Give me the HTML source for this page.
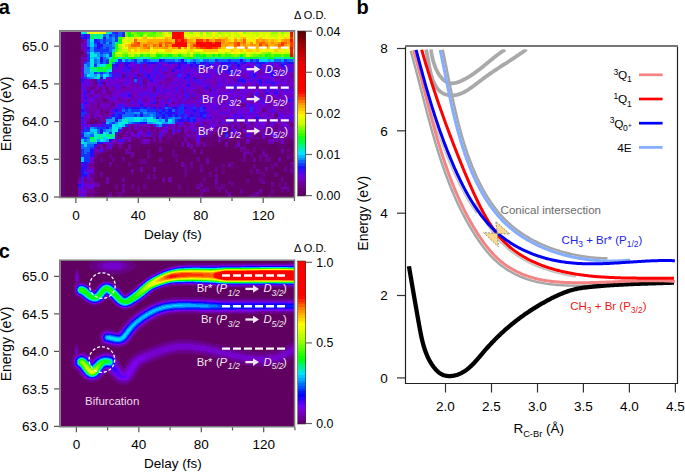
<!DOCTYPE html>
<html><head><meta charset="utf-8"><style>
html,body{margin:0;padding:0;background:#fff;width:685px;height:472px;overflow:hidden;}
svg{display:block;font-family:"Liberation Sans", sans-serif;}
</style></head><body>
<svg width="685" height="472" viewBox="0 0 685 472" font-family='"Liberation Sans", sans-serif'><defs><filter id="bl" x="0" y="0" width="1" height="1"><feGaussianBlur stdDeviation="0.7"/></filter></defs>
<text x="-1.3" y="14" font-size="20" text-anchor="start" fill="#000" font-weight="bold">a</text>
<text x="-1.3" y="258" font-size="20" text-anchor="start" fill="#000" font-weight="bold">c</text>
<text x="356.6" y="14" font-size="20" text-anchor="start" fill="#000" font-weight="bold">b</text>
<rect x="60.5" y="31.5" width="234" height="166" fill="#5e0062"/>
<g filter="url(#bl)"><g shape-rendering="crispEdges">
<path fill="#5e0062" d="M60.5 31.5h1.8v2.5h-1.8zM65.4 31.5h15.6v2.5h-15.6zM60.5 34h1.8v2.5h-1.8zM65.4 34h15.6v2.5h-15.6zM60.5 36.5h1.8v2.5h-1.8zM65.4 36.5h15.6v2.5h-15.6zM60.5 39h1.8v2.5h-1.8zM65.4 39h15.6v2.5h-15.6zM60.5 41.5h1.8v2.5h-1.8zM65.4 41.5h15.6v2.5h-15.6zM60.5 44h1.8v2.5h-1.8zM65.4 44h15.6v2.5h-15.6zM60.5 46.5h1.8v2.5h-1.8zM65.4 46.5h15.6v2.5h-15.6zM60.5 49h1.8v2.5h-1.8zM65.4 49h15.6v2.5h-15.6zM60.5 51.5h1.8v2.5h-1.8zM65.4 51.5h15.6v2.5h-15.6zM60.5 54h1.8v2.5h-1.8zM65.4 54h15.6v2.5h-15.6zM60.5 56.5h1.8v2.5h-1.8zM65.4 56.5h15.6v2.5h-15.6zM60.5 59h1.8v2.5h-1.8zM65.4 59h15.6v2.5h-15.6zM60.5 61.5h1.8v2.5h-1.8zM65.4 61.5h15.6v2.5h-15.6zM60.5 64h1.8v2.5h-1.8zM65.4 64h15.6v2.5h-15.6zM60.5 66.5h1.8v2.5h-1.8zM65.4 66.5h15.6v2.5h-15.6zM60.5 69h1.8v2.5h-1.8zM65.4 69h15.6v2.5h-15.6zM60.5 71.5h1.8v2.5h-1.8zM65.4 71.5h15.6v2.5h-15.6zM60.5 74h1.8v2.5h-1.8zM65.4 74h15.6v2.5h-15.6zM60.5 76.5h1.8v2.5h-1.8zM65.4 76.5h15.6v2.5h-15.6zM60.5 79h1.8v2.5h-1.8zM65.4 79h15.6v2.5h-15.6zM60.5 81.5h1.8v2.5h-1.8zM65.4 81.5h15.6v2.5h-15.6zM60.5 84h1.8v2.5h-1.8zM65.4 84h15.6v2.5h-15.6zM60.5 86.5h1.8v2.5h-1.8zM65.4 86.5h15.6v2.5h-15.6zM60.5 89h1.8v2.5h-1.8zM65.4 89h15.6v2.5h-15.6zM60.5 91.5h1.8v2.5h-1.8zM65.4 91.5h15.6v2.5h-15.6zM60.5 94h1.8v2.5h-1.8zM65.4 94h15.6v2.5h-15.6zM60.5 96.5h1.8v2.5h-1.8zM65.4 96.5h15.6v2.5h-15.6zM60.5 99h1.8v2.5h-1.8zM65.4 99h15.6v2.5h-15.6zM60.5 101.5h1.8v2.5h-1.8zM65.4 101.5h15.6v2.5h-15.6zM60.5 104h1.8v2.5h-1.8zM65.4 104h15.6v2.5h-15.6zM60.5 106.5h1.8v2.5h-1.8zM65.4 106.5h15.6v2.5h-15.6zM60.5 109h1.8v2.5h-1.8zM65.4 109h15.6v2.5h-15.6zM60.5 111.5h1.8v2.5h-1.8zM65.4 111.5h15.6v2.5h-15.6zM60.5 114h1.8v2.5h-1.8zM65.4 114h15.6v2.5h-15.6zM60.5 116.5h1.8v2.5h-1.8zM65.4 116.5h15.6v2.5h-15.6zM60.5 119h1.8v2.5h-1.8zM65.4 119h15.6v2.5h-15.6zM60.5 121.5h1.8v2.5h-1.8zM65.4 121.5h15.6v2.5h-15.6zM60.5 124h1.8v2.5h-1.8zM65.4 124h15.6v2.5h-15.6zM60.5 126.5h1.8v2.5h-1.8zM65.4 126.5h15.6v2.5h-15.6zM60.5 129h1.8v2.5h-1.8zM65.4 129h15.6v2.5h-15.6zM60.5 131.5h1.8v2.5h-1.8zM65.4 131.5h15.6v2.5h-15.6zM60.5 134h1.8v2.5h-1.8zM65.4 134h15.6v2.5h-15.6zM60.5 136.5h1.8v2.5h-1.8zM65.4 136.5h15.6v2.5h-15.6zM60.5 139h1.8v2.5h-1.8zM65.4 139h15.6v2.5h-15.6zM60.5 141.5h1.8v2.5h-1.8zM65.4 141.5h15.6v2.5h-15.6zM60.5 144h1.8v2.5h-1.8zM65.4 144h15.6v2.5h-15.6zM60.5 146.5h1.8v2.5h-1.8zM65.4 146.5h15.6v2.5h-15.6zM143.4 146.5h3.1v2.5h-3.1zM152.8 146.5h3.1v2.5h-3.1zM165.2 146.5h3.2v2.5h-3.2zM171.5 146.5h3.1v2.5h-3.1zM274.4 146.5h3.2v2.5h-3.2zM60.5 149h1.8v2.5h-1.8zM65.4 149h15.6v2.5h-15.6zM112.2 149h3.1v2.5h-3.1zM149.6 149h3.2v2.5h-3.2zM165.2 149h6.3v2.5h-6.3zM184 149h9.3v2.5h-9.3zM196.4 149h3.2v2.5h-3.2zM202.7 149h3.1v2.5h-3.1zM212 149h3.2v2.5h-3.2zM218.3 149h3.1v2.5h-3.1zM230.8 149h6.2v2.5h-6.2zM249.5 149h3.1v2.5h-3.1zM268.2 149h3.1v2.5h-3.1zM60.5 151.5h1.8v2.5h-1.8zM65.4 151.5h15.6v2.5h-15.6zM121.6 151.5h3.1v2.5h-3.1zM149.6 151.5h3.2v2.5h-3.2zM155.9 151.5h3.1v2.5h-3.1zM162.1 151.5h3.1v2.5h-3.1zM177.7 151.5h3.1v2.5h-3.1zM184 151.5h3.1v2.5h-3.1zM196.4 151.5h3.2v2.5h-3.2zM202.7 151.5h3.1v2.5h-3.1zM212 151.5h3.2v2.5h-3.2zM230.8 151.5h3.1v2.5h-3.1zM255.7 151.5h3.1v2.5h-3.1zM60.5 154h1.8v2.5h-1.8zM65.4 154h15.6v2.5h-15.6zM112.2 154h3.1v2.5h-3.1zM118.4 154h3.2v2.5h-3.2zM124.7 154h3.1v2.5h-3.1zM134 154h6.3v2.5h-6.3zM143.4 154h3.1v2.5h-3.1zM155.9 154h6.2v2.5h-6.2zM193.3 154h3.1v2.5h-3.1zM212 154h3.2v2.5h-3.2zM221.4 154h6.2v2.5h-6.2zM252.6 154h3.1v2.5h-3.1zM60.5 156.5h1.8v2.5h-1.8zM65.4 156.5h15.6v2.5h-15.6zM124.7 156.5h3.1v2.5h-3.1zM134 156.5h3.2v2.5h-3.2zM143.4 156.5h3.1v2.5h-3.1zM152.8 156.5h6.2v2.5h-6.2zM199.6 156.5h3.1v2.5h-3.1zM212 156.5h15.6v2.5h-15.6zM262 156.5h3.1v2.5h-3.1zM290 156.5h3.2v2.5h-3.2zM60.5 159h1.8v2.5h-1.8zM65.4 159h15.6v2.5h-15.6zM124.7 159h12.5v2.5h-12.5zM146.5 159h3.1v2.5h-3.1zM152.8 159h3.1v2.5h-3.1zM168.4 159h3.1v2.5h-3.1zM177.7 159h3.1v2.5h-3.1zM193.3 159h3.1v2.5h-3.1zM199.6 159h3.1v2.5h-3.1zM212 159h9.4v2.5h-9.4zM224.5 159h3.1v2.5h-3.1zM230.8 159h9.3v2.5h-9.3zM255.7 159h3.1v2.5h-3.1zM274.4 159h3.2v2.5h-3.2zM290 159h3.2v2.5h-3.2zM60.5 161.5h1.8v2.5h-1.8zM65.4 161.5h15.6v2.5h-15.6zM106 161.5h3.1v2.5h-3.1zM112.2 161.5h3.1v2.5h-3.1zM124.7 161.5h3.1v2.5h-3.1zM134 161.5h3.2v2.5h-3.2zM152.8 161.5h3.1v2.5h-3.1zM162.1 161.5h6.3v2.5h-6.3zM174.6 161.5h6.2v2.5h-6.2zM215.2 161.5h3.1v2.5h-3.1zM224.5 161.5h3.1v2.5h-3.1zM233.9 161.5h6.2v2.5h-6.2zM249.5 161.5h12.5v2.5h-12.5zM271.3 161.5h3.1v2.5h-3.1zM60.5 164h1.8v2.5h-1.8zM65.4 164h15.6v2.5h-15.6zM99.7 164h3.1v2.5h-3.1zM112.2 164h3.1v2.5h-3.1zM124.7 164h3.1v2.5h-3.1zM152.8 164h6.2v2.5h-6.2zM171.5 164h3.1v2.5h-3.1zM208.9 164h3.1v2.5h-3.1zM215.2 164h3.1v2.5h-3.1zM224.5 164h3.1v2.5h-3.1zM249.5 164h3.1v2.5h-3.1zM277.6 164h3.1v2.5h-3.1zM60.5 166.5h1.8v2.5h-1.8zM65.4 166.5h15.6v2.5h-15.6zM99.7 166.5h3.1v2.5h-3.1zM106 166.5h3.1v2.5h-3.1zM118.4 166.5h6.3v2.5h-6.3zM127.8 166.5h3.1v2.5h-3.1zM149.6 166.5h3.2v2.5h-3.2zM155.9 166.5h3.1v2.5h-3.1zM171.5 166.5h3.1v2.5h-3.1zM208.9 166.5h3.1v2.5h-3.1zM224.5 166.5h6.3v2.5h-6.3zM246.4 166.5h6.2v2.5h-6.2zM258.8 166.5h3.2v2.5h-3.2zM274.4 166.5h3.2v2.5h-3.2zM60.5 169h1.8v2.5h-1.8zM65.4 169h15.6v2.5h-15.6zM102.8 169h9.4v2.5h-9.4zM121.6 169h3.1v2.5h-3.1zM143.4 169h3.1v2.5h-3.1zM149.6 169h3.2v2.5h-3.2zM155.9 169h12.5v2.5h-12.5zM171.5 169h3.1v2.5h-3.1zM177.7 169h3.1v2.5h-3.1zM193.3 169h3.1v2.5h-3.1zM205.8 169h6.2v2.5h-6.2zM224.5 169h12.5v2.5h-12.5zM243.2 169h3.2v2.5h-3.2zM252.6 169h3.1v2.5h-3.1zM262 169h3.1v2.5h-3.1zM268.2 169h3.1v2.5h-3.1zM274.4 169h6.3v2.5h-6.3zM60.5 171.5h1.8v2.5h-1.8zM65.4 171.5h12.5v2.5h-12.5zM102.8 171.5h6.3v2.5h-6.3zM115.3 171.5h3.1v2.5h-3.1zM121.6 171.5h3.1v2.5h-3.1zM137.2 171.5h3.1v2.5h-3.1zM143.4 171.5h3.1v2.5h-3.1zM149.6 171.5h3.2v2.5h-3.2zM155.9 171.5h12.5v2.5h-12.5zM171.5 171.5h3.1v2.5h-3.1zM177.7 171.5h3.1v2.5h-3.1zM193.3 171.5h3.1v2.5h-3.1zM212 171.5h3.2v2.5h-3.2zM218.3 171.5h3.1v2.5h-3.1zM224.5 171.5h3.1v2.5h-3.1zM230.8 171.5h6.2v2.5h-6.2zM243.2 171.5h3.2v2.5h-3.2zM277.6 171.5h6.2v2.5h-6.2zM286.9 171.5h3.1v2.5h-3.1zM293.2 171.5h1.3v2.5h-1.3zM60.5 174h1.8v2.5h-1.8zM65.4 174h12.5v2.5h-12.5zM102.8 174h3.2v2.5h-3.2zM109.1 174h3.1v2.5h-3.1zM134 174h6.3v2.5h-6.3zM149.6 174h3.2v2.5h-3.2zM155.9 174h6.2v2.5h-6.2zM165.2 174h3.2v2.5h-3.2zM171.5 174h12.5v2.5h-12.5zM187.1 174h9.3v2.5h-9.3zM212 174h3.2v2.5h-3.2zM218.3 174h6.2v2.5h-6.2zM233.9 174h3.1v2.5h-3.1zM240.1 174h3.1v2.5h-3.1zM246.4 174h3.1v2.5h-3.1zM268.2 174h3.1v2.5h-3.1zM280.7 174h3.1v2.5h-3.1zM60.5 176.5h1.8v2.5h-1.8zM65.4 176.5h12.5v2.5h-12.5zM96.6 176.5h9.4v2.5h-9.4zM115.3 176.5h6.3v2.5h-6.3zM143.4 176.5h3.1v2.5h-3.1zM149.6 176.5h3.2v2.5h-3.2zM159 176.5h3.1v2.5h-3.1zM165.2 176.5h3.2v2.5h-3.2zM171.5 176.5h3.1v2.5h-3.1zM180.8 176.5h3.2v2.5h-3.2zM187.1 176.5h6.2v2.5h-6.2zM196.4 176.5h3.2v2.5h-3.2zM205.8 176.5h6.2v2.5h-6.2zM218.3 176.5h6.2v2.5h-6.2zM227.6 176.5h3.2v2.5h-3.2zM240.1 176.5h12.5v2.5h-12.5zM262 176.5h9.3v2.5h-9.3zM274.4 176.5h6.3v2.5h-6.3zM283.8 176.5h3.1v2.5h-3.1zM60.5 179h1.8v2.5h-1.8zM65.4 179h12.5v2.5h-12.5zM96.6 179h3.1v2.5h-3.1zM112.2 179h6.2v2.5h-6.2zM124.7 179h3.1v2.5h-3.1zM134 179h3.2v2.5h-3.2zM159 179h3.1v2.5h-3.1zM165.2 179h3.2v2.5h-3.2zM177.7 179h3.1v2.5h-3.1zM187.1 179h6.2v2.5h-6.2zM199.6 179h3.1v2.5h-3.1zM205.8 179h6.2v2.5h-6.2zM218.3 179h9.3v2.5h-9.3zM230.8 179h3.1v2.5h-3.1zM240.1 179h6.3v2.5h-6.3zM249.5 179h3.1v2.5h-3.1zM268.2 179h3.1v2.5h-3.1zM274.4 179h6.3v2.5h-6.3zM283.8 179h3.1v2.5h-3.1zM60.5 181.5h1.8v2.5h-1.8zM65.4 181.5h12.5v2.5h-12.5zM109.1 181.5h3.1v2.5h-3.1zM115.3 181.5h3.1v2.5h-3.1zM124.7 181.5h3.1v2.5h-3.1zM134 181.5h3.2v2.5h-3.2zM146.5 181.5h15.6v2.5h-15.6zM165.2 181.5h3.2v2.5h-3.2zM171.5 181.5h3.1v2.5h-3.1zM177.7 181.5h3.1v2.5h-3.1zM184 181.5h3.1v2.5h-3.1zM190.2 181.5h3.1v2.5h-3.1zM196.4 181.5h3.2v2.5h-3.2zM212 181.5h3.2v2.5h-3.2zM224.5 181.5h3.1v2.5h-3.1zM240.1 181.5h3.1v2.5h-3.1zM249.5 181.5h3.1v2.5h-3.1zM268.2 181.5h3.1v2.5h-3.1zM274.4 181.5h3.2v2.5h-3.2zM286.9 181.5h7.6v2.5h-7.6zM60.5 184h1.8v2.5h-1.8zM65.4 184h12.5v2.5h-12.5zM99.7 184h3.1v2.5h-3.1zM109.1 184h3.1v2.5h-3.1zM118.4 184h3.2v2.5h-3.2zM134 184h3.2v2.5h-3.2zM140.3 184h3.1v2.5h-3.1zM146.5 184h6.3v2.5h-6.3zM159 184h3.1v2.5h-3.1zM165.2 184h9.4v2.5h-9.4zM180.8 184h6.3v2.5h-6.3zM190.2 184h3.1v2.5h-3.1zM202.7 184h3.1v2.5h-3.1zM227.6 184h3.2v2.5h-3.2zM246.4 184h3.1v2.5h-3.1zM255.7 184h15.6v2.5h-15.6zM274.4 184h3.2v2.5h-3.2zM286.9 184h6.3v2.5h-6.3zM60.5 186.5h1.8v2.5h-1.8zM65.4 186.5h12.5v2.5h-12.5zM106 186.5h9.3v2.5h-9.3zM118.4 186.5h3.2v2.5h-3.2zM127.8 186.5h3.1v2.5h-3.1zM140.3 186.5h3.1v2.5h-3.1zM146.5 186.5h6.3v2.5h-6.3zM165.2 186.5h6.3v2.5h-6.3zM174.6 186.5h3.1v2.5h-3.1zM184 186.5h3.1v2.5h-3.1zM190.2 186.5h6.2v2.5h-6.2zM227.6 186.5h3.2v2.5h-3.2zM240.1 186.5h3.1v2.5h-3.1zM255.7 186.5h3.1v2.5h-3.1zM265.1 186.5h3.1v2.5h-3.1zM271.3 186.5h3.1v2.5h-3.1zM277.6 186.5h3.1v2.5h-3.1zM290 186.5h4.5v2.5h-4.5zM60.5 189h1.8v2.5h-1.8zM65.4 189h12.5v2.5h-12.5zM106 189h9.3v2.5h-9.3zM118.4 189h3.2v2.5h-3.2zM124.7 189h9.3v2.5h-9.3zM140.3 189h6.2v2.5h-6.2zM149.6 189h3.2v2.5h-3.2zM155.9 189h6.2v2.5h-6.2zM165.2 189h6.3v2.5h-6.3zM174.6 189h3.1v2.5h-3.1zM184 189h3.1v2.5h-3.1zM190.2 189h9.4v2.5h-9.4zM208.9 189h6.3v2.5h-6.3zM221.4 189h3.1v2.5h-3.1zM227.6 189h3.2v2.5h-3.2zM233.9 189h3.1v2.5h-3.1zM249.5 189h3.1v2.5h-3.1zM265.1 189h3.1v2.5h-3.1zM274.4 189h6.3v2.5h-6.3zM60.5 191.5h1.8v2.5h-1.8zM65.4 191.5h12.5v2.5h-12.5zM102.8 191.5h3.2v2.5h-3.2zM112.2 191.5h3.1v2.5h-3.1zM127.8 191.5h9.4v2.5h-9.4zM149.6 191.5h3.2v2.5h-3.2zM159 191.5h3.1v2.5h-3.1zM165.2 191.5h6.3v2.5h-6.3zM180.8 191.5h6.3v2.5h-6.3zM190.2 191.5h3.1v2.5h-3.1zM202.7 191.5h3.1v2.5h-3.1zM208.9 191.5h6.3v2.5h-6.3zM218.3 191.5h6.2v2.5h-6.2zM233.9 191.5h6.2v2.5h-6.2zM249.5 191.5h3.1v2.5h-3.1zM265.1 191.5h3.1v2.5h-3.1zM274.4 191.5h6.3v2.5h-6.3zM283.8 191.5h3.1v2.5h-3.1zM290 191.5h4.5v2.5h-4.5zM60.5 194h1.8v2.5h-1.8zM65.4 194h12.5v2.5h-12.5zM99.7 194h6.3v2.5h-6.3zM112.2 194h3.1v2.5h-3.1zM121.6 194h3.1v2.5h-3.1zM134 194h6.3v2.5h-6.3zM146.5 194h3.1v2.5h-3.1zM159 194h12.5v2.5h-12.5zM193.3 194h3.1v2.5h-3.1zM202.7 194h3.1v2.5h-3.1zM208.9 194h6.3v2.5h-6.3zM221.4 194h3.1v2.5h-3.1zM233.9 194h3.1v2.5h-3.1zM243.2 194h3.2v2.5h-3.2zM258.8 194h9.4v2.5h-9.4zM274.4 194h6.3v2.5h-6.3zM283.8 194h10.7v2.5h-10.7zM60.5 196.5h1.8v0.5h-1.8zM65.4 196.5h12.5v0.5h-12.5zM99.7 196.5h6.3v0.5h-6.3zM115.3 196.5h3.1v0.5h-3.1zM127.8 196.5h3.1v0.5h-3.1zM137.2 196.5h3.1v0.5h-3.1zM146.5 196.5h3.1v0.5h-3.1zM168.4 196.5h3.1v0.5h-3.1zM174.6 196.5h3.1v0.5h-3.1zM187.1 196.5h3.1v0.5h-3.1zM196.4 196.5h6.3v0.5h-6.3zM205.8 196.5h3.1v0.5h-3.1zM218.3 196.5h9.3v0.5h-9.3zM233.9 196.5h3.1v0.5h-3.1zM243.2 196.5h3.2v0.5h-3.2zM252.6 196.5h3.1v0.5h-3.1zM262 196.5h6.2v0.5h-6.2zM271.3 196.5h9.4v0.5h-9.4zM283.8 196.5h3.1v0.5h-3.1zM290 196.5h4.5v0.5h-4.5z"/>
<path fill="#660077" d="M62.3 31.5h3.1v2.5h-3.1zM62.3 34h3.1v2.5h-3.1zM62.3 36.5h3.1v2.5h-3.1zM62.3 39h3.1v2.5h-3.1zM62.3 41.5h3.1v2.5h-3.1zM62.3 44h3.1v2.5h-3.1zM62.3 46.5h3.1v2.5h-3.1zM62.3 49h3.1v2.5h-3.1zM62.3 51.5h3.1v2.5h-3.1zM62.3 54h3.1v2.5h-3.1zM62.3 56.5h3.1v2.5h-3.1zM62.3 59h3.1v2.5h-3.1zM62.3 61.5h3.1v2.5h-3.1zM62.3 64h3.1v2.5h-3.1zM62.3 66.5h3.1v2.5h-3.1zM62.3 69h3.1v2.5h-3.1zM62.3 71.5h3.1v2.5h-3.1zM62.3 74h3.1v2.5h-3.1zM62.3 76.5h3.1v2.5h-3.1zM62.3 79h3.1v2.5h-3.1zM62.3 81.5h3.1v2.5h-3.1zM102.8 81.5h3.2v2.5h-3.2zM62.3 84h3.1v2.5h-3.1zM62.3 86.5h3.1v2.5h-3.1zM90.4 86.5h3.1v2.5h-3.1zM62.3 89h3.1v2.5h-3.1zM62.3 91.5h3.1v2.5h-3.1zM62.3 94h3.1v2.5h-3.1zM62.3 96.5h3.1v2.5h-3.1zM62.3 99h3.1v2.5h-3.1zM102.8 99h3.2v2.5h-3.2zM62.3 101.5h3.1v2.5h-3.1zM62.3 104h3.1v2.5h-3.1zM62.3 106.5h3.1v2.5h-3.1zM62.3 109h3.1v2.5h-3.1zM99.7 109h3.1v2.5h-3.1zM262 109h3.1v2.5h-3.1zM62.3 111.5h3.1v2.5h-3.1zM62.3 114h3.1v2.5h-3.1zM274.4 114h3.2v2.5h-3.2zM62.3 116.5h3.1v2.5h-3.1zM62.3 119h3.1v2.5h-3.1zM90.4 119h6.2v2.5h-6.2zM62.3 121.5h3.1v2.5h-3.1zM87.2 121.5h3.2v2.5h-3.2zM93.5 121.5h3.1v2.5h-3.1zM240.1 121.5h3.1v2.5h-3.1zM62.3 124h3.1v2.5h-3.1zM290 124h3.2v2.5h-3.2zM62.3 126.5h3.1v2.5h-3.1zM149.6 126.5h3.2v2.5h-3.2zM227.6 126.5h3.2v2.5h-3.2zM233.9 126.5h3.1v2.5h-3.1zM243.2 126.5h3.2v2.5h-3.2zM274.4 126.5h3.2v2.5h-3.2zM62.3 129h3.1v2.5h-3.1zM155.9 129h3.1v2.5h-3.1zM168.4 129h3.1v2.5h-3.1zM180.8 129h3.2v2.5h-3.2zM218.3 129h3.1v2.5h-3.1zM227.6 129h3.2v2.5h-3.2zM246.4 129h3.1v2.5h-3.1zM268.2 129h3.1v2.5h-3.1zM62.3 131.5h3.1v2.5h-3.1zM121.6 131.5h3.1v2.5h-3.1zM134 131.5h3.2v2.5h-3.2zM168.4 131.5h3.1v2.5h-3.1zM180.8 131.5h3.2v2.5h-3.2zM218.3 131.5h6.2v2.5h-6.2zM255.7 131.5h3.1v2.5h-3.1zM280.7 131.5h3.1v2.5h-3.1zM62.3 134h3.1v2.5h-3.1zM118.4 134h3.2v2.5h-3.2zM165.2 134h3.2v2.5h-3.2zM177.7 134h3.1v2.5h-3.1zM212 134h6.3v2.5h-6.3zM240.1 134h3.1v2.5h-3.1zM255.7 134h6.3v2.5h-6.3zM62.3 136.5h3.1v2.5h-3.1zM146.5 136.5h6.3v2.5h-6.3zM155.9 136.5h3.1v2.5h-3.1zM171.5 136.5h3.1v2.5h-3.1zM180.8 136.5h3.2v2.5h-3.2zM205.8 136.5h9.4v2.5h-9.4zM230.8 136.5h3.1v2.5h-3.1zM237 136.5h3.1v2.5h-3.1zM258.8 136.5h3.2v2.5h-3.2zM268.2 136.5h6.2v2.5h-6.2zM286.9 136.5h3.1v2.5h-3.1zM62.3 139h3.1v2.5h-3.1zM130.9 139h9.4v2.5h-9.4zM149.6 139h3.2v2.5h-3.2zM155.9 139h3.1v2.5h-3.1zM162.1 139h21.9v2.5h-21.9zM187.1 139h6.2v2.5h-6.2zM199.6 139h18.7v2.5h-18.7zM221.4 139h25v2.5h-25zM249.5 139h18.7v2.5h-18.7zM283.8 139h10.7v2.5h-10.7zM62.3 141.5h3.1v2.5h-3.1zM124.7 141.5h6.2v2.5h-6.2zM134 141.5h3.2v2.5h-3.2zM149.6 141.5h3.2v2.5h-3.2zM155.9 141.5h15.6v2.5h-15.6zM174.6 141.5h3.1v2.5h-3.1zM184 141.5h3.1v2.5h-3.1zM190.2 141.5h6.2v2.5h-6.2zM199.6 141.5h3.1v2.5h-3.1zM205.8 141.5h9.4v2.5h-9.4zM218.3 141.5h3.1v2.5h-3.1zM243.2 141.5h3.2v2.5h-3.2zM255.7 141.5h9.4v2.5h-9.4zM283.8 141.5h10.7v2.5h-10.7zM62.3 144h3.1v2.5h-3.1zM102.8 144h3.2v2.5h-3.2zM115.3 144h3.1v2.5h-3.1zM134 144h6.3v2.5h-6.3zM143.4 144h6.2v2.5h-6.2zM155.9 144h3.1v2.5h-3.1zM174.6 144h3.1v2.5h-3.1zM193.3 144h3.1v2.5h-3.1zM199.6 144h3.1v2.5h-3.1zM205.8 144h9.4v2.5h-9.4zM243.2 144h3.2v2.5h-3.2zM255.7 144h3.1v2.5h-3.1zM277.6 144h9.3v2.5h-9.3zM293.2 144h1.3v2.5h-1.3zM62.3 146.5h3.1v2.5h-3.1zM121.6 146.5h3.1v2.5h-3.1zM130.9 146.5h3.1v2.5h-3.1zM137.2 146.5h3.1v2.5h-3.1zM258.8 146.5h3.2v2.5h-3.2zM280.7 146.5h3.1v2.5h-3.1zM62.3 149h3.1v2.5h-3.1zM109.1 149h3.1v2.5h-3.1zM62.3 151.5h3.1v2.5h-3.1zM102.8 151.5h3.2v2.5h-3.2zM286.9 151.5h3.1v2.5h-3.1zM62.3 154h3.1v2.5h-3.1zM96.6 154h3.1v2.5h-3.1zM62.3 156.5h3.1v2.5h-3.1zM174.6 156.5h3.1v2.5h-3.1zM184 156.5h3.1v2.5h-3.1zM62.3 159h3.1v2.5h-3.1zM93.5 159h3.1v2.5h-3.1zM102.8 159h3.2v2.5h-3.2zM137.2 159h3.1v2.5h-3.1zM240.1 159h3.1v2.5h-3.1zM62.3 161.5h3.1v2.5h-3.1zM93.5 161.5h3.1v2.5h-3.1zM137.2 161.5h3.1v2.5h-3.1zM62.3 164h3.1v2.5h-3.1zM93.5 164h3.1v2.5h-3.1zM115.3 164h3.1v2.5h-3.1zM230.8 164h3.1v2.5h-3.1zM62.3 166.5h3.1v2.5h-3.1zM93.5 166.5h3.1v2.5h-3.1zM221.4 166.5h3.1v2.5h-3.1zM62.3 169h3.1v2.5h-3.1zM93.5 169h3.1v2.5h-3.1zM221.4 169h3.1v2.5h-3.1zM258.8 169h3.2v2.5h-3.2zM62.3 171.5h3.1v2.5h-3.1zM93.5 171.5h3.1v2.5h-3.1zM62.3 174h3.1v2.5h-3.1zM77.9 174h3.1v2.5h-3.1zM93.5 174h3.1v2.5h-3.1zM62.3 176.5h3.1v2.5h-3.1zM93.5 176.5h3.1v2.5h-3.1zM62.3 179h3.1v2.5h-3.1zM227.6 179h3.2v2.5h-3.2zM62.3 181.5h3.1v2.5h-3.1zM246.4 181.5h3.1v2.5h-3.1zM258.8 181.5h3.2v2.5h-3.2zM277.6 181.5h3.1v2.5h-3.1zM62.3 184h3.1v2.5h-3.1zM62.3 186.5h3.1v2.5h-3.1zM237 186.5h3.1v2.5h-3.1zM62.3 189h3.1v2.5h-3.1zM93.5 189h3.1v2.5h-3.1zM62.3 191.5h3.1v2.5h-3.1zM115.3 191.5h3.1v2.5h-3.1zM187.1 191.5h3.1v2.5h-3.1zM62.3 194h3.1v2.5h-3.1zM87.2 194h3.2v2.5h-3.2zM106 194h3.1v2.5h-3.1zM62.3 196.5h3.1v0.5h-3.1zM87.2 196.5h6.3v0.5h-6.3z"/>
<path fill="#00eae1" d="M81 31.5h6.2v2.5h-6.2zM93.5 36.5h3.1v2.5h-3.1zM90.4 39h3.1v2.5h-3.1zM90.4 51.5h3.1v2.5h-3.1zM90.4 54h6.2v2.5h-6.2zM109.1 56.5h3.1v2.5h-3.1zM140.3 56.5h3.1v2.5h-3.1zM177.7 56.5h3.1v2.5h-3.1zM90.4 59h3.1v2.5h-3.1zM90.4 61.5h3.1v2.5h-3.1zM90.4 64h3.1v2.5h-3.1zM99.7 64h6.3v2.5h-6.3zM109.1 69h3.1v2.5h-3.1zM87.2 74h3.2v2.5h-3.2zM96.6 74h3.1v2.5h-3.1zM102.8 74h3.2v2.5h-3.2zM134 116.5h9.4v2.5h-9.4zM146.5 116.5h6.3v2.5h-6.3zM121.6 119h3.1v2.5h-3.1zM134 119h6.3v2.5h-6.3zM146.5 119h6.3v2.5h-6.3zM168.4 119h3.1v2.5h-3.1zM118.4 121.5h9.4v2.5h-9.4zM155.9 121.5h6.2v2.5h-6.2zM112.2 124h3.1v2.5h-3.1zM118.4 124h3.2v2.5h-3.2zM112.2 126.5h6.2v2.5h-6.2zM112.2 129h6.2v2.5h-6.2zM102.8 131.5h3.2v2.5h-3.2zM112.2 131.5h3.1v2.5h-3.1zM93.5 134h3.1v2.5h-3.1zM102.8 134h3.2v2.5h-3.2zM106 136.5h3.1v2.5h-3.1zM99.7 139h3.1v2.5h-3.1zM81 141.5h3.1v2.5h-3.1z"/>
<path fill="#dcfd00" d="M87.2 31.5h3.2v2.5h-3.2zM99.7 31.5h3.1v2.5h-3.1zM184 31.5h3.1v2.5h-3.1zM193.3 31.5h6.3v2.5h-6.3zM202.7 31.5h3.1v2.5h-3.1zM215.2 31.5h3.1v2.5h-3.1zM230.8 31.5h3.1v2.5h-3.1zM249.5 31.5h3.1v2.5h-3.1zM258.8 31.5h3.2v2.5h-3.2zM265.1 31.5h6.2v2.5h-6.2zM277.6 31.5h3.1v2.5h-3.1zM168.4 34h3.1v2.5h-3.1zM187.1 34h9.3v2.5h-9.3zM218.3 34h3.1v2.5h-3.1zM233.9 34h3.1v2.5h-3.1zM246.4 34h9.3v2.5h-9.3zM262 34h3.1v2.5h-3.1zM268.2 34h3.1v2.5h-3.1zM286.9 34h3.1v2.5h-3.1zM293.2 34h1.3v2.5h-1.3zM130.9 36.5h3.1v2.5h-3.1zM208.9 36.5h3.1v2.5h-3.1zM227.6 36.5h3.2v2.5h-3.2zM237 36.5h3.1v2.5h-3.1zM249.5 36.5h3.1v2.5h-3.1zM268.2 36.5h3.1v2.5h-3.1zM274.4 36.5h3.2v2.5h-3.2zM121.6 39h6.2v2.5h-6.2zM121.6 41.5h3.1v2.5h-3.1zM121.6 46.5h3.1v2.5h-3.1zM193.3 49h3.1v2.5h-3.1zM283.8 49h3.1v2.5h-3.1zM118.4 51.5h3.2v2.5h-3.2zM127.8 51.5h3.1v2.5h-3.1zM134 51.5h3.2v2.5h-3.2zM149.6 51.5h3.2v2.5h-3.2zM174.6 51.5h3.1v2.5h-3.1zM180.8 51.5h6.3v2.5h-6.3zM202.7 51.5h12.5v2.5h-12.5zM221.4 51.5h3.1v2.5h-3.1zM240.1 51.5h3.1v2.5h-3.1zM249.5 51.5h3.1v2.5h-3.1zM255.7 51.5h6.3v2.5h-6.3zM280.7 51.5h3.1v2.5h-3.1z"/>
<path fill="#f3fb00" d="M90.4 31.5h9.3v2.5h-9.3zM165.2 31.5h3.2v2.5h-3.2zM212 31.5h3.2v2.5h-3.2zM237 31.5h6.2v2.5h-6.2zM184 34h3.1v2.5h-3.1zM196.4 34h3.2v2.5h-3.2zM202.7 34h3.1v2.5h-3.1zM224.5 34h3.1v2.5h-3.1zM230.8 34h3.1v2.5h-3.1zM243.2 34h3.2v2.5h-3.2zM258.8 34h3.2v2.5h-3.2zM265.1 34h3.1v2.5h-3.1zM283.8 34h3.1v2.5h-3.1zM124.7 36.5h3.1v2.5h-3.1zM137.2 36.5h3.1v2.5h-3.1zM146.5 36.5h6.3v2.5h-6.3zM187.1 36.5h3.1v2.5h-3.1zM215.2 36.5h3.1v2.5h-3.1zM230.8 36.5h3.1v2.5h-3.1zM246.4 36.5h3.1v2.5h-3.1zM255.7 36.5h3.1v2.5h-3.1zM265.1 36.5h3.1v2.5h-3.1zM271.3 36.5h3.1v2.5h-3.1zM277.6 36.5h3.1v2.5h-3.1zM293.2 36.5h1.3v2.5h-1.3zM124.7 41.5h3.1v2.5h-3.1zM121.6 44h3.1v2.5h-3.1zM124.7 46.5h3.1v2.5h-3.1zM130.9 49h3.1v2.5h-3.1zM149.6 49h3.2v2.5h-3.2zM159 49h6.2v2.5h-6.2zM180.8 49h3.2v2.5h-3.2zM196.4 49h6.3v2.5h-6.3zM218.3 49h3.1v2.5h-3.1zM224.5 49h3.1v2.5h-3.1zM262 49h3.1v2.5h-3.1zM268.2 49h6.2v2.5h-6.2zM286.9 49h3.1v2.5h-3.1zM293.2 49h1.3v2.5h-1.3zM137.2 51.5h3.1v2.5h-3.1zM152.8 51.5h3.1v2.5h-3.1zM171.5 51.5h3.1v2.5h-3.1zM190.2 51.5h3.1v2.5h-3.1zM215.2 51.5h3.1v2.5h-3.1zM230.8 51.5h3.1v2.5h-3.1zM237 51.5h3.1v2.5h-3.1zM246.4 51.5h3.1v2.5h-3.1z"/>
<path fill="#ffec00" d="M102.8 31.5h3.2v2.5h-3.2zM165.2 34h3.2v2.5h-3.2zM212 34h3.2v2.5h-3.2zM240.1 34h3.1v2.5h-3.1zM277.6 34h3.1v2.5h-3.1zM140.3 36.5h3.1v2.5h-3.1zM155.9 36.5h9.3v2.5h-9.3zM199.6 36.5h9.3v2.5h-9.3zM252.6 36.5h3.1v2.5h-3.1zM262 36.5h3.1v2.5h-3.1zM280.7 36.5h3.1v2.5h-3.1zM286.9 36.5h3.1v2.5h-3.1zM130.9 39h3.1v2.5h-3.1zM230.8 39h3.1v2.5h-3.1zM246.4 39h9.3v2.5h-9.3zM277.6 39h3.1v2.5h-3.1zM127.8 41.5h3.1v2.5h-3.1zM252.6 41.5h3.1v2.5h-3.1zM149.6 46.5h3.2v2.5h-3.2zM180.8 46.5h3.2v2.5h-3.2zM187.1 46.5h3.1v2.5h-3.1zM137.2 49h3.1v2.5h-3.1zM152.8 49h6.2v2.5h-6.2zM171.5 49h9.3v2.5h-9.3zM184 49h3.1v2.5h-3.1zM221.4 49h3.1v2.5h-3.1zM227.6 49h3.2v2.5h-3.2zM233.9 49h6.2v2.5h-6.2zM243.2 49h3.2v2.5h-3.2zM252.6 49h3.1v2.5h-3.1zM258.8 49h3.2v2.5h-3.2zM265.1 49h3.1v2.5h-3.1zM277.6 49h6.2v2.5h-6.2zM233.9 51.5h3.1v2.5h-3.1z"/>
<path fill="#00f1a7" d="M106 31.5h3.1v2.5h-3.1zM93.5 34h3.1v2.5h-3.1zM99.7 34h3.1v2.5h-3.1zM99.7 36.5h3.1v2.5h-3.1zM118.4 56.5h3.2v2.5h-3.2zM124.7 56.5h3.1v2.5h-3.1zM137.2 56.5h3.1v2.5h-3.1zM143.4 56.5h6.2v2.5h-6.2zM159 56.5h15.6v2.5h-15.6zM180.8 56.5h3.2v2.5h-3.2zM196.4 56.5h3.2v2.5h-3.2zM212 56.5h9.4v2.5h-9.4zM227.6 56.5h3.2v2.5h-3.2zM237 56.5h3.1v2.5h-3.1zM274.4 56.5h9.4v2.5h-9.4zM286.9 56.5h3.1v2.5h-3.1zM90.4 69h6.2v2.5h-6.2zM106 69h3.1v2.5h-3.1zM96.6 76.5h3.1v2.5h-3.1zM124.7 119h3.1v2.5h-3.1zM152.8 119h3.1v2.5h-3.1zM93.5 131.5h3.1v2.5h-3.1zM96.6 134h6.2v2.5h-6.2zM109.1 134h3.1v2.5h-3.1zM93.5 136.5h6.2v2.5h-6.2zM93.5 139h3.1v2.5h-3.1z"/>
<path fill="#03cdff" d="M109.1 31.5h3.1v2.5h-3.1zM90.4 41.5h3.1v2.5h-3.1zM90.4 44h3.1v2.5h-3.1zM112.2 49h3.1v2.5h-3.1zM106 54h3.1v2.5h-3.1zM90.4 56.5h3.1v2.5h-3.1zM96.6 56.5h3.1v2.5h-3.1zM240.1 56.5h3.1v2.5h-3.1zM115.3 59h3.1v2.5h-3.1zM121.6 59h3.1v2.5h-3.1zM187.1 59h3.1v2.5h-3.1zM199.6 59h3.1v2.5h-3.1zM258.8 59h9.4v2.5h-9.4zM271.3 59h3.1v2.5h-3.1zM96.6 64h3.1v2.5h-3.1zM90.4 71.5h3.1v2.5h-3.1zM90.4 74h3.1v2.5h-3.1zM106 74h3.1v2.5h-3.1zM93.5 76.5h3.1v2.5h-3.1zM102.8 76.5h3.2v2.5h-3.2zM124.7 116.5h9.3v2.5h-9.3zM143.4 116.5h3.1v2.5h-3.1zM127.8 119h6.2v2.5h-6.2zM140.3 119h3.1v2.5h-3.1zM155.9 119h3.1v2.5h-3.1zM162.1 119h3.1v2.5h-3.1zM106 121.5h3.1v2.5h-3.1zM152.8 121.5h3.1v2.5h-3.1zM168.4 121.5h3.1v2.5h-3.1zM115.3 124h3.1v2.5h-3.1zM121.6 124h3.1v2.5h-3.1zM90.4 129h6.2v2.5h-6.2zM87.2 131.5h3.2v2.5h-3.2zM106 131.5h3.1v2.5h-3.1zM102.8 136.5h3.2v2.5h-3.2zM112.2 136.5h3.1v2.5h-3.1zM81 139h3.1v2.5h-3.1zM102.8 139h3.2v2.5h-3.2zM84.1 141.5h3.1v2.5h-3.1zM84.1 144h3.1v2.5h-3.1zM81 156.5h3.1v2.5h-3.1zM81 159h3.1v2.5h-3.1z"/>
<path fill="#1533ff" d="M112.2 31.5h3.1v2.5h-3.1zM121.6 31.5h3.1v2.5h-3.1zM81 34h3.1v2.5h-3.1zM109.1 34h3.1v2.5h-3.1zM115.3 34h3.1v2.5h-3.1zM87.2 36.5h3.2v2.5h-3.2zM115.3 36.5h3.1v2.5h-3.1zM96.6 39h3.1v2.5h-3.1zM102.8 39h3.2v2.5h-3.2zM115.3 39h3.1v2.5h-3.1zM93.5 41.5h3.1v2.5h-3.1zM102.8 41.5h3.2v2.5h-3.2zM109.1 41.5h3.1v2.5h-3.1zM93.5 46.5h3.1v2.5h-3.1zM99.7 46.5h3.1v2.5h-3.1zM106 46.5h3.1v2.5h-3.1zM87.2 49h3.2v2.5h-3.2zM93.5 49h15.6v2.5h-15.6zM99.7 51.5h3.1v2.5h-3.1zM109.1 51.5h3.1v2.5h-3.1zM87.2 54h3.2v2.5h-3.2zM109.1 54h3.1v2.5h-3.1zM87.2 56.5h3.2v2.5h-3.2zM87.2 59h3.2v2.5h-3.2zM106 59h3.1v2.5h-3.1zM118.4 59h3.2v2.5h-3.2zM134 59h3.2v2.5h-3.2zM143.4 59h3.1v2.5h-3.1zM162.1 59h3.1v2.5h-3.1zM215.2 59h3.1v2.5h-3.1zM227.6 59h3.2v2.5h-3.2zM249.5 59h3.1v2.5h-3.1zM255.7 59h3.1v2.5h-3.1zM283.8 59h3.1v2.5h-3.1zM84.1 61.5h3.1v2.5h-3.1zM99.7 61.5h3.1v2.5h-3.1zM106 61.5h3.1v2.5h-3.1zM115.3 61.5h3.1v2.5h-3.1zM140.3 61.5h3.1v2.5h-3.1zM190.2 61.5h3.1v2.5h-3.1zM208.9 61.5h6.3v2.5h-6.3zM237 61.5h3.1v2.5h-3.1zM265.1 61.5h3.1v2.5h-3.1zM280.7 61.5h3.1v2.5h-3.1zM93.5 64h3.1v2.5h-3.1zM202.7 64h3.1v2.5h-3.1zM227.6 64h3.2v2.5h-3.2zM255.7 64h3.1v2.5h-3.1zM93.5 71.5h3.1v2.5h-3.1zM99.7 71.5h3.1v2.5h-3.1zM109.1 71.5h3.1v2.5h-3.1zM230.8 71.5h3.1v2.5h-3.1zM177.7 74h3.1v2.5h-3.1zM84.1 76.5h3.1v2.5h-3.1zM96.6 79h3.1v2.5h-3.1zM81 104h3.1v2.5h-3.1zM180.8 104h3.2v2.5h-3.2zM81 106.5h3.1v2.5h-3.1zM121.6 106.5h3.1v2.5h-3.1zM127.8 106.5h3.1v2.5h-3.1zM140.3 106.5h3.1v2.5h-3.1zM146.5 106.5h3.1v2.5h-3.1zM168.4 106.5h3.1v2.5h-3.1zM177.7 106.5h6.3v2.5h-6.3zM193.3 106.5h3.1v2.5h-3.1zM199.6 106.5h3.1v2.5h-3.1zM249.5 106.5h3.1v2.5h-3.1zM124.7 109h3.1v2.5h-3.1zM130.9 109h9.4v2.5h-9.4zM146.5 109h9.4v2.5h-9.4zM159 109h3.1v2.5h-3.1zM165.2 109h3.2v2.5h-3.2zM177.7 109h6.3v2.5h-6.3zM199.6 109h3.1v2.5h-3.1zM249.5 109h3.1v2.5h-3.1zM81 111.5h6.2v2.5h-6.2zM115.3 111.5h6.3v2.5h-6.3zM140.3 111.5h3.1v2.5h-3.1zM155.9 111.5h3.1v2.5h-3.1zM162.1 111.5h3.1v2.5h-3.1zM177.7 111.5h6.3v2.5h-6.3zM81 114h3.1v2.5h-3.1zM115.3 114h3.1v2.5h-3.1zM134 114h3.2v2.5h-3.2zM155.9 114h6.2v2.5h-6.2zM165.2 114h3.2v2.5h-3.2zM171.5 114h3.1v2.5h-3.1zM177.7 114h3.1v2.5h-3.1zM184 114h3.1v2.5h-3.1zM202.7 114h3.1v2.5h-3.1zM109.1 116.5h3.1v2.5h-3.1zM165.2 116.5h3.2v2.5h-3.2zM184 116.5h3.1v2.5h-3.1zM190.2 116.5h6.2v2.5h-6.2zM165.2 119h3.2v2.5h-3.2zM174.6 119h3.1v2.5h-3.1zM190.2 119h3.1v2.5h-3.1zM112.2 121.5h3.1v2.5h-3.1zM134 121.5h6.3v2.5h-6.3zM106 124h6.2v2.5h-6.2zM124.7 124h3.1v2.5h-3.1zM84.1 126.5h3.1v2.5h-3.1zM96.6 126.5h9.4v2.5h-9.4zM84.1 129h6.3v2.5h-6.3zM81 131.5h3.1v2.5h-3.1zM109.1 131.5h3.1v2.5h-3.1zM202.7 131.5h3.1v2.5h-3.1zM224.5 134h3.1v2.5h-3.1zM81 136.5h6.2v2.5h-6.2zM90.4 146.5h3.1v2.5h-3.1zM81 149h3.1v2.5h-3.1zM81 151.5h3.1v2.5h-3.1zM87.2 151.5h3.2v2.5h-3.2zM81 154h9.4v2.5h-9.4zM84.1 156.5h6.3v2.5h-6.3zM84.1 159h6.3v2.5h-6.3zM84.1 171.5h3.1v2.5h-3.1z"/>
<path fill="#4709ef" d="M115.3 31.5h3.1v2.5h-3.1zM87.2 34h3.2v2.5h-3.2zM121.6 34h3.1v2.5h-3.1zM118.4 61.5h6.3v2.5h-6.3zM134 61.5h3.2v2.5h-3.2zM143.4 61.5h3.1v2.5h-3.1zM155.9 61.5h3.1v2.5h-3.1zM162.1 61.5h6.3v2.5h-6.3zM174.6 61.5h3.1v2.5h-3.1zM205.8 61.5h3.1v2.5h-3.1zM218.3 61.5h3.1v2.5h-3.1zM230.8 61.5h3.1v2.5h-3.1zM240.1 61.5h3.1v2.5h-3.1zM249.5 61.5h6.2v2.5h-6.2zM271.3 61.5h3.1v2.5h-3.1zM277.6 61.5h3.1v2.5h-3.1zM283.8 61.5h3.1v2.5h-3.1zM112.2 64h3.1v2.5h-3.1zM140.3 64h3.1v2.5h-3.1zM146.5 64h3.1v2.5h-3.1zM155.9 64h6.2v2.5h-6.2zM184 64h3.1v2.5h-3.1zM193.3 64h3.1v2.5h-3.1zM212 64h3.2v2.5h-3.2zM224.5 64h3.1v2.5h-3.1zM233.9 64h3.1v2.5h-3.1zM258.8 64h3.2v2.5h-3.2zM271.3 64h3.1v2.5h-3.1zM112.2 66.5h6.2v2.5h-6.2zM121.6 66.5h6.2v2.5h-6.2zM140.3 66.5h3.1v2.5h-3.1zM152.8 66.5h6.2v2.5h-6.2zM162.1 66.5h6.3v2.5h-6.3zM184 66.5h3.1v2.5h-3.1zM190.2 66.5h3.1v2.5h-3.1zM196.4 66.5h9.4v2.5h-9.4zM208.9 66.5h3.1v2.5h-3.1zM215.2 66.5h12.4v2.5h-12.4zM237 66.5h6.2v2.5h-6.2zM258.8 66.5h3.2v2.5h-3.2zM268.2 66.5h6.2v2.5h-6.2zM283.8 66.5h6.2v2.5h-6.2zM121.6 69h9.3v2.5h-9.3zM140.3 69h3.1v2.5h-3.1zM152.8 69h6.2v2.5h-6.2zM162.1 69h3.1v2.5h-3.1zM180.8 69h3.2v2.5h-3.2zM196.4 69h3.2v2.5h-3.2zM215.2 69h3.1v2.5h-3.1zM224.5 69h3.1v2.5h-3.1zM230.8 69h6.2v2.5h-6.2zM240.1 69h3.1v2.5h-3.1zM271.3 69h3.1v2.5h-3.1zM283.8 69h10.7v2.5h-10.7zM115.3 71.5h3.1v2.5h-3.1zM124.7 71.5h3.1v2.5h-3.1zM143.4 71.5h3.1v2.5h-3.1zM152.8 71.5h6.2v2.5h-6.2zM177.7 71.5h3.1v2.5h-3.1zM187.1 71.5h3.1v2.5h-3.1zM215.2 71.5h6.2v2.5h-6.2zM224.5 71.5h6.3v2.5h-6.3zM237 71.5h3.1v2.5h-3.1zM249.5 71.5h6.2v2.5h-6.2zM268.2 71.5h3.1v2.5h-3.1zM277.6 71.5h6.2v2.5h-6.2zM112.2 74h9.4v2.5h-9.4zM124.7 74h3.1v2.5h-3.1zM134 74h3.2v2.5h-3.2zM143.4 74h3.1v2.5h-3.1zM152.8 74h3.1v2.5h-3.1zM159 74h3.1v2.5h-3.1zM174.6 74h3.1v2.5h-3.1zM205.8 74h3.1v2.5h-3.1zM249.5 74h3.1v2.5h-3.1zM81 76.5h3.1v2.5h-3.1zM109.1 76.5h6.2v2.5h-6.2zM124.7 76.5h3.1v2.5h-3.1zM140.3 76.5h3.1v2.5h-3.1zM149.6 76.5h6.3v2.5h-6.3zM162.1 76.5h3.1v2.5h-3.1zM177.7 76.5h3.1v2.5h-3.1zM187.1 76.5h3.1v2.5h-3.1zM202.7 76.5h3.1v2.5h-3.1zM240.1 76.5h3.1v2.5h-3.1zM249.5 76.5h6.2v2.5h-6.2zM140.3 79h3.1v2.5h-3.1zM187.1 79h3.1v2.5h-3.1zM193.3 79h6.3v2.5h-6.3zM249.5 79h3.1v2.5h-3.1zM255.7 79h3.1v2.5h-3.1zM265.1 79h6.2v2.5h-6.2zM81 81.5h3.1v2.5h-3.1zM96.6 81.5h3.1v2.5h-3.1zM124.7 81.5h3.1v2.5h-3.1zM134 81.5h3.2v2.5h-3.2zM140.3 81.5h3.1v2.5h-3.1zM171.5 81.5h3.1v2.5h-3.1zM180.8 81.5h3.2v2.5h-3.2zM187.1 81.5h3.1v2.5h-3.1zM196.4 81.5h6.3v2.5h-6.3zM218.3 81.5h3.1v2.5h-3.1zM237 81.5h3.1v2.5h-3.1zM243.2 81.5h3.2v2.5h-3.2zM265.1 81.5h6.2v2.5h-6.2zM274.4 81.5h3.2v2.5h-3.2zM115.3 84h3.1v2.5h-3.1zM140.3 84h3.1v2.5h-3.1zM205.8 84h3.1v2.5h-3.1zM218.3 84h3.1v2.5h-3.1zM227.6 84h3.2v2.5h-3.2zM233.9 84h3.1v2.5h-3.1zM258.8 84h3.2v2.5h-3.2zM271.3 84h3.1v2.5h-3.1zM81 86.5h3.1v2.5h-3.1zM155.9 86.5h3.1v2.5h-3.1zM174.6 86.5h3.1v2.5h-3.1zM227.6 86.5h3.2v2.5h-3.2zM233.9 86.5h3.1v2.5h-3.1zM240.1 86.5h3.1v2.5h-3.1zM258.8 86.5h3.2v2.5h-3.2zM268.2 86.5h3.1v2.5h-3.1zM283.8 86.5h6.2v2.5h-6.2zM84.1 89h3.1v2.5h-3.1zM155.9 89h3.1v2.5h-3.1zM165.2 89h3.2v2.5h-3.2zM174.6 89h3.1v2.5h-3.1zM184 89h3.1v2.5h-3.1zM212 89h3.2v2.5h-3.2zM230.8 89h3.1v2.5h-3.1zM265.1 89h6.2v2.5h-6.2zM274.4 89h3.2v2.5h-3.2zM283.8 89h3.1v2.5h-3.1zM124.7 91.5h6.2v2.5h-6.2zM143.4 91.5h3.1v2.5h-3.1zM149.6 91.5h3.2v2.5h-3.2zM159 91.5h3.1v2.5h-3.1zM184 91.5h3.1v2.5h-3.1zM255.7 91.5h3.1v2.5h-3.1zM84.1 94h3.1v2.5h-3.1zM121.6 94h3.1v2.5h-3.1zM140.3 94h3.1v2.5h-3.1zM149.6 94h6.3v2.5h-6.3zM184 94h6.2v2.5h-6.2zM193.3 94h3.1v2.5h-3.1zM252.6 94h6.2v2.5h-6.2zM93.5 96.5h3.1v2.5h-3.1zM112.2 96.5h3.1v2.5h-3.1zM184 96.5h6.2v2.5h-6.2zM199.6 96.5h3.1v2.5h-3.1zM230.8 96.5h3.1v2.5h-3.1zM252.6 96.5h3.1v2.5h-3.1zM258.8 96.5h3.2v2.5h-3.2zM293.2 96.5h1.3v2.5h-1.3zM84.1 99h3.1v2.5h-3.1zM137.2 99h3.1v2.5h-3.1zM152.8 99h3.1v2.5h-3.1zM162.1 99h3.1v2.5h-3.1zM168.4 99h3.1v2.5h-3.1zM240.1 99h3.1v2.5h-3.1zM258.8 99h3.2v2.5h-3.2zM290 99h3.2v2.5h-3.2zM130.9 101.5h3.1v2.5h-3.1zM137.2 101.5h6.2v2.5h-6.2zM149.6 101.5h3.2v2.5h-3.2zM180.8 101.5h3.2v2.5h-3.2zM227.6 101.5h3.2v2.5h-3.2zM262 101.5h3.1v2.5h-3.1zM118.4 104h6.3v2.5h-6.3zM177.7 104h3.1v2.5h-3.1zM187.1 104h3.1v2.5h-3.1zM193.3 104h3.1v2.5h-3.1zM199.6 104h3.1v2.5h-3.1zM246.4 104h6.2v2.5h-6.2zM293.2 104h1.3v2.5h-1.3zM115.3 106.5h6.3v2.5h-6.3zM149.6 106.5h3.2v2.5h-3.2zM187.1 106.5h6.2v2.5h-6.2zM196.4 106.5h3.2v2.5h-3.2zM215.2 106.5h3.1v2.5h-3.1zM290 106.5h3.2v2.5h-3.2zM84.1 109h3.1v2.5h-3.1zM112.2 109h3.1v2.5h-3.1zM118.4 109h3.2v2.5h-3.2zM155.9 109h3.1v2.5h-3.1zM174.6 109h3.1v2.5h-3.1zM187.1 109h6.2v2.5h-6.2zM196.4 109h3.2v2.5h-3.2zM202.7 109h3.1v2.5h-3.1zM271.3 109h3.1v2.5h-3.1zM174.6 111.5h3.1v2.5h-3.1zM184 111.5h3.1v2.5h-3.1zM190.2 111.5h9.4v2.5h-9.4zM205.8 111.5h3.1v2.5h-3.1zM221.4 111.5h3.1v2.5h-3.1zM249.5 111.5h3.1v2.5h-3.1zM180.8 114h3.2v2.5h-3.2zM193.3 114h6.3v2.5h-6.3zM233.9 114h3.1v2.5h-3.1zM240.1 114h3.1v2.5h-3.1zM255.7 114h3.1v2.5h-3.1zM277.6 114h3.1v2.5h-3.1zM106 116.5h3.1v2.5h-3.1zM180.8 116.5h3.2v2.5h-3.2zM199.6 116.5h3.1v2.5h-3.1zM227.6 116.5h3.2v2.5h-3.2zM233.9 116.5h3.1v2.5h-3.1zM258.8 116.5h3.2v2.5h-3.2zM286.9 116.5h6.3v2.5h-6.3zM81 119h3.1v2.5h-3.1zM184 119h3.1v2.5h-3.1zM81 121.5h3.1v2.5h-3.1zM221.4 121.5h3.1v2.5h-3.1zM227.6 121.5h3.2v2.5h-3.2zM271.3 121.5h3.1v2.5h-3.1zM81 124h3.1v2.5h-3.1zM90.4 124h6.2v2.5h-6.2zM99.7 124h6.3v2.5h-6.3zM162.1 124h6.3v2.5h-6.3zM177.7 124h3.1v2.5h-3.1zM199.6 124h3.1v2.5h-3.1zM87.2 126.5h3.2v2.5h-3.2zM81 129h3.1v2.5h-3.1zM118.4 129h3.2v2.5h-3.2zM171.5 129h3.1v2.5h-3.1zM177.7 129h3.1v2.5h-3.1zM193.3 129h3.1v2.5h-3.1zM230.8 129h3.1v2.5h-3.1zM115.3 131.5h3.1v2.5h-3.1zM159 131.5h3.1v2.5h-3.1zM271.3 131.5h3.1v2.5h-3.1zM137.2 134h3.1v2.5h-3.1zM146.5 134h3.1v2.5h-3.1zM159 134h3.1v2.5h-3.1zM202.7 134h3.1v2.5h-3.1zM246.4 134h3.1v2.5h-3.1zM274.4 134h3.2v2.5h-3.2zM196.4 136.5h3.2v2.5h-3.2zM118.4 139h6.3v2.5h-6.3zM109.1 144h3.1v2.5h-3.1zM99.7 149h3.1v2.5h-3.1zM87.2 161.5h3.2v2.5h-3.2zM81 164h3.1v2.5h-3.1zM84.1 169h3.1v2.5h-3.1zM87.2 171.5h3.2v2.5h-3.2zM81 176.5h3.1v2.5h-3.1zM81 179h3.1v2.5h-3.1zM81 181.5h3.1v2.5h-3.1zM81 184h3.1v2.5h-3.1zM77.9 186.5h3.1v2.5h-3.1zM81 194h3.1v2.5h-3.1zM81 196.5h3.1v0.5h-3.1z"/>
<path fill="#0f66ff" d="M118.4 31.5h3.2v2.5h-3.2zM102.8 34h3.2v2.5h-3.2zM112.2 34h3.1v2.5h-3.1zM118.4 34h3.2v2.5h-3.2zM109.1 36.5h3.1v2.5h-3.1zM87.2 39h3.2v2.5h-3.2zM99.7 39h3.1v2.5h-3.1zM106 39h6.2v2.5h-6.2zM87.2 41.5h3.2v2.5h-3.2zM99.7 41.5h3.1v2.5h-3.1zM87.2 44h3.2v2.5h-3.2zM93.5 44h3.1v2.5h-3.1zM102.8 44h9.4v2.5h-9.4zM102.8 46.5h3.2v2.5h-3.2zM109.1 46.5h6.2v2.5h-6.2zM109.1 49h3.1v2.5h-3.1zM87.2 51.5h3.2v2.5h-3.2zM102.8 51.5h6.3v2.5h-6.3zM99.7 54h3.1v2.5h-3.1zM102.8 56.5h3.2v2.5h-3.2zM93.5 59h3.1v2.5h-3.1zM102.8 59h3.2v2.5h-3.2zM124.7 59h3.1v2.5h-3.1zM130.9 59h3.1v2.5h-3.1zM146.5 59h3.1v2.5h-3.1zM165.2 59h9.4v2.5h-9.4zM177.7 59h3.1v2.5h-3.1zM193.3 59h3.1v2.5h-3.1zM202.7 59h6.2v2.5h-6.2zM218.3 59h9.3v2.5h-9.3zM230.8 59h9.3v2.5h-9.3zM243.2 59h3.2v2.5h-3.2zM252.6 59h3.1v2.5h-3.1zM274.4 59h6.3v2.5h-6.3zM286.9 59h6.3v2.5h-6.3zM87.2 61.5h3.2v2.5h-3.2zM93.5 61.5h3.1v2.5h-3.1zM102.8 61.5h3.2v2.5h-3.2zM137.2 61.5h3.1v2.5h-3.1zM187.1 61.5h3.1v2.5h-3.1zM196.4 61.5h3.2v2.5h-3.2zM87.2 64h3.2v2.5h-3.2zM96.6 71.5h3.1v2.5h-3.1zM102.8 71.5h3.2v2.5h-3.2zM84.1 74h3.1v2.5h-3.1zM99.7 74h3.1v2.5h-3.1zM109.1 74h3.1v2.5h-3.1zM87.2 76.5h3.2v2.5h-3.2zM134 79h3.2v2.5h-3.2zM165.2 106.5h3.2v2.5h-3.2zM121.6 109h3.1v2.5h-3.1zM127.8 109h3.1v2.5h-3.1zM140.3 109h6.2v2.5h-6.2zM171.5 109h3.1v2.5h-3.1zM124.7 111.5h9.3v2.5h-9.3zM146.5 111.5h9.4v2.5h-9.4zM121.6 114h12.4v2.5h-12.4zM137.2 114h3.1v2.5h-3.1zM143.4 114h6.2v2.5h-6.2zM152.8 114h3.1v2.5h-3.1zM159 116.5h3.1v2.5h-3.1zM168.4 116.5h3.1v2.5h-3.1zM174.6 116.5h6.2v2.5h-6.2zM109.1 121.5h3.1v2.5h-3.1zM130.9 121.5h3.1v2.5h-3.1zM155.9 124h3.1v2.5h-3.1zM93.5 126.5h3.1v2.5h-3.1zM109.1 126.5h3.1v2.5h-3.1zM96.6 129h3.1v2.5h-3.1zM102.8 129h3.2v2.5h-3.2zM96.6 131.5h3.1v2.5h-3.1zM90.4 134h3.1v2.5h-3.1zM87.2 136.5h3.2v2.5h-3.2zM84.1 139h3.1v2.5h-3.1zM81 144h3.1v2.5h-3.1zM87.2 144h6.3v2.5h-6.3zM81 146.5h9.4v2.5h-9.4zM84.1 149h6.3v2.5h-6.3zM84.1 151.5h3.1v2.5h-3.1z"/>
<path fill="#65ff00" d="M124.7 31.5h3.1v2.5h-3.1zM134 31.5h3.2v2.5h-3.2zM143.4 31.5h9.4v2.5h-9.4zM159 31.5h3.1v2.5h-3.1zM124.7 34h3.1v2.5h-3.1zM137.2 34h3.1v2.5h-3.1zM146.5 34h9.4v2.5h-9.4zM268.2 51.5h3.1v2.5h-3.1zM121.6 54h3.1v2.5h-3.1zM134 54h3.2v2.5h-3.2zM143.4 54h3.1v2.5h-3.1zM162.1 54h3.1v2.5h-3.1zM171.5 54h6.2v2.5h-6.2zM180.8 54h3.2v2.5h-3.2zM187.1 54h3.1v2.5h-3.1zM205.8 54h6.2v2.5h-6.2zM215.2 54h3.1v2.5h-3.1zM221.4 54h3.1v2.5h-3.1zM230.8 54h3.1v2.5h-3.1zM237 54h3.1v2.5h-3.1zM243.2 54h3.2v2.5h-3.2zM252.6 54h6.2v2.5h-6.2zM262 54h3.1v2.5h-3.1zM271.3 54h3.1v2.5h-3.1zM280.7 54h3.1v2.5h-3.1z"/>
<path fill="#10ff0c" d="M127.8 31.5h3.1v2.5h-3.1zM127.8 34h3.1v2.5h-3.1zM118.4 39h3.2v2.5h-3.2zM115.3 44h3.1v2.5h-3.1zM115.3 46.5h3.1v2.5h-3.1zM112.2 54h3.1v2.5h-3.1zM155.9 54h6.2v2.5h-6.2zM168.4 54h3.1v2.5h-3.1zM177.7 54h3.1v2.5h-3.1zM202.7 54h3.1v2.5h-3.1zM218.3 54h3.1v2.5h-3.1zM240.1 54h3.1v2.5h-3.1zM265.1 54h3.1v2.5h-3.1zM112.2 56.5h6.2v2.5h-6.2zM130.9 56.5h3.1v2.5h-3.1zM190.2 56.5h3.1v2.5h-3.1zM271.3 56.5h3.1v2.5h-3.1zM109.1 61.5h3.1v2.5h-3.1zM106 64h6.2v2.5h-6.2zM96.6 66.5h3.1v2.5h-3.1z"/>
<path fill="#94ff00" d="M130.9 31.5h3.1v2.5h-3.1zM155.9 31.5h3.1v2.5h-3.1zM168.4 31.5h3.1v2.5h-3.1zM190.2 31.5h3.1v2.5h-3.1zM199.6 31.5h3.1v2.5h-3.1zM205.8 31.5h3.1v2.5h-3.1zM218.3 31.5h3.1v2.5h-3.1zM243.2 31.5h3.2v2.5h-3.2zM271.3 31.5h6.3v2.5h-6.3zM280.7 31.5h3.1v2.5h-3.1zM134 34h3.2v2.5h-3.2zM155.9 34h6.2v2.5h-6.2zM121.6 36.5h3.1v2.5h-3.1zM118.4 46.5h3.2v2.5h-3.2zM118.4 49h3.2v2.5h-3.2zM121.6 51.5h6.2v2.5h-6.2zM155.9 51.5h3.1v2.5h-3.1zM187.1 51.5h3.1v2.5h-3.1zM193.3 51.5h6.3v2.5h-6.3zM224.5 51.5h3.1v2.5h-3.1zM262 51.5h6.2v2.5h-6.2zM293.2 51.5h1.3v2.5h-1.3zM115.3 54h6.3v2.5h-6.3zM127.8 54h3.1v2.5h-3.1zM137.2 54h3.1v2.5h-3.1zM149.6 54h6.3v2.5h-6.3zM184 54h3.1v2.5h-3.1zM233.9 54h3.1v2.5h-3.1zM249.5 54h3.1v2.5h-3.1z"/>
<path fill="#36ff00" d="M137.2 31.5h6.2v2.5h-6.2zM152.8 31.5h3.1v2.5h-3.1zM130.9 34h3.1v2.5h-3.1zM140.3 34h3.1v2.5h-3.1zM118.4 36.5h3.2v2.5h-3.2zM115.3 49h3.1v2.5h-3.1zM124.7 54h3.1v2.5h-3.1zM146.5 54h3.1v2.5h-3.1zM165.2 54h3.2v2.5h-3.2zM193.3 54h3.1v2.5h-3.1zM199.6 54h3.1v2.5h-3.1zM224.5 54h6.3v2.5h-6.3zM258.8 54h3.2v2.5h-3.2zM268.2 54h3.1v2.5h-3.1zM274.4 54h6.3v2.5h-6.3zM283.8 54h6.2v2.5h-6.2zM293.2 54h1.3v2.5h-1.3zM102.8 66.5h3.2v2.5h-3.2z"/>
<path fill="#c2ff00" d="M162.1 31.5h3.1v2.5h-3.1zM187.1 31.5h3.1v2.5h-3.1zM208.9 31.5h3.1v2.5h-3.1zM221.4 31.5h9.4v2.5h-9.4zM233.9 31.5h3.1v2.5h-3.1zM246.4 31.5h3.1v2.5h-3.1zM252.6 31.5h6.2v2.5h-6.2zM262 31.5h3.1v2.5h-3.1zM283.8 31.5h6.2v2.5h-6.2zM293.2 31.5h1.3v2.5h-1.3zM143.4 34h3.1v2.5h-3.1zM162.1 34h3.1v2.5h-3.1zM199.6 34h3.1v2.5h-3.1zM205.8 34h6.2v2.5h-6.2zM215.2 34h3.1v2.5h-3.1zM221.4 34h3.1v2.5h-3.1zM227.6 34h3.2v2.5h-3.2zM237 34h3.1v2.5h-3.1zM255.7 34h3.1v2.5h-3.1zM271.3 34h6.3v2.5h-6.3zM280.7 34h3.1v2.5h-3.1zM127.8 36.5h3.1v2.5h-3.1zM127.8 39h3.1v2.5h-3.1zM118.4 44h3.2v2.5h-3.2zM121.6 49h6.2v2.5h-6.2zM187.1 49h3.1v2.5h-3.1zM115.3 51.5h3.1v2.5h-3.1zM130.9 51.5h3.1v2.5h-3.1zM140.3 51.5h9.3v2.5h-9.3zM159 51.5h12.5v2.5h-12.5zM177.7 51.5h3.1v2.5h-3.1zM199.6 51.5h3.1v2.5h-3.1zM218.3 51.5h3.1v2.5h-3.1zM227.6 51.5h3.2v2.5h-3.2zM243.2 51.5h3.2v2.5h-3.2zM252.6 51.5h3.1v2.5h-3.1zM271.3 51.5h9.4v2.5h-9.4zM283.8 51.5h6.2v2.5h-6.2zM130.9 54h3.1v2.5h-3.1zM190.2 54h3.1v2.5h-3.1zM246.4 54h3.1v2.5h-3.1z"/>
<path fill="#fd0000" d="M171.5 31.5h3.1v2.5h-3.1zM180.8 31.5h3.2v2.5h-3.2zM290 31.5h3.2v2.5h-3.2zM171.5 34h3.1v2.5h-3.1zM171.5 36.5h9.3v2.5h-9.3zM199.6 41.5h3.1v2.5h-3.1zM205.8 41.5h3.1v2.5h-3.1zM215.2 41.5h6.2v2.5h-6.2zM174.6 44h3.1v2.5h-3.1zM180.8 44h6.3v2.5h-6.3zM202.7 44h3.1v2.5h-3.1zM208.9 44h12.5v2.5h-12.5z"/>
<path fill="#f80000" d="M174.6 31.5h3.1v2.5h-3.1zM174.6 34h3.1v2.5h-3.1zM177.7 41.5h6.3v2.5h-6.3zM196.4 41.5h3.2v2.5h-3.2zM290 54h3.2v2.5h-3.2z"/>
<path fill="#fb0000" d="M177.7 31.5h3.1v2.5h-3.1zM177.7 34h3.1v2.5h-3.1zM180.8 39h3.2v2.5h-3.2zM174.6 41.5h3.1v2.5h-3.1zM208.9 41.5h3.1v2.5h-3.1zM199.6 44h3.1v2.5h-3.1z"/>
<path fill="#2611fa" d="M84.1 34h3.1v2.5h-3.1zM81 36.5h6.2v2.5h-6.2zM102.8 36.5h3.2v2.5h-3.2zM93.5 39h3.1v2.5h-3.1zM96.6 41.5h3.1v2.5h-3.1zM96.6 44h6.2v2.5h-6.2zM87.2 46.5h3.2v2.5h-3.2zM96.6 46.5h3.1v2.5h-3.1zM99.7 56.5h3.1v2.5h-3.1zM99.7 59h3.1v2.5h-3.1zM159 59h3.1v2.5h-3.1zM180.8 59h3.2v2.5h-3.2zM240.1 59h3.1v2.5h-3.1zM124.7 61.5h6.2v2.5h-6.2zM146.5 61.5h9.4v2.5h-9.4zM168.4 61.5h6.2v2.5h-6.2zM177.7 61.5h9.4v2.5h-9.4zM193.3 61.5h3.1v2.5h-3.1zM199.6 61.5h6.2v2.5h-6.2zM221.4 61.5h9.4v2.5h-9.4zM233.9 61.5h3.1v2.5h-3.1zM243.2 61.5h3.2v2.5h-3.2zM255.7 61.5h9.4v2.5h-9.4zM286.9 61.5h7.6v2.5h-7.6zM115.3 64h3.1v2.5h-3.1zM124.7 64h3.1v2.5h-3.1zM177.7 64h3.1v2.5h-3.1zM190.2 64h3.1v2.5h-3.1zM196.4 64h3.2v2.5h-3.2zM208.9 64h3.1v2.5h-3.1zM221.4 64h3.1v2.5h-3.1zM237 64h3.1v2.5h-3.1zM280.7 64h6.2v2.5h-6.2zM127.8 66.5h3.1v2.5h-3.1zM174.6 66.5h6.2v2.5h-6.2zM227.6 66.5h3.2v2.5h-3.2zM246.4 66.5h3.1v2.5h-3.1zM255.7 66.5h3.1v2.5h-3.1zM171.5 69h3.1v2.5h-3.1zM218.3 69h3.1v2.5h-3.1zM227.6 69h3.2v2.5h-3.2zM268.2 69h3.1v2.5h-3.1zM271.3 71.5h3.1v2.5h-3.1zM146.5 74h3.1v2.5h-3.1zM187.1 74h3.1v2.5h-3.1zM252.6 74h3.1v2.5h-3.1zM271.3 74h3.1v2.5h-3.1zM99.7 76.5h3.1v2.5h-3.1zM134 76.5h3.2v2.5h-3.2zM146.5 76.5h3.1v2.5h-3.1zM184 76.5h3.1v2.5h-3.1zM193.3 76.5h3.1v2.5h-3.1zM81 79h3.1v2.5h-3.1zM149.6 79h3.2v2.5h-3.2zM237 79h9.4v2.5h-9.4zM258.8 79h3.2v2.5h-3.2zM99.7 81.5h3.1v2.5h-3.1zM258.8 81.5h3.2v2.5h-3.2zM271.3 81.5h3.1v2.5h-3.1zM187.1 84h3.1v2.5h-3.1zM205.8 86.5h3.1v2.5h-3.1zM84.1 91.5h3.1v2.5h-3.1zM265.1 91.5h3.1v2.5h-3.1zM274.4 91.5h3.2v2.5h-3.2zM127.8 94h3.1v2.5h-3.1zM84.1 96.5h3.1v2.5h-3.1zM208.9 99h3.1v2.5h-3.1zM286.9 99h3.1v2.5h-3.1zM84.1 101.5h3.1v2.5h-3.1zM152.8 101.5h3.1v2.5h-3.1zM140.3 104h3.1v2.5h-3.1zM165.2 104h3.2v2.5h-3.2zM124.7 106.5h3.1v2.5h-3.1zM130.9 106.5h9.4v2.5h-9.4zM143.4 106.5h3.1v2.5h-3.1zM152.8 106.5h3.1v2.5h-3.1zM159 106.5h3.1v2.5h-3.1zM171.5 106.5h6.2v2.5h-6.2zM184 106.5h3.1v2.5h-3.1zM202.7 106.5h3.1v2.5h-3.1zM81 109h3.1v2.5h-3.1zM115.3 109h3.1v2.5h-3.1zM162.1 109h3.1v2.5h-3.1zM168.4 109h3.1v2.5h-3.1zM193.3 109h3.1v2.5h-3.1zM121.6 111.5h3.1v2.5h-3.1zM159 111.5h3.1v2.5h-3.1zM165.2 111.5h9.4v2.5h-9.4zM199.6 111.5h6.2v2.5h-6.2zM112.2 114h3.1v2.5h-3.1zM118.4 114h3.2v2.5h-3.2zM140.3 114h3.1v2.5h-3.1zM162.1 114h3.1v2.5h-3.1zM168.4 114h3.1v2.5h-3.1zM174.6 114h3.1v2.5h-3.1zM190.2 114h3.1v2.5h-3.1zM199.6 114h3.1v2.5h-3.1zM81 116.5h3.1v2.5h-3.1zM115.3 116.5h6.3v2.5h-6.3zM155.9 116.5h3.1v2.5h-3.1zM162.1 116.5h3.1v2.5h-3.1zM187.1 116.5h3.1v2.5h-3.1zM202.7 116.5h3.1v2.5h-3.1zM208.9 116.5h3.1v2.5h-3.1zM240.1 116.5h3.1v2.5h-3.1zM255.7 116.5h3.1v2.5h-3.1zM115.3 119h3.1v2.5h-3.1zM177.7 119h6.3v2.5h-6.3zM187.1 119h3.1v2.5h-3.1zM193.3 119h3.1v2.5h-3.1zM227.6 119h3.2v2.5h-3.2zM102.8 121.5h3.2v2.5h-3.2zM140.3 121.5h6.2v2.5h-6.2zM106 126.5h3.1v2.5h-3.1zM99.7 129h3.1v2.5h-3.1zM99.7 131.5h3.1v2.5h-3.1zM146.5 131.5h3.1v2.5h-3.1zM224.5 131.5h3.1v2.5h-3.1zM81 134h3.1v2.5h-3.1zM109.1 139h3.1v2.5h-3.1zM96.6 141.5h6.2v2.5h-6.2zM93.5 144h3.1v2.5h-3.1zM90.4 149h3.1v2.5h-3.1zM90.4 151.5h3.1v2.5h-3.1zM90.4 154h3.1v2.5h-3.1zM81 161.5h6.2v2.5h-6.2zM84.1 164h3.1v2.5h-3.1zM81 166.5h6.2v2.5h-6.2zM81 169h3.1v2.5h-3.1zM81 171.5h3.1v2.5h-3.1zM81 174h6.2v2.5h-6.2zM77.9 184h3.1v2.5h-3.1z"/>
<path fill="#00f96d" d="M90.4 34h3.1v2.5h-3.1zM96.6 34h3.1v2.5h-3.1zM96.6 36.5h3.1v2.5h-3.1zM115.3 41.5h3.1v2.5h-3.1zM134 56.5h3.2v2.5h-3.2zM174.6 56.5h3.1v2.5h-3.1zM193.3 56.5h3.1v2.5h-3.1zM199.6 56.5h12.4v2.5h-12.4zM221.4 56.5h6.2v2.5h-6.2zM233.9 56.5h3.1v2.5h-3.1zM243.2 56.5h3.2v2.5h-3.2zM255.7 56.5h12.5v2.5h-12.5zM283.8 56.5h3.1v2.5h-3.1zM293.2 56.5h1.3v2.5h-1.3zM90.4 66.5h6.2v2.5h-6.2zM109.1 66.5h3.1v2.5h-3.1zM99.7 69h3.1v2.5h-3.1zM106 134h3.1v2.5h-3.1zM112.2 134h3.1v2.5h-3.1zM99.7 136.5h3.1v2.5h-3.1zM109.1 136.5h3.1v2.5h-3.1zM90.4 139h3.1v2.5h-3.1z"/>
<path fill="#099aff" d="M106 34h3.1v2.5h-3.1zM106 36.5h3.1v2.5h-3.1zM112.2 36.5h3.1v2.5h-3.1zM112.2 39h3.1v2.5h-3.1zM106 41.5h3.1v2.5h-3.1zM112.2 41.5h3.1v2.5h-3.1zM112.2 44h3.1v2.5h-3.1zM90.4 46.5h3.1v2.5h-3.1zM90.4 49h3.1v2.5h-3.1zM93.5 51.5h6.2v2.5h-6.2zM96.6 54h3.1v2.5h-3.1zM102.8 54h3.2v2.5h-3.2zM93.5 56.5h3.1v2.5h-3.1zM106 56.5h3.1v2.5h-3.1zM96.6 59h3.1v2.5h-3.1zM127.8 59h3.1v2.5h-3.1zM137.2 59h6.2v2.5h-6.2zM149.6 59h9.4v2.5h-9.4zM174.6 59h3.1v2.5h-3.1zM184 59h3.1v2.5h-3.1zM190.2 59h3.1v2.5h-3.1zM196.4 59h3.2v2.5h-3.2zM208.9 59h6.3v2.5h-6.3zM246.4 59h3.1v2.5h-3.1zM268.2 59h3.1v2.5h-3.1zM280.7 59h3.1v2.5h-3.1zM293.2 59h1.3v2.5h-1.3zM96.6 61.5h3.1v2.5h-3.1zM112.2 61.5h3.1v2.5h-3.1zM84.1 64h3.1v2.5h-3.1zM84.1 66.5h6.3v2.5h-6.3zM84.1 69h6.3v2.5h-6.3zM84.1 71.5h6.3v2.5h-6.3zM106 71.5h3.1v2.5h-3.1zM93.5 74h3.1v2.5h-3.1zM90.4 76.5h3.1v2.5h-3.1zM134 111.5h6.3v2.5h-6.3zM143.4 111.5h3.1v2.5h-3.1zM149.6 114h3.2v2.5h-3.2zM112.2 116.5h3.1v2.5h-3.1zM121.6 116.5h3.1v2.5h-3.1zM152.8 116.5h3.1v2.5h-3.1zM171.5 116.5h3.1v2.5h-3.1zM106 119h9.3v2.5h-9.3zM118.4 119h3.2v2.5h-3.2zM143.4 119h3.1v2.5h-3.1zM159 119h3.1v2.5h-3.1zM171.5 119h3.1v2.5h-3.1zM115.3 121.5h3.1v2.5h-3.1zM127.8 121.5h3.1v2.5h-3.1zM146.5 121.5h6.3v2.5h-6.3zM162.1 121.5h6.3v2.5h-6.3zM171.5 121.5h3.1v2.5h-3.1zM159 124h3.1v2.5h-3.1zM90.4 126.5h3.1v2.5h-3.1zM118.4 126.5h3.2v2.5h-3.2zM106 129h6.2v2.5h-6.2zM84.1 131.5h3.1v2.5h-3.1zM90.4 131.5h3.1v2.5h-3.1zM84.1 134h6.3v2.5h-6.3zM87.2 139h3.2v2.5h-3.2zM96.6 139h3.1v2.5h-3.1zM106 139h3.1v2.5h-3.1zM87.2 141.5h9.4v2.5h-9.4z"/>
<path fill="#ff0b00" d="M180.8 34h3.2v2.5h-3.2zM290 34h3.2v2.5h-3.2zM180.8 36.5h3.2v2.5h-3.2zM174.6 39h3.1v2.5h-3.1zM290 39h3.2v2.5h-3.2zM184 41.5h3.1v2.5h-3.1zM202.7 41.5h3.1v2.5h-3.1zM171.5 44h3.1v2.5h-3.1zM196.4 44h3.2v2.5h-3.2zM205.8 44h3.1v2.5h-3.1zM205.8 46.5h6.2v2.5h-6.2zM290 46.5h3.2v2.5h-3.2zM290 49h3.2v2.5h-3.2zM290 51.5h3.2v2.5h-3.2z"/>
<path fill="#02ff35" d="M90.4 36.5h3.1v2.5h-3.1zM118.4 41.5h3.2v2.5h-3.2zM112.2 51.5h3.1v2.5h-3.1zM140.3 54h3.1v2.5h-3.1zM196.4 54h3.2v2.5h-3.2zM212 54h3.2v2.5h-3.2zM121.6 56.5h3.1v2.5h-3.1zM127.8 56.5h3.1v2.5h-3.1zM149.6 56.5h9.4v2.5h-9.4zM184 56.5h6.2v2.5h-6.2zM230.8 56.5h3.1v2.5h-3.1zM246.4 56.5h9.3v2.5h-9.3zM268.2 56.5h3.1v2.5h-3.1zM290 56.5h3.2v2.5h-3.2zM109.1 59h6.2v2.5h-6.2zM99.7 66.5h3.1v2.5h-3.1zM106 66.5h3.1v2.5h-3.1zM96.6 69h3.1v2.5h-3.1zM102.8 69h3.2v2.5h-3.2zM90.4 136.5h3.1v2.5h-3.1z"/>
<path fill="#ffce00" d="M134 36.5h3.2v2.5h-3.2zM152.8 36.5h3.1v2.5h-3.1zM168.4 36.5h3.1v2.5h-3.1zM184 36.5h3.1v2.5h-3.1zM190.2 36.5h9.4v2.5h-9.4zM212 36.5h3.2v2.5h-3.2zM218.3 36.5h6.2v2.5h-6.2zM233.9 36.5h3.1v2.5h-3.1zM240.1 36.5h3.1v2.5h-3.1zM258.8 36.5h3.2v2.5h-3.2zM283.8 36.5h3.1v2.5h-3.1zM137.2 39h9.3v2.5h-9.3zM171.5 39h3.1v2.5h-3.1zM193.3 39h3.1v2.5h-3.1zM227.6 39h3.2v2.5h-3.2zM237 39h3.1v2.5h-3.1zM268.2 39h3.1v2.5h-3.1zM274.4 39h3.2v2.5h-3.2zM293.2 39h1.3v2.5h-1.3zM246.4 41.5h3.1v2.5h-3.1zM124.7 44h3.1v2.5h-3.1zM187.1 44h3.1v2.5h-3.1zM137.2 46.5h3.1v2.5h-3.1zM168.4 46.5h3.1v2.5h-3.1zM221.4 46.5h3.1v2.5h-3.1zM227.6 46.5h9.4v2.5h-9.4zM240.1 46.5h3.1v2.5h-3.1zM249.5 46.5h3.1v2.5h-3.1zM262 46.5h3.1v2.5h-3.1zM268.2 46.5h3.1v2.5h-3.1zM283.8 46.5h6.2v2.5h-6.2zM127.8 49h3.1v2.5h-3.1zM134 49h3.2v2.5h-3.2zM140.3 49h9.3v2.5h-9.3zM165.2 49h6.3v2.5h-6.3zM190.2 49h3.1v2.5h-3.1zM202.7 49h15.6v2.5h-15.6zM230.8 49h3.1v2.5h-3.1zM240.1 49h3.1v2.5h-3.1zM246.4 49h6.2v2.5h-6.2zM255.7 49h3.1v2.5h-3.1zM274.4 49h3.2v2.5h-3.2z"/>
<path fill="#ffb000" d="M143.4 36.5h3.1v2.5h-3.1zM165.2 36.5h3.2v2.5h-3.2zM224.5 36.5h3.1v2.5h-3.1zM243.2 36.5h3.2v2.5h-3.2zM146.5 39h18.7v2.5h-18.7zM168.4 39h3.1v2.5h-3.1zM187.1 39h6.2v2.5h-6.2zM212 39h3.2v2.5h-3.2zM224.5 39h3.1v2.5h-3.1zM240.1 39h3.1v2.5h-3.1zM258.8 39h3.2v2.5h-3.2zM265.1 39h3.1v2.5h-3.1zM271.3 39h3.1v2.5h-3.1zM280.7 39h3.1v2.5h-3.1zM130.9 41.5h3.1v2.5h-3.1zM140.3 41.5h6.2v2.5h-6.2zM152.8 41.5h6.2v2.5h-6.2zM187.1 41.5h3.1v2.5h-3.1zM224.5 41.5h3.1v2.5h-3.1zM268.2 41.5h3.1v2.5h-3.1zM274.4 41.5h3.2v2.5h-3.2zM127.8 44h3.1v2.5h-3.1zM140.3 44h3.1v2.5h-3.1zM149.6 44h3.2v2.5h-3.2zM162.1 44h3.1v2.5h-3.1zM221.4 44h3.1v2.5h-3.1zM227.6 44h6.3v2.5h-6.3zM240.1 44h3.1v2.5h-3.1zM246.4 44h3.1v2.5h-3.1zM255.7 44h3.1v2.5h-3.1zM268.2 44h6.2v2.5h-6.2zM286.9 44h3.1v2.5h-3.1zM127.8 46.5h9.4v2.5h-9.4zM140.3 46.5h3.1v2.5h-3.1zM152.8 46.5h9.3v2.5h-9.3zM174.6 46.5h3.1v2.5h-3.1zM193.3 46.5h3.1v2.5h-3.1zM224.5 46.5h3.1v2.5h-3.1zM252.6 46.5h6.2v2.5h-6.2zM265.1 46.5h3.1v2.5h-3.1zM271.3 46.5h12.5v2.5h-12.5zM293.2 46.5h1.3v2.5h-1.3z"/>
<path fill="#ff3700" d="M290 36.5h3.2v2.5h-3.2zM177.7 39h3.1v2.5h-3.1zM184 39h3.1v2.5h-3.1zM196.4 39h6.3v2.5h-6.3zM205.8 39h3.1v2.5h-3.1zM137.2 41.5h3.1v2.5h-3.1zM212 41.5h3.2v2.5h-3.2zM237 41.5h3.1v2.5h-3.1zM280.7 41.5h3.1v2.5h-3.1zM290 41.5h3.2v2.5h-3.2zM159 44h3.1v2.5h-3.1zM193.3 44h3.1v2.5h-3.1zM237 44h3.1v2.5h-3.1zM258.8 44h3.2v2.5h-3.2zM280.7 44h3.1v2.5h-3.1zM290 44h3.2v2.5h-3.2zM177.7 46.5h3.1v2.5h-3.1zM199.6 46.5h6.2v2.5h-6.2zM212 46.5h6.3v2.5h-6.3z"/>
<path fill="#6c008e" d="M81 39h3.1v2.5h-3.1zM81 49h3.1v2.5h-3.1zM81 54h6.2v2.5h-6.2zM121.6 74h3.1v2.5h-3.1zM137.2 74h3.1v2.5h-3.1zM93.5 79h3.1v2.5h-3.1zM143.4 79h3.1v2.5h-3.1zM143.4 81.5h3.1v2.5h-3.1zM159 81.5h3.1v2.5h-3.1zM93.5 84h3.1v2.5h-3.1zM102.8 84h3.2v2.5h-3.2zM255.7 84h3.1v2.5h-3.1zM87.2 86.5h3.2v2.5h-3.2zM99.7 86.5h3.1v2.5h-3.1zM106 86.5h3.1v2.5h-3.1zM121.6 86.5h3.1v2.5h-3.1zM152.8 86.5h3.1v2.5h-3.1zM87.2 89h3.2v2.5h-3.2zM96.6 89h3.1v2.5h-3.1zM106 89h3.1v2.5h-3.1zM152.8 89h3.1v2.5h-3.1zM208.9 89h3.1v2.5h-3.1zM93.5 91.5h3.1v2.5h-3.1zM106 91.5h6.2v2.5h-6.2zM249.5 94h3.1v2.5h-3.1zM102.8 96.5h3.2v2.5h-3.2zM155.9 96.5h3.1v2.5h-3.1zM246.4 96.5h3.1v2.5h-3.1zM271.3 96.5h3.1v2.5h-3.1zM106 99h3.1v2.5h-3.1zM127.8 99h3.1v2.5h-3.1zM237 99h3.1v2.5h-3.1zM274.4 99h3.2v2.5h-3.2zM293.2 99h1.3v2.5h-1.3zM96.6 101.5h3.1v2.5h-3.1zM112.2 101.5h3.1v2.5h-3.1zM155.9 101.5h3.1v2.5h-3.1zM171.5 101.5h3.1v2.5h-3.1zM237 101.5h3.1v2.5h-3.1zM96.6 104h3.1v2.5h-3.1zM112.2 104h3.1v2.5h-3.1zM237 104h9.4v2.5h-9.4zM96.6 106.5h3.1v2.5h-3.1zM280.7 106.5h3.1v2.5h-3.1zM106 109h3.1v2.5h-3.1zM99.7 111.5h6.3v2.5h-6.3zM90.4 114h3.1v2.5h-3.1zM106 114h3.1v2.5h-3.1zM90.4 116.5h3.1v2.5h-3.1zM96.6 116.5h3.1v2.5h-3.1zM102.8 116.5h3.2v2.5h-3.2zM224.5 116.5h3.1v2.5h-3.1zM96.6 119h3.1v2.5h-3.1zM224.5 119h3.1v2.5h-3.1zM249.5 119h3.1v2.5h-3.1zM268.2 119h3.1v2.5h-3.1zM96.6 121.5h6.2v2.5h-6.2zM184 121.5h3.1v2.5h-3.1zM202.7 121.5h3.1v2.5h-3.1zM218.3 121.5h3.1v2.5h-3.1zM230.8 121.5h3.1v2.5h-3.1zM249.5 121.5h3.1v2.5h-3.1zM268.2 121.5h3.1v2.5h-3.1zM286.9 121.5h7.6v2.5h-7.6zM130.9 124h3.1v2.5h-3.1zM149.6 124h3.2v2.5h-3.2zM174.6 124h3.1v2.5h-3.1zM196.4 124h3.2v2.5h-3.2zM227.6 124h3.2v2.5h-3.2zM233.9 124h3.1v2.5h-3.1zM240.1 124h6.3v2.5h-6.3zM265.1 124h3.1v2.5h-3.1zM274.4 124h3.2v2.5h-3.2zM293.2 124h1.3v2.5h-1.3zM124.7 126.5h3.1v2.5h-3.1zM130.9 126.5h3.1v2.5h-3.1zM140.3 126.5h3.1v2.5h-3.1zM146.5 126.5h3.1v2.5h-3.1zM152.8 126.5h3.1v2.5h-3.1zM174.6 126.5h3.1v2.5h-3.1zM180.8 126.5h3.2v2.5h-3.2zM215.2 126.5h3.1v2.5h-3.1zM240.1 126.5h3.1v2.5h-3.1zM249.5 126.5h3.1v2.5h-3.1zM268.2 126.5h3.1v2.5h-3.1zM121.6 129h6.2v2.5h-6.2zM130.9 129h6.3v2.5h-6.3zM143.4 129h3.1v2.5h-3.1zM149.6 129h3.2v2.5h-3.2zM237 129h6.2v2.5h-6.2zM274.4 129h3.2v2.5h-3.2zM118.4 131.5h3.2v2.5h-3.2zM127.8 131.5h3.1v2.5h-3.1zM152.8 131.5h6.2v2.5h-6.2zM174.6 131.5h6.2v2.5h-6.2zM187.1 131.5h3.1v2.5h-3.1zM193.3 131.5h3.1v2.5h-3.1zM212 131.5h3.2v2.5h-3.2zM268.2 131.5h3.1v2.5h-3.1zM277.6 131.5h3.1v2.5h-3.1zM293.2 131.5h1.3v2.5h-1.3zM121.6 134h3.1v2.5h-3.1zM127.8 134h3.1v2.5h-3.1zM152.8 134h6.2v2.5h-6.2zM168.4 134h6.2v2.5h-6.2zM180.8 134h6.3v2.5h-6.3zM205.8 134h6.2v2.5h-6.2zM221.4 134h3.1v2.5h-3.1zM233.9 134h3.1v2.5h-3.1zM243.2 134h3.2v2.5h-3.2zM252.6 134h3.1v2.5h-3.1zM265.1 134h3.1v2.5h-3.1zM277.6 134h6.2v2.5h-6.2zM293.2 134h1.3v2.5h-1.3zM118.4 136.5h3.2v2.5h-3.2zM130.9 136.5h6.3v2.5h-6.3zM140.3 136.5h6.2v2.5h-6.2zM165.2 136.5h6.3v2.5h-6.3zM177.7 136.5h3.1v2.5h-3.1zM187.1 136.5h6.2v2.5h-6.2zM199.6 136.5h3.1v2.5h-3.1zM221.4 136.5h3.1v2.5h-3.1zM243.2 136.5h6.3v2.5h-6.3zM252.6 136.5h3.1v2.5h-3.1zM265.1 136.5h3.1v2.5h-3.1zM277.6 136.5h9.3v2.5h-9.3zM293.2 136.5h1.3v2.5h-1.3zM124.7 139h3.1v2.5h-3.1zM140.3 139h3.1v2.5h-3.1zM193.3 139h3.1v2.5h-3.1zM277.6 139h3.1v2.5h-3.1zM140.3 141.5h3.1v2.5h-3.1zM277.6 141.5h3.1v2.5h-3.1zM112.2 144h3.1v2.5h-3.1zM233.9 144h3.1v2.5h-3.1zM102.8 146.5h3.2v2.5h-3.2zM118.4 146.5h3.2v2.5h-3.2zM233.9 146.5h3.1v2.5h-3.1zM252.6 146.5h3.1v2.5h-3.1zM102.8 149h6.3v2.5h-6.3zM127.8 149h3.1v2.5h-3.1zM146.5 149h3.1v2.5h-3.1zM171.5 149h3.1v2.5h-3.1zM199.6 149h3.1v2.5h-3.1zM240.1 149h9.4v2.5h-9.4zM252.6 149h3.1v2.5h-3.1zM262 149h3.1v2.5h-3.1zM286.9 149h3.1v2.5h-3.1zM99.7 151.5h3.1v2.5h-3.1zM146.5 151.5h3.1v2.5h-3.1zM171.5 151.5h3.1v2.5h-3.1zM193.3 151.5h3.1v2.5h-3.1zM249.5 151.5h3.1v2.5h-3.1zM280.7 151.5h3.1v2.5h-3.1zM293.2 151.5h1.3v2.5h-1.3zM93.5 154h3.1v2.5h-3.1zM109.1 154h3.1v2.5h-3.1zM146.5 154h3.1v2.5h-3.1zM171.5 154h6.2v2.5h-6.2zM249.5 154h3.1v2.5h-3.1zM258.8 154h6.3v2.5h-6.3zM286.9 154h3.1v2.5h-3.1zM93.5 156.5h3.1v2.5h-3.1zM99.7 156.5h3.1v2.5h-3.1zM109.1 156.5h6.2v2.5h-6.2zM146.5 156.5h3.1v2.5h-3.1zM159 156.5h3.1v2.5h-3.1zM196.4 156.5h3.2v2.5h-3.2zM205.8 156.5h3.1v2.5h-3.1zM243.2 156.5h3.2v2.5h-3.2zM252.6 156.5h3.1v2.5h-3.1zM258.8 156.5h3.2v2.5h-3.2zM265.1 156.5h6.2v2.5h-6.2zM99.7 159h3.1v2.5h-3.1zM112.2 159h3.1v2.5h-3.1zM121.6 159h3.1v2.5h-3.1zM140.3 159h6.2v2.5h-6.2zM174.6 159h3.1v2.5h-3.1zM196.4 159h3.2v2.5h-3.2zM243.2 159h3.2v2.5h-3.2zM258.8 159h3.2v2.5h-3.2zM265.1 159h6.2v2.5h-6.2zM127.8 161.5h3.1v2.5h-3.1zM140.3 161.5h6.2v2.5h-6.2zM227.6 161.5h6.3v2.5h-6.3zM274.4 161.5h3.2v2.5h-3.2zM90.4 164h3.1v2.5h-3.1zM109.1 164h3.1v2.5h-3.1zM127.8 164h3.1v2.5h-3.1zM184 164h3.1v2.5h-3.1zM190.2 164h3.1v2.5h-3.1zM199.6 164h3.1v2.5h-3.1zM221.4 164h3.1v2.5h-3.1zM252.6 164h3.1v2.5h-3.1zM271.3 164h6.3v2.5h-6.3zM290 164h3.2v2.5h-3.2zM184 166.5h3.1v2.5h-3.1zM190.2 166.5h3.1v2.5h-3.1zM199.6 166.5h3.1v2.5h-3.1zM215.2 166.5h3.1v2.5h-3.1zM230.8 166.5h3.1v2.5h-3.1zM252.6 166.5h3.1v2.5h-3.1zM271.3 166.5h3.1v2.5h-3.1zM283.8 166.5h3.1v2.5h-3.1zM290 166.5h3.2v2.5h-3.2zM184 169h3.1v2.5h-3.1zM215.2 169h3.1v2.5h-3.1zM249.5 169h3.1v2.5h-3.1zM265.1 169h3.1v2.5h-3.1zM283.8 169h3.1v2.5h-3.1zM130.9 171.5h3.1v2.5h-3.1zM184 171.5h3.1v2.5h-3.1zM208.9 171.5h3.1v2.5h-3.1zM221.4 171.5h3.1v2.5h-3.1zM249.5 171.5h3.1v2.5h-3.1zM255.7 171.5h9.4v2.5h-9.4zM274.4 171.5h3.2v2.5h-3.2zM290 171.5h3.2v2.5h-3.2zM90.4 174h3.1v2.5h-3.1zM99.7 174h3.1v2.5h-3.1zM146.5 174h3.1v2.5h-3.1zM152.8 174h3.1v2.5h-3.1zM184 174h3.1v2.5h-3.1zM208.9 174h3.1v2.5h-3.1zM262 174h3.1v2.5h-3.1zM274.4 174h3.2v2.5h-3.2zM77.9 176.5h3.1v2.5h-3.1zM84.1 176.5h3.1v2.5h-3.1zM90.4 176.5h3.1v2.5h-3.1zM121.6 176.5h3.1v2.5h-3.1zM162.1 176.5h3.1v2.5h-3.1zM202.7 176.5h3.1v2.5h-3.1zM215.2 176.5h3.1v2.5h-3.1zM258.8 176.5h3.2v2.5h-3.2zM280.7 176.5h3.1v2.5h-3.1zM84.1 179h3.1v2.5h-3.1zM202.7 179h3.1v2.5h-3.1zM246.4 179h3.1v2.5h-3.1zM258.8 179h6.3v2.5h-6.3zM280.7 179h3.1v2.5h-3.1zM96.6 181.5h3.1v2.5h-3.1zM199.6 181.5h3.1v2.5h-3.1zM227.6 181.5h6.3v2.5h-6.3zM283.8 181.5h3.1v2.5h-3.1zM115.3 184h3.1v2.5h-3.1zM130.9 184h3.1v2.5h-3.1zM143.4 184h3.1v2.5h-3.1zM177.7 184h3.1v2.5h-3.1zM196.4 184h3.2v2.5h-3.2zM215.2 184h3.1v2.5h-3.1zM221.4 184h3.1v2.5h-3.1zM230.8 184h3.1v2.5h-3.1zM271.3 184h3.1v2.5h-3.1zM277.6 184h3.1v2.5h-3.1zM283.8 184h3.1v2.5h-3.1zM115.3 186.5h3.1v2.5h-3.1zM121.6 186.5h3.1v2.5h-3.1zM130.9 186.5h3.1v2.5h-3.1zM137.2 186.5h3.1v2.5h-3.1zM143.4 186.5h3.1v2.5h-3.1zM177.7 186.5h3.1v2.5h-3.1zM202.7 186.5h6.2v2.5h-6.2zM215.2 186.5h9.3v2.5h-9.3zM286.9 186.5h3.1v2.5h-3.1zM87.2 189h6.3v2.5h-6.3zM137.2 189h3.1v2.5h-3.1zM199.6 189h3.1v2.5h-3.1zM205.8 189h3.1v2.5h-3.1zM218.3 189h3.1v2.5h-3.1zM224.5 189h3.1v2.5h-3.1zM240.1 189h3.1v2.5h-3.1zM271.3 189h3.1v2.5h-3.1zM280.7 189h3.1v2.5h-3.1zM286.9 189h3.1v2.5h-3.1zM87.2 191.5h9.4v2.5h-9.4zM109.1 191.5h3.1v2.5h-3.1zM118.4 191.5h6.3v2.5h-6.3zM199.6 191.5h3.1v2.5h-3.1zM224.5 191.5h6.3v2.5h-6.3zM240.1 191.5h3.1v2.5h-3.1zM252.6 191.5h3.1v2.5h-3.1zM258.8 191.5h3.2v2.5h-3.2zM271.3 191.5h3.1v2.5h-3.1zM90.4 194h3.1v2.5h-3.1zM118.4 194h3.2v2.5h-3.2zM199.6 194h3.1v2.5h-3.1zM249.5 194h9.3v2.5h-9.3zM268.2 194h3.1v2.5h-3.1zM106 196.5h3.1v0.5h-3.1zM112.2 196.5h3.1v0.5h-3.1zM121.6 196.5h3.1v0.5h-3.1zM162.1 196.5h3.1v0.5h-3.1zM171.5 196.5h3.1v0.5h-3.1zM184 196.5h3.1v0.5h-3.1zM193.3 196.5h3.1v0.5h-3.1zM212 196.5h3.2v0.5h-3.2zM246.4 196.5h3.1v0.5h-3.1zM268.2 196.5h3.1v0.5h-3.1zM286.9 196.5h3.1v0.5h-3.1z"/>
<path fill="#6f00c9" d="M84.1 39h3.1v2.5h-3.1zM84.1 41.5h3.1v2.5h-3.1zM81 44h6.2v2.5h-6.2zM84.1 49h3.1v2.5h-3.1zM84.1 51.5h3.1v2.5h-3.1zM81 56.5h6.2v2.5h-6.2zM215.2 61.5h3.1v2.5h-3.1zM118.4 64h6.3v2.5h-6.3zM137.2 64h3.1v2.5h-3.1zM152.8 64h3.1v2.5h-3.1zM162.1 64h6.3v2.5h-6.3zM171.5 64h6.2v2.5h-6.2zM230.8 64h3.1v2.5h-3.1zM246.4 64h3.1v2.5h-3.1zM262 64h3.1v2.5h-3.1zM274.4 64h3.2v2.5h-3.2zM293.2 64h1.3v2.5h-1.3zM81 66.5h3.1v2.5h-3.1zM130.9 66.5h3.1v2.5h-3.1zM137.2 66.5h3.1v2.5h-3.1zM143.4 66.5h3.1v2.5h-3.1zM149.6 66.5h3.2v2.5h-3.2zM168.4 66.5h6.2v2.5h-6.2zM187.1 66.5h3.1v2.5h-3.1zM212 66.5h3.2v2.5h-3.2zM230.8 66.5h3.1v2.5h-3.1zM243.2 66.5h3.2v2.5h-3.2zM265.1 66.5h3.1v2.5h-3.1zM277.6 66.5h6.2v2.5h-6.2zM112.2 69h3.1v2.5h-3.1zM134 69h6.3v2.5h-6.3zM146.5 69h3.1v2.5h-3.1zM159 69h3.1v2.5h-3.1zM187.1 69h3.1v2.5h-3.1zM205.8 69h3.1v2.5h-3.1zM252.6 69h3.1v2.5h-3.1zM274.4 69h3.2v2.5h-3.2zM81 71.5h3.1v2.5h-3.1zM121.6 71.5h3.1v2.5h-3.1zM130.9 71.5h3.1v2.5h-3.1zM137.2 71.5h3.1v2.5h-3.1zM168.4 71.5h3.1v2.5h-3.1zM174.6 71.5h3.1v2.5h-3.1zM184 71.5h3.1v2.5h-3.1zM193.3 71.5h3.1v2.5h-3.1zM199.6 71.5h6.2v2.5h-6.2zM208.9 71.5h6.3v2.5h-6.3zM221.4 71.5h3.1v2.5h-3.1zM262 71.5h3.1v2.5h-3.1zM286.9 71.5h6.3v2.5h-6.3zM81 74h3.1v2.5h-3.1zM127.8 74h3.1v2.5h-3.1zM155.9 74h3.1v2.5h-3.1zM165.2 74h6.3v2.5h-6.3zM190.2 74h3.1v2.5h-3.1zM196.4 74h3.2v2.5h-3.2zM212 74h18.8v2.5h-18.8zM233.9 74h9.3v2.5h-9.3zM255.7 74h6.3v2.5h-6.3zM277.6 74h3.1v2.5h-3.1zM286.9 74h3.1v2.5h-3.1zM106 76.5h3.1v2.5h-3.1zM127.8 76.5h3.1v2.5h-3.1zM137.2 76.5h3.1v2.5h-3.1zM143.4 76.5h3.1v2.5h-3.1zM155.9 76.5h3.1v2.5h-3.1zM171.5 76.5h6.2v2.5h-6.2zM190.2 76.5h3.1v2.5h-3.1zM199.6 76.5h3.1v2.5h-3.1zM205.8 76.5h3.1v2.5h-3.1zM212 76.5h6.3v2.5h-6.3zM221.4 76.5h6.2v2.5h-6.2zM243.2 76.5h6.3v2.5h-6.3zM255.7 76.5h6.3v2.5h-6.3zM268.2 76.5h3.1v2.5h-3.1zM286.9 76.5h7.6v2.5h-7.6zM87.2 79h3.2v2.5h-3.2zM99.7 79h3.1v2.5h-3.1zM106 79h3.1v2.5h-3.1zM115.3 79h9.4v2.5h-9.4zM137.2 79h3.1v2.5h-3.1zM146.5 79h3.1v2.5h-3.1zM159 79h6.2v2.5h-6.2zM171.5 79h3.1v2.5h-3.1zM180.8 79h3.2v2.5h-3.2zM190.2 79h3.1v2.5h-3.1zM205.8 79h6.2v2.5h-6.2zM215.2 79h3.1v2.5h-3.1zM221.4 79h3.1v2.5h-3.1zM227.6 79h6.3v2.5h-6.3zM252.6 79h3.1v2.5h-3.1zM262 79h3.1v2.5h-3.1zM274.4 79h3.2v2.5h-3.2zM290 79h4.5v2.5h-4.5zM90.4 81.5h3.1v2.5h-3.1zM109.1 81.5h6.2v2.5h-6.2zM130.9 81.5h3.1v2.5h-3.1zM137.2 81.5h3.1v2.5h-3.1zM149.6 81.5h3.2v2.5h-3.2zM162.1 81.5h3.1v2.5h-3.1zM168.4 81.5h3.1v2.5h-3.1zM174.6 81.5h6.2v2.5h-6.2zM184 81.5h3.1v2.5h-3.1zM193.3 81.5h3.1v2.5h-3.1zM205.8 81.5h9.4v2.5h-9.4zM221.4 81.5h9.4v2.5h-9.4zM233.9 81.5h3.1v2.5h-3.1zM240.1 81.5h3.1v2.5h-3.1zM246.4 81.5h6.2v2.5h-6.2zM290 81.5h4.5v2.5h-4.5zM109.1 84h6.2v2.5h-6.2zM127.8 84h3.1v2.5h-3.1zM134 84h3.2v2.5h-3.2zM149.6 84h6.3v2.5h-6.3zM159 84h3.1v2.5h-3.1zM168.4 84h3.1v2.5h-3.1zM174.6 84h3.1v2.5h-3.1zM184 84h3.1v2.5h-3.1zM190.2 84h9.4v2.5h-9.4zM208.9 84h9.4v2.5h-9.4zM224.5 84h3.1v2.5h-3.1zM249.5 84h3.1v2.5h-3.1zM268.2 84h3.1v2.5h-3.1zM280.7 84h3.1v2.5h-3.1zM286.9 84h7.6v2.5h-7.6zM84.1 86.5h3.1v2.5h-3.1zM96.6 86.5h3.1v2.5h-3.1zM109.1 86.5h3.1v2.5h-3.1zM115.3 86.5h3.1v2.5h-3.1zM130.9 86.5h12.5v2.5h-12.5zM146.5 86.5h3.1v2.5h-3.1zM162.1 86.5h6.3v2.5h-6.3zM171.5 86.5h3.1v2.5h-3.1zM196.4 86.5h3.2v2.5h-3.2zM202.7 86.5h3.1v2.5h-3.1zM215.2 86.5h3.1v2.5h-3.1zM230.8 86.5h3.1v2.5h-3.1zM265.1 86.5h3.1v2.5h-3.1zM271.3 86.5h6.3v2.5h-6.3zM290 86.5h3.2v2.5h-3.2zM90.4 89h3.1v2.5h-3.1zM118.4 89h3.2v2.5h-3.2zM124.7 89h9.3v2.5h-9.3zM137.2 89h9.3v2.5h-9.3zM162.1 89h3.1v2.5h-3.1zM171.5 89h3.1v2.5h-3.1zM177.7 89h3.1v2.5h-3.1zM187.1 89h3.1v2.5h-3.1zM202.7 89h3.1v2.5h-3.1zM215.2 89h15.6v2.5h-15.6zM233.9 89h3.1v2.5h-3.1zM249.5 89h6.2v2.5h-6.2zM258.8 89h6.3v2.5h-6.3zM271.3 89h3.1v2.5h-3.1zM293.2 89h1.3v2.5h-1.3zM81 91.5h3.1v2.5h-3.1zM102.8 91.5h3.2v2.5h-3.2zM115.3 91.5h6.3v2.5h-6.3zM152.8 91.5h3.1v2.5h-3.1zM168.4 91.5h3.1v2.5h-3.1zM187.1 91.5h6.2v2.5h-6.2zM202.7 91.5h6.2v2.5h-6.2zM233.9 91.5h3.1v2.5h-3.1zM240.1 91.5h3.1v2.5h-3.1zM246.4 91.5h3.1v2.5h-3.1zM258.8 91.5h3.2v2.5h-3.2zM277.6 91.5h3.1v2.5h-3.1zM286.9 91.5h3.1v2.5h-3.1zM93.5 94h3.1v2.5h-3.1zM106 94h3.1v2.5h-3.1zM112.2 94h6.2v2.5h-6.2zM134 94h6.3v2.5h-6.3zM146.5 94h3.1v2.5h-3.1zM155.9 94h6.2v2.5h-6.2zM168.4 94h3.1v2.5h-3.1zM180.8 94h3.2v2.5h-3.2zM196.4 94h6.3v2.5h-6.3zM205.8 94h3.1v2.5h-3.1zM218.3 94h3.1v2.5h-3.1zM227.6 94h6.3v2.5h-6.3zM237 94h3.1v2.5h-3.1zM268.2 94h6.2v2.5h-6.2zM280.7 94h3.1v2.5h-3.1zM286.9 94h6.3v2.5h-6.3zM87.2 96.5h6.3v2.5h-6.3zM109.1 96.5h3.1v2.5h-3.1zM124.7 96.5h3.1v2.5h-3.1zM137.2 96.5h3.1v2.5h-3.1zM162.1 96.5h3.1v2.5h-3.1zM168.4 96.5h3.1v2.5h-3.1zM174.6 96.5h6.2v2.5h-6.2zM212 96.5h9.4v2.5h-9.4zM227.6 96.5h3.2v2.5h-3.2zM233.9 96.5h3.1v2.5h-3.1zM262 96.5h3.1v2.5h-3.1zM268.2 96.5h3.1v2.5h-3.1zM274.4 96.5h6.3v2.5h-6.3zM81 99h3.1v2.5h-3.1zM87.2 99h3.2v2.5h-3.2zM109.1 99h9.3v2.5h-9.3zM124.7 99h3.1v2.5h-3.1zM146.5 99h3.1v2.5h-3.1zM159 99h3.1v2.5h-3.1zM165.2 99h3.2v2.5h-3.2zM171.5 99h3.1v2.5h-3.1zM190.2 99h3.1v2.5h-3.1zM212 99h3.2v2.5h-3.2zM221.4 99h3.1v2.5h-3.1zM230.8 99h3.1v2.5h-3.1zM249.5 99h9.3v2.5h-9.3zM268.2 99h6.2v2.5h-6.2zM280.7 99h6.2v2.5h-6.2zM93.5 101.5h3.1v2.5h-3.1zM115.3 101.5h6.3v2.5h-6.3zM127.8 101.5h3.1v2.5h-3.1zM134 101.5h3.2v2.5h-3.2zM146.5 101.5h3.1v2.5h-3.1zM165.2 101.5h3.2v2.5h-3.2zM174.6 101.5h3.1v2.5h-3.1zM187.1 101.5h9.3v2.5h-9.3zM205.8 101.5h3.1v2.5h-3.1zM212 101.5h9.4v2.5h-9.4zM230.8 101.5h3.1v2.5h-3.1zM240.1 101.5h3.1v2.5h-3.1zM252.6 101.5h6.2v2.5h-6.2zM265.1 101.5h15.6v2.5h-15.6zM286.9 101.5h3.1v2.5h-3.1zM87.2 104h3.2v2.5h-3.2zM99.7 104h9.4v2.5h-9.4zM124.7 104h3.1v2.5h-3.1zM134 104h3.2v2.5h-3.2zM143.4 104h3.1v2.5h-3.1zM162.1 104h3.1v2.5h-3.1zM168.4 104h6.2v2.5h-6.2zM196.4 104h3.2v2.5h-3.2zM205.8 104h3.1v2.5h-3.1zM224.5 104h3.1v2.5h-3.1zM233.9 104h3.1v2.5h-3.1zM258.8 104h3.2v2.5h-3.2zM265.1 104h3.1v2.5h-3.1zM283.8 104h3.1v2.5h-3.1zM84.1 106.5h3.1v2.5h-3.1zM102.8 106.5h3.2v2.5h-3.2zM112.2 106.5h3.1v2.5h-3.1zM155.9 106.5h3.1v2.5h-3.1zM205.8 106.5h3.1v2.5h-3.1zM218.3 106.5h6.2v2.5h-6.2zM230.8 106.5h6.2v2.5h-6.2zM240.1 106.5h6.3v2.5h-6.3zM258.8 106.5h3.2v2.5h-3.2zM268.2 106.5h9.4v2.5h-9.4zM283.8 106.5h3.1v2.5h-3.1zM96.6 109h3.1v2.5h-3.1zM109.1 109h3.1v2.5h-3.1zM208.9 109h3.1v2.5h-3.1zM215.2 109h12.4v2.5h-12.4zM233.9 109h3.1v2.5h-3.1zM243.2 109h6.3v2.5h-6.3zM252.6 109h3.1v2.5h-3.1zM258.8 109h3.2v2.5h-3.2zM268.2 109h3.1v2.5h-3.1zM274.4 109h3.2v2.5h-3.2zM283.8 109h3.1v2.5h-3.1zM293.2 109h1.3v2.5h-1.3zM96.6 111.5h3.1v2.5h-3.1zM109.1 111.5h3.1v2.5h-3.1zM208.9 111.5h12.5v2.5h-12.5zM227.6 111.5h3.2v2.5h-3.2zM243.2 111.5h3.2v2.5h-3.2zM255.7 111.5h3.1v2.5h-3.1zM262 111.5h6.2v2.5h-6.2zM280.7 111.5h3.1v2.5h-3.1zM286.9 111.5h6.3v2.5h-6.3zM87.2 114h3.2v2.5h-3.2zM212 114h18.8v2.5h-18.8zM243.2 114h3.2v2.5h-3.2zM262 114h3.1v2.5h-3.1zM271.3 114h3.1v2.5h-3.1zM283.8 114h3.1v2.5h-3.1zM84.1 116.5h6.3v2.5h-6.3zM99.7 116.5h3.1v2.5h-3.1zM205.8 116.5h3.1v2.5h-3.1zM212 116.5h3.2v2.5h-3.2zM237 116.5h3.1v2.5h-3.1zM243.2 116.5h3.2v2.5h-3.2zM249.5 116.5h3.1v2.5h-3.1zM262 116.5h3.1v2.5h-3.1zM268.2 116.5h3.1v2.5h-3.1zM84.1 119h3.1v2.5h-3.1zM202.7 119h6.2v2.5h-6.2zM215.2 119h3.1v2.5h-3.1zM240.1 119h6.3v2.5h-6.3zM252.6 119h6.2v2.5h-6.2zM262 119h6.2v2.5h-6.2zM277.6 119h3.1v2.5h-3.1zM293.2 119h1.3v2.5h-1.3zM180.8 121.5h3.2v2.5h-3.2zM193.3 121.5h3.1v2.5h-3.1zM208.9 121.5h6.3v2.5h-6.3zM224.5 121.5h3.1v2.5h-3.1zM233.9 121.5h3.1v2.5h-3.1zM252.6 121.5h6.2v2.5h-6.2zM280.7 121.5h6.2v2.5h-6.2zM87.2 124h3.2v2.5h-3.2zM127.8 124h3.1v2.5h-3.1zM134 124h3.2v2.5h-3.2zM140.3 124h3.1v2.5h-3.1zM146.5 124h3.1v2.5h-3.1zM168.4 124h6.2v2.5h-6.2zM180.8 124h3.2v2.5h-3.2zM190.2 124h6.2v2.5h-6.2zM215.2 124h3.1v2.5h-3.1zM230.8 124h3.1v2.5h-3.1zM237 124h3.1v2.5h-3.1zM246.4 124h3.1v2.5h-3.1zM258.8 124h3.2v2.5h-3.2zM268.2 124h6.2v2.5h-6.2zM280.7 124h3.1v2.5h-3.1zM81 126.5h3.1v2.5h-3.1zM165.2 126.5h3.2v2.5h-3.2zM171.5 126.5h3.1v2.5h-3.1zM187.1 126.5h3.1v2.5h-3.1zM193.3 126.5h3.1v2.5h-3.1zM199.6 126.5h6.2v2.5h-6.2zM221.4 126.5h3.1v2.5h-3.1zM246.4 126.5h3.1v2.5h-3.1zM255.7 126.5h9.4v2.5h-9.4zM140.3 129h3.1v2.5h-3.1zM146.5 129h3.1v2.5h-3.1zM162.1 129h3.1v2.5h-3.1zM184 129h3.1v2.5h-3.1zM202.7 129h3.1v2.5h-3.1zM224.5 129h3.1v2.5h-3.1zM252.6 129h3.1v2.5h-3.1zM265.1 129h3.1v2.5h-3.1zM286.9 129h3.1v2.5h-3.1zM124.7 131.5h3.1v2.5h-3.1zM162.1 131.5h3.1v2.5h-3.1zM196.4 131.5h3.2v2.5h-3.2zM230.8 131.5h3.1v2.5h-3.1zM249.5 131.5h6.2v2.5h-6.2zM265.1 131.5h3.1v2.5h-3.1zM283.8 131.5h3.1v2.5h-3.1zM115.3 134h3.1v2.5h-3.1zM130.9 134h6.3v2.5h-6.3zM143.4 134h3.1v2.5h-3.1zM187.1 134h3.1v2.5h-3.1zM237 134h3.1v2.5h-3.1zM121.6 136.5h6.2v2.5h-6.2zM227.6 136.5h3.2v2.5h-3.2zM262 136.5h3.1v2.5h-3.1zM274.4 136.5h3.2v2.5h-3.2zM112.2 139h3.1v2.5h-3.1zM127.8 139h3.1v2.5h-3.1zM143.4 139h6.2v2.5h-6.2zM218.3 139h3.1v2.5h-3.1zM246.4 139h3.1v2.5h-3.1zM268.2 139h6.2v2.5h-6.2zM280.7 139h3.1v2.5h-3.1zM109.1 141.5h3.1v2.5h-3.1zM118.4 141.5h3.2v2.5h-3.2zM143.4 141.5h3.1v2.5h-3.1zM187.1 141.5h3.1v2.5h-3.1zM196.4 141.5h3.2v2.5h-3.2zM224.5 141.5h3.1v2.5h-3.1zM237 141.5h3.1v2.5h-3.1zM280.7 141.5h3.1v2.5h-3.1zM187.1 144h3.1v2.5h-3.1zM237 144h3.1v2.5h-3.1zM99.7 146.5h3.1v2.5h-3.1zM106 146.5h3.1v2.5h-3.1zM96.6 149h3.1v2.5h-3.1zM90.4 159h3.1v2.5h-3.1zM87.2 166.5h3.2v2.5h-3.2zM87.2 169h3.2v2.5h-3.2zM90.4 171.5h3.1v2.5h-3.1zM77.9 181.5h3.1v2.5h-3.1zM84.1 184h3.1v2.5h-3.1zM87.2 186.5h3.2v2.5h-3.2zM77.9 189h3.1v2.5h-3.1zM84.1 189h3.1v2.5h-3.1zM77.9 191.5h9.3v2.5h-9.3zM77.9 196.5h3.1v0.5h-3.1z"/>
<path fill="#ff6400" d="M134 39h3.2v2.5h-3.2zM215.2 39h6.2v2.5h-6.2zM243.2 39h3.2v2.5h-3.2zM134 41.5h3.2v2.5h-3.2zM159 41.5h3.1v2.5h-3.1zM165.2 41.5h6.3v2.5h-6.3zM233.9 41.5h3.1v2.5h-3.1zM243.2 41.5h3.2v2.5h-3.2zM258.8 41.5h6.3v2.5h-6.3zM283.8 41.5h3.1v2.5h-3.1zM130.9 44h9.4v2.5h-9.4zM143.4 44h3.1v2.5h-3.1zM152.8 44h3.1v2.5h-3.1zM165.2 44h3.2v2.5h-3.2zM233.9 44h3.1v2.5h-3.1zM265.1 44h3.1v2.5h-3.1zM277.6 44h3.1v2.5h-3.1zM146.5 46.5h3.1v2.5h-3.1zM196.4 46.5h3.2v2.5h-3.2z"/>
<path fill="#ff9100" d="M165.2 39h3.2v2.5h-3.2zM202.7 39h3.1v2.5h-3.1zM208.9 39h3.1v2.5h-3.1zM221.4 39h3.1v2.5h-3.1zM233.9 39h3.1v2.5h-3.1zM255.7 39h3.1v2.5h-3.1zM262 39h3.1v2.5h-3.1zM283.8 39h6.2v2.5h-6.2zM146.5 41.5h6.3v2.5h-6.3zM162.1 41.5h3.1v2.5h-3.1zM171.5 41.5h3.1v2.5h-3.1zM190.2 41.5h6.2v2.5h-6.2zM221.4 41.5h3.1v2.5h-3.1zM227.6 41.5h6.3v2.5h-6.3zM240.1 41.5h3.1v2.5h-3.1zM249.5 41.5h3.1v2.5h-3.1zM255.7 41.5h3.1v2.5h-3.1zM265.1 41.5h3.1v2.5h-3.1zM271.3 41.5h3.1v2.5h-3.1zM277.6 41.5h3.1v2.5h-3.1zM286.9 41.5h3.1v2.5h-3.1zM293.2 41.5h1.3v2.5h-1.3zM146.5 44h3.1v2.5h-3.1zM155.9 44h3.1v2.5h-3.1zM168.4 44h3.1v2.5h-3.1zM190.2 44h3.1v2.5h-3.1zM224.5 44h3.1v2.5h-3.1zM243.2 44h3.2v2.5h-3.2zM249.5 44h6.2v2.5h-6.2zM262 44h3.1v2.5h-3.1zM274.4 44h3.2v2.5h-3.2zM283.8 44h3.1v2.5h-3.1zM293.2 44h1.3v2.5h-1.3zM143.4 46.5h3.1v2.5h-3.1zM162.1 46.5h6.3v2.5h-6.3zM171.5 46.5h3.1v2.5h-3.1zM184 46.5h3.1v2.5h-3.1zM190.2 46.5h3.1v2.5h-3.1zM218.3 46.5h3.1v2.5h-3.1zM237 46.5h3.1v2.5h-3.1zM243.2 46.5h6.3v2.5h-6.3zM258.8 46.5h3.2v2.5h-3.2z"/>
<path fill="#6f00aa" d="M81 41.5h3.1v2.5h-3.1zM81 46.5h3.1v2.5h-3.1zM81 59h6.2v2.5h-6.2zM81 61.5h3.1v2.5h-3.1zM81 64h3.1v2.5h-3.1zM143.4 64h3.1v2.5h-3.1zM274.4 66.5h3.2v2.5h-3.2zM293.2 66.5h1.3v2.5h-1.3zM130.9 69h3.1v2.5h-3.1zM168.4 69h3.1v2.5h-3.1zM199.6 69h3.1v2.5h-3.1zM258.8 69h3.2v2.5h-3.2zM280.7 69h3.1v2.5h-3.1zM162.1 71.5h6.3v2.5h-6.3zM258.8 71.5h3.2v2.5h-3.2zM140.3 74h3.1v2.5h-3.1zM171.5 74h3.1v2.5h-3.1zM243.2 74h3.2v2.5h-3.2zM290 74h4.5v2.5h-4.5zM121.6 76.5h3.1v2.5h-3.1zM130.9 76.5h3.1v2.5h-3.1zM165.2 76.5h6.3v2.5h-6.3zM196.4 76.5h3.2v2.5h-3.2zM227.6 76.5h9.4v2.5h-9.4zM274.4 76.5h9.4v2.5h-9.4zM90.4 79h3.1v2.5h-3.1zM130.9 79h3.1v2.5h-3.1zM165.2 79h6.3v2.5h-6.3zM212 79h3.2v2.5h-3.2zM233.9 79h3.1v2.5h-3.1zM280.7 79h3.1v2.5h-3.1zM286.9 79h3.1v2.5h-3.1zM118.4 81.5h3.2v2.5h-3.2zM165.2 81.5h3.2v2.5h-3.2zM215.2 81.5h3.1v2.5h-3.1zM286.9 81.5h3.1v2.5h-3.1zM90.4 84h3.1v2.5h-3.1zM121.6 84h3.1v2.5h-3.1zM130.9 84h3.1v2.5h-3.1zM137.2 84h3.1v2.5h-3.1zM143.4 84h3.1v2.5h-3.1zM165.2 84h3.2v2.5h-3.2zM243.2 84h6.3v2.5h-6.3zM277.6 84h3.1v2.5h-3.1zM93.5 86.5h3.1v2.5h-3.1zM102.8 86.5h3.2v2.5h-3.2zM112.2 86.5h3.1v2.5h-3.1zM124.7 86.5h6.2v2.5h-6.2zM143.4 86.5h3.1v2.5h-3.1zM199.6 86.5h3.1v2.5h-3.1zM208.9 86.5h3.1v2.5h-3.1zM221.4 86.5h3.1v2.5h-3.1zM237 86.5h3.1v2.5h-3.1zM243.2 86.5h3.2v2.5h-3.2zM249.5 86.5h3.1v2.5h-3.1zM255.7 86.5h3.1v2.5h-3.1zM262 86.5h3.1v2.5h-3.1zM277.6 86.5h6.2v2.5h-6.2zM293.2 86.5h1.3v2.5h-1.3zM93.5 89h3.1v2.5h-3.1zM99.7 89h3.1v2.5h-3.1zM109.1 89h6.2v2.5h-6.2zM121.6 89h3.1v2.5h-3.1zM180.8 89h3.2v2.5h-3.2zM193.3 89h9.4v2.5h-9.4zM237 89h3.1v2.5h-3.1zM280.7 89h3.1v2.5h-3.1zM87.2 91.5h3.2v2.5h-3.2zM96.6 91.5h6.2v2.5h-6.2zM130.9 91.5h6.3v2.5h-6.3zM180.8 91.5h3.2v2.5h-3.2zM196.4 91.5h6.3v2.5h-6.3zM218.3 91.5h3.1v2.5h-3.1zM249.5 91.5h3.1v2.5h-3.1zM262 91.5h3.1v2.5h-3.1zM87.2 94h6.3v2.5h-6.3zM99.7 94h6.3v2.5h-6.3zM109.1 94h3.1v2.5h-3.1zM130.9 94h3.1v2.5h-3.1zM162.1 94h3.1v2.5h-3.1zM174.6 94h3.1v2.5h-3.1zM190.2 94h3.1v2.5h-3.1zM202.7 94h3.1v2.5h-3.1zM246.4 94h3.1v2.5h-3.1zM258.8 94h6.3v2.5h-6.3zM277.6 94h3.1v2.5h-3.1zM96.6 96.5h6.2v2.5h-6.2zM118.4 96.5h3.2v2.5h-3.2zM130.9 96.5h3.1v2.5h-3.1zM143.4 96.5h3.1v2.5h-3.1zM159 96.5h3.1v2.5h-3.1zM165.2 96.5h3.2v2.5h-3.2zM180.8 96.5h3.2v2.5h-3.2zM190.2 96.5h9.4v2.5h-9.4zM224.5 96.5h3.1v2.5h-3.1zM237 96.5h3.1v2.5h-3.1zM265.1 96.5h3.1v2.5h-3.1zM280.7 96.5h3.1v2.5h-3.1zM93.5 99h9.3v2.5h-9.3zM118.4 99h6.3v2.5h-6.3zM134 99h3.2v2.5h-3.2zM143.4 99h3.1v2.5h-3.1zM155.9 99h3.1v2.5h-3.1zM177.7 99h3.1v2.5h-3.1zM187.1 99h3.1v2.5h-3.1zM193.3 99h3.1v2.5h-3.1zM224.5 99h3.1v2.5h-3.1zM246.4 99h3.1v2.5h-3.1zM90.4 101.5h3.1v2.5h-3.1zM99.7 101.5h12.5v2.5h-12.5zM124.7 101.5h3.1v2.5h-3.1zM177.7 101.5h3.1v2.5h-3.1zM184 101.5h3.1v2.5h-3.1zM199.6 101.5h6.2v2.5h-6.2zM221.4 101.5h3.1v2.5h-3.1zM243.2 101.5h3.2v2.5h-3.2zM249.5 101.5h3.1v2.5h-3.1zM280.7 101.5h6.2v2.5h-6.2zM90.4 104h6.2v2.5h-6.2zM109.1 104h3.1v2.5h-3.1zM127.8 104h3.1v2.5h-3.1zM149.6 104h3.2v2.5h-3.2zM155.9 104h3.1v2.5h-3.1zM218.3 104h3.1v2.5h-3.1zM268.2 104h6.2v2.5h-6.2zM277.6 104h6.2v2.5h-6.2zM286.9 104h3.1v2.5h-3.1zM87.2 106.5h9.4v2.5h-9.4zM99.7 106.5h3.1v2.5h-3.1zM106 106.5h6.2v2.5h-6.2zM224.5 106.5h3.1v2.5h-3.1zM262 106.5h6.2v2.5h-6.2zM277.6 106.5h3.1v2.5h-3.1zM286.9 106.5h3.1v2.5h-3.1zM87.2 109h9.4v2.5h-9.4zM102.8 109h3.2v2.5h-3.2zM230.8 109h3.1v2.5h-3.1zM265.1 109h3.1v2.5h-3.1zM277.6 109h6.2v2.5h-6.2zM286.9 109h3.1v2.5h-3.1zM87.2 111.5h9.4v2.5h-9.4zM230.8 111.5h3.1v2.5h-3.1zM258.8 111.5h3.2v2.5h-3.2zM268.2 111.5h3.1v2.5h-3.1zM274.4 111.5h3.2v2.5h-3.2zM283.8 111.5h3.1v2.5h-3.1zM96.6 114h9.4v2.5h-9.4zM258.8 114h3.2v2.5h-3.2zM268.2 114h3.1v2.5h-3.1zM93.5 116.5h3.1v2.5h-3.1zM215.2 116.5h3.1v2.5h-3.1zM221.4 116.5h3.1v2.5h-3.1zM252.6 116.5h3.1v2.5h-3.1zM271.3 116.5h6.3v2.5h-6.3zM87.2 119h3.2v2.5h-3.2zM99.7 119h6.3v2.5h-6.3zM212 119h3.2v2.5h-3.2zM218.3 119h3.1v2.5h-3.1zM230.8 119h3.1v2.5h-3.1zM237 119h3.1v2.5h-3.1zM280.7 119h9.3v2.5h-9.3zM187.1 121.5h3.1v2.5h-3.1zM196.4 121.5h3.2v2.5h-3.2zM205.8 121.5h3.1v2.5h-3.1zM237 121.5h3.1v2.5h-3.1zM243.2 121.5h3.2v2.5h-3.2zM265.1 121.5h3.1v2.5h-3.1zM274.4 121.5h6.3v2.5h-6.3zM137.2 124h3.1v2.5h-3.1zM143.4 124h3.1v2.5h-3.1zM184 124h6.2v2.5h-6.2zM202.7 124h6.2v2.5h-6.2zM218.3 124h9.3v2.5h-9.3zM249.5 124h6.2v2.5h-6.2zM277.6 124h3.1v2.5h-3.1zM286.9 124h3.1v2.5h-3.1zM121.6 126.5h3.1v2.5h-3.1zM127.8 126.5h3.1v2.5h-3.1zM137.2 126.5h3.1v2.5h-3.1zM143.4 126.5h3.1v2.5h-3.1zM155.9 126.5h3.1v2.5h-3.1zM162.1 126.5h3.1v2.5h-3.1zM168.4 126.5h3.1v2.5h-3.1zM177.7 126.5h3.1v2.5h-3.1zM184 126.5h3.1v2.5h-3.1zM196.4 126.5h3.2v2.5h-3.2zM205.8 126.5h3.1v2.5h-3.1zM218.3 126.5h3.1v2.5h-3.1zM224.5 126.5h3.1v2.5h-3.1zM237 126.5h3.1v2.5h-3.1zM252.6 126.5h3.1v2.5h-3.1zM265.1 126.5h3.1v2.5h-3.1zM271.3 126.5h3.1v2.5h-3.1zM277.6 126.5h9.3v2.5h-9.3zM290 126.5h4.5v2.5h-4.5zM127.8 129h3.1v2.5h-3.1zM137.2 129h3.1v2.5h-3.1zM152.8 129h3.1v2.5h-3.1zM159 129h3.1v2.5h-3.1zM174.6 129h3.1v2.5h-3.1zM187.1 129h6.2v2.5h-6.2zM196.4 129h6.3v2.5h-6.3zM205.8 129h3.1v2.5h-3.1zM212 129h6.3v2.5h-6.3zM249.5 129h3.1v2.5h-3.1zM258.8 129h6.3v2.5h-6.3zM271.3 129h3.1v2.5h-3.1zM277.6 129h9.3v2.5h-9.3zM290 129h4.5v2.5h-4.5zM143.4 131.5h3.1v2.5h-3.1zM149.6 131.5h3.2v2.5h-3.2zM165.2 131.5h3.2v2.5h-3.2zM184 131.5h3.1v2.5h-3.1zM190.2 131.5h3.1v2.5h-3.1zM199.6 131.5h3.1v2.5h-3.1zM205.8 131.5h6.2v2.5h-6.2zM243.2 131.5h6.3v2.5h-6.3zM258.8 131.5h6.3v2.5h-6.3zM286.9 131.5h6.3v2.5h-6.3zM124.7 134h3.1v2.5h-3.1zM140.3 134h3.1v2.5h-3.1zM149.6 134h3.2v2.5h-3.2zM162.1 134h3.1v2.5h-3.1zM190.2 134h6.2v2.5h-6.2zM199.6 134h3.1v2.5h-3.1zM218.3 134h3.1v2.5h-3.1zM227.6 134h6.3v2.5h-6.3zM249.5 134h3.1v2.5h-3.1zM268.2 134h3.1v2.5h-3.1zM283.8 134h9.4v2.5h-9.4zM115.3 136.5h3.1v2.5h-3.1zM137.2 136.5h3.1v2.5h-3.1zM152.8 136.5h3.1v2.5h-3.1zM184 136.5h3.1v2.5h-3.1zM193.3 136.5h3.1v2.5h-3.1zM240.1 136.5h3.1v2.5h-3.1zM249.5 136.5h3.1v2.5h-3.1zM255.7 136.5h3.1v2.5h-3.1zM290 136.5h3.2v2.5h-3.2zM115.3 139h3.1v2.5h-3.1zM152.8 139h3.1v2.5h-3.1zM159 139h3.1v2.5h-3.1zM184 139h3.1v2.5h-3.1zM274.4 139h3.2v2.5h-3.2zM112.2 141.5h6.2v2.5h-6.2zM121.6 141.5h3.1v2.5h-3.1zM146.5 141.5h3.1v2.5h-3.1zM180.8 141.5h3.2v2.5h-3.2zM202.7 141.5h3.1v2.5h-3.1zM246.4 141.5h3.1v2.5h-3.1zM268.2 141.5h6.2v2.5h-6.2zM96.6 144h6.2v2.5h-6.2zM106 144h3.1v2.5h-3.1zM118.4 144h3.2v2.5h-3.2zM127.8 144h3.1v2.5h-3.1zM180.8 144h3.2v2.5h-3.2zM190.2 144h3.1v2.5h-3.1zM196.4 144h3.2v2.5h-3.2zM202.7 144h3.1v2.5h-3.1zM224.5 144h3.1v2.5h-3.1zM127.8 146.5h3.1v2.5h-3.1zM159 146.5h3.1v2.5h-3.1zM190.2 146.5h3.1v2.5h-3.1zM240.1 146.5h6.3v2.5h-6.3zM93.5 149h3.1v2.5h-3.1zM124.7 149h3.1v2.5h-3.1zM159 149h3.1v2.5h-3.1zM193.3 149h3.1v2.5h-3.1zM280.7 149h3.1v2.5h-3.1zM93.5 151.5h6.2v2.5h-6.2zM124.7 151.5h9.3v2.5h-9.3zM199.6 151.5h3.1v2.5h-3.1zM243.2 151.5h6.3v2.5h-6.3zM262 151.5h3.1v2.5h-3.1zM130.9 154h3.1v2.5h-3.1zM243.2 154h3.2v2.5h-3.2zM265.1 154h3.1v2.5h-3.1zM293.2 154h1.3v2.5h-1.3zM121.6 156.5h3.1v2.5h-3.1zM277.6 156.5h3.1v2.5h-3.1zM286.9 156.5h3.1v2.5h-3.1zM159 159h3.1v2.5h-3.1zM205.8 159h3.1v2.5h-3.1zM252.6 159h3.1v2.5h-3.1zM277.6 159h3.1v2.5h-3.1zM90.4 161.5h3.1v2.5h-3.1zM109.1 161.5h3.1v2.5h-3.1zM180.8 161.5h3.2v2.5h-3.2zM190.2 161.5h3.1v2.5h-3.1zM205.8 161.5h3.1v2.5h-3.1zM290 161.5h4.5v2.5h-4.5zM87.2 164h3.2v2.5h-3.2zM180.8 164h3.2v2.5h-3.2zM227.6 164h3.2v2.5h-3.2zM293.2 164h1.3v2.5h-1.3zM90.4 166.5h3.1v2.5h-3.1zM140.3 166.5h3.1v2.5h-3.1zM152.8 166.5h3.1v2.5h-3.1zM265.1 166.5h3.1v2.5h-3.1zM130.9 169h3.1v2.5h-3.1zM140.3 169h3.1v2.5h-3.1zM152.8 169h3.1v2.5h-3.1zM199.6 169h3.1v2.5h-3.1zM255.7 169h3.1v2.5h-3.1zM290 169h3.2v2.5h-3.2zM99.7 171.5h3.1v2.5h-3.1zM215.2 174h3.1v2.5h-3.1zM106 176.5h3.1v2.5h-3.1zM146.5 176.5h3.1v2.5h-3.1zM152.8 176.5h3.1v2.5h-3.1zM168.4 176.5h3.1v2.5h-3.1zM77.9 179h3.1v2.5h-3.1zM87.2 179h6.3v2.5h-6.3zM106 179h3.1v2.5h-3.1zM121.6 179h3.1v2.5h-3.1zM162.1 179h3.1v2.5h-3.1zM168.4 179h3.1v2.5h-3.1zM215.2 179h3.1v2.5h-3.1zM84.1 181.5h12.5v2.5h-12.5zM106 181.5h3.1v2.5h-3.1zM215.2 181.5h3.1v2.5h-3.1zM262 181.5h3.1v2.5h-3.1zM271.3 181.5h3.1v2.5h-3.1zM93.5 184h6.2v2.5h-6.2zM121.6 184h3.1v2.5h-3.1zM199.6 184h3.1v2.5h-3.1zM84.1 186.5h3.1v2.5h-3.1zM196.4 186.5h3.2v2.5h-3.2zM280.7 186.5h6.2v2.5h-6.2zM121.6 189h3.1v2.5h-3.1zM202.7 189h3.1v2.5h-3.1zM258.8 189h3.2v2.5h-3.2zM255.7 191.5h3.1v2.5h-3.1zM77.9 194h3.1v2.5h-3.1zM84.1 194h3.1v2.5h-3.1zM109.1 194h3.1v2.5h-3.1zM227.6 194h3.2v2.5h-3.2zM84.1 196.5h3.1v0.5h-3.1zM149.6 196.5h3.2v0.5h-3.2zM240.1 196.5h3.1v0.5h-3.1zM249.5 196.5h3.1v0.5h-3.1z"/>
<path fill="#f60000" d="M177.7 44h3.1v2.5h-3.1z"/>
<path fill="#6802e4" d="M84.1 46.5h3.1v2.5h-3.1zM130.9 61.5h3.1v2.5h-3.1zM159 61.5h3.1v2.5h-3.1zM246.4 61.5h3.1v2.5h-3.1zM268.2 61.5h3.1v2.5h-3.1zM274.4 61.5h3.2v2.5h-3.2zM127.8 64h9.4v2.5h-9.4zM149.6 64h3.2v2.5h-3.2zM168.4 64h3.1v2.5h-3.1zM180.8 64h3.2v2.5h-3.2zM187.1 64h3.1v2.5h-3.1zM199.6 64h3.1v2.5h-3.1zM205.8 64h3.1v2.5h-3.1zM215.2 64h6.2v2.5h-6.2zM240.1 64h6.3v2.5h-6.3zM249.5 64h6.2v2.5h-6.2zM265.1 64h6.2v2.5h-6.2zM277.6 64h3.1v2.5h-3.1zM286.9 64h6.3v2.5h-6.3zM118.4 66.5h3.2v2.5h-3.2zM134 66.5h3.2v2.5h-3.2zM146.5 66.5h3.1v2.5h-3.1zM159 66.5h3.1v2.5h-3.1zM180.8 66.5h3.2v2.5h-3.2zM193.3 66.5h3.1v2.5h-3.1zM205.8 66.5h3.1v2.5h-3.1zM233.9 66.5h3.1v2.5h-3.1zM249.5 66.5h6.2v2.5h-6.2zM262 66.5h3.1v2.5h-3.1zM290 66.5h3.2v2.5h-3.2zM81 69h3.1v2.5h-3.1zM115.3 69h6.3v2.5h-6.3zM143.4 69h3.1v2.5h-3.1zM149.6 69h3.2v2.5h-3.2zM165.2 69h3.2v2.5h-3.2zM174.6 69h6.2v2.5h-6.2zM184 69h3.1v2.5h-3.1zM190.2 69h6.2v2.5h-6.2zM202.7 69h3.1v2.5h-3.1zM208.9 69h6.3v2.5h-6.3zM221.4 69h3.1v2.5h-3.1zM237 69h3.1v2.5h-3.1zM243.2 69h9.4v2.5h-9.4zM255.7 69h3.1v2.5h-3.1zM262 69h6.2v2.5h-6.2zM277.6 69h3.1v2.5h-3.1zM112.2 71.5h3.1v2.5h-3.1zM118.4 71.5h3.2v2.5h-3.2zM127.8 71.5h3.1v2.5h-3.1zM134 71.5h3.2v2.5h-3.2zM140.3 71.5h3.1v2.5h-3.1zM146.5 71.5h6.3v2.5h-6.3zM159 71.5h3.1v2.5h-3.1zM171.5 71.5h3.1v2.5h-3.1zM180.8 71.5h3.2v2.5h-3.2zM190.2 71.5h3.1v2.5h-3.1zM196.4 71.5h3.2v2.5h-3.2zM205.8 71.5h3.1v2.5h-3.1zM233.9 71.5h3.1v2.5h-3.1zM240.1 71.5h9.4v2.5h-9.4zM255.7 71.5h3.1v2.5h-3.1zM265.1 71.5h3.1v2.5h-3.1zM274.4 71.5h3.2v2.5h-3.2zM283.8 71.5h3.1v2.5h-3.1zM293.2 71.5h1.3v2.5h-1.3zM130.9 74h3.1v2.5h-3.1zM149.6 74h3.2v2.5h-3.2zM162.1 74h3.1v2.5h-3.1zM180.8 74h6.3v2.5h-6.3zM193.3 74h3.1v2.5h-3.1zM199.6 74h6.2v2.5h-6.2zM208.9 74h3.1v2.5h-3.1zM230.8 74h3.1v2.5h-3.1zM246.4 74h3.1v2.5h-3.1zM262 74h9.3v2.5h-9.3zM274.4 74h3.2v2.5h-3.2zM280.7 74h6.2v2.5h-6.2zM115.3 76.5h6.3v2.5h-6.3zM159 76.5h3.1v2.5h-3.1zM180.8 76.5h3.2v2.5h-3.2zM208.9 76.5h3.1v2.5h-3.1zM218.3 76.5h3.1v2.5h-3.1zM237 76.5h3.1v2.5h-3.1zM262 76.5h6.2v2.5h-6.2zM271.3 76.5h3.1v2.5h-3.1zM283.8 76.5h3.1v2.5h-3.1zM84.1 79h3.1v2.5h-3.1zM102.8 79h3.2v2.5h-3.2zM109.1 79h6.2v2.5h-6.2zM124.7 79h6.2v2.5h-6.2zM152.8 79h6.2v2.5h-6.2zM174.6 79h6.2v2.5h-6.2zM184 79h3.1v2.5h-3.1zM199.6 79h6.2v2.5h-6.2zM218.3 79h3.1v2.5h-3.1zM224.5 79h3.1v2.5h-3.1zM246.4 79h3.1v2.5h-3.1zM271.3 79h3.1v2.5h-3.1zM277.6 79h3.1v2.5h-3.1zM283.8 79h3.1v2.5h-3.1zM84.1 81.5h6.3v2.5h-6.3zM106 81.5h3.1v2.5h-3.1zM115.3 81.5h3.1v2.5h-3.1zM121.6 81.5h3.1v2.5h-3.1zM127.8 81.5h3.1v2.5h-3.1zM146.5 81.5h3.1v2.5h-3.1zM152.8 81.5h6.2v2.5h-6.2zM190.2 81.5h3.1v2.5h-3.1zM202.7 81.5h3.1v2.5h-3.1zM230.8 81.5h3.1v2.5h-3.1zM252.6 81.5h6.2v2.5h-6.2zM262 81.5h3.1v2.5h-3.1zM277.6 81.5h9.3v2.5h-9.3zM81 84h9.4v2.5h-9.4zM96.6 84h6.2v2.5h-6.2zM106 84h3.1v2.5h-3.1zM118.4 84h3.2v2.5h-3.2zM124.7 84h3.1v2.5h-3.1zM146.5 84h3.1v2.5h-3.1zM155.9 84h3.1v2.5h-3.1zM162.1 84h3.1v2.5h-3.1zM171.5 84h3.1v2.5h-3.1zM177.7 84h6.3v2.5h-6.3zM199.6 84h6.2v2.5h-6.2zM221.4 84h3.1v2.5h-3.1zM230.8 84h3.1v2.5h-3.1zM237 84h6.2v2.5h-6.2zM252.6 84h3.1v2.5h-3.1zM262 84h6.2v2.5h-6.2zM274.4 84h3.2v2.5h-3.2zM283.8 84h3.1v2.5h-3.1zM118.4 86.5h3.2v2.5h-3.2zM149.6 86.5h3.2v2.5h-3.2zM159 86.5h3.1v2.5h-3.1zM168.4 86.5h3.1v2.5h-3.1zM177.7 86.5h18.7v2.5h-18.7zM212 86.5h3.2v2.5h-3.2zM218.3 86.5h3.1v2.5h-3.1zM224.5 86.5h3.1v2.5h-3.1zM246.4 86.5h3.1v2.5h-3.1zM252.6 86.5h3.1v2.5h-3.1zM81 89h3.1v2.5h-3.1zM102.8 89h3.2v2.5h-3.2zM115.3 89h3.1v2.5h-3.1zM134 89h3.2v2.5h-3.2zM146.5 89h6.3v2.5h-6.3zM159 89h3.1v2.5h-3.1zM168.4 89h3.1v2.5h-3.1zM190.2 89h3.1v2.5h-3.1zM205.8 89h3.1v2.5h-3.1zM240.1 89h9.4v2.5h-9.4zM255.7 89h3.1v2.5h-3.1zM277.6 89h3.1v2.5h-3.1zM286.9 89h6.3v2.5h-6.3zM90.4 91.5h3.1v2.5h-3.1zM112.2 91.5h3.1v2.5h-3.1zM121.6 91.5h3.1v2.5h-3.1zM137.2 91.5h6.2v2.5h-6.2zM146.5 91.5h3.1v2.5h-3.1zM155.9 91.5h3.1v2.5h-3.1zM162.1 91.5h6.3v2.5h-6.3zM171.5 91.5h9.3v2.5h-9.3zM193.3 91.5h3.1v2.5h-3.1zM208.9 91.5h9.4v2.5h-9.4zM221.4 91.5h12.5v2.5h-12.5zM237 91.5h3.1v2.5h-3.1zM243.2 91.5h3.2v2.5h-3.2zM252.6 91.5h3.1v2.5h-3.1zM268.2 91.5h6.2v2.5h-6.2zM280.7 91.5h6.2v2.5h-6.2zM290 91.5h4.5v2.5h-4.5zM81 94h3.1v2.5h-3.1zM96.6 94h3.1v2.5h-3.1zM118.4 94h3.2v2.5h-3.2zM124.7 94h3.1v2.5h-3.1zM143.4 94h3.1v2.5h-3.1zM165.2 94h3.2v2.5h-3.2zM171.5 94h3.1v2.5h-3.1zM177.7 94h3.1v2.5h-3.1zM208.9 94h9.4v2.5h-9.4zM221.4 94h6.2v2.5h-6.2zM233.9 94h3.1v2.5h-3.1zM240.1 94h6.3v2.5h-6.3zM265.1 94h3.1v2.5h-3.1zM274.4 94h3.2v2.5h-3.2zM283.8 94h3.1v2.5h-3.1zM293.2 94h1.3v2.5h-1.3zM81 96.5h3.1v2.5h-3.1zM106 96.5h3.1v2.5h-3.1zM115.3 96.5h3.1v2.5h-3.1zM121.6 96.5h3.1v2.5h-3.1zM127.8 96.5h3.1v2.5h-3.1zM134 96.5h3.2v2.5h-3.2zM140.3 96.5h3.1v2.5h-3.1zM146.5 96.5h9.4v2.5h-9.4zM171.5 96.5h3.1v2.5h-3.1zM202.7 96.5h9.3v2.5h-9.3zM221.4 96.5h3.1v2.5h-3.1zM240.1 96.5h6.3v2.5h-6.3zM249.5 96.5h3.1v2.5h-3.1zM255.7 96.5h3.1v2.5h-3.1zM283.8 96.5h9.4v2.5h-9.4zM90.4 99h3.1v2.5h-3.1zM130.9 99h3.1v2.5h-3.1zM140.3 99h3.1v2.5h-3.1zM149.6 99h3.2v2.5h-3.2zM174.6 99h3.1v2.5h-3.1zM180.8 99h6.3v2.5h-6.3zM196.4 99h12.5v2.5h-12.5zM215.2 99h6.2v2.5h-6.2zM227.6 99h3.2v2.5h-3.2zM233.9 99h3.1v2.5h-3.1zM243.2 99h3.2v2.5h-3.2zM262 99h6.2v2.5h-6.2zM277.6 99h3.1v2.5h-3.1zM81 101.5h3.1v2.5h-3.1zM87.2 101.5h3.2v2.5h-3.2zM121.6 101.5h3.1v2.5h-3.1zM143.4 101.5h3.1v2.5h-3.1zM159 101.5h6.2v2.5h-6.2zM168.4 101.5h3.1v2.5h-3.1zM196.4 101.5h3.2v2.5h-3.2zM208.9 101.5h3.1v2.5h-3.1zM224.5 101.5h3.1v2.5h-3.1zM233.9 101.5h3.1v2.5h-3.1zM246.4 101.5h3.1v2.5h-3.1zM258.8 101.5h3.2v2.5h-3.2zM290 101.5h4.5v2.5h-4.5zM84.1 104h3.1v2.5h-3.1zM115.3 104h3.1v2.5h-3.1zM130.9 104h3.1v2.5h-3.1zM137.2 104h3.1v2.5h-3.1zM146.5 104h3.1v2.5h-3.1zM152.8 104h3.1v2.5h-3.1zM159 104h3.1v2.5h-3.1zM174.6 104h3.1v2.5h-3.1zM184 104h3.1v2.5h-3.1zM190.2 104h3.1v2.5h-3.1zM202.7 104h3.1v2.5h-3.1zM208.9 104h9.4v2.5h-9.4zM221.4 104h3.1v2.5h-3.1zM227.6 104h6.3v2.5h-6.3zM252.6 104h6.2v2.5h-6.2zM262 104h3.1v2.5h-3.1zM274.4 104h3.2v2.5h-3.2zM290 104h3.2v2.5h-3.2zM162.1 106.5h3.1v2.5h-3.1zM208.9 106.5h6.3v2.5h-6.3zM227.6 106.5h3.2v2.5h-3.2zM237 106.5h3.1v2.5h-3.1zM246.4 106.5h3.1v2.5h-3.1zM252.6 106.5h6.2v2.5h-6.2zM293.2 106.5h1.3v2.5h-1.3zM184 109h3.1v2.5h-3.1zM205.8 109h3.1v2.5h-3.1zM212 109h3.2v2.5h-3.2zM227.6 109h3.2v2.5h-3.2zM237 109h6.2v2.5h-6.2zM255.7 109h3.1v2.5h-3.1zM290 109h3.2v2.5h-3.2zM112.2 111.5h3.1v2.5h-3.1zM187.1 111.5h3.1v2.5h-3.1zM224.5 111.5h3.1v2.5h-3.1zM233.9 111.5h9.3v2.5h-9.3zM246.4 111.5h3.1v2.5h-3.1zM252.6 111.5h3.1v2.5h-3.1zM271.3 111.5h3.1v2.5h-3.1zM277.6 111.5h3.1v2.5h-3.1zM293.2 111.5h1.3v2.5h-1.3zM84.1 114h3.1v2.5h-3.1zM93.5 114h3.1v2.5h-3.1zM109.1 114h3.1v2.5h-3.1zM187.1 114h3.1v2.5h-3.1zM205.8 114h6.2v2.5h-6.2zM230.8 114h3.1v2.5h-3.1zM237 114h3.1v2.5h-3.1zM246.4 114h9.3v2.5h-9.3zM265.1 114h3.1v2.5h-3.1zM280.7 114h3.1v2.5h-3.1zM286.9 114h7.6v2.5h-7.6zM196.4 116.5h3.2v2.5h-3.2zM218.3 116.5h3.1v2.5h-3.1zM230.8 116.5h3.1v2.5h-3.1zM246.4 116.5h3.1v2.5h-3.1zM265.1 116.5h3.1v2.5h-3.1zM277.6 116.5h9.3v2.5h-9.3zM293.2 116.5h1.3v2.5h-1.3zM196.4 119h6.3v2.5h-6.3zM208.9 119h3.1v2.5h-3.1zM221.4 119h3.1v2.5h-3.1zM233.9 119h3.1v2.5h-3.1zM246.4 119h3.1v2.5h-3.1zM258.8 119h3.2v2.5h-3.2zM271.3 119h6.3v2.5h-6.3zM290 119h3.2v2.5h-3.2zM84.1 121.5h3.1v2.5h-3.1zM174.6 121.5h6.2v2.5h-6.2zM190.2 121.5h3.1v2.5h-3.1zM199.6 121.5h3.1v2.5h-3.1zM215.2 121.5h3.1v2.5h-3.1zM246.4 121.5h3.1v2.5h-3.1zM258.8 121.5h6.3v2.5h-6.3zM84.1 124h3.1v2.5h-3.1zM96.6 124h3.1v2.5h-3.1zM152.8 124h3.1v2.5h-3.1zM208.9 124h6.3v2.5h-6.3zM255.7 124h3.1v2.5h-3.1zM262 124h3.1v2.5h-3.1zM283.8 124h3.1v2.5h-3.1zM134 126.5h3.2v2.5h-3.2zM159 126.5h3.1v2.5h-3.1zM190.2 126.5h3.1v2.5h-3.1zM208.9 126.5h6.3v2.5h-6.3zM230.8 126.5h3.1v2.5h-3.1zM286.9 126.5h3.1v2.5h-3.1zM165.2 129h3.2v2.5h-3.2zM208.9 129h3.1v2.5h-3.1zM221.4 129h3.1v2.5h-3.1zM233.9 129h3.1v2.5h-3.1zM243.2 129h3.2v2.5h-3.2zM255.7 129h3.1v2.5h-3.1zM130.9 131.5h3.1v2.5h-3.1zM137.2 131.5h6.2v2.5h-6.2zM171.5 131.5h3.1v2.5h-3.1zM233.9 131.5h6.2v2.5h-6.2zM274.4 131.5h3.2v2.5h-3.2zM196.4 134h3.2v2.5h-3.2zM262 134h3.1v2.5h-3.1zM271.3 134h3.1v2.5h-3.1zM127.8 136.5h3.1v2.5h-3.1zM159 136.5h3.1v2.5h-3.1zM218.3 136.5h3.1v2.5h-3.1zM224.5 136.5h3.1v2.5h-3.1zM196.4 139h3.2v2.5h-3.2zM102.8 141.5h6.3v2.5h-6.3zM93.5 146.5h3.1v2.5h-3.1zM109.1 146.5h3.1v2.5h-3.1zM90.4 156.5h3.1v2.5h-3.1zM90.4 169h3.1v2.5h-3.1zM87.2 174h3.2v2.5h-3.2zM87.2 176.5h3.2v2.5h-3.2zM87.2 184h6.3v2.5h-6.3zM81 186.5h3.1v2.5h-3.1zM90.4 186.5h3.1v2.5h-3.1zM81 189h3.1v2.5h-3.1z"/>
<path fill="#62006a" d="M81 51.5h3.1v2.5h-3.1zM93.5 81.5h3.1v2.5h-3.1zM106 111.5h3.1v2.5h-3.1zM90.4 121.5h3.1v2.5h-3.1zM215.2 131.5h3.1v2.5h-3.1zM227.6 131.5h3.2v2.5h-3.2zM240.1 131.5h3.1v2.5h-3.1zM174.6 134h3.1v2.5h-3.1zM162.1 136.5h3.1v2.5h-3.1zM174.6 136.5h3.1v2.5h-3.1zM202.7 136.5h3.1v2.5h-3.1zM215.2 136.5h3.1v2.5h-3.1zM233.9 136.5h3.1v2.5h-3.1zM130.9 141.5h3.1v2.5h-3.1zM137.2 141.5h3.1v2.5h-3.1zM152.8 141.5h3.1v2.5h-3.1zM171.5 141.5h3.1v2.5h-3.1zM177.7 141.5h3.1v2.5h-3.1zM215.2 141.5h3.1v2.5h-3.1zM221.4 141.5h3.1v2.5h-3.1zM227.6 141.5h9.4v2.5h-9.4zM240.1 141.5h3.1v2.5h-3.1zM249.5 141.5h6.2v2.5h-6.2zM265.1 141.5h3.1v2.5h-3.1zM274.4 141.5h3.2v2.5h-3.2zM121.6 144h6.2v2.5h-6.2zM130.9 144h3.1v2.5h-3.1zM140.3 144h3.1v2.5h-3.1zM149.6 144h6.3v2.5h-6.3zM159 144h15.6v2.5h-15.6zM177.7 144h3.1v2.5h-3.1zM184 144h3.1v2.5h-3.1zM215.2 144h9.3v2.5h-9.3zM227.6 144h6.3v2.5h-6.3zM240.1 144h3.1v2.5h-3.1zM246.4 144h9.3v2.5h-9.3zM258.8 144h18.8v2.5h-18.8zM286.9 144h6.3v2.5h-6.3zM96.6 146.5h3.1v2.5h-3.1zM112.2 146.5h6.2v2.5h-6.2zM124.7 146.5h3.1v2.5h-3.1zM134 146.5h3.2v2.5h-3.2zM140.3 146.5h3.1v2.5h-3.1zM146.5 146.5h6.3v2.5h-6.3zM155.9 146.5h3.1v2.5h-3.1zM162.1 146.5h3.1v2.5h-3.1zM168.4 146.5h3.1v2.5h-3.1zM174.6 146.5h15.6v2.5h-15.6zM193.3 146.5h40.6v2.5h-40.6zM237 146.5h3.1v2.5h-3.1zM246.4 146.5h6.2v2.5h-6.2zM255.7 146.5h3.1v2.5h-3.1zM262 146.5h12.4v2.5h-12.4zM277.6 146.5h3.1v2.5h-3.1zM283.8 146.5h10.7v2.5h-10.7zM115.3 149h9.4v2.5h-9.4zM130.9 149h15.6v2.5h-15.6zM152.8 149h6.2v2.5h-6.2zM162.1 149h3.1v2.5h-3.1zM174.6 149h9.4v2.5h-9.4zM205.8 149h6.2v2.5h-6.2zM215.2 149h3.1v2.5h-3.1zM221.4 149h9.4v2.5h-9.4zM237 149h3.1v2.5h-3.1zM255.7 149h6.3v2.5h-6.3zM265.1 149h3.1v2.5h-3.1zM271.3 149h9.4v2.5h-9.4zM283.8 149h3.1v2.5h-3.1zM290 149h4.5v2.5h-4.5zM106 151.5h15.6v2.5h-15.6zM134 151.5h12.5v2.5h-12.5zM152.8 151.5h3.1v2.5h-3.1zM159 151.5h3.1v2.5h-3.1zM165.2 151.5h6.3v2.5h-6.3zM174.6 151.5h3.1v2.5h-3.1zM180.8 151.5h3.2v2.5h-3.2zM187.1 151.5h6.2v2.5h-6.2zM205.8 151.5h6.2v2.5h-6.2zM215.2 151.5h15.6v2.5h-15.6zM233.9 151.5h9.3v2.5h-9.3zM252.6 151.5h3.1v2.5h-3.1zM258.8 151.5h3.2v2.5h-3.2zM265.1 151.5h15.6v2.5h-15.6zM283.8 151.5h3.1v2.5h-3.1zM290 151.5h3.2v2.5h-3.2zM99.7 154h9.4v2.5h-9.4zM115.3 154h3.1v2.5h-3.1zM121.6 154h3.1v2.5h-3.1zM127.8 154h3.1v2.5h-3.1zM140.3 154h3.1v2.5h-3.1zM149.6 154h6.3v2.5h-6.3zM162.1 154h9.4v2.5h-9.4zM177.7 154h15.6v2.5h-15.6zM196.4 154h15.6v2.5h-15.6zM215.2 154h6.2v2.5h-6.2zM227.6 154h15.6v2.5h-15.6zM246.4 154h3.1v2.5h-3.1zM255.7 154h3.1v2.5h-3.1zM268.2 154h18.7v2.5h-18.7zM290 154h3.2v2.5h-3.2zM96.6 156.5h3.1v2.5h-3.1zM102.8 156.5h6.3v2.5h-6.3zM115.3 156.5h6.3v2.5h-6.3zM127.8 156.5h6.2v2.5h-6.2zM137.2 156.5h6.2v2.5h-6.2zM149.6 156.5h3.2v2.5h-3.2zM162.1 156.5h12.5v2.5h-12.5zM177.7 156.5h6.3v2.5h-6.3zM187.1 156.5h9.3v2.5h-9.3zM202.7 156.5h3.1v2.5h-3.1zM208.9 156.5h3.1v2.5h-3.1zM227.6 156.5h15.6v2.5h-15.6zM246.4 156.5h6.2v2.5h-6.2zM255.7 156.5h3.1v2.5h-3.1zM271.3 156.5h6.3v2.5h-6.3zM280.7 156.5h6.2v2.5h-6.2zM293.2 156.5h1.3v2.5h-1.3zM96.6 159h3.1v2.5h-3.1zM106 159h6.2v2.5h-6.2zM115.3 159h6.3v2.5h-6.3zM149.6 159h3.2v2.5h-3.2zM155.9 159h3.1v2.5h-3.1zM162.1 159h6.3v2.5h-6.3zM171.5 159h3.1v2.5h-3.1zM180.8 159h12.5v2.5h-12.5zM202.7 159h3.1v2.5h-3.1zM208.9 159h3.1v2.5h-3.1zM221.4 159h3.1v2.5h-3.1zM227.6 159h3.2v2.5h-3.2zM246.4 159h6.2v2.5h-6.2zM262 159h3.1v2.5h-3.1zM271.3 159h3.1v2.5h-3.1zM280.7 159h9.3v2.5h-9.3zM293.2 159h1.3v2.5h-1.3zM96.6 161.5h9.4v2.5h-9.4zM115.3 161.5h9.4v2.5h-9.4zM130.9 161.5h3.1v2.5h-3.1zM146.5 161.5h6.3v2.5h-6.3zM155.9 161.5h6.2v2.5h-6.2zM168.4 161.5h6.2v2.5h-6.2zM184 161.5h6.2v2.5h-6.2zM193.3 161.5h12.5v2.5h-12.5zM208.9 161.5h6.3v2.5h-6.3zM218.3 161.5h6.2v2.5h-6.2zM240.1 161.5h9.4v2.5h-9.4zM262 161.5h9.3v2.5h-9.3zM277.6 161.5h12.4v2.5h-12.4zM96.6 164h3.1v2.5h-3.1zM102.8 164h6.3v2.5h-6.3zM118.4 164h6.3v2.5h-6.3zM130.9 164h21.9v2.5h-21.9zM159 164h12.5v2.5h-12.5zM174.6 164h6.2v2.5h-6.2zM187.1 164h3.1v2.5h-3.1zM193.3 164h6.3v2.5h-6.3zM202.7 164h6.2v2.5h-6.2zM212 164h3.2v2.5h-3.2zM218.3 164h3.1v2.5h-3.1zM233.9 164h15.6v2.5h-15.6zM255.7 164h15.6v2.5h-15.6zM280.7 164h9.3v2.5h-9.3zM96.6 166.5h3.1v2.5h-3.1zM102.8 166.5h3.2v2.5h-3.2zM109.1 166.5h9.3v2.5h-9.3zM124.7 166.5h3.1v2.5h-3.1zM130.9 166.5h9.4v2.5h-9.4zM143.4 166.5h6.2v2.5h-6.2zM159 166.5h12.5v2.5h-12.5zM174.6 166.5h9.4v2.5h-9.4zM187.1 166.5h3.1v2.5h-3.1zM193.3 166.5h6.3v2.5h-6.3zM202.7 166.5h6.2v2.5h-6.2zM212 166.5h3.2v2.5h-3.2zM218.3 166.5h3.1v2.5h-3.1zM233.9 166.5h12.5v2.5h-12.5zM255.7 166.5h3.1v2.5h-3.1zM262 166.5h3.1v2.5h-3.1zM268.2 166.5h3.1v2.5h-3.1zM277.6 166.5h6.2v2.5h-6.2zM286.9 166.5h3.1v2.5h-3.1zM293.2 166.5h1.3v2.5h-1.3zM96.6 169h6.2v2.5h-6.2zM112.2 169h9.4v2.5h-9.4zM124.7 169h6.2v2.5h-6.2zM134 169h6.3v2.5h-6.3zM146.5 169h3.1v2.5h-3.1zM168.4 169h3.1v2.5h-3.1zM174.6 169h3.1v2.5h-3.1zM180.8 169h3.2v2.5h-3.2zM187.1 169h6.2v2.5h-6.2zM196.4 169h3.2v2.5h-3.2zM202.7 169h3.1v2.5h-3.1zM212 169h3.2v2.5h-3.2zM218.3 169h3.1v2.5h-3.1zM237 169h6.2v2.5h-6.2zM246.4 169h3.1v2.5h-3.1zM271.3 169h3.1v2.5h-3.1zM280.7 169h3.1v2.5h-3.1zM286.9 169h3.1v2.5h-3.1zM293.2 169h1.3v2.5h-1.3zM77.9 171.5h3.1v2.5h-3.1zM96.6 171.5h3.1v2.5h-3.1zM109.1 171.5h6.2v2.5h-6.2zM118.4 171.5h3.2v2.5h-3.2zM124.7 171.5h6.2v2.5h-6.2zM134 171.5h3.2v2.5h-3.2zM140.3 171.5h3.1v2.5h-3.1zM146.5 171.5h3.1v2.5h-3.1zM152.8 171.5h3.1v2.5h-3.1zM168.4 171.5h3.1v2.5h-3.1zM174.6 171.5h3.1v2.5h-3.1zM180.8 171.5h3.2v2.5h-3.2zM187.1 171.5h6.2v2.5h-6.2zM196.4 171.5h12.5v2.5h-12.5zM215.2 171.5h3.1v2.5h-3.1zM227.6 171.5h3.2v2.5h-3.2zM237 171.5h6.2v2.5h-6.2zM246.4 171.5h3.1v2.5h-3.1zM252.6 171.5h3.1v2.5h-3.1zM265.1 171.5h9.3v2.5h-9.3zM283.8 171.5h3.1v2.5h-3.1zM96.6 174h3.1v2.5h-3.1zM106 174h3.1v2.5h-3.1zM112.2 174h21.8v2.5h-21.8zM140.3 174h6.2v2.5h-6.2zM162.1 174h3.1v2.5h-3.1zM168.4 174h3.1v2.5h-3.1zM196.4 174h12.5v2.5h-12.5zM224.5 174h9.4v2.5h-9.4zM237 174h3.1v2.5h-3.1zM243.2 174h3.2v2.5h-3.2zM249.5 174h12.5v2.5h-12.5zM265.1 174h3.1v2.5h-3.1zM271.3 174h3.1v2.5h-3.1zM277.6 174h3.1v2.5h-3.1zM283.8 174h10.7v2.5h-10.7zM109.1 176.5h6.2v2.5h-6.2zM124.7 176.5h18.7v2.5h-18.7zM155.9 176.5h3.1v2.5h-3.1zM174.6 176.5h6.2v2.5h-6.2zM184 176.5h3.1v2.5h-3.1zM193.3 176.5h3.1v2.5h-3.1zM199.6 176.5h3.1v2.5h-3.1zM212 176.5h3.2v2.5h-3.2zM224.5 176.5h3.1v2.5h-3.1zM230.8 176.5h9.3v2.5h-9.3zM252.6 176.5h6.2v2.5h-6.2zM271.3 176.5h3.1v2.5h-3.1zM286.9 176.5h7.6v2.5h-7.6zM93.5 179h3.1v2.5h-3.1zM99.7 179h6.3v2.5h-6.3zM109.1 179h3.1v2.5h-3.1zM118.4 179h3.2v2.5h-3.2zM127.8 179h6.2v2.5h-6.2zM137.2 179h21.8v2.5h-21.8zM171.5 179h6.2v2.5h-6.2zM180.8 179h6.3v2.5h-6.3zM193.3 179h6.3v2.5h-6.3zM212 179h3.2v2.5h-3.2zM233.9 179h6.2v2.5h-6.2zM252.6 179h6.2v2.5h-6.2zM265.1 179h3.1v2.5h-3.1zM271.3 179h3.1v2.5h-3.1zM286.9 179h7.6v2.5h-7.6zM99.7 181.5h6.3v2.5h-6.3zM112.2 181.5h3.1v2.5h-3.1zM118.4 181.5h6.3v2.5h-6.3zM127.8 181.5h6.2v2.5h-6.2zM137.2 181.5h9.3v2.5h-9.3zM162.1 181.5h3.1v2.5h-3.1zM168.4 181.5h3.1v2.5h-3.1zM174.6 181.5h3.1v2.5h-3.1zM180.8 181.5h3.2v2.5h-3.2zM187.1 181.5h3.1v2.5h-3.1zM193.3 181.5h3.1v2.5h-3.1zM202.7 181.5h9.3v2.5h-9.3zM218.3 181.5h6.2v2.5h-6.2zM233.9 181.5h6.2v2.5h-6.2zM243.2 181.5h3.2v2.5h-3.2zM252.6 181.5h6.2v2.5h-6.2zM265.1 181.5h3.1v2.5h-3.1zM280.7 181.5h3.1v2.5h-3.1zM102.8 184h6.3v2.5h-6.3zM112.2 184h3.1v2.5h-3.1zM124.7 184h6.2v2.5h-6.2zM137.2 184h3.1v2.5h-3.1zM152.8 184h6.2v2.5h-6.2zM162.1 184h3.1v2.5h-3.1zM174.6 184h3.1v2.5h-3.1zM187.1 184h3.1v2.5h-3.1zM193.3 184h3.1v2.5h-3.1zM205.8 184h9.4v2.5h-9.4zM218.3 184h3.1v2.5h-3.1zM224.5 184h3.1v2.5h-3.1zM233.9 184h12.5v2.5h-12.5zM249.5 184h6.2v2.5h-6.2zM280.7 184h3.1v2.5h-3.1zM293.2 184h1.3v2.5h-1.3zM93.5 186.5h12.5v2.5h-12.5zM124.7 186.5h3.1v2.5h-3.1zM134 186.5h3.2v2.5h-3.2zM152.8 186.5h12.4v2.5h-12.4zM171.5 186.5h3.1v2.5h-3.1zM180.8 186.5h3.2v2.5h-3.2zM187.1 186.5h3.1v2.5h-3.1zM199.6 186.5h3.1v2.5h-3.1zM208.9 186.5h6.3v2.5h-6.3zM224.5 186.5h3.1v2.5h-3.1zM230.8 186.5h6.2v2.5h-6.2zM243.2 186.5h12.5v2.5h-12.5zM258.8 186.5h6.3v2.5h-6.3zM268.2 186.5h3.1v2.5h-3.1zM274.4 186.5h3.2v2.5h-3.2zM96.6 189h9.4v2.5h-9.4zM115.3 189h3.1v2.5h-3.1zM134 189h3.2v2.5h-3.2zM146.5 189h3.1v2.5h-3.1zM152.8 189h3.1v2.5h-3.1zM162.1 189h3.1v2.5h-3.1zM171.5 189h3.1v2.5h-3.1zM177.7 189h6.3v2.5h-6.3zM187.1 189h3.1v2.5h-3.1zM215.2 189h3.1v2.5h-3.1zM230.8 189h3.1v2.5h-3.1zM237 189h3.1v2.5h-3.1zM243.2 189h6.3v2.5h-6.3zM252.6 189h6.2v2.5h-6.2zM262 189h3.1v2.5h-3.1zM268.2 189h3.1v2.5h-3.1zM283.8 189h3.1v2.5h-3.1zM290 189h4.5v2.5h-4.5zM96.6 191.5h6.2v2.5h-6.2zM106 191.5h3.1v2.5h-3.1zM124.7 191.5h3.1v2.5h-3.1zM137.2 191.5h12.4v2.5h-12.4zM152.8 191.5h6.2v2.5h-6.2zM162.1 191.5h3.1v2.5h-3.1zM171.5 191.5h9.3v2.5h-9.3zM193.3 191.5h6.3v2.5h-6.3zM205.8 191.5h3.1v2.5h-3.1zM215.2 191.5h3.1v2.5h-3.1zM230.8 191.5h3.1v2.5h-3.1zM243.2 191.5h6.3v2.5h-6.3zM262 191.5h3.1v2.5h-3.1zM268.2 191.5h3.1v2.5h-3.1zM280.7 191.5h3.1v2.5h-3.1zM286.9 191.5h3.1v2.5h-3.1zM93.5 194h6.2v2.5h-6.2zM115.3 194h3.1v2.5h-3.1zM124.7 194h9.3v2.5h-9.3zM140.3 194h6.2v2.5h-6.2zM149.6 194h9.4v2.5h-9.4zM171.5 194h21.8v2.5h-21.8zM196.4 194h3.2v2.5h-3.2zM205.8 194h3.1v2.5h-3.1zM215.2 194h6.2v2.5h-6.2zM224.5 194h3.1v2.5h-3.1zM230.8 194h3.1v2.5h-3.1zM237 194h6.2v2.5h-6.2zM246.4 194h3.1v2.5h-3.1zM271.3 194h3.1v2.5h-3.1zM280.7 194h3.1v2.5h-3.1zM93.5 196.5h6.2v0.5h-6.2zM109.1 196.5h3.1v0.5h-3.1zM118.4 196.5h3.2v0.5h-3.2zM124.7 196.5h3.1v0.5h-3.1zM130.9 196.5h6.3v0.5h-6.3zM140.3 196.5h6.2v0.5h-6.2zM152.8 196.5h9.3v0.5h-9.3zM165.2 196.5h3.2v0.5h-3.2zM177.7 196.5h6.3v0.5h-6.3zM190.2 196.5h3.1v0.5h-3.1zM202.7 196.5h3.1v0.5h-3.1zM208.9 196.5h3.1v0.5h-3.1zM215.2 196.5h3.1v0.5h-3.1zM227.6 196.5h6.3v0.5h-6.3zM237 196.5h3.1v0.5h-3.1zM255.7 196.5h6.3v0.5h-6.3zM280.7 196.5h3.1v0.5h-3.1z"/>
</g></g>
<rect x="59.75" y="30.75" width="234.75" height="166.75" fill="none" stroke="#7a7a7a" stroke-width="1.5"/>
<line x1="54" y1="46.2" x2="59" y2="46.2" stroke="#555" stroke-width="1.2"/>
<text x="48.4" y="51" font-size="13.5" text-anchor="end" fill="#000">65.0</text>
<line x1="54" y1="83.9" x2="59" y2="83.9" stroke="#555" stroke-width="1.2"/>
<text x="48.4" y="88.7" font-size="13.5" text-anchor="end" fill="#000">64.5</text>
<line x1="54" y1="121.6" x2="59" y2="121.6" stroke="#555" stroke-width="1.2"/>
<text x="48.4" y="126.4" font-size="13.5" text-anchor="end" fill="#000">64.0</text>
<line x1="54" y1="159.3" x2="59" y2="159.3" stroke="#555" stroke-width="1.2"/>
<text x="48.4" y="164.1" font-size="13.5" text-anchor="end" fill="#000">63.5</text>
<line x1="54" y1="197.0" x2="59" y2="197.0" stroke="#555" stroke-width="1.2"/>
<text x="48.4" y="201.8" font-size="13.5" text-anchor="end" fill="#000">63.0</text>
<line x1="75.9" y1="198" x2="75.9" y2="203.1" stroke="#555" stroke-width="1.2"/>
<text x="75.9" y="220.3" font-size="13.5" text-anchor="middle" fill="#000">0</text>
<line x1="107.1" y1="198" x2="107.1" y2="201.1" stroke="#555" stroke-width="1.2"/>
<line x1="138.3" y1="198" x2="138.3" y2="203.1" stroke="#555" stroke-width="1.2"/>
<text x="138.34" y="220.3" font-size="13.5" text-anchor="middle" fill="#000">40</text>
<line x1="169.6" y1="198" x2="169.6" y2="201.1" stroke="#555" stroke-width="1.2"/>
<line x1="200.8" y1="198" x2="200.8" y2="203.1" stroke="#555" stroke-width="1.2"/>
<text x="200.78" y="220.3" font-size="13.5" text-anchor="middle" fill="#000">80</text>
<line x1="232.0" y1="198" x2="232.0" y2="201.1" stroke="#555" stroke-width="1.2"/>
<line x1="263.2" y1="198" x2="263.2" y2="203.1" stroke="#555" stroke-width="1.2"/>
<text x="263.22" y="220.3" font-size="13.5" text-anchor="middle" fill="#000">120</text>
<line x1="294.4" y1="198" x2="294.4" y2="201.1" stroke="#555" stroke-width="1.2"/>
<text x="173" y="239.3" font-size="13.5" text-anchor="middle" fill="#000">Delay (fs)</text>
<text transform="translate(10.6,114) rotate(-90)" font-size="14" text-anchor="middle">Energy (eV)</text>
<g shape-rendering="crispEdges">
<rect x="297.5" y="31.00" width="8" height="3.15" fill="#600004"/>
<rect x="297.5" y="33.75" width="8" height="3.15" fill="#6d0002"/>
<rect x="297.5" y="36.50" width="8" height="3.15" fill="#790000"/>
<rect x="297.5" y="39.25" width="8" height="3.15" fill="#870000"/>
<rect x="297.5" y="42.00" width="8" height="3.15" fill="#950000"/>
<rect x="297.5" y="44.75" width="8" height="3.15" fill="#a30000"/>
<rect x="297.5" y="47.50" width="8" height="3.15" fill="#af0000"/>
<rect x="297.5" y="50.25" width="8" height="3.15" fill="#ba0000"/>
<rect x="297.5" y="53.00" width="8" height="3.15" fill="#c50000"/>
<rect x="297.5" y="55.75" width="8" height="3.15" fill="#d00000"/>
<rect x="297.5" y="58.50" width="8" height="3.15" fill="#db0000"/>
<rect x="297.5" y="61.25" width="8" height="3.15" fill="#e60000"/>
<rect x="297.5" y="64.00" width="8" height="3.15" fill="#ec0000"/>
<rect x="297.5" y="66.75" width="8" height="3.15" fill="#ee0000"/>
<rect x="297.5" y="69.50" width="8" height="3.15" fill="#f00000"/>
<rect x="297.5" y="72.25" width="8" height="3.15" fill="#f20000"/>
<rect x="297.5" y="75.00" width="8" height="3.15" fill="#f40000"/>
<rect x="297.5" y="77.75" width="8" height="3.15" fill="#f60000"/>
<rect x="297.5" y="80.50" width="8" height="3.15" fill="#f80000"/>
<rect x="297.5" y="83.25" width="8" height="3.15" fill="#fa0000"/>
<rect x="297.5" y="86.00" width="8" height="3.15" fill="#fc0000"/>
<rect x="297.5" y="88.75" width="8" height="3.15" fill="#fe0000"/>
<rect x="297.5" y="91.50" width="8" height="3.15" fill="#ff0b00"/>
<rect x="297.5" y="94.25" width="8" height="3.15" fill="#ff2e00"/>
<rect x="297.5" y="97.00" width="8" height="3.15" fill="#ff5200"/>
<rect x="297.5" y="99.75" width="8" height="3.15" fill="#ff7600"/>
<rect x="297.5" y="102.50" width="8" height="3.15" fill="#ff9800"/>
<rect x="297.5" y="105.25" width="8" height="3.15" fill="#ffb000"/>
<rect x="297.5" y="108.00" width="8" height="3.15" fill="#ffc800"/>
<rect x="297.5" y="110.75" width="8" height="3.15" fill="#ffe000"/>
<rect x="297.5" y="113.50" width="8" height="3.15" fill="#fff800"/>
<rect x="297.5" y="116.25" width="8" height="3.15" fill="#eefc00"/>
<rect x="297.5" y="119.00" width="8" height="3.15" fill="#dcfd00"/>
<rect x="297.5" y="121.75" width="8" height="3.15" fill="#caff00"/>
<rect x="297.5" y="124.50" width="8" height="3.15" fill="#a6ff00"/>
<rect x="297.5" y="127.25" width="8" height="3.15" fill="#81ff00"/>
<rect x="297.5" y="130.00" width="8" height="3.15" fill="#5bff00"/>
<rect x="297.5" y="132.75" width="8" height="3.15" fill="#36ff00"/>
<rect x="297.5" y="135.50" width="8" height="3.15" fill="#13ff03"/>
<rect x="297.5" y="138.25" width="8" height="3.15" fill="#08ff25"/>
<rect x="297.5" y="141.00" width="8" height="3.15" fill="#00fd4a"/>
<rect x="297.5" y="143.75" width="8" height="3.15" fill="#00f778"/>
<rect x="297.5" y="146.50" width="8" height="3.15" fill="#00f1a7"/>
<rect x="297.5" y="149.25" width="8" height="3.15" fill="#00ebd5"/>
<rect x="297.5" y="152.00" width="8" height="3.15" fill="#00e2ff"/>
<rect x="297.5" y="154.75" width="8" height="3.15" fill="#05b9ff"/>
<rect x="297.5" y="157.50" width="8" height="3.15" fill="#0a90ff"/>
<rect x="297.5" y="160.25" width="8" height="3.15" fill="#0f66ff"/>
<rect x="297.5" y="163.00" width="8" height="3.15" fill="#143dff"/>
<rect x="297.5" y="165.75" width="8" height="3.15" fill="#1914ff"/>
<rect x="297.5" y="168.50" width="8" height="3.15" fill="#330ef6"/>
<rect x="297.5" y="171.25" width="8" height="3.15" fill="#4e08ed"/>
<rect x="297.5" y="174.00" width="8" height="3.15" fill="#6802e4"/>
<rect x="297.5" y="176.75" width="8" height="3.15" fill="#7000cf"/>
<rect x="297.5" y="179.50" width="8" height="3.15" fill="#6f00b6"/>
<rect x="297.5" y="182.25" width="8" height="3.15" fill="#6e009d"/>
<rect x="297.5" y="185.00" width="8" height="3.15" fill="#6b0089"/>
<rect x="297.5" y="187.75" width="8" height="3.15" fill="#660077"/>
<rect x="297.5" y="190.50" width="8" height="3.15" fill="#62006c"/>
<rect x="297.5" y="193.25" width="8" height="3.15" fill="#5f0065"/>
</g>
<rect x="297.5" y="31" width="8" height="165" fill="none" stroke="#333" stroke-width="0.6"/>
<line x1="305.5" y1="31.2" x2="312" y2="31.2" stroke="#666" stroke-width="1.2"/>
<text x="316.2" y="35.7" font-size="12.4" text-anchor="start" fill="#000">0.04</text>
<line x1="305.5" y1="72.3" x2="312" y2="72.3" stroke="#666" stroke-width="1.2"/>
<text x="316.2" y="76.8" font-size="12.4" text-anchor="start" fill="#000">0.03</text>
<line x1="305.5" y1="113.4" x2="312" y2="113.4" stroke="#666" stroke-width="1.2"/>
<text x="316.2" y="117.9" font-size="12.4" text-anchor="start" fill="#000">0.02</text>
<line x1="305.5" y1="154.5" x2="312" y2="154.5" stroke="#666" stroke-width="1.2"/>
<text x="316.2" y="159" font-size="12.4" text-anchor="start" fill="#000">0.01</text>
<line x1="305.5" y1="195.6" x2="312" y2="195.6" stroke="#666" stroke-width="1.2"/>
<text x="316.2" y="200.1" font-size="12.4" text-anchor="start" fill="#000">0.00</text>
<text x="294" y="18.8" font-size="11" text-anchor="start" fill="#000">&#916; O.D.</text>
<rect x="60.5" y="261" width="234" height="165.75" fill="#5e0062"/>
<g filter="url(#bl)"><g shape-rendering="crispEdges">
<path fill="#600060" d="M60.5 261h32v1h-32zM131.5 261h162.5v1h-162.5zM60.5 262h30v1h-30zM133.5 262h160.5v1h-160.5zM60.5 263h29v1h-29zM134.5 263h51v1h-51zM60.5 264h28v1h-28zM135.5 264h41v1h-41zM60.5 265h28v1h-28zM135.5 265h37v1h-37zM60.5 266h28v1h-28zM135.5 266h33v1h-33zM60.5 267h28v1h-28zM135.5 267h30v1h-30zM60.5 268h29v1h-29zM134.5 268h28v1h-28zM60.5 269h15v1h-15zM77.5 269h13v1h-13zM133.5 269h27v1h-27zM60.5 270h14v1h-14zM78.5 270h14v1h-14zM131.5 270h27v1h-27zM60.5 271h14v1h-14zM78.5 271h16v1h-16zM129.5 271h27v1h-27zM60.5 272h14v1h-14zM78.5 272h19v1h-19zM126.5 272h28v1h-28zM60.5 273h14v1h-14zM78.5 273h23v1h-23zM122.5 273h30v1h-30zM60.5 274h13v1h-13zM79.5 274h71v1h-71zM60.5 275h13v1h-13zM79.5 275h69v1h-69zM60.5 276h13v1h-13zM79.5 276h68v1h-68zM60.5 277h13v1h-13zM79.5 277h66v1h-66zM60.5 278h13v1h-13zM79.5 278h65v1h-65zM60.5 279h13v1h-13zM79.5 279h63v1h-63zM60.5 280h13v1h-13zM79.5 280h62v1h-62zM60.5 281h13v1h-13zM79.5 281h22v1h-22zM110.5 281h30v1h-30zM60.5 282h14v1h-14zM83.5 282h16v1h-16zM112.5 282h27v1h-27zM60.5 283h14v1h-14zM86.5 283h12v1h-12zM113.5 283h25v1h-25zM60.5 284h14v1h-14zM87.5 284h10v1h-10zM115.5 284h21v1h-21zM60.5 285h14v1h-14zM89.5 285h7v1h-7zM116.5 285h19v1h-19zM60.5 286h13v1h-13zM90.5 286h5v1h-5zM117.5 286h17v1h-17zM170.5 286h24v1h-24zM60.5 287h13v1h-13zM91.5 287h3v1h-3zM118.5 287h15v1h-15zM166.5 287h48v1h-48zM60.5 288h13v1h-13zM92.5 288h2v1h-2zM119.5 288h13v1h-13zM162.5 288h131.5v1h-131.5zM60.5 289h13v1h-13zM120.5 289h10v1h-10zM159.5 289h134.5v1h-134.5zM60.5 290h13v1h-13zM121.5 290h8v1h-8zM157.5 290h136.5v1h-136.5zM60.5 291h13v1h-13zM122.5 291h5v1h-5zM154.5 291h139.5v1h-139.5zM60.5 292h13v1h-13zM123.5 292h3v1h-3zM152.5 292h141.5v1h-141.5zM60.5 293h13v1h-13zM151.5 293h142.5v1h-142.5zM60.5 294h14v1h-14zM150.5 294h143.5v1h-143.5zM60.5 295h15v1h-15zM149.5 295h144.5v1h-144.5zM60.5 296h16v1h-16zM147.5 296h146.5v1h-146.5zM60.5 297h18v1h-18zM146.5 297h24v1h-24zM205.5 297h88.5v1h-88.5zM60.5 298h19v1h-19zM106.5 298h1v1h-1zM145.5 298h19v1h-19zM60.5 299h21v1h-21zM105.5 299h3v1h-3zM144.5 299h15v1h-15zM60.5 300h22v1h-22zM104.5 300h5v1h-5zM143.5 300h13v1h-13zM60.5 301h23v1h-23zM103.5 301h7v1h-7zM141.5 301h12v1h-12zM60.5 302h24v1h-24zM102.5 302h9v1h-9zM140.5 302h11v1h-11zM60.5 303h26v1h-26zM101.5 303h11v1h-11zM138.5 303h11v1h-11zM60.5 304h28v1h-28zM99.5 304h14v1h-14zM137.5 304h10v1h-10zM60.5 305h31v1h-31zM96.5 305h18v1h-18zM135.5 305h10v1h-10zM60.5 306h55v1h-55zM134.5 306h9v1h-9zM60.5 307h56v1h-56zM132.5 307h9v1h-9zM60.5 308h58v1h-58zM130.5 308h10v1h-10zM60.5 309h61v1h-61zM127.5 309h11v1h-11zM60.5 310h77v1h-77zM60.5 311h75v1h-75zM60.5 312h74v1h-74zM60.5 313h73v1h-73zM60.5 314h71v1h-71zM172.5 314h121.5v1h-121.5zM60.5 315h70v1h-70zM166.5 315h127.5v1h-127.5zM60.5 316h69v1h-69zM162.5 316h131.5v1h-131.5zM60.5 317h68v1h-68zM159.5 317h134.5v1h-134.5zM60.5 318h67v1h-67zM157.5 318h136.5v1h-136.5zM60.5 319h66v1h-66zM155.5 319h138.5v1h-138.5zM60.5 320h65v1h-65zM153.5 320h140.5v1h-140.5zM60.5 321h64v1h-64zM151.5 321h142.5v1h-142.5zM60.5 322h63v1h-63zM150.5 322h143.5v1h-143.5zM60.5 323h62v1h-62zM148.5 323h145.5v1h-145.5zM60.5 324h61v1h-61zM147.5 324h146.5v1h-146.5zM60.5 325h61v1h-61zM145.5 325h148.5v1h-148.5zM60.5 326h60v1h-60zM144.5 326h149.5v1h-149.5zM60.5 327h59v1h-59zM142.5 327h151.5v1h-151.5zM60.5 328h58v1h-58zM141.5 328h152.5v1h-152.5zM60.5 329h43v1h-43zM111.5 329h7v1h-7zM140.5 329h153.5v1h-153.5zM60.5 330h41v1h-41zM115.5 330h2v1h-2zM139.5 330h154.5v1h-154.5zM60.5 331h40v1h-40zM138.5 331h155.5v1h-155.5zM60.5 332h39v1h-39zM137.5 332h156.5v1h-156.5zM60.5 333h39v1h-39zM136.5 333h157.5v1h-157.5zM60.5 334h38v1h-38zM135.5 334h158.5v1h-158.5zM60.5 335h38v1h-38zM135.5 335h158.5v1h-158.5zM60.5 336h38v1h-38zM134.5 336h159.5v1h-159.5zM60.5 337h38v1h-38zM133.5 337h160.5v1h-160.5zM60.5 338h38v1h-38zM132.5 338h161.5v1h-161.5zM60.5 339h38v1h-38zM132.5 339h44v1h-44zM190.5 339h103.5v1h-103.5zM60.5 340h38v1h-38zM131.5 340h38v1h-38zM198.5 340h95.5v1h-95.5zM60.5 341h39v1h-39zM130.5 341h35v1h-35zM204.5 341h88v1h-88zM60.5 342h39v1h-39zM129.5 342h32v1h-32zM209.5 342h81v1h-81zM60.5 343h40v1h-40zM128.5 343h30v1h-30zM213.5 343h75v1h-75zM60.5 344h14v1h-14zM77.5 344h24v1h-24zM127.5 344h28v1h-28zM218.5 344h69v1h-69zM60.5 345h14v1h-14zM77.5 345h26v1h-26zM126.5 345h27v1h-27zM222.5 345h63v1h-63zM60.5 346h13v1h-13zM78.5 346h30v1h-30zM124.5 346h26v1h-26zM226.5 346h58v1h-58zM60.5 347h13v1h-13zM78.5 347h34v1h-34zM121.5 347h26v1h-26zM230.5 347h52v1h-52zM60.5 348h13v1h-13zM78.5 348h67v1h-67zM234.5 348h45v1h-45zM60.5 349h13v1h-13zM78.5 349h64v1h-64zM239.5 349h38v1h-38zM60.5 350h13v1h-13zM78.5 350h61v1h-61zM244.5 350h30v1h-30zM60.5 351h13v1h-13zM78.5 351h27v1h-27zM106.5 351h31v1h-31zM250.5 351h19v1h-19zM60.5 352h13v1h-13zM85.5 352h14v1h-14zM111.5 352h24v1h-24zM60.5 353h13v1h-13zM87.5 353h10v1h-10zM114.5 353h20v1h-20zM60.5 354h13v1h-13zM88.5 354h7v1h-7zM115.5 354h17v1h-17zM174.5 354h20v1h-20zM60.5 355h12v1h-12zM89.5 355h5v1h-5zM116.5 355h15v1h-15zM169.5 355h32v1h-32zM60.5 356h12v1h-12zM90.5 356h2v1h-2zM117.5 356h13v1h-13zM166.5 356h40v1h-40zM60.5 357h11v1h-11zM117.5 357h12v1h-12zM163.5 357h47v1h-47zM293.5 357h0.5v1h-0.5zM60.5 358h11v1h-11zM118.5 358h10v1h-10zM160.5 358h54v1h-54zM292.5 358h1.5v1h-1.5zM60.5 359h10v1h-10zM118.5 359h9v1h-9zM158.5 359h60v1h-60zM290.5 359h3.5v1h-3.5zM60.5 360h10v1h-10zM118.5 360h8v1h-8zM155.5 360h67v1h-67zM288.5 360h5.5v1h-5.5zM60.5 361h10v1h-10zM119.5 361h7v1h-7zM152.5 361h74v1h-74zM286.5 361h7.5v1h-7.5zM60.5 362h10v1h-10zM119.5 362h6v1h-6zM150.5 362h81v1h-81zM283.5 362h10.5v1h-10.5zM60.5 363h10v1h-10zM120.5 363h4v1h-4zM147.5 363h88v1h-88zM280.5 363h13.5v1h-13.5zM60.5 364h10v1h-10zM121.5 364h3v1h-3zM145.5 364h95v1h-95zM277.5 364h16.5v1h-16.5zM60.5 365h11v1h-11zM121.5 365h2v1h-2zM143.5 365h103v1h-103zM272.5 365h21.5v1h-21.5zM60.5 366h11v1h-11zM142.5 366h116v1h-116zM262.5 366h31.5v1h-31.5zM60.5 367h12v1h-12zM141.5 367h152.5v1h-152.5zM60.5 368h12v1h-12zM140.5 368h153.5v1h-153.5zM60.5 369h13v1h-13zM139.5 369h154.5v1h-154.5zM60.5 370h15v1h-15zM138.5 370h155.5v1h-155.5zM60.5 371h16v1h-16zM138.5 371h155.5v1h-155.5zM60.5 372h17v1h-17zM105.5 372h1v1h-1zM137.5 372h156.5v1h-156.5zM60.5 373h17v1h-17zM105.5 373h1v1h-1zM137.5 373h156.5v1h-156.5zM60.5 374h18v1h-18zM104.5 374h3v1h-3zM136.5 374h157.5v1h-157.5zM60.5 375h19v1h-19zM103.5 375h5v1h-5zM135.5 375h158.5v1h-158.5zM60.5 376h20v1h-20zM103.5 376h6v1h-6zM135.5 376h158.5v1h-158.5zM60.5 377h21v1h-21zM102.5 377h8v1h-8zM134.5 377h159.5v1h-159.5zM60.5 378h22v1h-22zM101.5 378h10v1h-10zM134.5 378h159.5v1h-159.5zM60.5 379h23v1h-23zM100.5 379h11v1h-11zM133.5 379h160.5v1h-160.5zM60.5 380h24v1h-24zM98.5 380h15v1h-15zM132.5 380h161.5v1h-161.5zM60.5 381h26v1h-26zM96.5 381h18v1h-18zM131.5 381h162.5v1h-162.5zM60.5 382h30v1h-30zM93.5 382h22v1h-22zM130.5 382h163.5v1h-163.5zM60.5 383h57v1h-57zM128.5 383h165.5v1h-165.5zM60.5 384h59v1h-59zM126.5 384h167.5v1h-167.5zM60.5 385h233.5v1h-233.5zM60.5 386h233.5v1h-233.5zM60.5 387h233.5v1h-233.5zM60.5 388h233.5v1h-233.5zM60.5 389h233.5v1h-233.5zM60.5 390h233.5v1h-233.5zM60.5 391h233.5v1h-233.5zM60.5 392h233.5v1h-233.5zM60.5 393h233.5v1h-233.5zM60.5 394h233.5v1h-233.5zM60.5 395h233.5v1h-233.5zM60.5 396h233.5v1h-233.5zM60.5 397h233.5v1h-233.5zM60.5 398h233.5v1h-233.5zM60.5 399h233.5v1h-233.5zM60.5 400h233.5v1h-233.5zM60.5 401h233.5v1h-233.5zM60.5 402h233.5v1h-233.5zM60.5 403h233.5v1h-233.5zM60.5 404h233.5v1h-233.5zM60.5 405h233.5v1h-233.5zM60.5 406h233.5v1h-233.5zM60.5 407h233.5v1h-233.5zM60.5 408h233.5v1h-233.5zM60.5 409h233.5v1h-233.5zM60.5 410h233.5v1h-233.5zM60.5 411h233.5v1h-233.5zM60.5 412h233.5v1h-233.5zM60.5 413h233.5v1h-233.5zM60.5 414h233.5v1h-233.5zM60.5 415h233.5v1h-233.5zM60.5 416h233.5v1h-233.5zM60.5 417h233.5v1h-233.5zM60.5 418h233.5v1h-233.5zM60.5 419h233.5v1h-233.5zM60.5 420h233.5v1h-233.5zM60.5 421h233.5v1h-233.5zM60.5 422h233.5v1h-233.5zM60.5 423h233.5v1h-233.5zM60.5 424h233.5v1h-233.5zM60.5 425h233.5v1h-233.5zM60.5 426h233.5v0.5h-233.5z"/>
<path fill="#670084" d="M92.5 261h11v1h-11zM120.5 261h11v1h-11zM90.5 262h10v1h-10zM123.5 262h10v1h-10zM89.5 263h9v1h-9zM125.5 263h9v1h-9zM185.5 263h108.5v1h-108.5zM88.5 264h9v1h-9zM126.5 264h9v1h-9zM176.5 264h43v1h-43zM88.5 265h8v1h-8zM127.5 265h8v1h-8zM172.5 265h5v1h-5zM88.5 266h8v1h-8zM127.5 266h8v1h-8zM168.5 266h4v1h-4zM88.5 267h9v1h-9zM126.5 267h9v1h-9zM165.5 267h4v1h-4zM89.5 268h9v1h-9zM125.5 268h9v1h-9zM162.5 268h3v1h-3zM75.5 269h2v1h-2zM90.5 269h10v1h-10zM123.5 269h10v1h-10zM160.5 269h3v1h-3zM74.5 270h4v1h-4zM92.5 270h11v1h-11zM120.5 270h11v1h-11zM158.5 270h2v1h-2zM74.5 271h4v1h-4zM94.5 271h35v1h-35zM156.5 271h2v1h-2zM74.5 272h1v1h-1zM77.5 272h1v1h-1zM97.5 272h29v1h-29zM154.5 272h2v1h-2zM74.5 273h1v1h-1zM77.5 273h1v1h-1zM101.5 273h21v1h-21zM152.5 273h2v1h-2zM73.5 274h2v1h-2zM77.5 274h2v1h-2zM150.5 274h2v1h-2zM73.5 275h1v1h-1zM78.5 275h1v1h-1zM148.5 275h2v1h-2zM73.5 276h1v1h-1zM78.5 276h1v1h-1zM147.5 276h1v1h-1zM73.5 277h1v1h-1zM78.5 277h1v1h-1zM145.5 277h2v1h-2zM73.5 278h1v1h-1zM78.5 278h1v1h-1zM144.5 278h1v1h-1zM73.5 279h1v1h-1zM78.5 279h1v1h-1zM142.5 279h2v1h-2zM73.5 280h1v1h-1zM78.5 280h1v1h-1zM141.5 280h2v1h-2zM73.5 281h2v1h-2zM77.5 281h2v1h-2zM101.5 281h9v1h-9zM140.5 281h1v1h-1zM74.5 282h1v1h-1zM77.5 282h6v1h-6zM99.5 282h3v1h-3zM110.5 282h2v1h-2zM139.5 282h1v1h-1zM74.5 283h1v1h-1zM77.5 283h1v1h-1zM83.5 283h3v1h-3zM98.5 283h2v1h-2zM112.5 283h1v1h-1zM138.5 283h1v1h-1zM74.5 284h2v1h-2zM85.5 284h2v1h-2zM97.5 284h2v1h-2zM113.5 284h2v1h-2zM136.5 284h2v1h-2zM74.5 285h1v1h-1zM87.5 285h2v1h-2zM96.5 285h2v1h-2zM114.5 285h2v1h-2zM135.5 285h2v1h-2zM170.5 285h32v1h-32zM73.5 286h1v1h-1zM88.5 286h2v1h-2zM95.5 286h2v1h-2zM115.5 286h2v1h-2zM134.5 286h2v1h-2zM165.5 286h5v1h-5zM194.5 286h27v1h-27zM258.5 286h25v1h-25zM73.5 287h1v1h-1zM89.5 287h2v1h-2zM94.5 287h2v1h-2zM117.5 287h1v1h-1zM133.5 287h2v1h-2zM162.5 287h4v1h-4zM214.5 287h79.5v1h-79.5zM73.5 288h1v1h-1zM91.5 288h1v1h-1zM94.5 288h1v1h-1zM118.5 288h1v1h-1zM132.5 288h1v1h-1zM159.5 288h3v1h-3zM73.5 289h1v1h-1zM92.5 289h2v1h-2zM119.5 289h1v1h-1zM130.5 289h2v1h-2zM156.5 289h3v1h-3zM73.5 290h1v1h-1zM120.5 290h1v1h-1zM129.5 290h2v1h-2zM154.5 290h3v1h-3zM73.5 291h1v1h-1zM121.5 291h1v1h-1zM127.5 291h2v1h-2zM152.5 291h2v1h-2zM73.5 292h1v1h-1zM122.5 292h1v1h-1zM126.5 292h2v1h-2zM151.5 292h1v1h-1zM73.5 293h1v1h-1zM122.5 293h4v1h-4zM149.5 293h2v1h-2zM74.5 294h1v1h-1zM124.5 294h1v1h-1zM148.5 294h2v1h-2zM75.5 295h1v1h-1zM147.5 295h2v1h-2zM76.5 296h2v1h-2zM146.5 296h1v1h-1zM78.5 297h2v1h-2zM105.5 297h2v1h-2zM145.5 297h1v1h-1zM170.5 297h35v1h-35zM79.5 298h2v1h-2zM104.5 298h2v1h-2zM107.5 298h1v1h-1zM143.5 298h2v1h-2zM164.5 298h129.5v1h-129.5zM81.5 299h1v1h-1zM104.5 299h1v1h-1zM108.5 299h1v1h-1zM142.5 299h2v1h-2zM159.5 299h9v1h-9zM213.5 299h80.5v1h-80.5zM82.5 300h1v1h-1zM103.5 300h1v1h-1zM109.5 300h1v1h-1zM141.5 300h2v1h-2zM156.5 300h6v1h-6zM83.5 301h2v1h-2zM102.5 301h1v1h-1zM110.5 301h1v1h-1zM139.5 301h2v1h-2zM153.5 301h5v1h-5zM84.5 302h2v1h-2zM100.5 302h2v1h-2zM111.5 302h1v1h-1zM138.5 302h2v1h-2zM151.5 302h4v1h-4zM86.5 303h2v1h-2zM99.5 303h2v1h-2zM112.5 303h1v1h-1zM136.5 303h2v1h-2zM149.5 303h4v1h-4zM88.5 304h4v1h-4zM96.5 304h3v1h-3zM113.5 304h1v1h-1zM135.5 304h2v1h-2zM147.5 304h3v1h-3zM91.5 305h5v1h-5zM114.5 305h1v1h-1zM133.5 305h2v1h-2zM145.5 305h3v1h-3zM115.5 306h2v1h-2zM132.5 306h2v1h-2zM143.5 306h3v1h-3zM116.5 307h2v1h-2zM130.5 307h2v1h-2zM141.5 307h4v1h-4zM118.5 308h3v1h-3zM127.5 308h3v1h-3zM140.5 308h3v1h-3zM121.5 309h6v1h-6zM138.5 309h3v1h-3zM137.5 310h3v1h-3zM135.5 311h3v1h-3zM134.5 312h3v1h-3zM176.5 312h23v1h-23zM255.5 312h37v1h-37zM133.5 313h2v1h-2zM167.5 313h126.5v1h-126.5zM131.5 314h3v1h-3zM163.5 314h9v1h-9zM130.5 315h3v1h-3zM160.5 315h6v1h-6zM129.5 316h3v1h-3zM157.5 316h5v1h-5zM128.5 317h2v1h-2zM155.5 317h4v1h-4zM127.5 318h2v1h-2zM153.5 318h4v1h-4zM126.5 319h2v1h-2zM151.5 319h4v1h-4zM125.5 320h2v1h-2zM150.5 320h3v1h-3zM124.5 321h2v1h-2zM148.5 321h3v1h-3zM123.5 322h2v1h-2zM147.5 322h3v1h-3zM122.5 323h2v1h-2zM145.5 323h3v1h-3zM121.5 324h3v1h-3zM144.5 324h3v1h-3zM121.5 325h2v1h-2zM142.5 325h3v1h-3zM120.5 326h2v1h-2zM141.5 326h3v1h-3zM119.5 327h2v1h-2zM140.5 327h2v1h-2zM118.5 328h2v1h-2zM139.5 328h2v1h-2zM103.5 329h8v1h-8zM118.5 329h2v1h-2zM138.5 329h2v1h-2zM101.5 330h14v1h-14zM117.5 330h2v1h-2zM137.5 330h2v1h-2zM100.5 331h3v1h-3zM112.5 331h6v1h-6zM136.5 331h2v1h-2zM99.5 332h3v1h-3zM135.5 332h2v1h-2zM99.5 333h2v1h-2zM134.5 333h2v1h-2zM98.5 334h2v1h-2zM133.5 334h2v1h-2zM98.5 335h2v1h-2zM133.5 335h2v1h-2zM98.5 336h2v1h-2zM132.5 336h2v1h-2zM98.5 337h2v1h-2zM131.5 337h2v1h-2zM98.5 338h2v1h-2zM130.5 338h2v1h-2zM98.5 339h2v1h-2zM130.5 339h2v1h-2zM176.5 339h14v1h-14zM98.5 340h2v1h-2zM129.5 340h2v1h-2zM169.5 340h29v1h-29zM99.5 341h2v1h-2zM128.5 341h2v1h-2zM165.5 341h39v1h-39zM292.5 341h1.5v1h-1.5zM99.5 342h3v1h-3zM127.5 342h2v1h-2zM161.5 342h12v1h-12zM193.5 342h16v1h-16zM290.5 342h3.5v1h-3.5zM100.5 343h3v1h-3zM126.5 343h2v1h-2zM158.5 343h10v1h-10zM200.5 343h13v1h-13zM288.5 343h5.5v1h-5.5zM74.5 344h3v1h-3zM101.5 344h5v1h-5zM124.5 344h3v1h-3zM155.5 344h9v1h-9zM205.5 344h13v1h-13zM287.5 344h5v1h-5zM74.5 345h3v1h-3zM103.5 345h8v1h-8zM122.5 345h4v1h-4zM153.5 345h8v1h-8zM210.5 345h12v1h-12zM285.5 345h5v1h-5zM73.5 346h5v1h-5zM108.5 346h16v1h-16zM150.5 346h8v1h-8zM214.5 346h12v1h-12zM284.5 346h5v1h-5zM73.5 347h2v1h-2zM76.5 347h2v1h-2zM112.5 347h9v1h-9zM147.5 347h8v1h-8zM218.5 347h12v1h-12zM282.5 347h5v1h-5zM73.5 348h1v1h-1zM77.5 348h1v1h-1zM145.5 348h7v1h-7zM222.5 348h12v1h-12zM279.5 348h7v1h-7zM73.5 349h1v1h-1zM77.5 349h1v1h-1zM142.5 349h7v1h-7zM226.5 349h13v1h-13zM277.5 349h7v1h-7zM73.5 350h1v1h-1zM77.5 350h1v1h-1zM139.5 350h8v1h-8zM231.5 350h13v1h-13zM274.5 350h8v1h-8zM73.5 351h1v1h-1zM77.5 351h1v1h-1zM105.5 351h1v1h-1zM137.5 351h7v1h-7zM176.5 351h16v1h-16zM235.5 351h15v1h-15zM269.5 351h10v1h-10zM73.5 352h1v1h-1zM77.5 352h8v1h-8zM99.5 352h12v1h-12zM135.5 352h6v1h-6zM171.5 352h28v1h-28zM240.5 352h36v1h-36zM73.5 353h1v1h-1zM77.5 353h2v1h-2zM82.5 353h5v1h-5zM97.5 353h5v1h-5zM108.5 353h6v1h-6zM134.5 353h5v1h-5zM167.5 353h38v1h-38zM245.5 353h28v1h-28zM73.5 354h1v1h-1zM85.5 354h3v1h-3zM95.5 354h4v1h-4zM112.5 354h3v1h-3zM132.5 354h5v1h-5zM164.5 354h10v1h-10zM194.5 354h15v1h-15zM253.5 354h14v1h-14zM293.5 354h0.5v1h-0.5zM72.5 355h2v1h-2zM87.5 355h2v1h-2zM94.5 355h3v1h-3zM113.5 355h3v1h-3zM131.5 355h4v1h-4zM161.5 355h8v1h-8zM201.5 355h12v1h-12zM291.5 355h2.5v1h-2.5zM72.5 356h2v1h-2zM88.5 356h2v1h-2zM92.5 356h3v1h-3zM115.5 356h2v1h-2zM130.5 356h4v1h-4zM158.5 356h8v1h-8zM206.5 356h12v1h-12zM290.5 356h3.5v1h-3.5zM71.5 357h2v1h-2zM89.5 357h5v1h-5zM115.5 357h2v1h-2zM129.5 357h3v1h-3zM156.5 357h7v1h-7zM210.5 357h12v1h-12zM288.5 357h5v1h-5zM71.5 358h2v1h-2zM90.5 358h3v1h-3zM116.5 358h2v1h-2zM128.5 358h3v1h-3zM153.5 358h7v1h-7zM214.5 358h12v1h-12zM286.5 358h6v1h-6zM70.5 359h2v1h-2zM91.5 359h1v1h-1zM116.5 359h2v1h-2zM127.5 359h3v1h-3zM150.5 359h8v1h-8zM218.5 359h12v1h-12zM283.5 359h7v1h-7zM70.5 360h2v1h-2zM117.5 360h1v1h-1zM126.5 360h3v1h-3zM148.5 360h7v1h-7zM222.5 360h12v1h-12zM281.5 360h7v1h-7zM70.5 361h2v1h-2zM117.5 361h2v1h-2zM126.5 361h3v1h-3zM146.5 361h6v1h-6zM226.5 361h13v1h-13zM278.5 361h8v1h-8zM70.5 362h2v1h-2zM117.5 362h2v1h-2zM125.5 362h3v1h-3zM144.5 362h6v1h-6zM231.5 362h14v1h-14zM274.5 362h9v1h-9zM70.5 363h2v1h-2zM117.5 363h3v1h-3zM124.5 363h3v1h-3zM142.5 363h5v1h-5zM235.5 363h18v1h-18zM267.5 363h13v1h-13zM70.5 364h2v1h-2zM118.5 364h3v1h-3zM124.5 364h3v1h-3zM140.5 364h5v1h-5zM240.5 364h37v1h-37zM71.5 365h2v1h-2zM119.5 365h2v1h-2zM123.5 365h3v1h-3zM139.5 365h4v1h-4zM246.5 365h26v1h-26zM71.5 366h2v1h-2zM119.5 366h6v1h-6zM138.5 366h4v1h-4zM258.5 366h4v1h-4zM72.5 367h2v1h-2zM120.5 367h5v1h-5zM138.5 367h3v1h-3zM72.5 368h3v1h-3zM121.5 368h3v1h-3zM137.5 368h3v1h-3zM73.5 369h3v1h-3zM122.5 369h1v1h-1zM136.5 369h3v1h-3zM75.5 370h2v1h-2zM105.5 370h2v1h-2zM122.5 370h1v1h-1zM136.5 370h2v1h-2zM76.5 371h2v1h-2zM104.5 371h4v1h-4zM135.5 371h3v1h-3zM77.5 372h2v1h-2zM103.5 372h2v1h-2zM106.5 372h2v1h-2zM134.5 372h3v1h-3zM77.5 373h2v1h-2zM103.5 373h2v1h-2zM106.5 373h3v1h-3zM134.5 373h3v1h-3zM78.5 374h2v1h-2zM102.5 374h2v1h-2zM107.5 374h3v1h-3zM133.5 374h3v1h-3zM79.5 375h2v1h-2zM101.5 375h2v1h-2zM108.5 375h3v1h-3zM133.5 375h2v1h-2zM80.5 376h2v1h-2zM100.5 376h3v1h-3zM109.5 376h3v1h-3zM132.5 376h3v1h-3zM81.5 377h2v1h-2zM99.5 377h3v1h-3zM110.5 377h3v1h-3zM131.5 377h3v1h-3zM82.5 378h2v1h-2zM98.5 378h3v1h-3zM111.5 378h3v1h-3zM131.5 378h3v1h-3zM83.5 379h3v1h-3zM97.5 379h3v1h-3zM111.5 379h4v1h-4zM130.5 379h3v1h-3zM84.5 380h4v1h-4zM94.5 380h4v1h-4zM113.5 380h3v1h-3zM129.5 380h3v1h-3zM86.5 381h10v1h-10zM114.5 381h4v1h-4zM127.5 381h4v1h-4zM90.5 382h3v1h-3zM115.5 382h5v1h-5zM125.5 382h5v1h-5zM117.5 383h11v1h-11zM119.5 384h7v1h-7z"/>
<path fill="#6e00a8" d="M103.5 261h17v1h-17zM100.5 262h23v1h-23zM98.5 263h7v1h-7zM118.5 263h7v1h-7zM97.5 264h6v1h-6zM120.5 264h6v1h-6zM219.5 264h74.5v1h-74.5zM96.5 265h6v1h-6zM121.5 265h6v1h-6zM177.5 265h8v1h-8zM96.5 266h6v1h-6zM121.5 266h6v1h-6zM172.5 266h3v1h-3zM97.5 267h6v1h-6zM120.5 267h6v1h-6zM169.5 267h2v1h-2zM98.5 268h7v1h-7zM118.5 268h7v1h-7zM165.5 268h2v1h-2zM100.5 269h23v1h-23zM163.5 269h1v1h-1zM103.5 270h17v1h-17zM160.5 270h2v1h-2zM158.5 271h1v1h-1zM75.5 272h2v1h-2zM156.5 272h1v1h-1zM75.5 273h2v1h-2zM154.5 273h1v1h-1zM75.5 274h2v1h-2zM152.5 274h1v1h-1zM74.5 275h1v1h-1zM77.5 275h1v1h-1zM150.5 275h1v1h-1zM74.5 276h1v1h-1zM77.5 276h1v1h-1zM148.5 276h2v1h-2zM74.5 277h1v1h-1zM77.5 277h1v1h-1zM147.5 277h1v1h-1zM74.5 278h1v1h-1zM77.5 278h1v1h-1zM145.5 278h1v1h-1zM74.5 279h1v1h-1zM77.5 279h1v1h-1zM144.5 279h1v1h-1zM74.5 280h1v1h-1zM77.5 280h1v1h-1zM143.5 280h1v1h-1zM75.5 281h2v1h-2zM141.5 281h1v1h-1zM75.5 282h2v1h-2zM102.5 282h1v1h-1zM108.5 282h2v1h-2zM140.5 282h1v1h-1zM75.5 283h2v1h-2zM78.5 283h5v1h-5zM100.5 283h1v1h-1zM110.5 283h2v1h-2zM139.5 283h1v1h-1zM76.5 284h1v1h-1zM84.5 284h1v1h-1zM99.5 284h1v1h-1zM112.5 284h1v1h-1zM138.5 284h1v1h-1zM173.5 284h22v1h-22zM75.5 285h1v1h-1zM86.5 285h1v1h-1zM113.5 285h1v1h-1zM137.5 285h1v1h-1zM167.5 285h3v1h-3zM202.5 285h14v1h-14zM74.5 286h1v1h-1zM87.5 286h1v1h-1zM136.5 286h1v1h-1zM163.5 286h2v1h-2zM221.5 286h37v1h-37zM283.5 286h10.5v1h-10.5zM74.5 287h1v1h-1zM96.5 287h1v1h-1zM116.5 287h1v1h-1zM135.5 287h1v1h-1zM160.5 287h2v1h-2zM90.5 288h1v1h-1zM95.5 288h1v1h-1zM117.5 288h1v1h-1zM133.5 288h1v1h-1zM157.5 288h2v1h-2zM91.5 289h1v1h-1zM94.5 289h1v1h-1zM118.5 289h1v1h-1zM132.5 289h1v1h-1zM155.5 289h1v1h-1zM92.5 290h2v1h-2zM119.5 290h1v1h-1zM131.5 290h1v1h-1zM153.5 290h1v1h-1zM120.5 291h1v1h-1zM129.5 291h1v1h-1zM151.5 291h1v1h-1zM74.5 292h1v1h-1zM121.5 292h1v1h-1zM128.5 292h1v1h-1zM150.5 292h1v1h-1zM74.5 293h1v1h-1zM126.5 293h1v1h-1zM75.5 294h1v1h-1zM123.5 294h1v1h-1zM125.5 294h1v1h-1zM147.5 294h1v1h-1zM76.5 295h1v1h-1zM146.5 295h1v1h-1zM78.5 296h2v1h-2zM105.5 296h2v1h-2zM145.5 296h1v1h-1zM80.5 297h1v1h-1zM104.5 297h1v1h-1zM107.5 297h1v1h-1zM144.5 297h1v1h-1zM81.5 298h1v1h-1zM108.5 298h1v1h-1zM142.5 298h1v1h-1zM82.5 299h1v1h-1zM103.5 299h1v1h-1zM109.5 299h1v1h-1zM141.5 299h1v1h-1zM168.5 299h45v1h-45zM83.5 300h1v1h-1zM102.5 300h1v1h-1zM110.5 300h1v1h-1zM140.5 300h1v1h-1zM162.5 300h5v1h-5zM214.5 300h79.5v1h-79.5zM85.5 301h1v1h-1zM101.5 301h1v1h-1zM111.5 301h1v1h-1zM138.5 301h1v1h-1zM158.5 301h4v1h-4zM86.5 302h2v1h-2zM99.5 302h1v1h-1zM112.5 302h1v1h-1zM137.5 302h1v1h-1zM155.5 302h3v1h-3zM88.5 303h2v1h-2zM97.5 303h2v1h-2zM113.5 303h1v1h-1zM135.5 303h1v1h-1zM153.5 303h2v1h-2zM92.5 304h4v1h-4zM114.5 304h1v1h-1zM134.5 304h1v1h-1zM150.5 304h3v1h-3zM115.5 305h1v1h-1zM132.5 305h1v1h-1zM148.5 305h2v1h-2zM117.5 306h1v1h-1zM130.5 306h2v1h-2zM146.5 306h2v1h-2zM118.5 307h2v1h-2zM128.5 307h2v1h-2zM145.5 307h2v1h-2zM121.5 308h6v1h-6zM143.5 308h2v1h-2zM141.5 309h2v1h-2zM140.5 310h1v1h-1zM138.5 311h2v1h-2zM178.5 311h19v1h-19zM253.5 311h40.5v1h-40.5zM137.5 312h1v1h-1zM167.5 312h9v1h-9zM199.5 312h56v1h-56zM292.5 312h1.5v1h-1.5zM135.5 313h2v1h-2zM163.5 313h4v1h-4zM134.5 314h2v1h-2zM160.5 314h3v1h-3zM133.5 315h1v1h-1zM157.5 315h3v1h-3zM132.5 316h1v1h-1zM155.5 316h2v1h-2zM130.5 317h2v1h-2zM153.5 317h2v1h-2zM129.5 318h2v1h-2zM151.5 318h2v1h-2zM128.5 319h2v1h-2zM150.5 319h1v1h-1zM127.5 320h2v1h-2zM148.5 320h2v1h-2zM126.5 321h2v1h-2zM146.5 321h2v1h-2zM125.5 322h2v1h-2zM145.5 322h2v1h-2zM124.5 323h2v1h-2zM143.5 323h2v1h-2zM124.5 324h1v1h-1zM142.5 324h2v1h-2zM123.5 325h1v1h-1zM141.5 325h1v1h-1zM122.5 326h1v1h-1zM140.5 326h1v1h-1zM121.5 327h1v1h-1zM138.5 327h2v1h-2zM120.5 328h2v1h-2zM137.5 328h2v1h-2zM120.5 329h1v1h-1zM136.5 329h2v1h-2zM119.5 330h1v1h-1zM135.5 330h2v1h-2zM103.5 331h2v1h-2zM108.5 331h4v1h-4zM118.5 331h1v1h-1zM135.5 331h1v1h-1zM102.5 332h1v1h-1zM113.5 332h5v1h-5zM134.5 332h1v1h-1zM101.5 333h1v1h-1zM133.5 333h1v1h-1zM100.5 334h1v1h-1zM132.5 334h1v1h-1zM100.5 335h1v1h-1zM131.5 335h2v1h-2zM131.5 336h1v1h-1zM130.5 337h1v1h-1zM129.5 338h1v1h-1zM100.5 339h1v1h-1zM128.5 339h2v1h-2zM100.5 340h1v1h-1zM128.5 340h1v1h-1zM101.5 341h1v1h-1zM127.5 341h1v1h-1zM102.5 342h1v1h-1zM125.5 342h2v1h-2zM173.5 342h20v1h-20zM103.5 343h2v1h-2zM124.5 343h2v1h-2zM168.5 343h32v1h-32zM106.5 344h4v1h-4zM122.5 344h2v1h-2zM164.5 344h9v1h-9zM192.5 344h13v1h-13zM292.5 344h1.5v1h-1.5zM111.5 345h11v1h-11zM161.5 345h7v1h-7zM199.5 345h11v1h-11zM290.5 345h3.5v1h-3.5zM158.5 346h6v1h-6zM204.5 346h10v1h-10zM289.5 346h4v1h-4zM75.5 347h1v1h-1zM155.5 347h6v1h-6zM209.5 347h9v1h-9zM287.5 347h4v1h-4zM74.5 348h3v1h-3zM152.5 348h6v1h-6zM213.5 348h9v1h-9zM286.5 348h4v1h-4zM74.5 349h1v1h-1zM76.5 349h1v1h-1zM149.5 349h6v1h-6zM176.5 349h17v1h-17zM217.5 349h9v1h-9zM284.5 349h4v1h-4zM74.5 350h1v1h-1zM76.5 350h1v1h-1zM147.5 350h5v1h-5zM170.5 350h30v1h-30zM221.5 350h10v1h-10zM282.5 350h4v1h-4zM74.5 351h1v1h-1zM76.5 351h1v1h-1zM144.5 351h5v1h-5zM167.5 351h9v1h-9zM192.5 351h14v1h-14zM225.5 351h10v1h-10zM279.5 351h6v1h-6zM74.5 352h1v1h-1zM76.5 352h1v1h-1zM141.5 352h6v1h-6zM163.5 352h8v1h-8zM199.5 352h11v1h-11zM230.5 352h10v1h-10zM276.5 352h7v1h-7zM292.5 352h1.5v1h-1.5zM74.5 353h1v1h-1zM76.5 353h1v1h-1zM79.5 353h3v1h-3zM102.5 353h6v1h-6zM139.5 353h4v1h-4zM161.5 353h6v1h-6zM205.5 353h9v1h-9zM234.5 353h11v1h-11zM273.5 353h7v1h-7zM290.5 353h3.5v1h-3.5zM74.5 354h1v1h-1zM76.5 354h3v1h-3zM82.5 354h3v1h-3zM99.5 354h3v1h-3zM108.5 354h4v1h-4zM137.5 354h4v1h-4zM158.5 354h6v1h-6zM209.5 354h10v1h-10zM239.5 354h14v1h-14zM267.5 354h10v1h-10zM289.5 354h4v1h-4zM74.5 355h2v1h-2zM85.5 355h2v1h-2zM97.5 355h2v1h-2zM112.5 355h1v1h-1zM135.5 355h4v1h-4zM155.5 355h6v1h-6zM213.5 355h10v1h-10zM244.5 355h30v1h-30zM287.5 355h4v1h-4zM74.5 356h1v1h-1zM87.5 356h1v1h-1zM95.5 356h2v1h-2zM113.5 356h2v1h-2zM134.5 356h3v1h-3zM153.5 356h5v1h-5zM218.5 356h9v1h-9zM251.5 356h17v1h-17zM285.5 356h5v1h-5zM73.5 357h1v1h-1zM88.5 357h1v1h-1zM94.5 357h1v1h-1zM114.5 357h1v1h-1zM132.5 357h3v1h-3zM150.5 357h6v1h-6zM222.5 357h9v1h-9zM283.5 357h5v1h-5zM73.5 358h1v1h-1zM89.5 358h1v1h-1zM93.5 358h1v1h-1zM115.5 358h1v1h-1zM131.5 358h3v1h-3zM148.5 358h5v1h-5zM226.5 358h9v1h-9zM280.5 358h6v1h-6zM72.5 359h1v1h-1zM90.5 359h1v1h-1zM92.5 359h1v1h-1zM115.5 359h1v1h-1zM130.5 359h3v1h-3zM146.5 359h4v1h-4zM230.5 359h10v1h-10zM277.5 359h6v1h-6zM72.5 360h1v1h-1zM90.5 360h2v1h-2zM116.5 360h1v1h-1zM129.5 360h3v1h-3zM144.5 360h4v1h-4zM234.5 360h12v1h-12zM272.5 360h9v1h-9zM72.5 361h1v1h-1zM116.5 361h1v1h-1zM129.5 361h2v1h-2zM142.5 361h4v1h-4zM239.5 361h17v1h-17zM264.5 361h14v1h-14zM72.5 362h1v1h-1zM116.5 362h1v1h-1zM128.5 362h2v1h-2zM140.5 362h4v1h-4zM245.5 362h29v1h-29zM72.5 363h1v1h-1zM116.5 363h1v1h-1zM127.5 363h2v1h-2zM139.5 363h3v1h-3zM253.5 363h14v1h-14zM72.5 364h1v1h-1zM117.5 364h1v1h-1zM127.5 364h1v1h-1zM138.5 364h2v1h-2zM73.5 365h1v1h-1zM117.5 365h2v1h-2zM126.5 365h2v1h-2zM137.5 365h2v1h-2zM73.5 366h1v1h-1zM118.5 366h1v1h-1zM125.5 366h2v1h-2zM136.5 366h2v1h-2zM74.5 367h1v1h-1zM119.5 367h1v1h-1zM125.5 367h1v1h-1zM136.5 367h2v1h-2zM75.5 368h1v1h-1zM119.5 368h2v1h-2zM124.5 368h2v1h-2zM135.5 368h2v1h-2zM76.5 369h1v1h-1zM105.5 369h3v1h-3zM120.5 369h2v1h-2zM123.5 369h2v1h-2zM134.5 369h2v1h-2zM77.5 370h1v1h-1zM104.5 370h1v1h-1zM107.5 370h2v1h-2zM121.5 370h1v1h-1zM123.5 370h1v1h-1zM134.5 370h2v1h-2zM78.5 371h1v1h-1zM103.5 371h1v1h-1zM108.5 371h1v1h-1zM122.5 371h2v1h-2zM133.5 371h2v1h-2zM79.5 372h1v1h-1zM102.5 372h1v1h-1zM108.5 372h2v1h-2zM133.5 372h1v1h-1zM79.5 373h2v1h-2zM102.5 373h1v1h-1zM109.5 373h2v1h-2zM132.5 373h2v1h-2zM80.5 374h1v1h-1zM101.5 374h1v1h-1zM110.5 374h2v1h-2zM132.5 374h1v1h-1zM81.5 375h1v1h-1zM100.5 375h1v1h-1zM111.5 375h2v1h-2zM131.5 375h2v1h-2zM82.5 376h1v1h-1zM99.5 376h1v1h-1zM112.5 376h2v1h-2zM130.5 376h2v1h-2zM83.5 377h1v1h-1zM98.5 377h1v1h-1zM113.5 377h2v1h-2zM129.5 377h2v1h-2zM84.5 378h2v1h-2zM97.5 378h1v1h-1zM114.5 378h2v1h-2zM129.5 378h2v1h-2zM86.5 379h2v1h-2zM95.5 379h2v1h-2zM115.5 379h2v1h-2zM128.5 379h2v1h-2zM88.5 380h6v1h-6zM116.5 380h3v1h-3zM126.5 380h3v1h-3zM118.5 381h9v1h-9zM120.5 382h5v1h-5z"/>
<path fill="#7600cc" d="M105.5 263h13v1h-13zM103.5 264h17v1h-17zM102.5 265h19v1h-19zM185.5 265h55v1h-55zM102.5 266h19v1h-19zM175.5 266h3v1h-3zM103.5 267h17v1h-17zM171.5 267h2v1h-2zM105.5 268h13v1h-13zM167.5 268h2v1h-2zM164.5 269h2v1h-2zM162.5 270h1v1h-1zM159.5 271h2v1h-2zM157.5 272h1v1h-1zM155.5 273h1v1h-1zM153.5 274h1v1h-1zM75.5 275h2v1h-2zM151.5 275h1v1h-1zM75.5 276h2v1h-2zM75.5 277h2v1h-2zM148.5 277h1v1h-1zM75.5 278h2v1h-2zM146.5 278h1v1h-1zM75.5 279h2v1h-2zM145.5 279h1v1h-1zM75.5 280h2v1h-2zM142.5 281h1v1h-1zM103.5 282h5v1h-5zM141.5 282h1v1h-1zM101.5 283h1v1h-1zM109.5 283h1v1h-1zM140.5 283h1v1h-1zM77.5 284h1v1h-1zM83.5 284h1v1h-1zM111.5 284h1v1h-1zM169.5 284h4v1h-4zM195.5 284h12v1h-12zM76.5 285h1v1h-1zM85.5 285h1v1h-1zM98.5 285h1v1h-1zM165.5 285h2v1h-2zM216.5 285h76v1h-76zM75.5 286h1v1h-1zM97.5 286h1v1h-1zM114.5 286h1v1h-1zM162.5 286h1v1h-1zM88.5 287h1v1h-1zM115.5 287h1v1h-1zM159.5 287h1v1h-1zM74.5 288h1v1h-1zM89.5 288h1v1h-1zM116.5 288h1v1h-1zM134.5 288h1v1h-1zM156.5 288h1v1h-1zM74.5 289h1v1h-1zM90.5 289h1v1h-1zM95.5 289h1v1h-1zM117.5 289h1v1h-1zM133.5 289h1v1h-1zM154.5 289h1v1h-1zM74.5 290h1v1h-1zM91.5 290h1v1h-1zM94.5 290h1v1h-1zM118.5 290h1v1h-1zM132.5 290h1v1h-1zM152.5 290h1v1h-1zM74.5 291h1v1h-1zM93.5 291h1v1h-1zM119.5 291h1v1h-1zM130.5 291h1v1h-1zM150.5 291h1v1h-1zM120.5 292h1v1h-1zM129.5 292h1v1h-1zM149.5 292h1v1h-1zM75.5 293h1v1h-1zM121.5 293h1v1h-1zM127.5 293h1v1h-1zM148.5 293h1v1h-1zM76.5 294h1v1h-1zM122.5 294h1v1h-1zM126.5 294h1v1h-1zM77.5 295h1v1h-1zM123.5 295h2v1h-2zM145.5 295h1v1h-1zM107.5 296h1v1h-1zM144.5 296h1v1h-1zM81.5 297h1v1h-1zM108.5 297h1v1h-1zM143.5 297h1v1h-1zM82.5 298h1v1h-1zM103.5 298h1v1h-1zM109.5 298h1v1h-1zM83.5 299h1v1h-1zM102.5 299h1v1h-1zM110.5 299h1v1h-1zM140.5 299h1v1h-1zM84.5 300h1v1h-1zM101.5 300h1v1h-1zM111.5 300h1v1h-1zM139.5 300h1v1h-1zM167.5 300h7v1h-7zM197.5 300h17v1h-17zM86.5 301h1v1h-1zM100.5 301h1v1h-1zM112.5 301h1v1h-1zM137.5 301h1v1h-1zM162.5 301h3v1h-3zM220.5 301h73.5v1h-73.5zM88.5 302h1v1h-1zM98.5 302h1v1h-1zM113.5 302h1v1h-1zM136.5 302h1v1h-1zM158.5 302h3v1h-3zM90.5 303h2v1h-2zM95.5 303h2v1h-2zM114.5 303h1v1h-1zM134.5 303h1v1h-1zM155.5 303h2v1h-2zM115.5 304h1v1h-1zM133.5 304h1v1h-1zM153.5 304h2v1h-2zM116.5 305h1v1h-1zM131.5 305h1v1h-1zM150.5 305h2v1h-2zM118.5 306h1v1h-1zM129.5 306h1v1h-1zM148.5 306h2v1h-2zM120.5 307h2v1h-2zM126.5 307h2v1h-2zM147.5 307h1v1h-1zM145.5 308h1v1h-1zM143.5 309h1v1h-1zM141.5 310h2v1h-2zM140.5 311h1v1h-1zM169.5 311h9v1h-9zM197.5 311h56v1h-56zM138.5 312h2v1h-2zM164.5 312h3v1h-3zM137.5 313h1v1h-1zM161.5 313h2v1h-2zM136.5 314h1v1h-1zM158.5 314h2v1h-2zM134.5 315h1v1h-1zM156.5 315h1v1h-1zM133.5 316h1v1h-1zM154.5 316h1v1h-1zM132.5 317h1v1h-1zM152.5 317h1v1h-1zM131.5 318h1v1h-1zM150.5 318h1v1h-1zM130.5 319h1v1h-1zM148.5 319h2v1h-2zM129.5 320h1v1h-1zM147.5 320h1v1h-1zM128.5 321h1v1h-1zM145.5 321h1v1h-1zM127.5 322h1v1h-1zM144.5 322h1v1h-1zM126.5 323h1v1h-1zM142.5 323h1v1h-1zM125.5 324h1v1h-1zM141.5 324h1v1h-1zM124.5 325h1v1h-1zM140.5 325h1v1h-1zM123.5 326h1v1h-1zM139.5 326h1v1h-1zM122.5 327h1v1h-1zM137.5 327h1v1h-1zM136.5 328h1v1h-1zM121.5 329h1v1h-1zM135.5 329h1v1h-1zM120.5 330h1v1h-1zM105.5 331h3v1h-3zM119.5 331h1v1h-1zM134.5 331h1v1h-1zM103.5 332h1v1h-1zM110.5 332h3v1h-3zM118.5 332h1v1h-1zM133.5 332h1v1h-1zM102.5 333h1v1h-1zM114.5 333h4v1h-4zM132.5 333h1v1h-1zM101.5 334h1v1h-1zM131.5 334h1v1h-1zM100.5 336h1v1h-1zM130.5 336h1v1h-1zM100.5 337h1v1h-1zM129.5 337h1v1h-1zM100.5 338h1v1h-1zM128.5 338h1v1h-1zM101.5 340h1v1h-1zM127.5 340h1v1h-1zM102.5 341h1v1h-1zM126.5 341h1v1h-1zM103.5 342h1v1h-1zM124.5 342h1v1h-1zM105.5 343h4v1h-4zM123.5 343h1v1h-1zM110.5 344h3v1h-3zM120.5 344h2v1h-2zM173.5 344h19v1h-19zM168.5 345h31v1h-31zM164.5 346h40v1h-40zM293.5 346h0.5v1h-0.5zM161.5 347h48v1h-48zM291.5 347h2.5v1h-2.5zM158.5 348h55v1h-55zM290.5 348h3.5v1h-3.5zM75.5 349h1v1h-1zM155.5 349h21v1h-21zM193.5 349h24v1h-24zM288.5 349h5.5v1h-5.5zM75.5 350h1v1h-1zM152.5 350h18v1h-18zM200.5 350h21v1h-21zM286.5 350h7.5v1h-7.5zM75.5 351h1v1h-1zM149.5 351h18v1h-18zM206.5 351h19v1h-19zM285.5 351h8.5v1h-8.5zM75.5 352h1v1h-1zM147.5 352h16v1h-16zM210.5 352h20v1h-20zM283.5 352h9v1h-9zM75.5 353h1v1h-1zM143.5 353h18v1h-18zM214.5 353h20v1h-20zM280.5 353h10v1h-10zM75.5 354h1v1h-1zM79.5 354h3v1h-3zM102.5 354h6v1h-6zM141.5 354h17v1h-17zM219.5 354h20v1h-20zM277.5 354h12v1h-12zM76.5 355h2v1h-2zM83.5 355h2v1h-2zM99.5 355h2v1h-2zM109.5 355h3v1h-3zM139.5 355h16v1h-16zM223.5 355h21v1h-21zM274.5 355h13v1h-13zM75.5 356h1v1h-1zM85.5 356h2v1h-2zM97.5 356h1v1h-1zM112.5 356h1v1h-1zM137.5 356h5v1h-5zM145.5 356h8v1h-8zM227.5 356h24v1h-24zM268.5 356h17v1h-17zM74.5 357h1v1h-1zM87.5 357h1v1h-1zM95.5 357h2v1h-2zM113.5 357h1v1h-1zM135.5 357h4v1h-4zM144.5 357h6v1h-6zM231.5 357h52v1h-52zM88.5 358h1v1h-1zM94.5 358h1v1h-1zM114.5 358h1v1h-1zM134.5 358h3v1h-3zM143.5 358h5v1h-5zM235.5 358h45v1h-45zM73.5 359h1v1h-1zM89.5 359h1v1h-1zM93.5 359h1v1h-1zM133.5 359h3v1h-3zM141.5 359h5v1h-5zM240.5 359h37v1h-37zM73.5 360h1v1h-1zM92.5 360h1v1h-1zM115.5 360h1v1h-1zM132.5 360h2v1h-2zM140.5 360h4v1h-4zM246.5 360h26v1h-26zM90.5 361h2v1h-2zM115.5 361h1v1h-1zM131.5 361h2v1h-2zM138.5 361h4v1h-4zM256.5 361h8v1h-8zM115.5 362h1v1h-1zM130.5 362h2v1h-2zM137.5 362h3v1h-3zM73.5 363h1v1h-1zM115.5 363h1v1h-1zM129.5 363h2v1h-2zM136.5 363h3v1h-3zM73.5 364h1v1h-1zM115.5 364h2v1h-2zM128.5 364h3v1h-3zM136.5 364h2v1h-2zM116.5 365h1v1h-1zM128.5 365h2v1h-2zM135.5 365h2v1h-2zM74.5 366h1v1h-1zM117.5 366h1v1h-1zM127.5 366h2v1h-2zM134.5 366h2v1h-2zM75.5 367h1v1h-1zM117.5 367h2v1h-2zM126.5 367h2v1h-2zM134.5 367h2v1h-2zM76.5 368h2v1h-2zM105.5 368h3v1h-3zM118.5 368h1v1h-1zM126.5 368h2v1h-2zM133.5 368h2v1h-2zM77.5 369h1v1h-1zM104.5 369h1v1h-1zM108.5 369h1v1h-1zM119.5 369h1v1h-1zM125.5 369h2v1h-2zM133.5 369h1v1h-1zM78.5 370h1v1h-1zM103.5 370h1v1h-1zM109.5 370h1v1h-1zM119.5 370h2v1h-2zM124.5 370h2v1h-2zM132.5 370h2v1h-2zM79.5 371h1v1h-1zM102.5 371h1v1h-1zM109.5 371h2v1h-2zM120.5 371h2v1h-2zM124.5 371h2v1h-2zM132.5 371h1v1h-1zM80.5 372h1v1h-1zM110.5 372h2v1h-2zM121.5 372h4v1h-4zM131.5 372h2v1h-2zM101.5 373h1v1h-1zM111.5 373h1v1h-1zM122.5 373h2v1h-2zM130.5 373h2v1h-2zM81.5 374h1v1h-1zM100.5 374h1v1h-1zM112.5 374h1v1h-1zM130.5 374h2v1h-2zM82.5 375h1v1h-1zM99.5 375h1v1h-1zM113.5 375h1v1h-1zM129.5 375h2v1h-2zM83.5 376h1v1h-1zM98.5 376h1v1h-1zM114.5 376h1v1h-1zM128.5 376h2v1h-2zM84.5 377h1v1h-1zM97.5 377h1v1h-1zM115.5 377h1v1h-1zM128.5 377h1v1h-1zM86.5 378h1v1h-1zM95.5 378h2v1h-2zM116.5 378h2v1h-2zM127.5 378h2v1h-2zM88.5 379h7v1h-7zM117.5 379h3v1h-3zM125.5 379h3v1h-3zM119.5 380h7v1h-7z"/>
<path fill="#7d00f0" d="M240.5 265h53.5v1h-53.5zM178.5 266h6v1h-6zM173.5 267h2v1h-2zM169.5 268h1v1h-1zM166.5 269h1v1h-1zM163.5 270h1v1h-1zM158.5 272h1v1h-1zM156.5 273h1v1h-1zM154.5 274h1v1h-1zM152.5 275h1v1h-1zM150.5 276h1v1h-1zM147.5 278h1v1h-1zM144.5 280h1v1h-1zM143.5 281h1v1h-1zM102.5 283h1v1h-1zM108.5 283h1v1h-1zM182.5 283h12v1h-12zM78.5 284h2v1h-2zM81.5 284h2v1h-2zM100.5 284h1v1h-1zM139.5 284h1v1h-1zM168.5 284h1v1h-1zM207.5 284h8v1h-8zM84.5 285h1v1h-1zM99.5 285h1v1h-1zM112.5 285h1v1h-1zM138.5 285h1v1h-1zM164.5 285h1v1h-1zM292.5 285h1.5v1h-1.5zM86.5 286h1v1h-1zM98.5 286h1v1h-1zM113.5 286h1v1h-1zM137.5 286h1v1h-1zM161.5 286h1v1h-1zM75.5 287h1v1h-1zM87.5 287h1v1h-1zM97.5 287h1v1h-1zM114.5 287h1v1h-1zM136.5 287h1v1h-1zM158.5 287h1v1h-1zM88.5 288h1v1h-1zM96.5 288h1v1h-1zM135.5 288h1v1h-1zM155.5 288h1v1h-1zM89.5 289h1v1h-1zM153.5 289h1v1h-1zM151.5 290h1v1h-1zM92.5 291h1v1h-1zM131.5 291h1v1h-1zM75.5 292h1v1h-1zM120.5 293h1v1h-1zM128.5 293h1v1h-1zM147.5 293h1v1h-1zM121.5 294h1v1h-1zM146.5 294h1v1h-1zM78.5 295h2v1h-2zM105.5 295h2v1h-2zM122.5 295h1v1h-1zM125.5 295h1v1h-1zM80.5 296h1v1h-1zM104.5 296h1v1h-1zM103.5 297h1v1h-1zM142.5 297h1v1h-1zM141.5 298h1v1h-1zM84.5 299h1v1h-1zM85.5 300h1v1h-1zM138.5 300h1v1h-1zM174.5 300h23v1h-23zM87.5 301h1v1h-1zM99.5 301h1v1h-1zM165.5 301h4v1h-4zM206.5 301h14v1h-14zM89.5 302h1v1h-1zM97.5 302h1v1h-1zM135.5 302h1v1h-1zM161.5 302h2v1h-2zM286.5 302h7.5v1h-7.5zM92.5 303h3v1h-3zM157.5 303h2v1h-2zM132.5 304h1v1h-1zM155.5 304h1v1h-1zM117.5 305h1v1h-1zM130.5 305h1v1h-1zM152.5 305h2v1h-2zM119.5 306h1v1h-1zM128.5 306h1v1h-1zM150.5 306h1v1h-1zM122.5 307h4v1h-4zM148.5 307h1v1h-1zM146.5 308h1v1h-1zM144.5 309h2v1h-2zM143.5 310h1v1h-1zM173.5 310h120.5v1h-120.5zM141.5 311h1v1h-1zM166.5 311h3v1h-3zM140.5 312h1v1h-1zM162.5 312h2v1h-2zM138.5 313h1v1h-1zM159.5 313h2v1h-2zM137.5 314h1v1h-1zM156.5 314h2v1h-2zM135.5 315h1v1h-1zM154.5 315h2v1h-2zM134.5 316h1v1h-1zM152.5 316h2v1h-2zM133.5 317h1v1h-1zM150.5 317h2v1h-2zM132.5 318h1v1h-1zM149.5 318h1v1h-1zM147.5 319h1v1h-1zM146.5 320h1v1h-1zM144.5 321h1v1h-1zM143.5 322h1v1h-1zM141.5 323h1v1h-1zM140.5 324h1v1h-1zM125.5 325h1v1h-1zM139.5 325h1v1h-1zM124.5 326h1v1h-1zM138.5 326h1v1h-1zM123.5 327h1v1h-1zM122.5 328h1v1h-1zM121.5 330h1v1h-1zM134.5 330h1v1h-1zM120.5 331h1v1h-1zM133.5 331h1v1h-1zM104.5 332h6v1h-6zM119.5 332h1v1h-1zM132.5 332h1v1h-1zM103.5 333h1v1h-1zM112.5 333h2v1h-2zM118.5 333h1v1h-1zM131.5 333h1v1h-1zM102.5 334h1v1h-1zM101.5 335h1v1h-1zM130.5 335h1v1h-1zM101.5 336h1v1h-1zM129.5 336h1v1h-1zM101.5 337h1v1h-1zM128.5 337h1v1h-1zM101.5 338h1v1h-1zM101.5 339h1v1h-1zM127.5 339h1v1h-1zM102.5 340h1v1h-1zM126.5 340h1v1h-1zM103.5 341h1v1h-1zM125.5 341h1v1h-1zM104.5 342h3v1h-3zM123.5 342h1v1h-1zM109.5 343h2v1h-2zM121.5 343h2v1h-2zM113.5 344h7v1h-7zM78.5 355h2v1h-2zM81.5 355h2v1h-2zM101.5 355h3v1h-3zM106.5 355h3v1h-3zM76.5 356h1v1h-1zM84.5 356h1v1h-1zM98.5 356h2v1h-2zM111.5 356h1v1h-1zM142.5 356h3v1h-3zM75.5 357h1v1h-1zM86.5 357h1v1h-1zM97.5 357h1v1h-1zM112.5 357h1v1h-1zM139.5 357h5v1h-5zM74.5 358h1v1h-1zM87.5 358h1v1h-1zM95.5 358h1v1h-1zM113.5 358h1v1h-1zM137.5 358h6v1h-6zM88.5 359h1v1h-1zM94.5 359h1v1h-1zM114.5 359h1v1h-1zM136.5 359h5v1h-5zM89.5 360h1v1h-1zM93.5 360h1v1h-1zM114.5 360h1v1h-1zM134.5 360h6v1h-6zM73.5 361h1v1h-1zM92.5 361h1v1h-1zM114.5 361h1v1h-1zM133.5 361h5v1h-5zM73.5 362h1v1h-1zM91.5 362h1v1h-1zM114.5 362h1v1h-1zM132.5 362h5v1h-5zM114.5 363h1v1h-1zM131.5 363h5v1h-5zM114.5 364h1v1h-1zM131.5 364h5v1h-5zM74.5 365h1v1h-1zM115.5 365h1v1h-1zM130.5 365h5v1h-5zM75.5 366h1v1h-1zM115.5 366h2v1h-2zM129.5 366h5v1h-5zM76.5 367h1v1h-1zM116.5 367h1v1h-1zM128.5 367h6v1h-6zM104.5 368h1v1h-1zM108.5 368h2v1h-2zM117.5 368h1v1h-1zM128.5 368h5v1h-5zM78.5 369h1v1h-1zM103.5 369h1v1h-1zM109.5 369h1v1h-1zM117.5 369h2v1h-2zM127.5 369h6v1h-6zM79.5 370h1v1h-1zM102.5 370h1v1h-1zM110.5 370h1v1h-1zM118.5 370h1v1h-1zM126.5 370h6v1h-6zM111.5 371h1v1h-1zM119.5 371h1v1h-1zM126.5 371h6v1h-6zM101.5 372h1v1h-1zM112.5 372h1v1h-1zM119.5 372h2v1h-2zM125.5 372h6v1h-6zM81.5 373h1v1h-1zM100.5 373h1v1h-1zM112.5 373h2v1h-2zM120.5 373h2v1h-2zM124.5 373h6v1h-6zM82.5 374h1v1h-1zM99.5 374h1v1h-1zM113.5 374h2v1h-2zM121.5 374h5v1h-5zM127.5 374h3v1h-3zM83.5 375h1v1h-1zM114.5 375h2v1h-2zM122.5 375h2v1h-2zM126.5 375h3v1h-3zM84.5 376h1v1h-1zM115.5 376h2v1h-2zM126.5 376h2v1h-2zM85.5 377h1v1h-1zM96.5 377h1v1h-1zM116.5 377h3v1h-3zM125.5 377h3v1h-3zM87.5 378h2v1h-2zM94.5 378h1v1h-1zM118.5 378h9v1h-9zM120.5 379h5v1h-5z"/>
<path fill="#5600f5" d="M184.5 266h35v1h-35zM175.5 267h2v1h-2zM170.5 268h2v1h-2zM167.5 269h1v1h-1zM164.5 270h1v1h-1zM161.5 271h1v1h-1zM159.5 272h1v1h-1zM157.5 273h1v1h-1zM155.5 274h1v1h-1zM153.5 275h1v1h-1zM151.5 276h1v1h-1zM149.5 277h1v1h-1zM146.5 279h1v1h-1zM142.5 282h1v1h-1zM103.5 283h1v1h-1zM107.5 283h1v1h-1zM141.5 283h1v1h-1zM171.5 283h11v1h-11zM194.5 283h9v1h-9zM80.5 284h1v1h-1zM101.5 284h1v1h-1zM110.5 284h1v1h-1zM166.5 284h2v1h-2zM215.5 284h6v1h-6zM77.5 285h1v1h-1zM83.5 285h1v1h-1zM111.5 285h1v1h-1zM163.5 285h1v1h-1zM76.5 286h1v1h-1zM85.5 286h1v1h-1zM160.5 286h1v1h-1zM157.5 287h1v1h-1zM75.5 288h1v1h-1zM115.5 288h1v1h-1zM116.5 289h1v1h-1zM134.5 289h1v1h-1zM152.5 289h1v1h-1zM90.5 290h1v1h-1zM95.5 290h1v1h-1zM117.5 290h1v1h-1zM133.5 290h1v1h-1zM75.5 291h1v1h-1zM91.5 291h1v1h-1zM94.5 291h1v1h-1zM118.5 291h1v1h-1zM149.5 291h1v1h-1zM93.5 292h1v1h-1zM119.5 292h1v1h-1zM130.5 292h1v1h-1zM148.5 292h1v1h-1zM76.5 293h1v1h-1zM77.5 294h1v1h-1zM105.5 294h1v1h-1zM127.5 294h1v1h-1zM107.5 295h1v1h-1zM126.5 295h1v1h-1zM144.5 295h1v1h-1zM81.5 296h1v1h-1zM108.5 296h1v1h-1zM123.5 296h2v1h-2zM143.5 296h1v1h-1zM82.5 297h1v1h-1zM109.5 297h1v1h-1zM83.5 298h1v1h-1zM102.5 298h1v1h-1zM110.5 298h1v1h-1zM101.5 299h1v1h-1zM111.5 299h1v1h-1zM139.5 299h1v1h-1zM86.5 300h1v1h-1zM100.5 300h1v1h-1zM112.5 300h1v1h-1zM113.5 301h1v1h-1zM136.5 301h1v1h-1zM169.5 301h7v1h-7zM193.5 301h13v1h-13zM90.5 302h1v1h-1zM96.5 302h1v1h-1zM114.5 302h1v1h-1zM163.5 302h3v1h-3zM214.5 302h72v1h-72zM115.5 303h1v1h-1zM133.5 303h1v1h-1zM159.5 303h2v1h-2zM116.5 304h1v1h-1zM131.5 304h1v1h-1zM156.5 304h2v1h-2zM118.5 305h1v1h-1zM154.5 305h1v1h-1zM120.5 306h1v1h-1zM127.5 306h1v1h-1zM151.5 306h2v1h-2zM149.5 307h1v1h-1zM147.5 308h2v1h-2zM146.5 309h1v1h-1zM235.5 309h58.5v1h-58.5zM144.5 310h1v1h-1zM169.5 310h4v1h-4zM142.5 311h1v1h-1zM163.5 311h3v1h-3zM141.5 312h1v1h-1zM160.5 312h2v1h-2zM139.5 313h1v1h-1zM157.5 313h2v1h-2zM138.5 314h1v1h-1zM155.5 314h1v1h-1zM136.5 315h1v1h-1zM153.5 315h1v1h-1zM135.5 316h1v1h-1zM151.5 316h1v1h-1zM134.5 317h1v1h-1zM149.5 317h1v1h-1zM148.5 318h1v1h-1zM131.5 319h1v1h-1zM146.5 319h1v1h-1zM130.5 320h1v1h-1zM145.5 320h1v1h-1zM129.5 321h1v1h-1zM143.5 321h1v1h-1zM128.5 322h1v1h-1zM142.5 322h1v1h-1zM127.5 323h1v1h-1zM140.5 323h1v1h-1zM126.5 324h1v1h-1zM139.5 324h1v1h-1zM138.5 325h1v1h-1zM137.5 326h1v1h-1zM124.5 327h1v1h-1zM136.5 327h1v1h-1zM123.5 328h1v1h-1zM135.5 328h1v1h-1zM122.5 329h1v1h-1zM134.5 329h1v1h-1zM133.5 330h1v1h-1zM121.5 331h1v1h-1zM132.5 331h1v1h-1zM120.5 332h1v1h-1zM131.5 332h1v1h-1zM104.5 333h1v1h-1zM109.5 333h3v1h-3zM119.5 333h1v1h-1zM114.5 334h5v1h-5zM130.5 334h1v1h-1zM102.5 335h1v1h-1zM129.5 335h1v1h-1zM127.5 338h1v1h-1zM102.5 339h1v1h-1zM126.5 339h1v1h-1zM125.5 340h1v1h-1zM104.5 341h1v1h-1zM124.5 341h1v1h-1zM107.5 342h2v1h-2zM122.5 342h1v1h-1zM111.5 343h3v1h-3zM119.5 343h2v1h-2zM80.5 355h1v1h-1zM104.5 355h2v1h-2zM77.5 356h1v1h-1zM83.5 356h1v1h-1zM100.5 356h1v1h-1zM109.5 356h2v1h-2zM85.5 357h1v1h-1zM98.5 357h1v1h-1zM86.5 358h1v1h-1zM96.5 358h1v1h-1zM74.5 359h1v1h-1zM87.5 359h1v1h-1zM95.5 359h1v1h-1zM113.5 359h1v1h-1zM74.5 360h1v1h-1zM88.5 360h1v1h-1zM89.5 361h1v1h-1zM90.5 362h1v1h-1zM92.5 362h1v1h-1zM74.5 363h1v1h-1zM91.5 363h1v1h-1zM74.5 364h1v1h-1zM113.5 364h1v1h-1zM113.5 365h2v1h-2zM114.5 366h1v1h-1zM77.5 367h1v1h-1zM104.5 367h6v1h-6zM114.5 367h2v1h-2zM78.5 368h1v1h-1zM103.5 368h1v1h-1zM110.5 368h1v1h-1zM115.5 368h2v1h-2zM102.5 369h1v1h-1zM110.5 369h2v1h-2zM115.5 369h2v1h-2zM111.5 370h2v1h-2zM116.5 370h2v1h-2zM80.5 371h1v1h-1zM101.5 371h1v1h-1zM112.5 371h2v1h-2zM116.5 371h3v1h-3zM81.5 372h1v1h-1zM100.5 372h1v1h-1zM113.5 372h6v1h-6zM82.5 373h1v1h-1zM114.5 373h6v1h-6zM115.5 374h6v1h-6zM126.5 374h1v1h-1zM98.5 375h1v1h-1zM116.5 375h6v1h-6zM124.5 375h2v1h-2zM85.5 376h1v1h-1zM97.5 376h1v1h-1zM117.5 376h9v1h-9zM86.5 377h1v1h-1zM95.5 377h1v1h-1zM119.5 377h6v1h-6zM89.5 378h2v1h-2zM92.5 378h2v1h-2z"/>
<path fill="#2f00f9" d="M219.5 266h25v1h-25zM177.5 267h2v1h-2zM172.5 268h1v1h-1zM168.5 269h1v1h-1zM165.5 270h1v1h-1zM162.5 271h1v1h-1zM160.5 272h1v1h-1zM150.5 277h1v1h-1zM148.5 278h1v1h-1zM145.5 280h1v1h-1zM144.5 281h1v1h-1zM104.5 283h3v1h-3zM170.5 283h1v1h-1zM203.5 283h8v1h-8zM109.5 284h1v1h-1zM140.5 284h1v1h-1zM165.5 284h1v1h-1zM221.5 284h72v1h-72zM78.5 285h1v1h-1zM82.5 285h1v1h-1zM100.5 285h1v1h-1zM139.5 285h1v1h-1zM162.5 285h1v1h-1zM112.5 286h1v1h-1zM138.5 286h1v1h-1zM159.5 286h1v1h-1zM86.5 287h1v1h-1zM98.5 287h1v1h-1zM113.5 287h1v1h-1zM137.5 287h1v1h-1zM156.5 287h1v1h-1zM87.5 288h1v1h-1zM97.5 288h1v1h-1zM154.5 288h1v1h-1zM75.5 289h1v1h-1zM96.5 289h1v1h-1zM75.5 290h1v1h-1zM150.5 290h1v1h-1zM132.5 291h1v1h-1zM92.5 292h1v1h-1zM131.5 292h1v1h-1zM129.5 293h1v1h-1zM146.5 293h1v1h-1zM78.5 294h1v1h-1zM106.5 294h1v1h-1zM120.5 294h1v1h-1zM128.5 294h1v1h-1zM145.5 294h1v1h-1zM80.5 295h1v1h-1zM104.5 295h1v1h-1zM121.5 295h1v1h-1zM103.5 296h1v1h-1zM125.5 296h1v1h-1zM141.5 297h1v1h-1zM140.5 298h1v1h-1zM85.5 299h1v1h-1zM137.5 300h1v1h-1zM88.5 301h1v1h-1zM98.5 301h1v1h-1zM176.5 301h17v1h-17zM91.5 302h2v1h-2zM95.5 302h1v1h-1zM134.5 302h1v1h-1zM166.5 302h3v1h-3zM204.5 302h10v1h-10zM132.5 303h1v1h-1zM161.5 303h2v1h-2zM221.5 303h72.5v1h-72.5zM117.5 304h1v1h-1zM158.5 304h1v1h-1zM129.5 305h1v1h-1zM155.5 305h1v1h-1zM121.5 306h1v1h-1zM126.5 306h1v1h-1zM153.5 306h1v1h-1zM150.5 307h2v1h-2zM149.5 308h1v1h-1zM264.5 308h29.5v1h-29.5zM147.5 309h1v1h-1zM173.5 309h62v1h-62zM145.5 310h1v1h-1zM166.5 310h3v1h-3zM143.5 311h1v1h-1zM162.5 311h1v1h-1zM142.5 312h1v1h-1zM159.5 312h1v1h-1zM140.5 313h1v1h-1zM156.5 313h1v1h-1zM139.5 314h1v1h-1zM154.5 314h1v1h-1zM137.5 315h1v1h-1zM152.5 315h1v1h-1zM136.5 316h1v1h-1zM150.5 316h1v1h-1zM148.5 317h1v1h-1zM133.5 318h1v1h-1zM147.5 318h1v1h-1zM132.5 319h1v1h-1zM145.5 319h1v1h-1zM131.5 320h1v1h-1zM144.5 320h1v1h-1zM130.5 321h1v1h-1zM142.5 321h1v1h-1zM129.5 322h1v1h-1zM141.5 322h1v1h-1zM128.5 323h1v1h-1zM127.5 324h1v1h-1zM138.5 324h1v1h-1zM126.5 325h1v1h-1zM137.5 325h1v1h-1zM125.5 326h1v1h-1zM136.5 326h1v1h-1zM135.5 327h1v1h-1zM134.5 328h1v1h-1zM123.5 329h1v1h-1zM133.5 329h1v1h-1zM122.5 330h1v1h-1zM132.5 330h1v1h-1zM105.5 333h4v1h-4zM120.5 333h1v1h-1zM130.5 333h1v1h-1zM103.5 334h1v1h-1zM112.5 334h2v1h-2zM119.5 334h1v1h-1zM129.5 334h1v1h-1zM102.5 336h1v1h-1zM128.5 336h1v1h-1zM102.5 337h1v1h-1zM127.5 337h1v1h-1zM102.5 338h1v1h-1zM126.5 338h1v1h-1zM125.5 339h1v1h-1zM103.5 340h1v1h-1zM124.5 340h1v1h-1zM105.5 341h2v1h-2zM123.5 341h1v1h-1zM109.5 342h2v1h-2zM121.5 342h1v1h-1zM114.5 343h5v1h-5zM78.5 356h1v1h-1zM82.5 356h1v1h-1zM101.5 356h2v1h-2zM107.5 356h2v1h-2zM76.5 357h1v1h-1zM84.5 357h1v1h-1zM99.5 357h1v1h-1zM111.5 357h1v1h-1zM75.5 358h1v1h-1zM97.5 358h1v1h-1zM112.5 358h1v1h-1zM94.5 360h1v1h-1zM113.5 360h1v1h-1zM74.5 361h1v1h-1zM93.5 361h1v1h-1zM113.5 361h1v1h-1zM74.5 362h1v1h-1zM89.5 362h1v1h-1zM113.5 362h1v1h-1zM90.5 363h1v1h-1zM113.5 363h1v1h-1zM75.5 365h1v1h-1zM112.5 365h1v1h-1zM76.5 366h1v1h-1zM111.5 366h3v1h-3zM110.5 367h4v1h-4zM111.5 368h4v1h-4zM79.5 369h1v1h-1zM112.5 369h3v1h-3zM80.5 370h1v1h-1zM101.5 370h1v1h-1zM113.5 370h3v1h-3zM114.5 371h2v1h-2zM99.5 373h1v1h-1zM83.5 374h1v1h-1zM98.5 374h1v1h-1zM84.5 375h1v1h-1zM97.5 375h1v1h-1zM96.5 376h1v1h-1zM87.5 377h1v1h-1zM94.5 377h1v1h-1zM91.5 378h1v1h-1z"/>
<path fill="#0800fe" d="M244.5 266h49.5v1h-49.5zM179.5 267h4v1h-4zM173.5 268h1v1h-1zM169.5 269h1v1h-1zM166.5 270h1v1h-1zM163.5 271h1v1h-1zM158.5 273h1v1h-1zM156.5 274h1v1h-1zM154.5 275h1v1h-1zM152.5 276h1v1h-1zM147.5 279h1v1h-1zM143.5 282h1v1h-1zM184.5 282h9v1h-9zM168.5 283h2v1h-2zM211.5 283h4v1h-4zM102.5 284h1v1h-1zM108.5 284h1v1h-1zM164.5 284h1v1h-1zM293.5 284h0.5v1h-0.5zM110.5 285h1v1h-1zM161.5 285h1v1h-1zM84.5 286h1v1h-1zM99.5 286h1v1h-1zM158.5 286h1v1h-1zM76.5 287h1v1h-1zM114.5 288h1v1h-1zM136.5 288h1v1h-1zM153.5 288h1v1h-1zM88.5 289h1v1h-1zM115.5 289h1v1h-1zM135.5 289h1v1h-1zM151.5 289h1v1h-1zM89.5 290h1v1h-1zM116.5 290h1v1h-1zM134.5 290h1v1h-1zM90.5 291h1v1h-1zM95.5 291h1v1h-1zM117.5 291h1v1h-1zM148.5 291h1v1h-1zM76.5 292h1v1h-1zM94.5 292h1v1h-1zM118.5 292h1v1h-1zM147.5 292h1v1h-1zM119.5 293h1v1h-1zM130.5 293h1v1h-1zM127.5 295h1v1h-1zM109.5 296h1v1h-1zM122.5 296h1v1h-1zM142.5 296h1v1h-1zM83.5 297h1v1h-1zM102.5 297h1v1h-1zM110.5 297h1v1h-1zM84.5 298h1v1h-1zM101.5 298h1v1h-1zM111.5 298h1v1h-1zM100.5 299h1v1h-1zM112.5 299h1v1h-1zM138.5 299h1v1h-1zM87.5 300h1v1h-1zM99.5 300h1v1h-1zM113.5 300h1v1h-1zM89.5 301h1v1h-1zM97.5 301h1v1h-1zM114.5 301h1v1h-1zM135.5 301h1v1h-1zM93.5 302h2v1h-2zM115.5 302h1v1h-1zM133.5 302h1v1h-1zM169.5 302h6v1h-6zM192.5 302h12v1h-12zM116.5 303h1v1h-1zM163.5 303h3v1h-3zM212.5 303h9v1h-9zM130.5 304h1v1h-1zM159.5 304h2v1h-2zM225.5 304h68.5v1h-68.5zM119.5 305h1v1h-1zM128.5 305h1v1h-1zM156.5 305h2v1h-2zM122.5 306h4v1h-4zM154.5 306h1v1h-1zM152.5 307h1v1h-1zM277.5 307h14v1h-14zM150.5 308h1v1h-1zM219.5 308h45v1h-45zM148.5 309h1v1h-1zM169.5 309h4v1h-4zM146.5 310h1v1h-1zM163.5 310h3v1h-3zM144.5 311h1v1h-1zM160.5 311h2v1h-2zM143.5 312h1v1h-1zM157.5 312h2v1h-2zM141.5 313h1v1h-1zM155.5 313h1v1h-1zM153.5 314h1v1h-1zM138.5 315h1v1h-1zM151.5 315h1v1h-1zM137.5 316h1v1h-1zM149.5 316h1v1h-1zM135.5 317h1v1h-1zM147.5 317h1v1h-1zM134.5 318h1v1h-1zM146.5 318h1v1h-1zM133.5 319h1v1h-1zM144.5 319h1v1h-1zM132.5 320h1v1h-1zM143.5 320h1v1h-1zM131.5 321h1v1h-1zM141.5 321h1v1h-1zM140.5 322h1v1h-1zM139.5 323h1v1h-1zM127.5 325h1v1h-1zM126.5 326h1v1h-1zM135.5 326h1v1h-1zM125.5 327h1v1h-1zM134.5 327h1v1h-1zM124.5 328h1v1h-1zM123.5 330h1v1h-1zM122.5 331h1v1h-1zM131.5 331h1v1h-1zM121.5 332h1v1h-1zM130.5 332h1v1h-1zM129.5 333h1v1h-1zM104.5 334h1v1h-1zM110.5 334h2v1h-2zM103.5 335h1v1h-1zM114.5 335h5v1h-5zM128.5 335h1v1h-1zM127.5 336h1v1h-1zM103.5 339h1v1h-1zM104.5 340h1v1h-1zM107.5 341h2v1h-2zM122.5 341h1v1h-1zM111.5 342h2v1h-2zM120.5 342h1v1h-1zM79.5 356h3v1h-3zM103.5 356h4v1h-4zM77.5 357h1v1h-1zM100.5 357h1v1h-1zM109.5 357h2v1h-2zM85.5 358h1v1h-1zM111.5 358h1v1h-1zM75.5 359h1v1h-1zM86.5 359h1v1h-1zM96.5 359h1v1h-1zM112.5 359h1v1h-1zM87.5 360h1v1h-1zM95.5 360h1v1h-1zM88.5 361h1v1h-1zM94.5 361h1v1h-1zM93.5 362h1v1h-1zM92.5 363h1v1h-1zM75.5 364h1v1h-1zM91.5 364h1v1h-1zM112.5 364h1v1h-1zM111.5 365h1v1h-1zM77.5 366h1v1h-1zM104.5 366h4v1h-4zM109.5 366h2v1h-2zM78.5 367h1v1h-1zM103.5 367h1v1h-1zM79.5 368h1v1h-1zM102.5 368h1v1h-1zM101.5 369h1v1h-1zM81.5 371h1v1h-1zM100.5 371h1v1h-1zM82.5 372h1v1h-1zM99.5 372h1v1h-1zM83.5 373h1v1h-1zM85.5 375h1v1h-1zM86.5 376h1v1h-1zM88.5 377h1v1h-1zM93.5 377h1v1h-1z"/>
<path fill="#0023ff" d="M183.5 267h8v1h-8zM199.5 267h17v1h-17zM174.5 268h2v1h-2zM170.5 269h1v1h-1zM161.5 272h1v1h-1zM149.5 278h1v1h-1zM146.5 280h1v1h-1zM174.5 282h10v1h-10zM193.5 282h8v1h-8zM142.5 283h1v1h-1zM167.5 283h1v1h-1zM215.5 283h3v1h-3zM103.5 284h1v1h-1zM107.5 284h1v1h-1zM141.5 284h1v1h-1zM79.5 285h3v1h-3zM101.5 285h1v1h-1zM140.5 285h1v1h-1zM160.5 285h1v1h-1zM77.5 286h1v1h-1zM83.5 286h1v1h-1zM111.5 286h1v1h-1zM85.5 287h1v1h-1zM155.5 287h1v1h-1zM97.5 289h1v1h-1zM96.5 290h1v1h-1zM149.5 290h1v1h-1zM133.5 291h1v1h-1zM91.5 292h1v1h-1zM77.5 293h1v1h-1zM93.5 293h1v1h-1zM105.5 293h1v1h-1zM79.5 294h1v1h-1zM104.5 294h1v1h-1zM107.5 294h1v1h-1zM129.5 294h1v1h-1zM144.5 294h1v1h-1zM81.5 295h1v1h-1zM103.5 295h1v1h-1zM108.5 295h1v1h-1zM143.5 295h1v1h-1zM82.5 296h1v1h-1zM126.5 296h1v1h-1zM123.5 297h2v1h-2zM139.5 298h1v1h-1zM86.5 299h1v1h-1zM136.5 300h1v1h-1zM90.5 301h1v1h-1zM175.5 302h17v1h-17zM131.5 303h1v1h-1zM166.5 303h3v1h-3zM203.5 303h9v1h-9zM118.5 304h1v1h-1zM161.5 304h2v1h-2zM216.5 304h9v1h-9zM120.5 305h1v1h-1zM127.5 305h1v1h-1zM158.5 305h2v1h-2zM224.5 305h69.5v1h-69.5zM155.5 306h2v1h-2zM235.5 306h58.5v1h-58.5zM153.5 307h1v1h-1zM221.5 307h56v1h-56zM291.5 307h2.5v1h-2.5zM151.5 308h1v1h-1zM173.5 308h46v1h-46zM149.5 309h1v1h-1zM166.5 309h3v1h-3zM147.5 310h1v1h-1zM162.5 310h1v1h-1zM145.5 311h1v1h-1zM158.5 311h2v1h-2zM156.5 312h1v1h-1zM142.5 313h1v1h-1zM154.5 313h1v1h-1zM140.5 314h1v1h-1zM152.5 314h1v1h-1zM139.5 315h1v1h-1zM150.5 315h1v1h-1zM148.5 316h1v1h-1zM136.5 317h1v1h-1zM135.5 318h1v1h-1zM145.5 318h1v1h-1zM134.5 319h1v1h-1zM143.5 319h1v1h-1zM142.5 320h1v1h-1zM130.5 322h1v1h-1zM139.5 322h1v1h-1zM129.5 323h1v1h-1zM138.5 323h1v1h-1zM128.5 324h1v1h-1zM137.5 324h1v1h-1zM136.5 325h1v1h-1zM125.5 328h1v1h-1zM133.5 328h1v1h-1zM124.5 329h1v1h-1zM132.5 329h1v1h-1zM131.5 330h1v1h-1zM130.5 331h1v1h-1zM122.5 332h1v1h-1zM121.5 333h1v1h-1zM105.5 334h5v1h-5zM120.5 334h1v1h-1zM128.5 334h1v1h-1zM112.5 335h2v1h-2zM119.5 335h1v1h-1zM127.5 335h1v1h-1zM103.5 336h1v1h-1zM103.5 337h1v1h-1zM126.5 337h1v1h-1zM103.5 338h1v1h-1zM125.5 338h1v1h-1zM124.5 339h1v1h-1zM105.5 340h2v1h-2zM123.5 340h1v1h-1zM109.5 341h2v1h-2zM121.5 341h1v1h-1zM113.5 342h7v1h-7zM83.5 357h1v1h-1zM101.5 357h1v1h-1zM108.5 357h1v1h-1zM76.5 358h1v1h-1zM98.5 358h1v1h-1zM97.5 359h1v1h-1zM75.5 360h1v1h-1zM112.5 360h1v1h-1zM75.5 361h1v1h-1zM75.5 362h1v1h-1zM75.5 363h1v1h-1zM89.5 363h1v1h-1zM112.5 363h1v1h-1zM90.5 364h1v1h-1zM76.5 365h1v1h-1zM91.5 365h1v1h-1zM108.5 366h1v1h-1zM102.5 367h1v1h-1zM80.5 369h1v1h-1zM81.5 370h1v1h-1zM100.5 370h1v1h-1zM98.5 373h1v1h-1zM84.5 374h1v1h-1zM97.5 374h1v1h-1zM96.5 375h1v1h-1zM87.5 376h1v1h-1zM95.5 376h1v1h-1zM89.5 377h4v1h-4z"/>
<path fill="#0050ff" d="M191.5 267h8v1h-8zM216.5 267h5v1h-5zM176.5 268h1v1h-1zM171.5 269h1v1h-1zM167.5 270h1v1h-1zM164.5 271h1v1h-1zM159.5 273h1v1h-1zM157.5 274h1v1h-1zM155.5 275h1v1h-1zM153.5 276h1v1h-1zM151.5 277h1v1h-1zM148.5 279h1v1h-1zM145.5 281h1v1h-1zM172.5 282h2v1h-2zM201.5 282h7v1h-7zM166.5 283h1v1h-1zM218.5 283h4v1h-4zM266.5 283h10v1h-10zM104.5 284h3v1h-3zM163.5 284h1v1h-1zM109.5 285h1v1h-1zM100.5 286h1v1h-1zM139.5 286h1v1h-1zM157.5 286h1v1h-1zM99.5 287h1v1h-1zM112.5 287h1v1h-1zM138.5 287h1v1h-1zM154.5 287h1v1h-1zM76.5 288h1v1h-1zM86.5 288h1v1h-1zM98.5 288h1v1h-1zM113.5 288h1v1h-1zM137.5 288h1v1h-1zM152.5 288h1v1h-1zM87.5 289h1v1h-1zM114.5 289h1v1h-1zM136.5 289h1v1h-1zM150.5 289h1v1h-1zM88.5 290h1v1h-1zM115.5 290h1v1h-1zM76.5 291h1v1h-1zM89.5 291h1v1h-1zM116.5 291h1v1h-1zM95.5 292h1v1h-1zM117.5 292h1v1h-1zM132.5 292h1v1h-1zM146.5 292h1v1h-1zM92.5 293h1v1h-1zM94.5 293h1v1h-1zM106.5 293h1v1h-1zM118.5 293h1v1h-1zM131.5 293h1v1h-1zM145.5 293h1v1h-1zM80.5 294h1v1h-1zM119.5 294h1v1h-1zM120.5 295h1v1h-1zM128.5 295h1v1h-1zM102.5 296h1v1h-1zM110.5 296h1v1h-1zM121.5 296h1v1h-1zM141.5 296h1v1h-1zM101.5 297h1v1h-1zM111.5 297h1v1h-1zM122.5 297h1v1h-1zM125.5 297h1v1h-1zM140.5 297h1v1h-1zM85.5 298h1v1h-1zM100.5 298h1v1h-1zM112.5 298h1v1h-1zM99.5 299h1v1h-1zM137.5 299h1v1h-1zM88.5 300h1v1h-1zM98.5 300h1v1h-1zM91.5 301h1v1h-1zM95.5 301h2v1h-2zM134.5 301h1v1h-1zM132.5 302h1v1h-1zM117.5 303h1v1h-1zM169.5 303h7v1h-7zM190.5 303h13v1h-13zM129.5 304h1v1h-1zM163.5 304h3v1h-3zM208.5 304h8v1h-8zM121.5 305h1v1h-1zM126.5 305h1v1h-1zM160.5 305h1v1h-1zM216.5 305h8v1h-8zM157.5 306h1v1h-1zM217.5 306h18v1h-18zM154.5 307h1v1h-1zM184.5 307h15v1h-15zM209.5 307h12v1h-12zM152.5 308h1v1h-1zM168.5 308h5v1h-5zM150.5 309h1v1h-1zM163.5 309h3v1h-3zM148.5 310h1v1h-1zM160.5 310h2v1h-2zM146.5 311h1v1h-1zM157.5 311h1v1h-1zM144.5 312h1v1h-1zM155.5 312h1v1h-1zM143.5 313h1v1h-1zM153.5 313h1v1h-1zM141.5 314h1v1h-1zM151.5 314h1v1h-1zM140.5 315h1v1h-1zM149.5 315h1v1h-1zM138.5 316h1v1h-1zM147.5 316h1v1h-1zM137.5 317h1v1h-1zM146.5 317h1v1h-1zM136.5 318h1v1h-1zM144.5 318h1v1h-1zM133.5 320h1v1h-1zM141.5 320h1v1h-1zM132.5 321h1v1h-1zM140.5 321h1v1h-1zM131.5 322h1v1h-1zM130.5 323h1v1h-1zM137.5 323h1v1h-1zM129.5 324h1v1h-1zM136.5 324h1v1h-1zM128.5 325h1v1h-1zM135.5 325h1v1h-1zM127.5 326h1v1h-1zM134.5 326h1v1h-1zM126.5 327h1v1h-1zM133.5 327h1v1h-1zM132.5 328h1v1h-1zM131.5 329h1v1h-1zM124.5 330h1v1h-1zM123.5 331h1v1h-1zM129.5 332h1v1h-1zM128.5 333h1v1h-1zM121.5 334h1v1h-1zM104.5 335h1v1h-1zM110.5 335h2v1h-2zM120.5 335h1v1h-1zM114.5 336h5v1h-5zM126.5 336h1v1h-1zM125.5 337h1v1h-1zM124.5 338h1v1h-1zM104.5 339h1v1h-1zM123.5 339h1v1h-1zM107.5 340h2v1h-2zM122.5 340h1v1h-1zM111.5 341h2v1h-2zM120.5 341h1v1h-1zM78.5 357h1v1h-1zM82.5 357h1v1h-1zM102.5 357h6v1h-6zM84.5 358h1v1h-1zM99.5 358h1v1h-1zM110.5 358h1v1h-1zM76.5 359h1v1h-1zM85.5 359h1v1h-1zM111.5 359h1v1h-1zM86.5 360h1v1h-1zM96.5 360h1v1h-1zM87.5 361h1v1h-1zM95.5 361h1v1h-1zM112.5 361h1v1h-1zM88.5 362h1v1h-1zM94.5 362h1v1h-1zM112.5 362h1v1h-1zM93.5 363h1v1h-1zM76.5 364h1v1h-1zM92.5 364h1v1h-1zM111.5 364h1v1h-1zM105.5 365h2v1h-2zM110.5 365h1v1h-1zM78.5 366h1v1h-1zM103.5 366h1v1h-1zM79.5 367h1v1h-1zM80.5 368h1v1h-1zM101.5 368h1v1h-1zM82.5 371h1v1h-1zM99.5 371h1v1h-1zM83.5 372h1v1h-1zM86.5 375h1v1h-1zM94.5 376h1v1h-1z"/>
<path fill="#007cff" d="M221.5 267h19v1h-19zM177.5 268h2v1h-2zM172.5 269h1v1h-1zM168.5 270h1v1h-1zM165.5 271h1v1h-1zM162.5 272h1v1h-1zM160.5 273h1v1h-1zM150.5 278h1v1h-1zM144.5 282h1v1h-1zM170.5 282h2v1h-2zM208.5 282h4v1h-4zM143.5 283h1v1h-1zM222.5 283h44v1h-44zM276.5 283h15v1h-15zM162.5 284h1v1h-1zM102.5 285h1v1h-1zM159.5 285h1v1h-1zM78.5 286h1v1h-1zM82.5 286h1v1h-1zM110.5 286h1v1h-1zM156.5 286h1v1h-1zM77.5 287h1v1h-1zM84.5 287h1v1h-1zM76.5 289h1v1h-1zM76.5 290h1v1h-1zM97.5 290h1v1h-1zM135.5 290h1v1h-1zM96.5 291h1v1h-1zM134.5 291h1v1h-1zM147.5 291h1v1h-1zM77.5 292h1v1h-1zM90.5 292h1v1h-1zM105.5 292h1v1h-1zM78.5 293h1v1h-1zM104.5 293h1v1h-1zM103.5 294h1v1h-1zM108.5 294h1v1h-1zM130.5 294h1v1h-1zM82.5 295h1v1h-1zM109.5 295h1v1h-1zM142.5 295h1v1h-1zM83.5 296h1v1h-1zM127.5 296h1v1h-1zM84.5 297h1v1h-1zM138.5 298h1v1h-1zM87.5 299h1v1h-1zM113.5 299h1v1h-1zM89.5 300h1v1h-1zM97.5 300h1v1h-1zM114.5 300h1v1h-1zM135.5 300h1v1h-1zM92.5 301h3v1h-3zM115.5 301h1v1h-1zM133.5 301h1v1h-1zM116.5 302h1v1h-1zM130.5 303h1v1h-1zM176.5 303h14v1h-14zM119.5 304h1v1h-1zM128.5 304h1v1h-1zM166.5 304h5v1h-5zM195.5 304h13v1h-13zM122.5 305h2v1h-2zM125.5 305h1v1h-1zM161.5 305h3v1h-3zM207.5 305h9v1h-9zM158.5 306h2v1h-2zM207.5 306h10v1h-10zM155.5 307h2v1h-2zM171.5 307h13v1h-13zM199.5 307h10v1h-10zM153.5 308h2v1h-2zM165.5 308h3v1h-3zM151.5 309h1v1h-1zM161.5 309h2v1h-2zM149.5 310h1v1h-1zM158.5 310h2v1h-2zM147.5 311h1v1h-1zM155.5 311h2v1h-2zM145.5 312h2v1h-2zM153.5 312h2v1h-2zM144.5 313h1v1h-1zM151.5 313h2v1h-2zM142.5 314h1v1h-1zM149.5 314h2v1h-2zM141.5 315h1v1h-1zM148.5 315h1v1h-1zM139.5 316h1v1h-1zM146.5 316h1v1h-1zM138.5 317h1v1h-1zM144.5 317h2v1h-2zM137.5 318h1v1h-1zM143.5 318h1v1h-1zM135.5 319h1v1h-1zM141.5 319h2v1h-2zM134.5 320h1v1h-1zM140.5 320h1v1h-1zM133.5 321h1v1h-1zM139.5 321h1v1h-1zM132.5 322h1v1h-1zM138.5 322h1v1h-1zM131.5 323h1v1h-1zM136.5 323h1v1h-1zM130.5 324h1v1h-1zM135.5 324h1v1h-1zM129.5 325h1v1h-1zM134.5 325h1v1h-1zM128.5 326h1v1h-1zM133.5 326h1v1h-1zM127.5 327h1v1h-1zM132.5 327h1v1h-1zM126.5 328h1v1h-1zM131.5 328h1v1h-1zM125.5 329h1v1h-1zM130.5 330h1v1h-1zM124.5 331h1v1h-1zM129.5 331h1v1h-1zM123.5 332h1v1h-1zM128.5 332h1v1h-1zM122.5 333h1v1h-1zM127.5 334h1v1h-1zM105.5 335h5v1h-5zM126.5 335h1v1h-1zM104.5 336h1v1h-1zM112.5 336h2v1h-2zM119.5 336h1v1h-1zM125.5 336h1v1h-1zM104.5 337h1v1h-1zM104.5 338h1v1h-1zM105.5 339h2v1h-2zM109.5 340h2v1h-2zM121.5 340h1v1h-1zM113.5 341h7v1h-7zM79.5 357h3v1h-3zM77.5 358h1v1h-1zM83.5 358h1v1h-1zM100.5 358h1v1h-1zM108.5 358h2v1h-2zM98.5 359h1v1h-1zM111.5 360h1v1h-1zM111.5 363h1v1h-1zM89.5 364h1v1h-1zM77.5 365h1v1h-1zM90.5 365h1v1h-1zM104.5 365h1v1h-1zM107.5 365h3v1h-3zM102.5 366h1v1h-1zM81.5 369h1v1h-1zM100.5 369h1v1h-1zM98.5 372h1v1h-1zM84.5 373h1v1h-1zM97.5 373h1v1h-1zM85.5 374h1v1h-1zM95.5 375h1v1h-1zM88.5 376h1v1h-1zM93.5 376h1v1h-1z"/>
<path fill="#00a8ff" d="M240.5 267h19v1h-19zM287.5 267h6.5v1h-6.5zM179.5 268h4v1h-4zM173.5 269h1v1h-1zM169.5 270h1v1h-1zM158.5 274h1v1h-1zM156.5 275h1v1h-1zM154.5 276h1v1h-1zM152.5 277h1v1h-1zM147.5 280h1v1h-1zM184.5 281h10v1h-10zM169.5 282h1v1h-1zM212.5 282h3v1h-3zM165.5 283h1v1h-1zM291.5 283h2.5v1h-2.5zM142.5 284h1v1h-1zM103.5 285h1v1h-1zM108.5 285h1v1h-1zM141.5 285h1v1h-1zM79.5 286h1v1h-1zM81.5 286h1v1h-1zM101.5 286h1v1h-1zM100.5 287h1v1h-1zM111.5 287h1v1h-1zM153.5 287h1v1h-1zM85.5 288h1v1h-1zM99.5 288h1v1h-1zM112.5 288h1v1h-1zM151.5 288h1v1h-1zM86.5 289h1v1h-1zM98.5 289h1v1h-1zM113.5 289h1v1h-1zM87.5 290h1v1h-1zM148.5 290h1v1h-1zM88.5 291h1v1h-1zM106.5 292h1v1h-1zM133.5 292h1v1h-1zM79.5 293h1v1h-1zM91.5 293h1v1h-1zM95.5 293h1v1h-1zM107.5 293h1v1h-1zM117.5 293h1v1h-1zM144.5 293h1v1h-1zM81.5 294h1v1h-1zM93.5 294h1v1h-1zM118.5 294h1v1h-1zM143.5 294h1v1h-1zM102.5 295h1v1h-1zM119.5 295h1v1h-1zM129.5 295h1v1h-1zM101.5 296h1v1h-1zM120.5 296h1v1h-1zM121.5 297h1v1h-1zM126.5 297h1v1h-1zM139.5 297h1v1h-1zM86.5 298h1v1h-1zM123.5 298h2v1h-2zM98.5 299h1v1h-1zM136.5 299h1v1h-1zM90.5 300h1v1h-1zM131.5 302h1v1h-1zM118.5 303h1v1h-1zM120.5 304h1v1h-1zM127.5 304h1v1h-1zM171.5 304h24v1h-24zM124.5 305h1v1h-1zM164.5 305h8v1h-8zM182.5 305h25v1h-25zM160.5 306h5v1h-5zM171.5 306h36v1h-36zM157.5 307h4v1h-4zM164.5 307h7v1h-7zM155.5 308h3v1h-3zM160.5 308h5v1h-5zM152.5 309h3v1h-3zM157.5 309h4v1h-4zM150.5 310h3v1h-3zM155.5 310h3v1h-3zM148.5 311h3v1h-3zM153.5 311h2v1h-2zM147.5 312h2v1h-2zM151.5 312h2v1h-2zM145.5 313h2v1h-2zM149.5 313h2v1h-2zM143.5 314h2v1h-2zM147.5 314h2v1h-2zM142.5 315h2v1h-2zM146.5 315h2v1h-2zM140.5 316h2v1h-2zM144.5 316h2v1h-2zM139.5 317h2v1h-2zM142.5 317h2v1h-2zM138.5 318h1v1h-1zM141.5 318h2v1h-2zM136.5 319h2v1h-2zM140.5 319h1v1h-1zM135.5 320h2v1h-2zM138.5 320h2v1h-2zM134.5 321h2v1h-2zM137.5 321h2v1h-2zM133.5 322h1v1h-1zM136.5 322h2v1h-2zM132.5 323h1v1h-1zM135.5 323h1v1h-1zM131.5 324h1v1h-1zM134.5 324h1v1h-1zM130.5 325h1v1h-1zM133.5 325h1v1h-1zM129.5 326h1v1h-1zM132.5 326h1v1h-1zM128.5 327h1v1h-1zM131.5 327h1v1h-1zM127.5 328h1v1h-1zM130.5 328h1v1h-1zM126.5 329h1v1h-1zM130.5 329h1v1h-1zM125.5 330h1v1h-1zM129.5 330h1v1h-1zM125.5 331h1v1h-1zM128.5 331h1v1h-1zM124.5 332h1v1h-1zM127.5 332h1v1h-1zM123.5 333h1v1h-1zM127.5 333h1v1h-1zM122.5 334h1v1h-1zM126.5 334h1v1h-1zM121.5 335h1v1h-1zM125.5 335h1v1h-1zM105.5 336h1v1h-1zM109.5 336h3v1h-3zM120.5 336h1v1h-1zM114.5 337h6v1h-6zM124.5 337h1v1h-1zM105.5 338h1v1h-1zM123.5 338h1v1h-1zM107.5 339h2v1h-2zM121.5 339h2v1h-2zM111.5 340h3v1h-3zM119.5 340h2v1h-2zM78.5 358h1v1h-1zM101.5 358h2v1h-2zM106.5 358h2v1h-2zM84.5 359h1v1h-1zM99.5 359h1v1h-1zM110.5 359h1v1h-1zM76.5 360h1v1h-1zM85.5 360h1v1h-1zM97.5 360h1v1h-1zM76.5 361h1v1h-1zM86.5 361h1v1h-1zM96.5 361h1v1h-1zM111.5 361h1v1h-1zM76.5 362h1v1h-1zM87.5 362h1v1h-1zM95.5 362h1v1h-1zM111.5 362h1v1h-1zM76.5 363h1v1h-1zM88.5 363h1v1h-1zM94.5 363h1v1h-1zM93.5 364h1v1h-1zM110.5 364h1v1h-1zM78.5 365h1v1h-1zM92.5 365h1v1h-1zM103.5 365h1v1h-1zM79.5 366h1v1h-1zM91.5 366h1v1h-1zM80.5 367h1v1h-1zM101.5 367h1v1h-1zM100.5 368h1v1h-1zM82.5 370h1v1h-1zM99.5 370h1v1h-1zM96.5 374h1v1h-1zM87.5 375h1v1h-1zM89.5 376h1v1h-1z"/>
<path fill="#00d4ff" d="M259.5 267h28v1h-28zM183.5 268h6v1h-6zM200.5 268h15v1h-15zM174.5 269h1v1h-1zM166.5 271h1v1h-1zM163.5 272h1v1h-1zM149.5 279h1v1h-1zM146.5 281h1v1h-1zM177.5 281h7v1h-7zM194.5 281h7v1h-7zM168.5 282h1v1h-1zM215.5 282h2v1h-2zM164.5 283h1v1h-1zM161.5 284h1v1h-1zM104.5 285h1v1h-1zM107.5 285h1v1h-1zM158.5 285h1v1h-1zM80.5 286h1v1h-1zM109.5 286h1v1h-1zM140.5 286h1v1h-1zM155.5 286h1v1h-1zM83.5 287h1v1h-1zM139.5 287h1v1h-1zM77.5 288h1v1h-1zM138.5 288h1v1h-1zM137.5 289h1v1h-1zM149.5 289h1v1h-1zM114.5 290h1v1h-1zM136.5 290h1v1h-1zM77.5 291h1v1h-1zM97.5 291h1v1h-1zM115.5 291h1v1h-1zM89.5 292h1v1h-1zM96.5 292h1v1h-1zM104.5 292h1v1h-1zM116.5 292h1v1h-1zM145.5 292h1v1h-1zM80.5 293h1v1h-1zM90.5 293h1v1h-1zM103.5 293h1v1h-1zM132.5 293h1v1h-1zM92.5 294h1v1h-1zM94.5 294h1v1h-1zM109.5 294h1v1h-1zM131.5 294h1v1h-1zM83.5 295h1v1h-1zM110.5 295h1v1h-1zM84.5 296h1v1h-1zM111.5 296h1v1h-1zM128.5 296h1v1h-1zM140.5 296h1v1h-1zM85.5 297h1v1h-1zM100.5 297h1v1h-1zM112.5 297h1v1h-1zM99.5 298h1v1h-1zM113.5 298h1v1h-1zM122.5 298h1v1h-1zM125.5 298h1v1h-1zM137.5 298h1v1h-1zM88.5 299h1v1h-1zM114.5 299h1v1h-1zM91.5 300h1v1h-1zM95.5 300h2v1h-2zM115.5 300h1v1h-1zM134.5 300h1v1h-1zM116.5 301h1v1h-1zM132.5 301h1v1h-1zM117.5 302h1v1h-1zM129.5 303h1v1h-1zM121.5 304h1v1h-1zM126.5 304h1v1h-1zM172.5 305h10v1h-10zM165.5 306h6v1h-6zM161.5 307h3v1h-3zM158.5 308h2v1h-2zM155.5 309h2v1h-2zM153.5 310h2v1h-2zM151.5 311h2v1h-2zM149.5 312h2v1h-2zM147.5 313h2v1h-2zM145.5 314h2v1h-2zM144.5 315h2v1h-2zM142.5 316h2v1h-2zM141.5 317h1v1h-1zM139.5 318h2v1h-2zM138.5 319h2v1h-2zM137.5 320h1v1h-1zM136.5 321h1v1h-1zM134.5 322h2v1h-2zM133.5 323h2v1h-2zM132.5 324h2v1h-2zM131.5 325h2v1h-2zM130.5 326h2v1h-2zM129.5 327h2v1h-2zM128.5 328h2v1h-2zM127.5 329h3v1h-3zM126.5 330h3v1h-3zM126.5 331h2v1h-2zM125.5 332h2v1h-2zM124.5 333h3v1h-3zM123.5 334h3v1h-3zM122.5 335h3v1h-3zM106.5 336h3v1h-3zM121.5 336h4v1h-4zM105.5 337h3v1h-3zM110.5 337h4v1h-4zM120.5 337h4v1h-4zM106.5 338h3v1h-3zM114.5 338h9v1h-9zM109.5 339h4v1h-4zM117.5 339h4v1h-4zM114.5 340h5v1h-5zM82.5 358h1v1h-1zM103.5 358h3v1h-3zM77.5 359h1v1h-1zM100.5 359h1v1h-1zM109.5 359h1v1h-1zM98.5 360h1v1h-1zM110.5 360h1v1h-1zM110.5 363h1v1h-1zM77.5 364h1v1h-1zM104.5 364h6v1h-6zM90.5 366h1v1h-1zM81.5 368h1v1h-1zM99.5 369h1v1h-1zM83.5 371h1v1h-1zM98.5 371h1v1h-1zM84.5 372h1v1h-1zM85.5 373h1v1h-1zM86.5 374h1v1h-1zM94.5 375h1v1h-1zM90.5 376h3v1h-3z"/>
<path fill="#00ead4" d="M189.5 268h11v1h-11zM215.5 268h4v1h-4zM175.5 269h2v1h-2zM170.5 270h1v1h-1zM164.5 272h1v1h-1zM161.5 273h1v1h-1zM159.5 274h1v1h-1zM157.5 275h1v1h-1zM155.5 276h1v1h-1zM153.5 277h1v1h-1zM151.5 278h1v1h-1zM148.5 280h1v1h-1zM173.5 281h4v1h-4zM201.5 281h6v1h-6zM145.5 282h1v1h-1zM167.5 282h1v1h-1zM217.5 282h3v1h-3zM144.5 283h1v1h-1zM163.5 283h1v1h-1zM160.5 284h1v1h-1zM105.5 285h2v1h-2zM157.5 285h1v1h-1zM102.5 286h1v1h-1zM108.5 286h1v1h-1zM78.5 287h1v1h-1zM82.5 287h1v1h-1zM101.5 287h1v1h-1zM110.5 287h1v1h-1zM84.5 288h1v1h-1zM100.5 288h1v1h-1zM111.5 288h1v1h-1zM77.5 289h1v1h-1zM85.5 289h1v1h-1zM99.5 289h1v1h-1zM77.5 290h1v1h-1zM86.5 290h1v1h-1zM98.5 290h1v1h-1zM87.5 291h1v1h-1zM105.5 291h1v1h-1zM135.5 291h1v1h-1zM146.5 291h1v1h-1zM78.5 292h1v1h-1zM88.5 292h1v1h-1zM107.5 292h1v1h-1zM134.5 292h1v1h-1zM108.5 293h1v1h-1zM82.5 294h1v1h-1zM91.5 294h1v1h-1zM95.5 294h1v1h-1zM102.5 294h1v1h-1zM117.5 294h1v1h-1zM142.5 294h1v1h-1zM101.5 295h1v1h-1zM118.5 295h1v1h-1zM130.5 295h1v1h-1zM141.5 295h1v1h-1zM100.5 296h1v1h-1zM119.5 296h1v1h-1zM86.5 297h1v1h-1zM120.5 297h1v1h-1zM127.5 297h1v1h-1zM138.5 297h1v1h-1zM87.5 298h1v1h-1zM98.5 298h1v1h-1zM89.5 299h1v1h-1zM97.5 299h1v1h-1zM135.5 299h1v1h-1zM92.5 300h3v1h-3zM133.5 300h1v1h-1zM118.5 302h1v1h-1zM130.5 302h1v1h-1zM119.5 303h1v1h-1zM128.5 303h1v1h-1zM122.5 304h4v1h-4zM108.5 337h2v1h-2zM109.5 338h5v1h-5zM113.5 339h4v1h-4zM79.5 358h3v1h-3zM83.5 359h1v1h-1zM101.5 359h1v1h-1zM107.5 359h2v1h-2zM97.5 361h1v1h-1zM110.5 361h1v1h-1zM96.5 362h1v1h-1zM110.5 362h1v1h-1zM87.5 363h1v1h-1zM88.5 364h1v1h-1zM94.5 364h1v1h-1zM103.5 364h1v1h-1zM79.5 365h1v1h-1zM89.5 365h1v1h-1zM93.5 365h1v1h-1zM102.5 365h1v1h-1zM92.5 366h1v1h-1zM101.5 366h1v1h-1zM91.5 367h1v1h-1zM100.5 367h1v1h-1zM82.5 369h1v1h-1zM98.5 370h1v1h-1zM97.5 372h1v1h-1zM96.5 373h1v1h-1zM95.5 374h1v1h-1zM88.5 375h1v1h-1z"/>
<path fill="#00f18e" d="M219.5 268h3v1h-3zM177.5 269h1v1h-1zM171.5 270h1v1h-1zM167.5 271h1v1h-1zM172.5 281h1v1h-1zM207.5 281h5v1h-5zM166.5 282h1v1h-1zM220.5 282h3v1h-3zM143.5 284h1v1h-1zM142.5 285h1v1h-1zM103.5 286h1v1h-1zM154.5 286h1v1h-1zM79.5 287h1v1h-1zM81.5 287h1v1h-1zM109.5 287h1v1h-1zM152.5 287h1v1h-1zM83.5 288h1v1h-1zM150.5 288h1v1h-1zM112.5 289h1v1h-1zM113.5 290h1v1h-1zM147.5 290h1v1h-1zM98.5 291h1v1h-1zM104.5 291h1v1h-1zM106.5 291h1v1h-1zM114.5 291h1v1h-1zM79.5 292h1v1h-1zM97.5 292h1v1h-1zM103.5 292h1v1h-1zM115.5 292h1v1h-1zM81.5 293h1v1h-1zM89.5 293h1v1h-1zM96.5 293h1v1h-1zM102.5 293h1v1h-1zM109.5 293h1v1h-1zM116.5 293h1v1h-1zM133.5 293h1v1h-1zM143.5 293h1v1h-1zM83.5 294h1v1h-1zM90.5 294h1v1h-1zM101.5 294h1v1h-1zM110.5 294h1v1h-1zM132.5 294h1v1h-1zM84.5 295h1v1h-1zM92.5 295h3v1h-3zM111.5 295h1v1h-1zM85.5 296h1v1h-1zM112.5 296h1v1h-1zM129.5 296h1v1h-1zM139.5 296h1v1h-1zM99.5 297h1v1h-1zM113.5 297h1v1h-1zM128.5 297h1v1h-1zM88.5 298h1v1h-1zM114.5 298h1v1h-1zM121.5 298h1v1h-1zM126.5 298h1v1h-1zM136.5 298h1v1h-1zM90.5 299h2v1h-2zM96.5 299h1v1h-1zM115.5 299h1v1h-1zM122.5 299h3v1h-3zM134.5 299h1v1h-1zM116.5 300h1v1h-1zM117.5 301h1v1h-1zM131.5 301h1v1h-1zM129.5 302h1v1h-1zM120.5 303h1v1h-1zM127.5 303h1v1h-1zM78.5 359h1v1h-1zM102.5 359h5v1h-5zM77.5 360h1v1h-1zM84.5 360h1v1h-1zM99.5 360h1v1h-1zM108.5 360h2v1h-2zM85.5 361h1v1h-1zM98.5 361h1v1h-1zM86.5 362h1v1h-1zM77.5 363h1v1h-1zM95.5 363h1v1h-1zM104.5 363h6v1h-6zM78.5 364h1v1h-1zM101.5 365h1v1h-1zM80.5 366h1v1h-1zM81.5 367h1v1h-1zM99.5 368h1v1h-1zM83.5 370h1v1h-1zM84.5 371h1v1h-1zM97.5 371h1v1h-1zM87.5 374h1v1h-1zM89.5 375h1v1h-1zM93.5 375h1v1h-1z"/>
<path fill="#00f847" d="M222.5 268h3v1h-3zM178.5 269h2v1h-2zM172.5 270h1v1h-1zM168.5 271h1v1h-1zM165.5 272h1v1h-1zM162.5 273h1v1h-1zM160.5 274h1v1h-1zM152.5 278h1v1h-1zM150.5 279h1v1h-1zM147.5 281h1v1h-1zM170.5 281h2v1h-2zM212.5 281h2v1h-2zM146.5 282h1v1h-1zM223.5 282h2v1h-2zM243.5 282h45v1h-45zM162.5 283h1v1h-1zM159.5 284h1v1h-1zM156.5 285h1v1h-1zM104.5 286h4v1h-4zM141.5 286h1v1h-1zM80.5 287h1v1h-1zM102.5 287h1v1h-1zM140.5 287h1v1h-1zM78.5 288h1v1h-1zM101.5 288h1v1h-1zM110.5 288h1v1h-1zM139.5 288h1v1h-1zM84.5 289h1v1h-1zM100.5 289h1v1h-1zM111.5 289h1v1h-1zM138.5 289h1v1h-1zM148.5 289h1v1h-1zM85.5 290h1v1h-1zM99.5 290h1v1h-1zM105.5 290h1v1h-1zM112.5 290h1v1h-1zM137.5 290h1v1h-1zM78.5 291h1v1h-1zM86.5 291h1v1h-1zM99.5 291h1v1h-1zM103.5 291h1v1h-1zM107.5 291h1v1h-1zM113.5 291h1v1h-1zM136.5 291h1v1h-1zM145.5 291h1v1h-1zM80.5 292h1v1h-1zM87.5 292h1v1h-1zM98.5 292h1v1h-1zM102.5 292h1v1h-1zM108.5 292h1v1h-1zM114.5 292h1v1h-1zM135.5 292h1v1h-1zM144.5 292h1v1h-1zM82.5 293h1v1h-1zM88.5 293h1v1h-1zM97.5 293h1v1h-1zM101.5 293h1v1h-1zM115.5 293h1v1h-1zM134.5 293h1v1h-1zM84.5 294h1v1h-1zM89.5 294h1v1h-1zM96.5 294h1v1h-1zM111.5 294h1v1h-1zM116.5 294h1v1h-1zM141.5 294h1v1h-1zM85.5 295h1v1h-1zM91.5 295h1v1h-1zM95.5 295h1v1h-1zM100.5 295h1v1h-1zM112.5 295h1v1h-1zM117.5 295h1v1h-1zM131.5 295h1v1h-1zM140.5 295h1v1h-1zM86.5 296h1v1h-1zM93.5 296h1v1h-1zM99.5 296h1v1h-1zM113.5 296h1v1h-1zM118.5 296h1v1h-1zM130.5 296h1v1h-1zM87.5 297h2v1h-2zM98.5 297h1v1h-1zM114.5 297h1v1h-1zM119.5 297h1v1h-1zM137.5 297h1v1h-1zM89.5 298h2v1h-2zM96.5 298h2v1h-2zM115.5 298h1v1h-1zM120.5 298h1v1h-1zM127.5 298h1v1h-1zM135.5 298h1v1h-1zM92.5 299h4v1h-4zM116.5 299h1v1h-1zM121.5 299h1v1h-1zM125.5 299h2v1h-2zM133.5 299h1v1h-1zM117.5 300h1v1h-1zM123.5 300h2v1h-2zM132.5 300h1v1h-1zM118.5 301h1v1h-1zM130.5 301h1v1h-1zM119.5 302h2v1h-2zM128.5 302h1v1h-1zM121.5 303h6v1h-6zM82.5 359h1v1h-1zM100.5 360h2v1h-2zM105.5 360h3v1h-3zM77.5 361h1v1h-1zM107.5 361h3v1h-3zM77.5 362h1v1h-1zM97.5 362h1v1h-1zM105.5 362h5v1h-5zM96.5 363h1v1h-1zM103.5 363h1v1h-1zM102.5 364h1v1h-1zM88.5 365h1v1h-1zM89.5 366h1v1h-1zM93.5 366h1v1h-1zM100.5 366h1v1h-1zM90.5 367h1v1h-1zM92.5 367h1v1h-1zM99.5 367h1v1h-1zM82.5 368h1v1h-1zM98.5 369h1v1h-1zM85.5 372h1v1h-1zM96.5 372h1v1h-1zM86.5 373h1v1h-1zM94.5 374h1v1h-1zM90.5 375h1v1h-1zM92.5 375h1v1h-1z"/>
<path fill="#00ff00" d="M225.5 268h26v1h-26zM292.5 268h1.5v1h-1.5zM180.5 269h4v1h-4zM205.5 269h8v1h-8zM173.5 270h1v1h-1zM158.5 275h1v1h-1zM156.5 276h1v1h-1zM154.5 277h1v1h-1zM149.5 280h1v1h-1zM182.5 280h16v1h-16zM169.5 281h1v1h-1zM214.5 281h2v1h-2zM165.5 282h1v1h-1zM225.5 282h18v1h-18zM288.5 282h5.5v1h-5.5zM145.5 283h1v1h-1zM158.5 284h1v1h-1zM153.5 286h1v1h-1zM103.5 287h6v1h-6zM151.5 287h1v1h-1zM79.5 288h1v1h-1zM81.5 288h2v1h-2zM102.5 288h2v1h-2zM109.5 288h1v1h-1zM149.5 288h1v1h-1zM78.5 289h1v1h-1zM83.5 289h1v1h-1zM101.5 289h5v1h-5zM110.5 289h1v1h-1zM78.5 290h1v1h-1zM84.5 290h1v1h-1zM100.5 290h5v1h-5zM106.5 290h2v1h-2zM111.5 290h1v1h-1zM146.5 290h1v1h-1zM79.5 291h1v1h-1zM85.5 291h1v1h-1zM100.5 291h3v1h-3zM108.5 291h1v1h-1zM112.5 291h1v1h-1zM81.5 292h2v1h-2zM85.5 292h2v1h-2zM99.5 292h3v1h-3zM109.5 292h5v1h-5zM83.5 293h5v1h-5zM98.5 293h3v1h-3zM110.5 293h5v1h-5zM142.5 293h1v1h-1zM85.5 294h4v1h-4zM97.5 294h4v1h-4zM112.5 294h4v1h-4zM133.5 294h1v1h-1zM86.5 295h5v1h-5zM96.5 295h4v1h-4zM113.5 295h4v1h-4zM132.5 295h1v1h-1zM139.5 295h1v1h-1zM87.5 296h6v1h-6zM94.5 296h5v1h-5zM114.5 296h4v1h-4zM131.5 296h1v1h-1zM138.5 296h1v1h-1zM89.5 297h9v1h-9zM115.5 297h4v1h-4zM129.5 297h2v1h-2zM136.5 297h1v1h-1zM91.5 298h5v1h-5zM116.5 298h4v1h-4zM128.5 298h1v1h-1zM134.5 298h1v1h-1zM117.5 299h4v1h-4zM127.5 299h1v1h-1zM132.5 299h1v1h-1zM118.5 300h5v1h-5zM125.5 300h3v1h-3zM130.5 300h2v1h-2zM119.5 301h11v1h-11zM121.5 302h7v1h-7zM79.5 359h3v1h-3zM78.5 360h1v1h-1zM83.5 360h1v1h-1zM102.5 360h3v1h-3zM84.5 361h1v1h-1zM99.5 361h2v1h-2zM103.5 361h4v1h-4zM85.5 362h1v1h-1zM98.5 362h1v1h-1zM103.5 362h2v1h-2zM78.5 363h1v1h-1zM86.5 363h1v1h-1zM102.5 363h1v1h-1zM79.5 364h1v1h-1zM87.5 364h1v1h-1zM95.5 364h1v1h-1zM101.5 364h1v1h-1zM80.5 365h1v1h-1zM94.5 365h1v1h-1zM100.5 365h1v1h-1zM81.5 366h1v1h-1zM91.5 368h1v1h-1zM98.5 368h1v1h-1zM83.5 369h1v1h-1zM97.5 370h1v1h-1zM95.5 373h1v1h-1zM88.5 374h1v1h-1zM91.5 375h1v1h-1z"/>
<path fill="#23ff00" d="M251.5 268h17v1h-17zM281.5 268h11v1h-11zM184.5 269h21v1h-21zM213.5 269h3v1h-3zM174.5 270h1v1h-1zM169.5 271h1v1h-1zM166.5 272h1v1h-1zM163.5 273h1v1h-1zM161.5 274h1v1h-1zM151.5 279h1v1h-1zM177.5 280h5v1h-5zM198.5 280h7v1h-7zM148.5 281h1v1h-1zM168.5 281h1v1h-1zM216.5 281h2v1h-2zM164.5 282h1v1h-1zM161.5 283h1v1h-1zM144.5 284h1v1h-1zM143.5 285h1v1h-1zM155.5 285h1v1h-1zM142.5 286h1v1h-1zM141.5 287h1v1h-1zM80.5 288h1v1h-1zM104.5 288h5v1h-5zM140.5 288h1v1h-1zM79.5 289h1v1h-1zM81.5 289h2v1h-2zM106.5 289h4v1h-4zM139.5 289h1v1h-1zM147.5 289h1v1h-1zM79.5 290h1v1h-1zM81.5 290h3v1h-3zM108.5 290h3v1h-3zM138.5 290h1v1h-1zM80.5 291h5v1h-5zM109.5 291h3v1h-3zM137.5 291h1v1h-1zM144.5 291h1v1h-1zM83.5 292h2v1h-2zM136.5 292h1v1h-1zM143.5 292h1v1h-1zM135.5 293h1v1h-1zM134.5 294h1v1h-1zM140.5 294h1v1h-1zM133.5 295h1v1h-1zM138.5 295h1v1h-1zM132.5 296h2v1h-2zM136.5 296h2v1h-2zM131.5 297h5v1h-5zM129.5 298h5v1h-5zM128.5 299h4v1h-4zM128.5 300h2v1h-2zM82.5 360h1v1h-1zM78.5 361h1v1h-1zM101.5 361h2v1h-2zM78.5 362h1v1h-1zM99.5 362h4v1h-4zM97.5 363h1v1h-1zM101.5 363h1v1h-1zM80.5 364h1v1h-1zM96.5 364h1v1h-1zM100.5 364h1v1h-1zM95.5 365h1v1h-1zM88.5 366h1v1h-1zM94.5 366h1v1h-1zM99.5 366h1v1h-1zM82.5 367h1v1h-1zM89.5 367h1v1h-1zM84.5 370h1v1h-1zM85.5 371h1v1h-1zM96.5 371h1v1h-1zM86.5 372h1v1h-1zM87.5 373h1v1h-1zM93.5 374h1v1h-1z"/>
<path fill="#47ff00" d="M268.5 268h13v1h-13zM216.5 269h2v1h-2zM175.5 270h2v1h-2zM170.5 271h1v1h-1zM159.5 275h1v1h-1zM157.5 276h1v1h-1zM155.5 277h1v1h-1zM153.5 278h1v1h-1zM150.5 280h1v1h-1zM174.5 280h3v1h-3zM205.5 280h6v1h-6zM167.5 281h1v1h-1zM218.5 281h1v1h-1zM147.5 282h1v1h-1zM160.5 283h1v1h-1zM157.5 284h1v1h-1zM154.5 285h1v1h-1zM152.5 286h1v1h-1zM150.5 287h1v1h-1zM148.5 288h1v1h-1zM80.5 289h1v1h-1zM80.5 290h1v1h-1zM145.5 290h1v1h-1zM138.5 291h1v1h-1zM137.5 292h1v1h-1zM142.5 292h1v1h-1zM136.5 293h2v1h-2zM141.5 293h1v1h-1zM135.5 294h5v1h-5zM134.5 295h4v1h-4zM134.5 296h2v1h-2zM79.5 360h1v1h-1zM81.5 360h1v1h-1zM83.5 361h1v1h-1zM84.5 362h1v1h-1zM79.5 363h1v1h-1zM85.5 363h1v1h-1zM98.5 363h3v1h-3zM86.5 364h1v1h-1zM97.5 364h1v1h-1zM99.5 364h1v1h-1zM81.5 365h1v1h-1zM87.5 365h1v1h-1zM99.5 365h1v1h-1zM98.5 366h1v1h-1zM93.5 367h1v1h-1zM98.5 367h1v1h-1zM83.5 368h1v1h-1zM90.5 368h1v1h-1zM92.5 368h1v1h-1zM84.5 369h1v1h-1zM97.5 369h1v1h-1zM95.5 372h1v1h-1zM94.5 373h1v1h-1zM89.5 374h1v1h-1z"/>
<path fill="#6aff00" d="M218.5 269h3v1h-3zM177.5 270h1v1h-1zM171.5 271h1v1h-1zM167.5 272h1v1h-1zM164.5 273h1v1h-1zM162.5 274h1v1h-1zM152.5 279h1v1h-1zM172.5 280h2v1h-2zM211.5 280h2v1h-2zM149.5 281h1v1h-1zM219.5 281h2v1h-2zM163.5 282h1v1h-1zM146.5 283h1v1h-1zM145.5 284h1v1h-1zM144.5 285h1v1h-1zM143.5 286h1v1h-1zM151.5 286h1v1h-1zM142.5 287h1v1h-1zM149.5 287h1v1h-1zM141.5 288h1v1h-1zM140.5 289h1v1h-1zM146.5 289h1v1h-1zM139.5 290h1v1h-1zM144.5 290h1v1h-1zM139.5 291h1v1h-1zM143.5 291h1v1h-1zM138.5 292h4v1h-4zM138.5 293h3v1h-3zM80.5 360h1v1h-1zM79.5 361h1v1h-1zM82.5 361h1v1h-1zM79.5 362h1v1h-1zM80.5 363h1v1h-1zM81.5 364h1v1h-1zM98.5 364h1v1h-1zM96.5 365h3v1h-3zM82.5 366h1v1h-1zM95.5 366h1v1h-1zM97.5 366h1v1h-1zM83.5 367h1v1h-1zM88.5 367h1v1h-1zM94.5 367h1v1h-1zM97.5 367h1v1h-1zM93.5 368h1v1h-1zM97.5 368h1v1h-1zM91.5 369h1v1h-1zM85.5 370h1v1h-1zM96.5 370h1v1h-1zM88.5 373h1v1h-1zM90.5 374h3v1h-3z"/>
<path fill="#8eff00" d="M221.5 269h2v1h-2zM178.5 270h3v1h-3zM208.5 270h4v1h-4zM172.5 271h1v1h-1zM168.5 272h1v1h-1zM165.5 273h1v1h-1zM160.5 275h1v1h-1zM158.5 276h1v1h-1zM156.5 277h1v1h-1zM154.5 278h1v1h-1zM187.5 279h7v1h-7zM171.5 280h1v1h-1zM213.5 280h1v1h-1zM166.5 281h1v1h-1zM221.5 281h2v1h-2zM148.5 282h1v1h-1zM162.5 282h1v1h-1zM159.5 283h1v1h-1zM156.5 284h1v1h-1zM153.5 285h1v1h-1zM143.5 287h1v1h-1zM142.5 288h1v1h-1zM147.5 288h1v1h-1zM141.5 289h2v1h-2zM145.5 289h1v1h-1zM140.5 290h4v1h-4zM140.5 291h3v1h-3zM80.5 361h2v1h-2zM80.5 362h4v1h-4zM81.5 363h1v1h-1zM84.5 363h1v1h-1zM85.5 364h1v1h-1zM82.5 365h1v1h-1zM86.5 365h1v1h-1zM83.5 366h1v1h-1zM87.5 366h1v1h-1zM96.5 366h1v1h-1zM95.5 367h2v1h-2zM84.5 368h1v1h-1zM89.5 368h1v1h-1zM94.5 368h1v1h-1zM96.5 368h1v1h-1zM90.5 369h1v1h-1zM92.5 369h1v1h-1zM96.5 369h1v1h-1zM86.5 371h1v1h-1zM95.5 371h1v1h-1zM87.5 372h1v1h-1zM94.5 372h1v1h-1zM93.5 373h1v1h-1z"/>
<path fill="#afff00" d="M223.5 269h2v1h-2zM181.5 270h6v1h-6zM198.5 270h10v1h-10zM212.5 270h2v1h-2zM173.5 271h1v1h-1zM163.5 274h1v1h-1zM153.5 279h1v1h-1zM181.5 279h6v1h-6zM194.5 279h9v1h-9zM151.5 280h1v1h-1zM170.5 280h1v1h-1zM214.5 280h2v1h-2zM150.5 281h1v1h-1zM165.5 281h1v1h-1zM223.5 281h2v1h-2zM246.5 281h40v1h-40zM161.5 282h1v1h-1zM147.5 283h1v1h-1zM158.5 283h1v1h-1zM146.5 284h1v1h-1zM155.5 284h1v1h-1zM145.5 285h1v1h-1zM152.5 285h1v1h-1zM144.5 286h2v1h-2zM150.5 286h1v1h-1zM144.5 287h2v1h-2zM147.5 287h2v1h-2zM143.5 288h4v1h-4zM143.5 289h2v1h-2zM82.5 363h2v1h-2zM82.5 364h3v1h-3zM83.5 365h1v1h-1zM85.5 365h1v1h-1zM86.5 366h1v1h-1zM84.5 367h1v1h-1zM87.5 367h1v1h-1zM88.5 368h1v1h-1zM95.5 368h1v1h-1zM85.5 369h1v1h-1zM93.5 369h3v1h-3zM86.5 370h1v1h-1zM95.5 370h1v1h-1zM87.5 371h1v1h-1zM94.5 371h1v1h-1zM88.5 372h1v1h-1zM89.5 373h1v1h-1zM92.5 373h1v1h-1z"/>
<path fill="#c6ff00" d="M225.5 269h23v1h-23zM187.5 270h11v1h-11zM214.5 270h2v1h-2zM174.5 271h2v1h-2zM169.5 272h1v1h-1zM166.5 273h1v1h-1zM161.5 275h1v1h-1zM159.5 276h1v1h-1zM157.5 277h1v1h-1zM155.5 278h1v1h-1zM176.5 279h5v1h-5zM203.5 279h8v1h-8zM152.5 280h1v1h-1zM169.5 280h1v1h-1zM216.5 280h1v1h-1zM164.5 281h1v1h-1zM225.5 281h21v1h-21zM286.5 281h7v1h-7zM149.5 282h1v1h-1zM148.5 283h1v1h-1zM157.5 283h1v1h-1zM147.5 284h1v1h-1zM154.5 284h1v1h-1zM146.5 285h2v1h-2zM151.5 285h1v1h-1zM146.5 286h4v1h-4zM146.5 287h1v1h-1zM84.5 365h1v1h-1zM84.5 366h2v1h-2zM85.5 367h2v1h-2zM85.5 368h3v1h-3zM86.5 369h1v1h-1zM88.5 369h2v1h-2zM87.5 370h1v1h-1zM90.5 370h5v1h-5zM93.5 372h1v1h-1zM90.5 373h2v1h-2z"/>
<path fill="#deff00" d="M248.5 269h14v1h-14zM287.5 269h6.5v1h-6.5zM216.5 270h2v1h-2zM176.5 271h1v1h-1zM170.5 272h1v1h-1zM164.5 274h1v1h-1zM154.5 279h1v1h-1zM174.5 279h2v1h-2zM211.5 279h2v1h-2zM167.5 280h2v1h-2zM217.5 280h2v1h-2zM151.5 281h1v1h-1zM163.5 281h1v1h-1zM293.5 281h0.5v1h-0.5zM150.5 282h1v1h-1zM160.5 282h1v1h-1zM149.5 283h1v1h-1zM156.5 283h1v1h-1zM148.5 284h3v1h-3zM152.5 284h2v1h-2zM148.5 285h3v1h-3zM87.5 369h1v1h-1zM88.5 370h2v1h-2zM88.5 371h2v1h-2zM92.5 371h2v1h-2zM89.5 372h2v1h-2zM92.5 372h1v1h-1z"/>
<path fill="#f6ff00" d="M262.5 269h25v1h-25zM218.5 270h2v1h-2zM177.5 271h3v1h-3zM205.5 271h8v1h-8zM171.5 272h1v1h-1zM167.5 273h1v1h-1zM162.5 275h1v1h-1zM160.5 276h1v1h-1zM158.5 277h1v1h-1zM156.5 278h1v1h-1zM188.5 278h7v1h-7zM155.5 279h1v1h-1zM172.5 279h2v1h-2zM213.5 279h1v1h-1zM153.5 280h1v1h-1zM166.5 280h1v1h-1zM219.5 280h1v1h-1zM152.5 281h1v1h-1zM162.5 281h1v1h-1zM151.5 282h2v1h-2zM158.5 282h2v1h-2zM150.5 283h6v1h-6zM151.5 284h1v1h-1zM90.5 371h2v1h-2zM91.5 372h1v1h-1z"/>
<path fill="#ffec00" d="M220.5 270h2v1h-2zM180.5 271h25v1h-25zM213.5 271h1v1h-1zM172.5 272h2v1h-2zM168.5 273h1v1h-1zM165.5 274h1v1h-1zM163.5 275h1v1h-1zM161.5 276h1v1h-1zM159.5 277h1v1h-1zM157.5 278h1v1h-1zM180.5 278h8v1h-8zM195.5 278h14v1h-14zM171.5 279h1v1h-1zM214.5 279h1v1h-1zM154.5 280h1v1h-1zM165.5 280h1v1h-1zM220.5 280h2v1h-2zM153.5 281h2v1h-2zM161.5 281h1v1h-1zM153.5 282h5v1h-5z"/>
<path fill="#ffcc00" d="M222.5 270h1v1h-1zM214.5 271h2v1h-2zM174.5 272h2v1h-2zM169.5 273h1v1h-1zM166.5 274h1v1h-1zM158.5 278h1v1h-1zM176.5 278h4v1h-4zM209.5 278h3v1h-3zM156.5 279h2v1h-2zM169.5 279h2v1h-2zM215.5 279h2v1h-2zM155.5 280h2v1h-2zM163.5 280h2v1h-2zM222.5 280h1v1h-1zM155.5 281h6v1h-6z"/>
<path fill="#ffac00" d="M223.5 270h2v1h-2zM216.5 271h1v1h-1zM176.5 272h3v1h-3zM201.5 272h12v1h-12zM170.5 273h1v1h-1zM167.5 274h1v1h-1zM164.5 275h1v1h-1zM162.5 276h1v1h-1zM160.5 277h2v1h-2zM188.5 277h12v1h-12zM159.5 278h1v1h-1zM174.5 278h2v1h-2zM212.5 278h2v1h-2zM158.5 279h2v1h-2zM167.5 279h2v1h-2zM217.5 279h1v1h-1zM157.5 280h6v1h-6zM223.5 280h2v1h-2zM253.5 280h28v1h-28z"/>
<path fill="#ff8c00" d="M225.5 270h20v1h-20zM217.5 271h2v1h-2zM179.5 272h22v1h-22zM213.5 272h1v1h-1zM171.5 273h2v1h-2zM209.5 273h2v1h-2zM168.5 274h1v1h-1zM165.5 275h1v1h-1zM163.5 276h1v1h-1zM162.5 277h1v1h-1zM179.5 277h9v1h-9zM200.5 277h12v1h-12zM160.5 278h3v1h-3zM171.5 278h3v1h-3zM214.5 278h1v1h-1zM160.5 279h7v1h-7zM218.5 279h1v1h-1zM225.5 280h28v1h-28zM281.5 280h9v1h-9z"/>
<path fill="#ff6000" d="M245.5 270h13v1h-13zM291.5 270h2.5v1h-2.5zM219.5 271h1v1h-1zM214.5 272h1v1h-1zM173.5 273h6v1h-6zM191.5 273h18v1h-18zM211.5 273h2v1h-2zM169.5 274h1v1h-1zM202.5 274h10v1h-10zM166.5 275h1v1h-1zM203.5 275h9v1h-9zM164.5 276h2v1h-2zM185.5 276h27v1h-27zM163.5 277h2v1h-2zM175.5 277h4v1h-4zM212.5 277h1v1h-1zM163.5 278h8v1h-8zM215.5 278h1v1h-1zM219.5 279h1v1h-1zM290.5 280h3.5v1h-3.5z"/>
<path fill="#ff3400" d="M258.5 270h33v1h-33zM220.5 271h1v1h-1zM215.5 272h2v1h-2zM179.5 273h12v1h-12zM213.5 273h1v1h-1zM170.5 274h32v1h-32zM212.5 274h1v1h-1zM167.5 275h2v1h-2zM178.5 275h25v1h-25zM212.5 275h1v1h-1zM166.5 276h2v1h-2zM176.5 276h9v1h-9zM212.5 276h1v1h-1zM165.5 277h4v1h-4zM171.5 277h4v1h-4zM213.5 277h1v1h-1zM216.5 278h1v1h-1zM220.5 279h2v1h-2z"/>
<path fill="#ff0900" d="M221.5 271h2v1h-2zM217.5 272h1v1h-1zM214.5 273h1v1h-1zM213.5 274h1v1h-1zM169.5 275h9v1h-9zM213.5 275h1v1h-1zM168.5 276h8v1h-8zM213.5 276h1v1h-1zM169.5 277h2v1h-2zM214.5 277h2v1h-2zM217.5 278h1v1h-1zM222.5 279h1v1h-1z"/>
<path fill="#ff0000" d="M223.5 271h70.5v1h-70.5zM218.5 272h75.5v1h-75.5zM215.5 273h78.5v1h-78.5zM214.5 274h79.5v1h-79.5zM214.5 275h79.5v1h-79.5zM214.5 276h79.5v1h-79.5zM216.5 277h77.5v1h-77.5zM218.5 278h75.5v1h-75.5zM223.5 279h70.5v1h-70.5z"/>
</g></g>
<rect x="59.75" y="260.25" width="234.75" height="166.5" fill="none" stroke="#7a7a7a" stroke-width="1.5"/>
<line x1="54" y1="276.4" x2="59" y2="276.4" stroke="#555" stroke-width="1.2"/>
<text x="48.4" y="281.2" font-size="13.5" text-anchor="end" fill="#000">65.0</text>
<line x1="54" y1="313.9" x2="59" y2="313.9" stroke="#555" stroke-width="1.2"/>
<text x="48.4" y="318.7" font-size="13.5" text-anchor="end" fill="#000">64.5</text>
<line x1="54" y1="351.4" x2="59" y2="351.4" stroke="#555" stroke-width="1.2"/>
<text x="48.4" y="356.2" font-size="13.5" text-anchor="end" fill="#000">64.0</text>
<line x1="54" y1="388.9" x2="59" y2="388.9" stroke="#555" stroke-width="1.2"/>
<text x="48.4" y="393.7" font-size="13.5" text-anchor="end" fill="#000">63.5</text>
<line x1="54" y1="426.4" x2="59" y2="426.4" stroke="#555" stroke-width="1.2"/>
<text x="48.4" y="431.2" font-size="13.5" text-anchor="end" fill="#000">63.0</text>
<line x1="76.4" y1="427.25" x2="76.4" y2="432.35" stroke="#555" stroke-width="1.2"/>
<text x="76.4" y="448.7" font-size="13.5" text-anchor="middle" fill="#000">0</text>
<line x1="107.6" y1="427.25" x2="107.6" y2="430.35" stroke="#555" stroke-width="1.2"/>
<line x1="138.8" y1="427.25" x2="138.8" y2="432.35" stroke="#555" stroke-width="1.2"/>
<text x="138.84" y="448.7" font-size="13.5" text-anchor="middle" fill="#000">40</text>
<line x1="170.1" y1="427.25" x2="170.1" y2="430.35" stroke="#555" stroke-width="1.2"/>
<line x1="201.3" y1="427.25" x2="201.3" y2="432.35" stroke="#555" stroke-width="1.2"/>
<text x="201.28" y="448.7" font-size="13.5" text-anchor="middle" fill="#000">80</text>
<line x1="232.5" y1="427.25" x2="232.5" y2="430.35" stroke="#555" stroke-width="1.2"/>
<line x1="263.7" y1="427.25" x2="263.7" y2="432.35" stroke="#555" stroke-width="1.2"/>
<text x="263.72" y="448.7" font-size="13.5" text-anchor="middle" fill="#000">120</text>
<line x1="294.9" y1="427.25" x2="294.9" y2="430.35" stroke="#555" stroke-width="1.2"/>
<text x="173" y="468.3" font-size="13.5" text-anchor="middle" fill="#000">Delay (fs)</text>
<text transform="translate(10.6,344) rotate(-90)" font-size="14" text-anchor="middle">Energy (eV)</text>
<g shape-rendering="crispEdges">
<rect x="297.5" y="261.00" width="8" height="3.12" fill="#ff0000"/>
<rect x="297.5" y="263.72" width="8" height="3.12" fill="#ff0000"/>
<rect x="297.5" y="266.43" width="8" height="3.12" fill="#ff0000"/>
<rect x="297.5" y="269.15" width="8" height="3.12" fill="#ff0000"/>
<rect x="297.5" y="271.87" width="8" height="3.12" fill="#ff0000"/>
<rect x="297.5" y="274.58" width="8" height="3.12" fill="#ff0000"/>
<rect x="297.5" y="277.30" width="8" height="3.12" fill="#ff0000"/>
<rect x="297.5" y="280.02" width="8" height="3.12" fill="#ff0000"/>
<rect x="297.5" y="282.73" width="8" height="3.12" fill="#ff0000"/>
<rect x="297.5" y="285.45" width="8" height="3.12" fill="#ff0000"/>
<rect x="297.5" y="288.17" width="8" height="3.12" fill="#ff0000"/>
<rect x="297.5" y="290.88" width="8" height="3.12" fill="#ff0000"/>
<rect x="297.5" y="293.60" width="8" height="3.12" fill="#ff0000"/>
<rect x="297.5" y="296.32" width="8" height="3.12" fill="#ff0900"/>
<rect x="297.5" y="299.03" width="8" height="3.12" fill="#ff2600"/>
<rect x="297.5" y="301.75" width="8" height="3.12" fill="#ff4300"/>
<rect x="297.5" y="304.47" width="8" height="3.12" fill="#ff6000"/>
<rect x="297.5" y="307.18" width="8" height="3.12" fill="#ff7d00"/>
<rect x="297.5" y="309.90" width="8" height="3.12" fill="#ff9700"/>
<rect x="297.5" y="312.62" width="8" height="3.12" fill="#ffac00"/>
<rect x="297.5" y="315.33" width="8" height="3.12" fill="#ffc100"/>
<rect x="297.5" y="318.05" width="8" height="3.12" fill="#ffd700"/>
<rect x="297.5" y="320.77" width="8" height="3.12" fill="#ffec00"/>
<rect x="297.5" y="323.48" width="8" height="3.12" fill="#fdff00"/>
<rect x="297.5" y="326.20" width="8" height="3.12" fill="#eeff00"/>
<rect x="297.5" y="328.92" width="8" height="3.12" fill="#deff00"/>
<rect x="297.5" y="331.63" width="8" height="3.12" fill="#ceff00"/>
<rect x="297.5" y="334.35" width="8" height="3.12" fill="#beff00"/>
<rect x="297.5" y="337.07" width="8" height="3.12" fill="#afff00"/>
<rect x="297.5" y="339.78" width="8" height="3.12" fill="#99ff00"/>
<rect x="297.5" y="342.50" width="8" height="3.12" fill="#82ff00"/>
<rect x="297.5" y="345.22" width="8" height="3.12" fill="#6aff00"/>
<rect x="297.5" y="347.93" width="8" height="3.12" fill="#53ff00"/>
<rect x="297.5" y="350.65" width="8" height="3.12" fill="#3bff00"/>
<rect x="297.5" y="353.37" width="8" height="3.12" fill="#23ff00"/>
<rect x="297.5" y="356.08" width="8" height="3.12" fill="#0cff00"/>
<rect x="297.5" y="358.80" width="8" height="3.12" fill="#00fd18"/>
<rect x="297.5" y="361.52" width="8" height="3.12" fill="#00f847"/>
<rect x="297.5" y="364.23" width="8" height="3.12" fill="#00f376"/>
<rect x="297.5" y="366.95" width="8" height="3.12" fill="#00efa5"/>
<rect x="297.5" y="369.67" width="8" height="3.12" fill="#00ead5"/>
<rect x="297.5" y="372.38" width="8" height="3.12" fill="#00e3ff"/>
<rect x="297.5" y="375.10" width="8" height="3.12" fill="#00c6ff"/>
<rect x="297.5" y="377.82" width="8" height="3.12" fill="#00a8ff"/>
<rect x="297.5" y="380.53" width="8" height="3.12" fill="#008bff"/>
<rect x="297.5" y="383.25" width="8" height="3.12" fill="#006dff"/>
<rect x="297.5" y="385.97" width="8" height="3.12" fill="#0050ff"/>
<rect x="297.5" y="388.68" width="8" height="3.12" fill="#0032ff"/>
<rect x="297.5" y="391.40" width="8" height="3.12" fill="#0015ff"/>
<rect x="297.5" y="394.12" width="8" height="3.12" fill="#0800fe"/>
<rect x="297.5" y="396.83" width="8" height="3.12" fill="#2200fb"/>
<rect x="297.5" y="399.55" width="8" height="3.12" fill="#3c00f8"/>
<rect x="297.5" y="402.27" width="8" height="3.12" fill="#5600f5"/>
<rect x="297.5" y="404.98" width="8" height="3.12" fill="#7000f2"/>
<rect x="297.5" y="407.70" width="8" height="3.12" fill="#7b00e4"/>
<rect x="297.5" y="410.42" width="8" height="3.12" fill="#7600cc"/>
<rect x="297.5" y="413.13" width="8" height="3.12" fill="#7100b4"/>
<rect x="297.5" y="415.85" width="8" height="3.12" fill="#6c009c"/>
<rect x="297.5" y="418.57" width="8" height="3.12" fill="#670084"/>
<rect x="297.5" y="421.28" width="8" height="3.12" fill="#62006c"/>
</g>
<rect x="297.5" y="261" width="8" height="163" fill="none" stroke="#333" stroke-width="0.6"/>
<line x1="305.5" y1="262.3" x2="312" y2="262.3" stroke="#666" stroke-width="1.2"/>
<text x="316.2" y="266.8" font-size="12.4" text-anchor="start" fill="#000">1.0</text>
<line x1="305.5" y1="342.9" x2="312" y2="342.9" stroke="#666" stroke-width="1.2"/>
<text x="316.2" y="347.4" font-size="12.4" text-anchor="start" fill="#000">0.5</text>
<line x1="305.5" y1="423.5" x2="312" y2="423.5" stroke="#666" stroke-width="1.2"/>
<text x="316.2" y="428" font-size="12.4" text-anchor="start" fill="#000">0.0</text>
<text x="294" y="251.7" font-size="11" text-anchor="start" fill="#000">&#916; O.D.</text>
<line x1="225.8" y1="47.6" x2="289" y2="47.6" stroke="#fff" stroke-width="2.4" stroke-dasharray="8 3"/>
<line x1="225.8" y1="87.6" x2="289" y2="87.6" stroke="#fff" stroke-width="2.4" stroke-dasharray="8 3"/>
<line x1="225.8" y1="120.4" x2="289" y2="120.4" stroke="#fff" stroke-width="2.4" stroke-dasharray="8 3"/>
<text x="198" y="72.6" font-size="11.3" fill="#f2e6f2">Br*</text>
<text x="217.1" y="72.6" font-size="11.3" fill="#f2e6f2">(</text>
<text x="220.6" y="72.6" font-size="11.3" font-style="italic" fill="#f2e6f2">P</text>
<text x="229" y="76.4" font-size="8.7" font-style="italic" fill="#f2e6f2">1/2</text>
<path d="M246.6 69.2H256.2" stroke="#f2e6f2" stroke-width="2.3"/><path d="M254.2 65.4L260.2 69.2L254.2 73z" fill="#f2e6f2"/>
<text x="264.8" y="72.6" font-size="11.3" font-style="italic" fill="#f2e6f2">D</text>
<text x="272.8" y="76.4" font-size="8.7" font-style="italic" fill="#f2e6f2">3/2</text>
<text x="284.3" y="72.6" font-size="11.3" fill="#f2e6f2">)</text>
<text x="202.1" y="102.5" font-size="11.3" fill="#f2e6f2">Br</text>
<text x="217.1" y="102.5" font-size="11.3" fill="#f2e6f2">(</text>
<text x="220.6" y="102.5" font-size="11.3" font-style="italic" fill="#f2e6f2">P</text>
<text x="229" y="106.3" font-size="8.7" font-style="italic" fill="#f2e6f2">3/2</text>
<path d="M246.6 99.1H256.2" stroke="#f2e6f2" stroke-width="2.3"/><path d="M254.2 95.3L260.2 99.1L254.2 102.9z" fill="#f2e6f2"/>
<text x="264.8" y="102.5" font-size="11.3" font-style="italic" fill="#f2e6f2">D</text>
<text x="272.8" y="106.3" font-size="8.7" font-style="italic" fill="#f2e6f2">5/2</text>
<text x="284.3" y="102.5" font-size="11.3" fill="#f2e6f2">)</text>
<text x="198" y="134.5" font-size="11.3" fill="#f2e6f2">Br*</text>
<text x="217.1" y="134.5" font-size="11.3" fill="#f2e6f2">(</text>
<text x="220.6" y="134.5" font-size="11.3" font-style="italic" fill="#f2e6f2">P</text>
<text x="229" y="138.3" font-size="8.7" font-style="italic" fill="#f2e6f2">1/2</text>
<path d="M246.6 131.1H256.2" stroke="#f2e6f2" stroke-width="2.3"/><path d="M254.2 127.3L260.2 131.1L254.2 134.9z" fill="#f2e6f2"/>
<text x="264.8" y="134.5" font-size="11.3" font-style="italic" fill="#f2e6f2">D</text>
<text x="272.8" y="138.3" font-size="8.7" font-style="italic" fill="#f2e6f2">5/2</text>
<text x="284.3" y="134.5" font-size="11.3" fill="#f2e6f2">)</text>
<line x1="222" y1="275.5" x2="286" y2="275.5" stroke="#fff" stroke-width="2.4" stroke-dasharray="8 3"/>
<line x1="222" y1="306.3" x2="286" y2="306.3" stroke="#fff" stroke-width="2.4" stroke-dasharray="8 3"/>
<line x1="222" y1="348.6" x2="286" y2="348.6" stroke="#fff" stroke-width="2.4" stroke-dasharray="8 3"/>
<text x="196.8" y="292.3" font-size="11.3" fill="#f2e6f2">Br*</text>
<text x="215.9" y="292.3" font-size="11.3" fill="#f2e6f2">(</text>
<text x="219.4" y="292.3" font-size="11.3" font-style="italic" fill="#f2e6f2">P</text>
<text x="227.8" y="296.1" font-size="8.7" font-style="italic" fill="#f2e6f2">1/2</text>
<path d="M245.4 288.9H255" stroke="#f2e6f2" stroke-width="2.3"/><path d="M253 285.1L259 288.9L253 292.7z" fill="#f2e6f2"/>
<text x="263.6" y="292.3" font-size="11.3" font-style="italic" fill="#f2e6f2">D</text>
<text x="271.6" y="296.1" font-size="8.7" font-style="italic" fill="#f2e6f2">3/2</text>
<text x="283.1" y="292.3" font-size="11.3" fill="#f2e6f2">)</text>
<text x="200.9" y="322.9" font-size="11.3" fill="#f2e6f2">Br</text>
<text x="215.9" y="322.9" font-size="11.3" fill="#f2e6f2">(</text>
<text x="219.4" y="322.9" font-size="11.3" font-style="italic" fill="#f2e6f2">P</text>
<text x="227.8" y="326.7" font-size="8.7" font-style="italic" fill="#f2e6f2">3/2</text>
<path d="M245.4 319.5H255" stroke="#f2e6f2" stroke-width="2.3"/><path d="M253 315.7L259 319.5L253 323.3z" fill="#f2e6f2"/>
<text x="263.6" y="322.9" font-size="11.3" font-style="italic" fill="#f2e6f2">D</text>
<text x="271.6" y="326.7" font-size="8.7" font-style="italic" fill="#f2e6f2">5/2</text>
<text x="283.1" y="322.9" font-size="11.3" fill="#f2e6f2">)</text>
<text x="196.8" y="365.5" font-size="11.3" fill="#f2e6f2">Br*</text>
<text x="215.9" y="365.5" font-size="11.3" fill="#f2e6f2">(</text>
<text x="219.4" y="365.5" font-size="11.3" font-style="italic" fill="#f2e6f2">P</text>
<text x="227.8" y="369.3" font-size="8.7" font-style="italic" fill="#f2e6f2">1/2</text>
<path d="M245.4 362.1H255" stroke="#f2e6f2" stroke-width="2.3"/><path d="M253 358.3L259 362.1L253 365.9z" fill="#f2e6f2"/>
<text x="263.6" y="365.5" font-size="11.3" font-style="italic" fill="#f2e6f2">D</text>
<text x="271.6" y="369.3" font-size="8.7" font-style="italic" fill="#f2e6f2">5/2</text>
<text x="283.1" y="365.5" font-size="11.3" fill="#f2e6f2">)</text>
<circle cx="102.4" cy="285.6" r="12.8" fill="none" stroke="#fff" stroke-width="1.3" stroke-dasharray="3 2"/>
<circle cx="101.9" cy="359.6" r="12.8" fill="none" stroke="#fff" stroke-width="1.3" stroke-dasharray="3 2"/>
<text x="85" y="405.3" font-size="11.5" text-anchor="start" fill="#ecd8ec">Bifurcation</text>
<defs><clipPath id="cb"><rect x="405" y="49.2" width="272" height="334"/></clipPath></defs>
<g clip-path="url(#cb)">
<path d="M410.69,50.84 411.05,52.12 411.41,53.39 411.77,54.67 412.12,55.95 412.48,57.23 412.83,58.51 413.18,59.80 413.53,61.09 413.88,62.38 414.23,63.67 414.58,64.96 414.92,66.26 415.27,67.56 415.61,68.86 415.96,70.16 416.30,71.47 416.64,72.77 416.99,74.08 417.33,75.39 417.67,76.70 418.01,78.02 418.35,79.33 418.69,80.65 419.03,81.97 419.37,83.29 419.71,84.61 420.06,85.93 420.40,87.25 420.74,88.58 421.08,89.90 421.42,91.23 421.76,92.56 422.10,93.89 422.44,95.22 422.79,96.55 423.13,97.88 423.47,99.22 423.82,100.55 424.16,101.89 424.51,103.22 424.86,104.56 425.20,105.90 425.55,107.23 425.90,108.57 426.25,109.91 426.61,111.25 426.96,112.59 427.31,113.93 427.67,115.27 428.03,116.61 428.39,117.95 428.75,119.30 429.11,120.64 429.47,121.98 429.84,123.32 430.20,124.66 430.57,126.00 430.94,127.35 431.32,128.69 431.69,130.03 432.07,131.37 432.45,132.71 432.83,134.05 433.21,135.39 433.60,136.73 433.98,138.07 434.37,139.41 434.77,140.75 435.16,142.09 435.56,143.42 435.96,144.76 436.36,146.10 436.77,147.43 437.18,148.76 437.59,150.10 438.00,151.43 438.42,152.76 438.84,154.09 439.27,155.42 439.69,156.75 440.13,158.08 440.56,159.40 441.00,160.73 441.44,162.05 441.88,163.38 442.33,164.70 442.78,166.02 443.24,167.33 443.69,168.65 444.16,169.97 444.62,171.28 445.09,172.59 445.57,173.90 446.05,175.21 446.53,176.52 447.02,177.82 447.51,179.12 448.00,180.43 448.50,181.73 449.01,183.02 449.52,184.32 450.03,185.61 450.55,186.90 451.07,188.19 451.60,189.48 452.13,190.76 452.67,192.04 453.21,193.32 453.76,194.60 454.31,195.87 454.87,197.15 455.43,198.41 456.00,199.68 456.57,200.95 457.15,202.21 457.73,203.47 458.32,204.72 458.91,205.97 459.51,207.22 460.12,208.47 460.73,209.72 461.35,210.96 461.97,212.20 462.60,213.43 463.24,214.66 463.88,215.89 464.53,217.12 465.18,218.34 465.84,219.56 466.51,220.77 467.18,221.98 467.86,223.19 468.54,224.40 469.23,225.60 469.93,226.79 470.64,227.99 471.35,229.18 472.07,230.36 472.79,231.55 473.53,232.72 474.27,233.90 475.01,235.07 475.77,236.24 476.53,237.40 477.30,238.56 478.07,239.71 478.86,240.86 479.65,242.00 480.46,243.14 481.27,244.27 482.09,245.40 482.93,246.52 483.77,247.62 484.63,248.72 485.50,249.81 486.38,250.89 487.27,251.96 488.17,253.02 489.09,254.06 490.02,255.10 490.96,256.12 491.92,257.12 492.89,258.11 493.87,259.09 494.87,260.05 495.89,260.99 496.92,261.91 497.97,262.82 499.03,263.71 500.10,264.58 501.19,265.43 502.29,266.26 503.40,267.08 504.53,267.87 505.67,268.65 506.82,269.41 507.98,270.15 509.16,270.87 510.34,271.57 511.54,272.26 512.75,272.92 513.97,273.57 515.20,274.20 516.44,274.81 517.69,275.40 518.96,275.97 520.23,276.53 521.51,277.06 522.80,277.58 524.10,278.08 525.41,278.56 526.73,279.02 528.05,279.47 529.38,279.89 530.73,280.30 532.08,280.69 533.43,281.06 534.80,281.41 536.17,281.74 537.54,282.06 538.92,282.36 540.31,282.64 541.70,282.91 543.10,283.16 544.50,283.40 545.90,283.62 547.31,283.83 548.72,284.02 550.13,284.21 551.55,284.37 552.97,284.53 554.39,284.67 555.82,284.81 557.24,284.93 558.67,285.04 560.10,285.14 561.53,285.23 562.96,285.31 564.39,285.38 565.82,285.45 567.25,285.50 568.68,285.55 570.11,285.59 571.54,285.63 572.96,285.66 574.39,285.68 575.81,285.70 577.23,285.71 578.65,285.72 580.07,285.72 581.49,285.72 582.91,285.72 584.32,285.71 585.73,285.69 587.14,285.67 588.55,285.65 589.96,285.63 591.37,285.60 592.78,285.57 594.18,285.53 595.58,285.49 596.98,285.45 598.38,285.41 599.78,285.37 601.18,285.32 602.57,285.27 603.97,285.22 605.36,285.17 606.75,285.11 608.14,285.06 609.53,285.00 610.92,284.95 612.31,284.89 613.69,284.83 615.07,284.77 616.46,284.71 617.84,284.65 619.22,284.59 620.59,284.53 621.97,284.48 623.35,284.42 624.72,284.36 626.09,284.31 627.47,284.25 628.84,284.20 630.20,284.15 631.57,284.10 632.94,284.05 634.30,284.00 635.67,283.96 637.03,283.92 638.39,283.88 639.75,283.84 641.11,283.81 642.47,283.78 643.82,283.75 645.18,283.73 646.53,283.71" fill="none" stroke="#a6a6a6" stroke-width="2.4" stroke-linejoin="round"/>
<path d="M442.71,49.40 442.93,50.41 443.14,51.42 443.36,52.43 443.57,53.45 443.78,54.46 444.00,55.48 444.21,56.50 444.42,57.52 444.63,58.54 444.84,59.56 445.05,60.59 445.26,61.62 445.47,62.65 445.68,63.68 445.89,64.71 446.10,65.74 446.30,66.77 446.51,67.81 446.72,68.84 446.93,69.88 447.14,70.92 447.35,71.96 447.56,73.00 447.76,74.04 447.97,75.09 448.18,76.13 448.39,77.18 448.60,78.22 448.81,79.27 449.03,80.32 449.24,81.37 449.45,82.42 449.66,83.47 449.88,84.52 450.09,85.57 450.30,86.63 450.52,87.68 450.74,88.73 450.95,89.79 451.17,90.84 451.39,91.90 451.61,92.96 451.83,94.01 452.06,95.07 452.28,96.13 452.50,97.18 452.73,98.24 452.96,99.30 453.19,100.36 453.42,101.42 453.65,102.48 453.88,103.54 454.11,104.60 454.35,105.66 454.59,106.72 454.83,107.78 455.07,108.84 455.31,109.89 455.55,110.95 455.80,112.01 456.05,113.07 456.30,114.13 456.55,115.19 456.80,116.25 457.06,117.31 457.31,118.36 457.57,119.42 457.84,120.48 458.10,121.53 458.37,122.59 458.64,123.65 458.91,124.70 459.18,125.76 459.46,126.81 459.73,127.86 460.01,128.91 460.30,129.97 460.58,131.02 460.87,132.07 461.16,133.12 461.46,134.17 461.75,135.21 462.05,136.26 462.36,137.31 462.66,138.35 462.97,139.39 463.28,140.44 463.59,141.48 463.91,142.52 464.23,143.56 464.56,144.60 464.88,145.63 465.21,146.67 465.55,147.70 465.88,148.74 466.22,149.77 466.56,150.80 466.91,151.83 467.26,152.85 467.62,153.88 467.97,154.90 468.33,155.93 468.70,156.95 469.07,157.97 469.44,158.98 469.82,160.00 470.20,161.01 470.58,162.03 470.97,163.04 471.36,164.05 471.76,165.05 472.15,166.06 472.56,167.06 472.97,168.06 473.38,169.06 473.80,170.06 474.22,171.05 474.64,172.04 475.07,173.03 475.50,174.02 475.94,175.00 476.38,175.98 476.83,176.96 477.28,177.94 477.74,178.91 478.20,179.88 478.67,180.84 479.14,181.80 479.61,182.76 480.09,183.72 480.58,184.67 481.07,185.62 481.56,186.56 482.06,187.50 482.56,188.44 483.07,189.37 483.59,190.30 484.11,191.22 484.63,192.14 485.16,193.05 485.70,193.96 486.24,194.87 486.78,195.77 487.33,196.67 487.89,197.56 488.45,198.45 489.02,199.33 489.59,200.21 490.17,201.08 490.76,201.95 491.35,202.81 491.94,203.66 492.54,204.51 493.15,205.36 493.76,206.20 494.38,207.03 495.01,207.86 495.64,208.68 496.27,209.50 496.91,210.31 497.56,211.11 498.22,211.91 498.88,212.70 499.54,213.49 500.22,214.26 500.90,215.04 501.58,215.80 502.27,216.56 502.97,217.31 503.68,218.06 504.39,218.80 505.10,219.53 505.83,220.25 506.56,220.97 507.30,221.68 508.04,222.38 508.79,223.07 509.55,223.76 510.31,224.44 511.08,225.12 511.86,225.79 512.65,226.45 513.44,227.10 514.24,227.74 515.04,228.38 515.85,229.02 516.66,229.64 517.49,230.26 518.31,230.87 519.15,231.47 519.99,232.07 520.84,232.66 521.69,233.25 522.54,233.82 523.41,234.39 524.28,234.95 525.15,235.51 526.03,236.06 526.92,236.60 527.81,237.14 528.70,237.66 529.60,238.19 530.51,238.70 531.42,239.21 532.33,239.71 533.25,240.20 534.18,240.69 535.11,241.17 536.05,241.64 536.98,242.11 537.93,242.57 538.88,243.02 539.83,243.47 540.79,243.91 541.75,244.34 542.71,244.77 543.68,245.19 544.65,245.60 545.63,246.01 546.61,246.41 547.60,246.80 548.59,247.18 549.58,247.56 550.57,247.94 551.57,248.30 552.57,248.66 553.58,249.01 554.59,249.36 555.60,249.70 556.62,250.03 557.64,250.36 558.66,250.68 559.68,250.99 560.71,251.29 561.74,251.59 562.77,251.89 563.81,252.17 564.84,252.45 565.88,252.72 566.92,252.99 567.97,253.25 569.02,253.50 570.06,253.75 571.12,253.99 572.17,254.23 573.22,254.45 574.28,254.67 575.34,254.89 576.40,255.10 577.46,255.30 578.52,255.49 579.59,255.68 580.66,255.86 581.72,256.04 582.79,256.21 583.86,256.37 584.93,256.53 586.00,256.68 587.08,256.82 588.15,256.96 589.23,257.09 590.30,257.21 591.38,257.33 592.45,257.44 593.53,257.55 594.61,257.65 595.69,257.74 596.76,257.83 597.84,257.91 598.92,257.98 600.00,258.05 601.08,258.11 602.15,258.16 603.23,258.21 604.31,258.26 605.39,258.29 606.46,258.32 607.54,258.35" fill="none" stroke="#a6a6a6" stroke-width="2.4" stroke-linejoin="round"/>
<path d="M475.50,202.87 476.10,204.09 476.70,205.32 477.31,206.54 477.92,207.77 478.55,208.99 479.18,210.22 479.81,211.44 480.46,212.66 481.11,213.88 481.77,215.10 482.44,216.31 483.12,217.52 483.81,218.72 484.50,219.92 485.21,221.11 485.92,222.30 486.64,223.48 487.37,224.65 488.12,225.81 488.87,226.96 489.63,228.11 490.40,229.24 491.18,230.36 491.98,231.47 492.78,232.57 493.60,233.66 494.42,234.73 495.26,235.79 496.11,236.83 496.97,237.86 497.85,238.87 498.73,239.87 499.62,240.85 500.53,241.81 501.44,242.76 502.37,243.69 503.30,244.61 504.25,245.52 505.20,246.40 506.17,247.28 507.14,248.14 508.13,248.98 509.12,249.81 510.12,250.62 511.13,251.42 512.15,252.21 513.18,252.98 514.22,253.73 515.27,254.48 516.32,255.21 517.39,255.92 518.46,256.62 519.54,257.31 520.62,257.99 521.72,258.65 522.82,259.30 523.93,259.94 525.05,260.56 526.18,261.17 527.31,261.77 528.45,262.35 529.59,262.93 530.75,263.49 531.91,264.04 533.07,264.57 534.24,265.10 535.42,265.61 536.61,266.12 537.80,266.61 538.99,267.09 540.20,267.56 541.41,268.02 542.62,268.46 543.84,268.90 545.06,269.33 546.29,269.74 547.53,270.15 548.77,270.54 550.01,270.93 551.26,271.30 552.52,271.67 553.77,272.02 555.04,272.37 556.30,272.71 557.58,273.04 558.85,273.35 560.13,273.66 561.41,273.97 562.70,274.26 563.99,274.54 565.29,274.82 566.58,275.08 567.89,275.34 569.19,275.59 570.50,275.84 571.81,276.07 573.12,276.30 574.44,276.52 575.75,276.73" fill="none" stroke="#c4c4c4" stroke-width="1.8" stroke-linejoin="round"/>
<path d="M428.75,105.12 429.13,106.36 429.51,107.59 429.89,108.83 430.28,110.07 430.67,111.30 431.06,112.54 431.45,113.77 431.85,115.01 432.25,116.24 432.65,117.48 433.05,118.71 433.46,119.95 433.87,121.18 434.28,122.42 434.69,123.65 435.11,124.88 435.53,126.12 435.95,127.35 436.37,128.58 436.80,129.82 437.23,131.05 437.66,132.28 438.10,133.51 438.54,134.74 438.98,135.97 439.43,137.20 439.88,138.43 440.33,139.66 440.78,140.89 441.24,142.12 441.70,143.35 442.16,144.58 442.63,145.81 443.10,147.04 443.58,148.27 444.05,149.49 444.54,150.72 445.02,151.95 445.51,153.18 446.00,154.40 446.49,155.63 446.99,156.85 447.50,158.08 448.00,159.30 448.51,160.53 449.03,161.75 449.54,162.97 450.07,164.20 450.59,165.42 451.12,166.64 451.65,167.87 452.19,169.09 452.73,170.31 453.28,171.53 453.83,172.75 454.38,173.97 454.94,175.19 455.51,176.40 456.08,177.62 456.65,178.83 457.23,180.04 457.81,181.25 458.40,182.45 459.00,183.66 459.60,184.86 460.20,186.06 460.81,187.25 461.43,188.44 462.05,189.63 462.68,190.81 463.31,191.99 463.95,193.17 464.60,194.34 465.25,195.51 465.91,196.67 466.57,197.83 467.24,198.99 467.92,200.13 468.61,201.28 469.30,202.42 469.99,203.55 470.70,204.67 471.41,205.79 472.13,206.91 472.86,208.02 473.59,209.12 474.33,210.21 475.08,211.30 475.84,212.38 476.60,213.45" fill="none" stroke="#c8c8c8" stroke-width="1.6" stroke-linejoin="round"/>
<path d="M431.20,49.30 431.21,49.59 431.23,49.89 431.25,50.19 431.27,50.50 431.30,50.81 431.33,51.13 431.36,51.44 431.39,51.77 431.43,52.09 431.47,52.42 431.51,52.75 431.55,53.09 431.60,53.42 431.65,53.76 431.70,54.11 431.76,54.46 431.82,54.80 431.88,55.16 431.94,55.51 432.01,55.87 432.08,56.22 432.15,56.58 432.23,56.95 432.31,57.31 432.39,57.68 432.47,58.04 432.56,58.41 432.65,58.78 432.74,59.15 432.83,59.53 432.93,59.90 433.03,60.27 433.13,60.65 433.23,61.02 433.34,61.40 433.45,61.78 433.57,62.15 433.68,62.53 433.80,62.91 433.92,63.28 434.04,63.66 434.17,64.04 434.30,64.42 434.43,64.79 434.56,65.17 434.70,65.54 434.84,65.91 434.98,66.29 435.12,66.66 435.27,67.03 435.42,67.40 435.57,67.77 435.73,68.13 435.88,68.50 436.04,68.86 436.21,69.22 436.37,69.58 436.54,69.94 436.71,70.29 436.88,70.65 437.06,71.00 437.23,71.34 437.41,71.69 437.60,72.03 437.78,72.37 437.97,72.71 438.16,73.04 438.35,73.37 438.55,73.70 438.74,74.02 438.94,74.34 439.15,74.66 439.35,74.97 439.56,75.28 439.77,75.58 439.98,75.88 440.19,76.18 440.41,76.47 440.63,76.76 440.85,77.04 441.08,77.32 441.30,77.59 441.53,77.86 441.76,78.13 442.00,78.38 442.23,78.64 442.47,78.88 442.71,79.13 442.96,79.36 443.20,79.59 443.45,79.82 443.70,80.04 443.95,80.25 444.21,80.46 444.46,80.66 444.72,80.85 444.99,81.04 445.25,81.22 445.52,81.40 445.79,81.56 446.06,81.72 446.33,81.88 446.61,82.02 446.89,82.16 447.17,82.30 447.45,82.42 447.73,82.54 448.02,82.64 448.31,82.75 448.60,82.84 448.90,82.92 449.19,83.00 449.49,83.07 449.79,83.13 450.09,83.18 450.40,83.22 450.71,83.26 451.01,83.28 451.33,83.30 451.64,83.31 451.95,83.31 452.27,83.31 452.59,83.29 452.91,83.27 453.23,83.25 453.55,83.21 453.88,83.17 454.20,83.12 454.53,83.07 454.86,83.01 455.19,82.94 455.51,82.87 455.85,82.79 456.18,82.71 456.51,82.62 456.84,82.52 457.17,82.42 457.51,82.32 457.84,82.21 458.18,82.10 458.51,81.98 458.84,81.85 459.18,81.73 459.51,81.60 459.85,81.46 460.18,81.33 460.52,81.18 460.85,81.04 461.18,80.89 461.52,80.74 461.85,80.59 462.18,80.43 462.51,80.27 462.84,80.11 463.17,79.95 463.50,79.79 463.83,79.62 464.15,79.45 464.48,79.28 464.80,79.11 465.13,78.94 465.45,78.76 465.77,78.59 466.09,78.41 466.41,78.23 466.73,78.05 467.05,77.87 467.36,77.69 467.68,77.50 467.99,77.32 468.31,77.13 468.62,76.94 468.93,76.75 469.24,76.56 469.55,76.36 469.86,76.17 470.17,75.98 470.48,75.78 470.78,75.58 471.09,75.38 471.39,75.18 471.70,74.98 472.00,74.78 472.31,74.57 472.61,74.37 472.91,74.16 473.21,73.96 473.51,73.75 473.81,73.54 474.11,73.33 474.40,73.12 474.70,72.91 475.00,72.70 475.29,72.48 475.59,72.27 475.88,72.06 476.18,71.84 476.47,71.62 476.76,71.41 477.06,71.19 477.35,70.97 477.64,70.75 477.93,70.53 478.22,70.31 478.51,70.09 478.80,69.87 479.09,69.64 479.38,69.42 479.66,69.20 479.95,68.97 480.24,68.75 480.52,68.52 480.81,68.30 481.09,68.07 481.38,67.85 481.66,67.62 481.95,67.39 482.23,67.16 482.51,66.94 482.80,66.71 483.08,66.48 483.36,66.25 483.64,66.02 483.93,65.79 484.21,65.56 484.49,65.33 484.77,65.11 485.05,64.88 485.33,64.65 485.61,64.42 485.89,64.19 486.17,63.96 486.45,63.73 486.73,63.50 487.01,63.27 487.29,63.04 487.57,62.81 487.85,62.58 488.12,62.35 488.40,62.12 488.68,61.89 488.96,61.66 489.24,61.43 489.52,61.20 489.79,60.98 490.07,60.75 490.35,60.52 490.63,60.29 490.91,60.07 491.18,59.84 491.46,59.61 491.74,59.39 492.02,59.16 492.30,58.94 492.57,58.71 492.85,58.49 493.13,58.26 493.41,58.04 493.69,57.82 493.96,57.60 494.24,57.38 494.52,57.16 494.80,56.94 495.08,56.72 495.36,56.50 495.64,56.28 495.92,56.06 496.20,55.85 496.48,55.63 496.76,55.42 497.04,55.20 497.32,54.99 497.60,54.78 497.88,54.57 498.16,54.36 498.44,54.15 498.73,53.94 499.01,53.73 499.29,53.53 499.57,53.32 499.86,53.12 500.14,52.91 500.42,52.71 500.71,52.51 500.99,52.31 501.28,52.11 501.56,51.91 501.85,51.72 502.14,51.52 502.42,51.33 502.71,51.14 503.00,50.95 503.29,50.76 503.58,50.57 503.86,50.38 504.15,50.19 504.45,50.01 504.74,49.83 505.03,49.65" fill="none" stroke="#a9a9a9" stroke-width="3.8" stroke-linejoin="round"/>
<path d="M425.94,49.38 426.02,49.66 426.11,49.95 426.20,50.26 426.28,50.57 426.36,50.90 426.45,51.24 426.53,51.59 426.61,51.95 426.69,52.32 426.77,52.70 426.85,53.08 426.93,53.48 427.01,53.89 427.09,54.30 427.17,54.73 427.24,55.16 427.32,55.60 427.40,56.05 427.48,56.50 427.56,56.97 427.64,57.43 427.72,57.91 427.80,58.39 427.89,58.88 427.97,59.37 428.05,59.87 428.14,60.38 428.23,60.89 428.31,61.40 428.40,61.92 428.49,62.45 428.59,62.97 428.68,63.50 428.78,64.04 428.87,64.58 428.97,65.12 429.07,65.66 429.18,66.20 429.28,66.75 429.39,67.30 429.50,67.85 429.62,68.41 429.73,68.96 429.85,69.51 429.98,70.07 430.10,70.62 430.23,71.18 430.36,71.73 430.49,72.29 430.63,72.84 430.77,73.39 430.92,73.94 431.06,74.49 431.22,75.04 431.37,75.59 431.53,76.13 431.70,76.67 431.86,77.21 432.04,77.74 432.21,78.27 432.39,78.80 432.58,79.32 432.77,79.84 432.96,80.36 433.16,80.87 433.37,81.37 433.58,81.87 433.79,82.36 434.01,82.85 434.23,83.33 434.46,83.81 434.70,84.28 434.94,84.74 435.19,85.20 435.44,85.64 435.70,86.08 435.96,86.51 436.23,86.94 436.51,87.35 436.79,87.76 437.08,88.16 437.38,88.55 437.68,88.92 437.99,89.29 438.31,89.65 438.63,90.00 438.96,90.34 439.30,90.67 439.64,90.98 439.99,91.29 440.35,91.58 440.71,91.86 441.08,92.13 441.46,92.39 441.84,92.64 442.23,92.88 442.63,93.11 443.03,93.32 443.43,93.53 443.84,93.72 444.26,93.90 444.68,94.08 445.10,94.24 445.52,94.39 445.95,94.53 446.39,94.66 446.82,94.78 447.26,94.89 447.71,94.99 448.15,95.08 448.60,95.16 449.05,95.22 449.50,95.28 449.95,95.33 450.40,95.37 450.86,95.39 451.31,95.41 451.77,95.42 452.22,95.42 452.68,95.40 453.14,95.38 453.59,95.35 454.05,95.31 454.50,95.26 454.96,95.19 455.41,95.12 455.86,95.04 456.31,94.96 456.76,94.86 457.20,94.75 457.65,94.64 458.10,94.51 458.54,94.38 458.98,94.24 459.42,94.09 459.87,93.94 460.31,93.77 460.74,93.60 461.18,93.42 461.62,93.24 462.06,93.05 462.49,92.85 462.93,92.65 463.36,92.44 463.79,92.22 464.22,92.00 464.65,91.77 465.08,91.53 465.51,91.29 465.94,91.05 466.37,90.80 466.79,90.55 467.22,90.29 467.64,90.02 468.07,89.76 468.49,89.49 468.91,89.21 469.34,88.93 469.76,88.65 470.18,88.36 470.60,88.07 471.02,87.78 471.43,87.49 471.85,87.19 472.27,86.89 472.68,86.59 473.10,86.28 473.52,85.97 473.93,85.67 474.34,85.36 474.76,85.05 475.17,84.73 475.58,84.42 475.99,84.11 476.41,83.79 476.82,83.48 477.23,83.16 477.64,82.84 478.05,82.53 478.45,82.21 478.86,81.90 479.27,81.58 479.68,81.27 480.09,80.96 480.49,80.65 480.90,80.34 481.30,80.03 481.71,79.72 482.12,79.42 482.52,79.11 482.93,78.81 483.33,78.51 483.73,78.21 484.14,77.91 484.54,77.62 484.95,77.33 485.35,77.03 485.75,76.74 486.15,76.45 486.56,76.16 486.96,75.88 487.36,75.59 487.76,75.31 488.16,75.02 488.56,74.74 488.97,74.46 489.37,74.18 489.77,73.90 490.17,73.63 490.57,73.35 490.97,73.07 491.37,72.80 491.77,72.53 492.17,72.25 492.57,71.98 492.97,71.71 493.37,71.44 493.77,71.17 494.17,70.91 494.57,70.64 494.97,70.37 495.36,70.11 495.76,69.84 496.16,69.58 496.56,69.31 496.96,69.05 497.36,68.79 497.76,68.52 498.16,68.26 498.56,68.00 498.96,67.74 499.35,67.48 499.75,67.22 500.15,66.96 500.55,66.70 500.95,66.44 501.35,66.18 501.75,65.92 502.15,65.66 502.55,65.40 502.95,65.14 503.35,64.89 503.75,64.63 504.15,64.37 504.55,64.11 504.95,63.85 505.35,63.59 505.75,63.33 506.15,63.07 506.55,62.82 506.95,62.56 507.35,62.30 507.76,62.04 508.16,61.78 508.56,61.51 508.96,61.25 509.36,60.99 509.77,60.73 510.17,60.47 510.57,60.21 510.98,59.94 511.38,59.68 511.78,59.41 512.19,59.15 512.59,58.88 513.00,58.62 513.40,58.35 513.81,58.08 514.21,57.81 514.62,57.54 515.03,57.27 515.43,57.00 515.84,56.73 516.25,56.46 516.66,56.18 517.06,55.91 517.47,55.63 517.88,55.35 518.29,55.08 518.70,54.80 519.11,54.52 519.52,54.23 519.94,53.95 520.35,53.67 520.76,53.38 521.17,53.09 521.59,52.81 522.00,52.52 522.41,52.23 522.83,51.93 523.24,51.64 523.66,51.34 524.08,51.05 524.49,50.75 524.91,50.45 525.33,50.15 525.75,49.84 526.17,49.54 526.58,49.23" fill="none" stroke="#a9a9a9" stroke-width="3.8" stroke-linejoin="round"/>
<path d="M408.93,266.26 409.09,267.21 409.26,268.16 409.42,269.10 409.58,270.05 409.74,271.00 409.90,271.94 410.06,272.89 410.22,273.83 410.39,274.77 410.55,275.71 410.71,276.65 410.87,277.59 411.03,278.53 411.19,279.46 411.35,280.40 411.51,281.34 411.67,282.27 411.83,283.20 411.99,284.14 412.15,285.07 412.31,286.00 412.46,286.93 412.62,287.87 412.78,288.80 412.94,289.73 413.10,290.66 413.26,291.59 413.42,292.51 413.58,293.44 413.74,294.37 413.90,295.30 414.06,296.23 414.22,297.15 414.38,298.08 414.54,299.01 414.70,299.94 414.86,300.86 415.02,301.79 415.18,302.72 415.34,303.65 415.51,304.57 415.67,305.50 415.83,306.43 415.99,307.35 416.15,308.28 416.32,309.21 416.48,310.14 416.64,311.07 416.81,312.00 416.97,312.93 417.13,313.86 417.30,314.79 417.46,315.72 417.63,316.65 417.79,317.58 417.96,318.51 418.13,319.44 418.29,320.38 418.46,321.31 418.63,322.25 418.80,323.18 418.97,324.12 419.13,325.06 419.30,325.99 419.48,326.93 419.65,327.87 419.82,328.81 419.99,329.75 420.17,330.69 420.35,331.63 420.53,332.57 420.72,333.51 420.90,334.45 421.10,335.39 421.29,336.33 421.50,337.27 421.70,338.20 421.91,339.14 422.13,340.07 422.36,341.00 422.59,341.93 422.82,342.85 423.07,343.78 423.32,344.70 423.58,345.62 423.85,346.53 424.13,347.45 424.42,348.36 424.71,349.26 425.02,350.17 425.34,351.07 425.66,351.96 426.00,352.85 426.35,353.74 426.71,354.62 427.09,355.50 427.47,356.38 427.87,357.25 428.29,358.11 428.71,358.97 429.15,359.82 429.61,360.67 430.08,361.51 430.56,362.34 431.06,363.17 431.58,364.00 432.11,364.81 432.66,365.62 433.23,366.42 433.81,367.20 434.41,367.97 435.03,368.71 435.66,369.44 436.31,370.14 436.98,370.81 437.67,371.46 438.38,372.07 439.11,372.65 439.85,373.18 440.62,373.68 441.40,374.14 442.20,374.55 443.03,374.91 443.87,375.22 444.73,375.48 445.61,375.69 446.50,375.85 447.40,375.97 448.31,376.04 449.23,376.07 450.16,376.06 451.08,376.01 452.01,375.92 452.94,375.79 453.87,375.63 454.78,375.44 455.70,375.21 456.60,374.96 457.49,374.67 458.36,374.36 459.22,374.02 460.07,373.65 460.91,373.26 461.73,372.85 462.53,372.41 463.33,371.95 464.11,371.47 464.88,370.97 465.65,370.45 466.40,369.91 467.14,369.35 467.87,368.78 468.59,368.18 469.30,367.58 470.01,366.95 470.70,366.32 471.39,365.67 472.08,365.00 472.75,364.33 473.42,363.65 474.09,362.95 474.75,362.25 475.40,361.53 476.05,360.81 476.70,360.09 477.34,359.36 477.98,358.62 478.62,357.88 479.26,357.13 479.89,356.38 480.52,355.63 481.16,354.88 481.79,354.13 482.42,353.38 483.05,352.63 483.69,351.89 484.32,351.14 484.96,350.40 485.60,349.67 486.24,348.94 486.89,348.21 487.53,347.49 488.18,346.77 488.83,346.05 489.48,345.34 490.14,344.63 490.79,343.93 491.45,343.23 492.11,342.53 492.78,341.84 493.44,341.15 494.11,340.46 494.78,339.78 495.45,339.10 496.12,338.43 496.80,337.75 497.47,337.09 498.15,336.42 498.84,335.76 499.52,335.11 500.21,334.46 500.90,333.81 501.59,333.16 502.28,332.52 502.98,331.88 503.67,331.25 504.37,330.61 505.08,329.99 505.78,329.36 506.49,328.74 507.20,328.12 507.91,327.51 508.62,326.90 509.34,326.29 510.06,325.69 510.78,325.09 511.50,324.49 512.23,323.90 512.96,323.31 513.69,322.72 514.42,322.14 515.16,321.56 515.89,320.98 516.63,320.41 517.38,319.84 518.12,319.27 518.87,318.71 519.62,318.15 520.37,317.59 521.13,317.04 521.88,316.48 522.64,315.94 523.41,315.39 524.17,314.85 524.94,314.31 525.71,313.78 526.48,313.24 527.26,312.71 528.04,312.19 528.82,311.67 529.60,311.15 530.39,310.63 531.17,310.11 531.96,309.60 532.76,309.10 533.55,308.59 534.35,308.09 535.15,307.59 535.96,307.09 536.77,306.60 537.58,306.11 538.39,305.62 539.20,305.14 540.02,304.66 540.84,304.18 541.66,303.70 542.49,303.23 543.32,302.76 544.15,302.29 544.98,301.82 545.82,301.36 546.66,300.90 547.50,300.45 548.35,299.99 549.20,299.54 550.05,299.09 550.90,298.65 551.76,298.21 552.62,297.78 553.48,297.35 554.34,296.92 555.21,296.51 556.08,296.09 556.95,295.69 557.82,295.29 558.70,294.89 559.58,294.50 560.46,294.12 561.34,293.75 562.23,293.39 563.12,293.03 564.01,292.68 564.90,292.34 565.80,292.01 566.69,291.69 567.59,291.38 568.49,291.08 569.40,290.78 570.30,290.50 571.21,290.23 572.12,289.97 573.03,289.73 573.94,289.49 574.86,289.26 575.78,289.05 576.70,288.85 577.62,288.66 578.54,288.49 579.46,288.32 580.39,288.16 581.31,288.01 582.24,287.87 583.17,287.74 584.10,287.62 585.04,287.50 585.97,287.38 586.90,287.27 587.84,287.17 588.77,287.06 589.71,286.97 590.65,286.87 591.59,286.77 592.52,286.68 593.46,286.59 594.40,286.50 595.34,286.41 596.28,286.32 597.23,286.24 598.17,286.16 599.11,286.08 600.05,286.00 601.00,285.92 601.94,285.84 602.88,285.77 603.83,285.69 604.77,285.62 605.72,285.55 606.67,285.48 607.61,285.41 608.56,285.35 609.51,285.28 610.45,285.22 611.40,285.15 612.35,285.09 613.30,285.03 614.25,284.97 615.20,284.92 616.15,284.86 617.09,284.80 618.04,284.75 618.99,284.70 619.95,284.64 620.90,284.59 621.85,284.54 622.80,284.49 623.75,284.45 624.70,284.40 625.65,284.35 626.60,284.31 627.55,284.26 628.50,284.22 629.46,284.18 630.41,284.13 631.36,284.09 632.31,284.05 633.26,284.01 634.21,283.97 635.17,283.93 636.12,283.90 637.07,283.86 638.02,283.82 638.97,283.79 639.92,283.75 640.88,283.71 641.83,283.68 642.78,283.65 643.73,283.61 644.68,283.58 645.63,283.55 646.58,283.51 647.53,283.48 648.48,283.45 649.43,283.42 650.38,283.38 651.33,283.35 652.28,283.32 653.23,283.29 654.18,283.26 655.12,283.23 656.07,283.20 657.02,283.17 657.97,283.14 658.91,283.11 659.86,283.07 660.80,283.04 661.75,283.01 662.69,282.98 663.64,282.95 664.58,282.92 665.53,282.89 666.47,282.86 667.41,282.82 668.36,282.79 669.30,282.76 670.24,282.73 671.18,282.69 672.12,282.66 673.06,282.63 674.00,282.59" fill="none" stroke="#000" stroke-width="4.3" stroke-linejoin="round"/>
<path d="M413.58,50.03 413.94,51.30 414.30,52.58 414.66,53.86 415.01,55.14 415.37,56.43 415.72,57.72 416.07,59.01 416.43,60.30 416.78,61.59 417.12,62.89 417.47,64.19 417.82,65.49 418.17,66.79 418.51,68.09 418.86,69.40 419.20,70.70 419.55,72.01 419.89,73.32 420.23,74.64 420.57,75.95 420.91,77.26 421.26,78.58 421.60,79.90 421.94,81.22 422.28,82.54 422.62,83.86 422.96,85.18 423.30,86.51 423.64,87.83 423.98,89.16 424.32,90.49 424.67,91.81 425.01,93.14 425.35,94.47 425.69,95.80 426.04,97.14 426.38,98.47 426.72,99.80 427.07,101.14 427.41,102.47 427.76,103.81 428.11,105.14 428.46,106.48 428.81,107.81 429.16,109.15 429.51,110.49 429.86,111.83 430.21,113.16 430.57,114.50 430.93,115.84 431.28,117.18 431.64,118.52 432.00,119.85 432.37,121.19 432.73,122.53 433.10,123.87 433.47,125.21 433.83,126.54 434.21,127.88 434.58,129.22 434.96,130.56 435.33,131.89 435.71,133.23 436.09,134.56 436.48,135.90 436.86,137.23 437.25,138.57 437.64,139.90 438.04,141.23 438.43,142.56 438.83,143.90 439.23,145.23 439.64,146.55 440.05,147.88 440.46,149.21 440.87,150.54 441.28,151.86 441.70,153.18 442.12,154.51 442.55,155.83 442.98,157.15 443.41,158.47 443.84,159.79 444.28,161.10 444.72,162.42 445.17,163.73 445.62,165.04 446.07,166.35 446.53,167.66 446.99,168.97 447.45,170.27 447.92,171.57 448.39,172.88 448.86,174.18 449.34,175.47 449.83,176.77 450.31,178.06 450.81,179.35 451.30,180.64 451.80,181.93 452.31,183.22 452.82,184.50 453.33,185.78 453.85,187.06 454.37,188.33 454.90,189.61 455.43,190.88 455.97,192.15 456.51,193.41 457.06,194.68 457.61,195.94 458.17,197.19 458.73,198.45 459.30,199.70 459.87,200.95 460.45,202.20 461.03,203.44 461.62,204.68 462.22,205.92 462.82,207.15 463.42,208.39 464.03,209.61 464.65,210.84 465.27,212.06 465.90,213.28 466.53,214.50 467.18,215.71 467.82,216.92 468.47,218.12 469.13,219.32 469.80,220.52 470.47,221.71 471.15,222.91 471.83,224.09 472.52,225.28 473.22,226.45 473.92,227.63 474.63,228.80 475.35,229.97 476.07,231.13 476.80,232.29 477.54,233.45 478.28,234.60 479.03,235.75 479.79,236.89 480.56,238.03 481.33,239.16 482.11,240.28 482.90,241.40 483.70,242.51 484.51,243.62 485.32,244.71 486.15,245.79 486.99,246.87 487.83,247.93 488.69,248.98 489.56,250.03 490.44,251.06 491.33,252.07 492.23,253.07 493.15,254.06 494.07,255.04 495.01,255.99 495.97,256.94 496.93,257.86 497.91,258.77 498.91,259.67 499.91,260.54 500.93,261.40 501.97,262.23 503.02,263.05 504.08,263.86 505.15,264.64 506.24,265.41 507.34,266.16 508.45,266.89 509.57,267.61 510.70,268.30 511.85,268.98 513.01,269.64 514.18,270.28 515.35,270.91 516.54,271.52 517.74,272.11 518.96,272.68 520.18,273.23 521.41,273.77 522.65,274.29 523.90,274.79 525.15,275.27 526.42,275.74 527.70,276.18 528.98,276.61 530.28,277.03 531.58,277.42 532.89,277.80 534.20,278.16 535.53,278.50 536.86,278.83 538.20,279.13 539.54,279.43 540.89,279.70 542.25,279.96 543.61,280.21 544.98,280.44 546.35,280.66 547.73,280.86 549.11,281.05 550.50,281.23 551.89,281.39 553.28,281.55 554.68,281.69 556.08,281.82 557.49,281.94 558.89,282.05 560.30,282.14 561.71,282.23 563.12,282.31 564.53,282.39 565.95,282.45 567.36,282.51 568.78,282.55 570.19,282.60 571.60,282.63 573.02,282.66 574.43,282.68 575.84,282.70 577.26,282.71 578.67,282.72 580.07,282.72 581.48,282.72 582.89,282.72 584.29,282.71 585.70,282.69 587.10,282.67 588.50,282.65 589.91,282.63 591.31,282.60 592.70,282.57 594.10,282.53 595.50,282.50 596.90,282.46 598.29,282.41 599.68,282.37 601.08,282.32 602.47,282.27 603.86,282.22 605.25,282.17 606.64,282.12 608.02,282.06 609.41,282.00 610.80,281.95 612.18,281.89 613.56,281.83 614.95,281.77 616.33,281.71 617.71,281.66 619.09,281.60 620.47,281.54 621.85,281.48 623.22,281.42 624.60,281.37 625.97,281.31 627.35,281.25 628.72,281.20 630.09,281.15 631.46,281.10 632.83,281.05 634.20,281.00 635.57,280.96 636.94,280.92 638.31,280.88 639.67,280.84 641.04,280.81 642.40,280.78 643.77,280.75 645.13,280.73 646.49,280.71 647.85,280.69 649.21,280.68 650.57,280.67 651.93,280.66 653.29,280.66 654.65,280.67 656.00,280.68 657.36,280.69 658.71,280.71 660.07,280.73 661.42,280.76 662.77,280.80 664.12,280.84 665.47,280.89 666.82,280.94 668.17,281.00 669.52,281.06 670.87,281.14 672.22,281.22 673.56,281.30 674.91,281.40" fill="none" stroke="#f48484" stroke-width="3" stroke-linejoin="round"/>
<path d="M440.17,49.95 440.39,50.95 440.60,51.96 440.81,52.97 441.03,53.98 441.24,54.99 441.45,56.01 441.66,57.03 441.87,58.04 442.08,59.06 442.29,60.09 442.50,61.11 442.71,62.14 442.92,63.16 443.13,64.19 443.34,65.22 443.55,66.25 443.76,67.29 443.96,68.32 444.17,69.36 444.38,70.39 444.59,71.43 444.80,72.47 445.01,73.51 445.22,74.56 445.42,75.60 445.63,76.64 445.84,77.69 446.05,78.74 446.27,79.78 446.48,80.83 446.69,81.88 446.90,82.93 447.11,83.99 447.33,85.04 447.54,86.09 447.76,87.15 447.97,88.20 448.19,89.26 448.41,90.31 448.63,91.37 448.85,92.43 449.07,93.49 449.29,94.55 449.51,95.61 449.74,96.67 449.96,97.73 450.19,98.79 450.42,99.85 450.64,100.91 450.87,101.97 451.11,103.03 451.34,104.10 451.58,105.16 451.81,106.22 452.05,107.29 452.29,108.35 452.53,109.41 452.77,110.48 453.02,111.54 453.27,112.60 453.52,113.67 453.77,114.73 454.02,115.79 454.27,116.86 454.53,117.92 454.79,118.98 455.05,120.04 455.31,121.11 455.58,122.17 455.85,123.23 456.12,124.29 456.39,125.35 456.66,126.41 456.94,127.47 457.22,128.53 457.50,129.59 457.79,130.65 458.08,131.70 458.37,132.76 458.66,133.82 458.95,134.87 459.25,135.92 459.55,136.98 459.86,138.03 460.17,139.08 460.48,140.13 460.79,141.18 461.11,142.23 461.43,143.28 461.75,144.33 462.07,145.37 462.40,146.42 462.74,147.46 463.07,148.50 463.41,149.55 463.75,150.59 464.10,151.62 464.45,152.66 464.80,153.70 465.16,154.73 465.52,155.76 465.88,156.80 466.25,157.83 466.62,158.86 467.00,159.88 467.38,160.91 467.76,161.93 468.15,162.95 468.54,163.97 468.94,164.99 469.34,166.01 469.74,167.02 470.15,168.04 470.56,169.05 470.98,170.06 471.40,171.07 471.82,172.07 472.25,173.07 472.69,174.07 473.13,175.07 473.57,176.07 474.02,177.06 474.47,178.05 474.93,179.03 475.39,180.02 475.86,181.00 476.33,181.98 476.80,182.95 477.28,183.92 477.77,184.89 478.26,185.85 478.76,186.81 479.26,187.77 479.77,188.73 480.28,189.68 480.80,190.62 481.32,191.56 481.84,192.50 482.38,193.43 482.92,194.36 483.46,195.29 484.01,196.21 484.56,197.13 485.12,198.04 485.69,198.94 486.26,199.85 486.84,200.74 487.42,201.64 488.01,202.52 488.61,203.41 489.21,204.28 489.81,205.16 490.42,206.02 491.04,206.88 491.67,207.74 492.30,208.59 492.94,209.43 493.58,210.27 494.23,211.10 494.88,211.93 495.55,212.75 496.21,213.57 496.89,214.38 497.57,215.18 498.26,215.97 498.95,216.76 499.65,217.54 500.36,218.32 501.07,219.09 501.80,219.85 502.52,220.61 503.26,221.36 504.00,222.10 504.75,222.83 505.50,223.56 506.27,224.28 507.03,224.99 507.81,225.70 508.59,226.39 509.38,227.08 510.18,227.77 510.98,228.44 511.79,229.11 512.61,229.77 513.43,230.43 514.26,231.07 515.09,231.71 515.93,232.34 516.78,232.97 517.63,233.59 518.49,234.20 519.36,234.80 520.23,235.40 521.10,235.99 521.99,236.57 522.87,237.14 523.77,237.71 524.66,238.27 525.57,238.82 526.48,239.37 527.39,239.91 528.31,240.44 529.23,240.97 530.16,241.48 531.10,241.99 532.03,242.50 532.98,243.00 533.93,243.49 534.88,243.97 535.84,244.44 536.80,244.91 537.76,245.37 538.73,245.83 539.71,246.28 540.69,246.72 541.67,247.15 542.66,247.58 543.65,248.00 544.64,248.41 545.64,248.82 546.64,249.22 547.65,249.61 548.66,250.00 549.67,250.37 550.69,250.75 551.71,251.11 552.73,251.47 553.76,251.82 554.78,252.17 555.82,252.50 556.85,252.84 557.89,253.16 558.93,253.48 559.97,253.79 561.02,254.09 562.07,254.39 563.12,254.68 564.17,254.96 565.23,255.24 566.29,255.51 567.35,255.78 568.41,256.03 569.48,256.28 570.54,256.53 571.61,256.77 572.68,257.00 573.76,257.22 574.83,257.44 575.91,257.65 576.98,257.85 578.06,258.05 579.14,258.24 580.23,258.43 581.31,258.60 582.39,258.78 583.48,258.94 584.56,259.10 585.65,259.25 586.74,259.40 587.83,259.54 588.92,259.67 590.01,259.80 591.10,259.92 592.19,260.03 593.28,260.14 594.38,260.24 595.47,260.33 596.56,260.42 597.66,260.50 598.75,260.57 599.84,260.64 600.94,260.71 602.03,260.76 603.12,260.81 604.21,260.85 605.31,260.89 606.40,260.92 607.49,260.95 608.58,260.96 609.67,260.98 610.76,260.98 611.85,260.98 612.94,260.97 614.02,260.96 615.11,260.94 616.19,260.92 617.28,260.88 618.36,260.85 619.44,260.80 620.52,260.75 621.60,260.70 622.68,260.63 623.75,260.57 624.82,260.49 625.90,260.41 626.97,260.32 628.03,260.23 629.10,260.13 630.16,260.03" fill="none" stroke="#84acff" stroke-width="3" stroke-linejoin="round"/>
<path d="M421.62,49.55 421.98,50.79 422.33,52.03 422.68,53.27 423.04,54.51 423.40,55.75 423.76,56.99 424.13,58.24 424.49,59.48 424.86,60.72 425.23,61.96 425.60,63.21 425.97,64.45 426.35,65.69 426.72,66.94 427.10,68.18 427.48,69.43 427.87,70.67 428.25,71.91 428.64,73.16 429.02,74.40 429.41,75.64 429.80,76.89 430.20,78.13 430.59,79.38 430.99,80.62 431.39,81.86 431.79,83.11 432.19,84.35 432.59,85.59 433.00,86.84 433.41,88.08 433.81,89.32 434.22,90.56 434.64,91.81 435.05,93.05 435.46,94.29 435.88,95.53 436.30,96.77 436.72,98.01 437.14,99.25 437.56,100.49 437.99,101.73 438.41,102.97 438.84,104.20 439.27,105.44 439.70,106.68 440.13,107.91 440.56,109.15 440.99,110.38 441.43,111.62 441.87,112.85 442.30,114.09 442.74,115.32 443.18,116.55 443.62,117.78 444.07,119.01 444.51,120.24 444.96,121.47 445.41,122.70 445.85,123.92 446.30,125.15 446.75,126.37 447.20,127.60 447.66,128.82 448.11,130.04 448.57,131.27 449.02,132.49 449.48,133.70 449.94,134.92 450.40,136.14 450.86,137.36 451.32,138.57 451.78,139.79 452.25,141.00 452.71,142.21 453.18,143.42 453.64,144.63 454.11,145.84 454.58,147.04 455.05,148.25 455.52,149.45 455.99,150.66 456.46,151.86 456.94,153.06 457.41,154.26 457.88,155.45 458.36,156.65 458.84,157.84 459.31,159.04 459.79,160.23 460.27,161.42 460.75,162.60 461.23,163.79 461.71,164.98 462.19,166.16 462.68,167.34 463.16,168.52 463.64,169.70 464.13,170.88 464.62,172.06 465.11,173.24 465.60,174.41 466.09,175.59 466.59,176.77 467.09,177.94 467.59,179.12 468.09,180.30 468.60,181.47 469.11,182.65 469.62,183.83 470.14,185.01 470.66,186.19 471.18,187.38 471.71,188.56 472.24,189.75 472.78,190.93 473.32,192.12 473.87,193.32 474.42,194.51 474.98,195.71 475.54,196.91 476.11,198.11 476.68,199.32 477.26,200.52 477.84,201.74 478.43,202.95 479.03,204.16 479.63,205.38 480.24,206.59 480.86,207.81 481.48,209.02 482.12,210.23 482.75,211.44 483.40,212.65 484.05,213.85 484.71,215.05 485.38,216.24 486.06,217.43 486.75,218.61 487.44,219.78 488.14,220.95 488.85,222.11 489.57,223.26 490.30,224.40 491.04,225.53 491.78,226.65 492.54,227.76 493.31,228.86 494.08,229.95 494.87,231.02 495.67,232.08 496.47,233.13 497.29,234.16 498.12,235.18 498.95,236.18 499.80,237.16 500.66,238.13 501.53,239.08 502.41,240.02 503.30,240.94 504.20,241.85 505.11,242.75 506.03,243.62 506.96,244.49 507.90,245.34 508.85,246.17 509.80,246.99 510.77,247.80 511.75,248.59 512.73,249.37 513.73,250.13 514.73,250.89 515.74,251.62 516.76,252.35 517.79,253.06 518.82,253.76 519.87,254.44 520.92,255.11 521.98,255.77 523.05,256.42 524.13,257.05 525.21,257.67 526.30,258.28 527.40,258.88 528.51,259.46 529.62,260.03 530.74,260.59 531.87,261.14 533.01,261.68 534.15,262.21 535.30,262.72 536.45,263.23 537.61,263.72 538.78,264.20 539.95,264.67 541.13,265.13 542.32,265.58 543.51,266.02 544.70,266.45 545.91,266.87 547.11,267.27 548.33,267.67 549.55,268.06 550.77,268.44 552.00,268.81 553.23,269.17 554.47,269.52 555.72,269.86 556.96,270.19 558.22,270.52 559.47,270.83 560.73,271.13 562.00,271.43 563.27,271.72 564.54,272.00 565.82,272.27 567.10,272.54 568.38,272.79 569.67,273.04 570.96,273.28 572.26,273.51 573.56,273.74 574.86,273.95 576.16,274.16 577.47,274.37 578.78,274.56 580.09,274.75 581.40,274.94 582.72,275.11 584.04,275.28 585.36,275.44 586.68,275.60 588.01,275.75 589.33,275.90 590.66,276.03 591.99,276.17 593.32,276.29 594.65,276.42 595.99,276.53 597.32,276.64 598.66,276.75 599.99,276.85 601.33,276.95 602.67,277.04 604.01,277.12 605.35,277.21 606.69,277.28 608.03,277.36 609.37,277.43 610.71,277.49 612.05,277.55 613.39,277.61 614.72,277.66 616.06,277.71 617.40,277.76 618.74,277.80 620.07,277.84 621.41,277.88 622.74,277.92 624.08,277.95 625.41,277.98 626.74,278.00 628.07,278.03 629.40,278.05 630.72,278.07 632.05,278.08 633.37,278.10 634.69,278.11 636.01,278.12 637.32,278.13 638.64,278.14 639.95,278.15 641.26,278.16 642.56,278.16 643.86,278.17 645.16,278.17 646.46,278.17 647.75,278.17 649.04,278.18 650.33,278.18 651.61,278.18 652.89,278.18 654.17,278.18 655.44,278.18 656.71,278.18 657.97,278.18 659.23,278.19 660.49,278.19 661.74,278.19 662.99,278.20 664.23,278.20 665.46,278.21 666.70,278.22 667.92,278.23 669.15,278.24 670.36,278.25 671.57,278.27 672.78,278.28 673.98,278.30" fill="none" stroke="#ff0000" stroke-width="3" stroke-linejoin="round"/>
<path d="M416.15,49.88 416.47,51.12 416.79,52.36 417.11,53.60 417.43,54.85 417.75,56.09 418.08,57.33 418.40,58.57 418.73,59.81 419.05,61.05 419.38,62.29 419.71,63.53 420.03,64.77 420.36,66.01 420.69,67.25 421.02,68.49 421.36,69.73 421.69,70.97 422.02,72.21 422.36,73.45 422.70,74.69 423.03,75.93 423.37,77.17 423.71,78.41 424.06,79.64 424.40,80.88 424.74,82.12 425.09,83.36 425.44,84.59 425.79,85.83 426.14,87.07 426.49,88.30 426.84,89.54 427.20,90.78 427.56,92.01 427.92,93.25 428.28,94.48 428.64,95.72 429.00,96.95 429.37,98.19 429.74,99.42 430.11,100.66 430.48,101.89 430.86,103.12 431.23,104.36 431.61,105.59 431.99,106.82 432.38,108.06 432.76,109.29 433.15,110.52 433.54,111.75 433.93,112.98 434.33,114.21 434.72,115.44 435.12,116.67 435.52,117.90 435.93,119.13 436.33,120.36 436.74,121.59 437.16,122.82 437.57,124.05 437.99,125.28 438.41,126.51 438.83,127.73 439.26,128.96 439.68,130.19 440.12,131.41 440.55,132.64 440.99,133.87 441.43,135.09 441.87,136.32 442.32,137.54 442.77,138.77 443.22,139.99 443.67,141.21 444.13,142.44 444.60,143.66 445.06,144.88 445.53,146.11 446.00,147.33 446.48,148.55 446.95,149.77 447.44,150.99 447.92,152.21 448.41,153.43 448.90,154.65 449.40,155.87 449.90,157.09 450.40,158.31 450.91,159.52 451.42,160.74 451.94,161.96 452.46,163.18 452.98,164.39 453.50,165.61 454.03,166.82 454.57,168.04 455.11,169.25 455.65,170.46 456.20,171.68 456.75,172.89 457.30,174.10 457.86,175.30 458.43,176.51 459.00,177.71 459.57,178.91 460.15,180.11 460.74,181.31 461.33,182.50 461.92,183.69 462.52,184.88 463.12,186.06 463.73,187.24 464.35,188.42 464.97,189.59 465.60,190.76 466.23,191.92 466.87,193.08 467.52,194.24 468.17,195.39 468.82,196.53 469.49,197.67 470.16,198.81 470.83,199.94 471.51,201.06 472.20,202.18 472.90,203.29 473.60,204.39 474.31,205.49 475.03,206.58 475.75,207.67 476.48,208.74 477.22,209.82 477.96,210.88 478.71,211.93 479.47,212.98 480.24,214.02 481.02,215.05 481.80,216.08 482.59,217.09 483.39,218.10 484.19,219.10 485.01,220.09 485.83,221.06 486.66,222.03 487.50,222.99 488.35,223.94 489.20,224.88 490.07,225.82 490.94,226.74 491.82,227.64 492.72,228.54 493.62,229.43 494.52,230.31 495.44,231.17 496.37,232.03 497.31,232.87 498.25,233.70 499.21,234.52 500.17,235.33 501.15,236.12 502.13,236.90 503.12,237.67 504.13,238.43 505.14,239.18 506.15,239.92 507.18,240.64 508.22,241.35 509.26,242.05 510.31,242.74 511.37,243.42 512.44,244.08 513.52,244.74 514.60,245.38 515.69,246.01 516.79,246.63 517.90,247.24 519.01,247.83 520.13,248.42 521.26,248.99 522.39,249.55 523.53,250.10 524.68,250.64 525.83,251.17 526.99,251.69 528.16,252.19 529.33,252.69 530.51,253.17 531.69,253.64 532.88,254.10 534.08,254.55 535.28,254.99 536.48,255.42 537.70,255.83 538.91,256.24 540.13,256.63 541.36,257.02 542.59,257.39 543.83,257.75 545.07,258.10 546.31,258.44 547.56,258.77 548.81,259.09 550.07,259.39 551.33,259.69 552.60,259.98 553.87,260.25 555.14,260.51 556.42,260.77 557.69,261.01 558.98,261.24 560.26,261.47 561.55,261.68 562.84,261.88 564.13,262.07 565.43,262.25 566.73,262.42 568.03,262.58 569.33,262.72 570.64,262.86 571.95,262.99 573.26,263.11 574.57,263.22 575.88,263.32 577.19,263.41 578.51,263.49 579.83,263.56 581.15,263.62 582.47,263.68 583.79,263.72 585.11,263.76 586.44,263.79 587.76,263.82 589.09,263.84 590.42,263.85 591.75,263.85 593.08,263.85 594.41,263.84 595.74,263.82 597.07,263.80 598.40,263.78 599.73,263.74 601.06,263.71 602.39,263.67 603.73,263.62 605.06,263.57 606.39,263.52 607.72,263.46 609.05,263.40 610.39,263.33 611.72,263.26 613.05,263.19 614.38,263.11 615.71,263.04 617.04,262.96 618.37,262.88 619.69,262.79 621.02,262.71 622.35,262.62 623.67,262.54 625.00,262.45 626.32,262.36 627.64,262.27 628.96,262.18 630.28,262.09 631.59,262.00 632.91,261.91 634.22,261.83 635.53,261.74 636.84,261.65 638.15,261.57 639.46,261.48 640.76,261.40 642.06,261.33 643.36,261.25 644.66,261.17 645.96,261.10 647.25,261.04 648.54,260.97 649.83,260.91 651.11,260.85 652.39,260.80 653.67,260.75 654.95,260.70 656.22,260.66 657.49,260.63 658.76,260.60 660.02,260.57 661.28,260.55 662.54,260.54 663.79,260.53 665.04,260.53 666.29,260.53 667.53,260.55 668.77,260.56 670.00,260.59 671.24,260.62 672.46,260.66 673.69,260.71 674.90,260.77" fill="none" stroke="#0000f5" stroke-width="3" stroke-linejoin="round"/>
</g>
<path d="M497.3,233.4 L495.8,221.5 L509.9,234.1 Z M497.3,233.4 L498.3,246.7 L483.5,232.6 Z" fill="#f9da8c" stroke="#8a8a8a" stroke-width="0.9" stroke-dasharray="2 1.2"/>
<path d="M405.5,46.5 V383.5 H677.5 V46.5" fill="none" stroke="#222" stroke-width="1.2"/>
<line x1="405" y1="46" x2="678" y2="46" stroke="#777" stroke-width="1.8"/>
<line x1="397" y1="48.5" x2="405" y2="48.5" stroke="#333" stroke-width="1.2"/>
<text x="387.8" y="53.3" font-size="13.5" text-anchor="end" fill="#000">8</text>
<line x1="397" y1="130.8" x2="405" y2="130.8" stroke="#333" stroke-width="1.2"/>
<text x="387.8" y="135.65" font-size="13.5" text-anchor="end" fill="#000">6</text>
<line x1="397" y1="213.2" x2="405" y2="213.2" stroke="#333" stroke-width="1.2"/>
<text x="387.8" y="218" font-size="13.5" text-anchor="end" fill="#000">4</text>
<line x1="397" y1="295.5" x2="405" y2="295.5" stroke="#333" stroke-width="1.2"/>
<text x="387.8" y="300.35" font-size="13.5" text-anchor="end" fill="#000">2</text>
<line x1="397" y1="377.9" x2="405" y2="377.9" stroke="#333" stroke-width="1.2"/>
<text x="387.8" y="382.7" font-size="13.5" text-anchor="end" fill="#000">0</text>
<line x1="445.5" y1="383.5" x2="445.5" y2="392.5" stroke="#333" stroke-width="1.2"/>
<text x="445.5" y="410.6" font-size="13.5" text-anchor="middle" fill="#000">2.0</text>
<line x1="491.5" y1="383.5" x2="491.5" y2="392.5" stroke="#333" stroke-width="1.2"/>
<text x="491.48" y="410.6" font-size="13.5" text-anchor="middle" fill="#000">2.5</text>
<line x1="537.5" y1="383.5" x2="537.5" y2="392.5" stroke="#333" stroke-width="1.2"/>
<text x="537.46" y="410.6" font-size="13.5" text-anchor="middle" fill="#000">3.0</text>
<line x1="583.4" y1="383.5" x2="583.4" y2="392.5" stroke="#333" stroke-width="1.2"/>
<text x="583.44" y="410.6" font-size="13.5" text-anchor="middle" fill="#000">3.5</text>
<line x1="629.4" y1="383.5" x2="629.4" y2="392.5" stroke="#333" stroke-width="1.2"/>
<text x="629.42" y="410.6" font-size="13.5" text-anchor="middle" fill="#000">4.0</text>
<line x1="675.4" y1="383.5" x2="675.4" y2="392.5" stroke="#333" stroke-width="1.2"/>
<text x="675.4" y="410.6" font-size="13.5" text-anchor="middle" fill="#000">4.5</text>
<text x="513.4" y="433" font-size="13.5">R<tspan font-size="9.3" dy="3.6">C-Br</tspan><tspan dy="-3.6"> (&#197;)</tspan></text>
<text transform="translate(367.6,213.3) rotate(-90)" font-size="14" text-anchor="middle">Energy (eV)</text>
<line x1="639" y1="74.8" x2="662.6" y2="74.8" stroke="#f48484" stroke-width="2.7"/>
<text x="613.6" y="74.5" font-size="8.5">3</text>
<text x="618" y="79.1" font-size="11.8">Q</text>
<text x="626.9" y="82.3" font-size="8.5">1</text>
<line x1="639" y1="99.0" x2="662.6" y2="99.0" stroke="#ff0000" stroke-width="2.7"/>
<text x="613.6" y="98.7" font-size="8.5">1</text>
<text x="618" y="103.3" font-size="11.8">Q</text>
<text x="626.9" y="106.5" font-size="8.5">1</text>
<line x1="639" y1="123.2" x2="662.6" y2="123.2" stroke="#0000f5" stroke-width="2.7"/>
<text x="609.8" y="122.9" font-size="8.5">3</text>
<text x="614.2" y="127.5" font-size="11.8">Q</text>
<text x="623.1" y="130.7" font-size="8.5">0</text>
<text x="628" y="128.1" font-size="6.5">+</text>
<line x1="639" y1="147.4" x2="662.6" y2="147.4" stroke="#84acff" stroke-width="2.7"/>
<text x="631.6" y="151.7" font-size="11.8" text-anchor="end" fill="#000">4E</text>
<text x="500.6" y="213.9" font-size="11.5" text-anchor="start" fill="#6a6a6a">Conical intersection</text>
<text x="561.6" y="243.7" font-size="11.5" fill="#2323e8">CH<tspan font-size="8.5" dy="3">3</tspan><tspan dy="-3"> + Br* (P</tspan><tspan font-size="8.5" dy="3">1/2</tspan><tspan dy="-3">)</tspan></text>
<text x="570.2" y="309.7" font-size="11.5" fill="#f01616">CH<tspan font-size="8.5" dy="3">3</tspan><tspan dy="-3"> + Br (P</tspan><tspan font-size="8.5" dy="3">3/2</tspan><tspan dy="-3">)</tspan></text></svg>
</body></html>
